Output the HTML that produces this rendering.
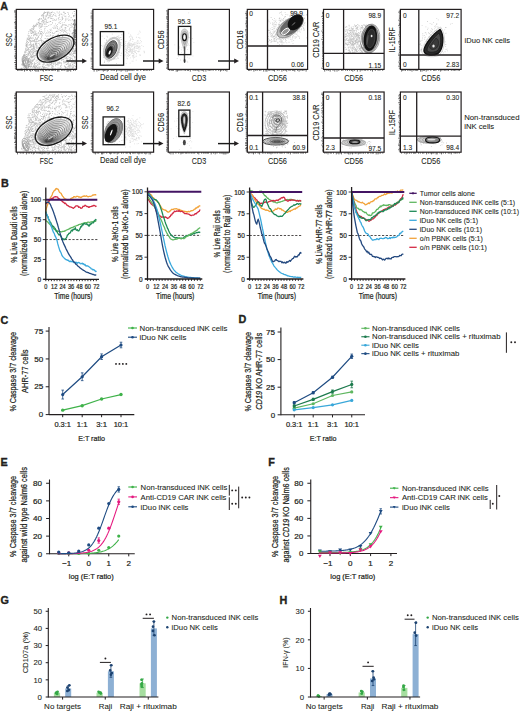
<!DOCTYPE html>
<html><head><meta charset="utf-8"><title>Figure</title>
<style>html,body{margin:0;padding:0;background:#fff;width:520px;height:711px;overflow:hidden}svg{display:block}text{stroke:#231f20;stroke-width:0.08px}text.c{stroke-width:0.22px}text.L{stroke-width:0.35px}</style>
</head><body>
<svg width="520" height="711" viewBox="0 0 520 711" font-family='"Liberation Sans", sans-serif' fill="#231f20"><defs><clipPath id="c00"><rect x="16.8" y="9.9" width="59.2" height="59"/></clipPath><clipPath id="c10"><rect x="16.8" y="92.5" width="59.2" height="59.2"/></clipPath></defs><rect width="520" height="711" fill="#fff"/><text class="L" x="0.3" y="9.8" font-size="10.8" font-weight="bold">A</text>
<path d="M47.33 13.54h0.8v0.8h-0.8zM42.58 58.53h0.8v0.8h-0.8zM30.08 50.18h0.8v0.8h-0.8zM36.27 44.78h0.8v0.8h-0.8zM32.26 44.14h0.8v0.8h-0.8zM68.36 52.98h0.8v0.8h-0.8zM36.25 51.03h0.8v0.8h-0.8zM40.66 61.07h0.8v0.8h-0.8zM65.16 60.65h0.8v0.8h-0.8zM73.08 20h0.8v0.8h-0.8zM46.04 44.98h0.8v0.8h-0.8zM40.74 34.14h0.8v0.8h-0.8zM54.58 14.95h0.8v0.8h-0.8zM53.42 19.87h0.8v0.8h-0.8zM38.17 32.16h0.8v0.8h-0.8zM66.86 68.01h0.8v0.8h-0.8zM45.98 16.3h0.8v0.8h-0.8zM72.7 41.51h0.8v0.8h-0.8zM49.37 12.94h0.8v0.8h-0.8zM33.24 32.3h0.8v0.8h-0.8zM65.11 53.57h0.8v0.8h-0.8zM47.91 31.67h0.8v0.8h-0.8zM72.93 32.18h0.8v0.8h-0.8zM59.76 21.09h0.8v0.8h-0.8zM26.95 62.98h0.8v0.8h-0.8zM35.06 25.11h0.8v0.8h-0.8zM33.14 35.28h0.8v0.8h-0.8zM51.67 62.94h0.8v0.8h-0.8zM48.24 12.47h0.8v0.8h-0.8zM59.78 43.12h0.8v0.8h-0.8zM72.25 59.28h0.8v0.8h-0.8zM63.14 62.53h0.8v0.8h-0.8zM59.26 49.03h0.8v0.8h-0.8zM68.8 66.55h0.8v0.8h-0.8zM74.92 58.85h0.8v0.8h-0.8zM42.98 40.79h0.8v0.8h-0.8zM29.5 29.56h0.8v0.8h-0.8zM43.49 12.43h0.8v0.8h-0.8zM53.99 40.6h0.8v0.8h-0.8zM57.67 35.64h0.8v0.8h-0.8zM23.09 60.21h0.8v0.8h-0.8zM49.94 64.22h0.8v0.8h-0.8zM29.84 29.18h0.8v0.8h-0.8zM28.48 31.18h0.8v0.8h-0.8zM60.23 42.81h0.8v0.8h-0.8zM45.46 64.67h0.8v0.8h-0.8zM57.64 67.4h0.8v0.8h-0.8zM41.45 31.21h0.8v0.8h-0.8zM60.68 25.97h0.8v0.8h-0.8zM23.13 59.35h0.8v0.8h-0.8zM56.66 27.47h0.8v0.8h-0.8zM35.06 37.59h0.8v0.8h-0.8zM73.93 42.58h0.8v0.8h-0.8zM45.45 40.06h0.8v0.8h-0.8zM47.17 11.68h0.8v0.8h-0.8zM35.7 24.67h0.8v0.8h-0.8zM59.25 61.51h0.8v0.8h-0.8zM36.95 67.53h0.8v0.8h-0.8zM59.72 48.06h0.8v0.8h-0.8zM60.28 57.7h0.8v0.8h-0.8zM24.3 59.04h0.8v0.8h-0.8zM33.49 52.97h0.8v0.8h-0.8zM60.62 67.02h0.8v0.8h-0.8zM32.83 53.76h0.8v0.8h-0.8zM50.78 12.11h0.8v0.8h-0.8zM44.88 37.98h0.8v0.8h-0.8zM65.2 66.58h0.8v0.8h-0.8zM25.89 58.15h0.8v0.8h-0.8zM69.03 51.49h0.8v0.8h-0.8zM69.65 39.11h0.8v0.8h-0.8zM44.08 28.61h0.8v0.8h-0.8zM59.08 62.79h0.8v0.8h-0.8zM24.12 58.98h0.8v0.8h-0.8zM47.53 22.22h0.8v0.8h-0.8zM49.72 52.42h0.8v0.8h-0.8zM55.16 27.71h0.8v0.8h-0.8zM35.51 43.17h0.8v0.8h-0.8zM30.19 63.04h0.8v0.8h-0.8zM44.04 19.36h0.8v0.8h-0.8zM54.31 60.58h0.8v0.8h-0.8zM33.8 25.56h0.8v0.8h-0.8zM68.23 12.64h0.8v0.8h-0.8zM58.88 62.45h0.8v0.8h-0.8zM51.89 11.41h0.8v0.8h-0.8zM73.91 25.56h0.8v0.8h-0.8zM27.13 41.17h0.8v0.8h-0.8zM31.6 63.84h0.8v0.8h-0.8zM32.7 47.67h0.8v0.8h-0.8zM48.3 44.62h0.8v0.8h-0.8zM31.09 45.66h0.8v0.8h-0.8zM55.17 61.78h0.8v0.8h-0.8zM73.25 51.57h0.8v0.8h-0.8zM56.88 35.34h0.8v0.8h-0.8zM56.47 64.13h0.8v0.8h-0.8zM42.36 50.31h0.8v0.8h-0.8zM30.04 66.68h0.8v0.8h-0.8zM65.2 24.56h0.8v0.8h-0.8zM46.66 22.08h0.8v0.8h-0.8zM30.48 66.92h0.8v0.8h-0.8zM39.96 32.71h0.8v0.8h-0.8zM25.38 66.36h0.8v0.8h-0.8zM43.04 14.21h0.8v0.8h-0.8zM39.62 63.81h0.8v0.8h-0.8zM39.14 62.53h0.8v0.8h-0.8zM21.88 63.84h0.8v0.8h-0.8zM61.04 62.62h0.8v0.8h-0.8zM33.88 65.99h0.8v0.8h-0.8zM33.3 52.25h0.8v0.8h-0.8zM72.25 12.78h0.8v0.8h-0.8zM40.41 25.71h0.8v0.8h-0.8zM46.53 64.3h0.8v0.8h-0.8zM62.5 46.01h0.8v0.8h-0.8zM61.37 25.5h0.8v0.8h-0.8zM74.8 26.5h0.8v0.8h-0.8zM58.9 36.88h0.8v0.8h-0.8zM25.23 59.33h0.8v0.8h-0.8zM68.87 44.36h0.8v0.8h-0.8zM40.96 67.97h0.8v0.8h-0.8zM31.53 57.48h0.8v0.8h-0.8zM39.59 60.77h0.8v0.8h-0.8zM32.88 45.57h0.8v0.8h-0.8zM37.02 50.06h0.8v0.8h-0.8zM49.65 15.01h0.8v0.8h-0.8zM58.08 34.76h0.8v0.8h-0.8zM35.89 65.73h0.8v0.8h-0.8zM67.73 68.21h0.8v0.8h-0.8zM29.58 52.9h0.8v0.8h-0.8zM42.54 58.16h0.8v0.8h-0.8zM68.8 37.67h0.8v0.8h-0.8zM54.95 63.26h0.8v0.8h-0.8zM48.11 64.15h0.8v0.8h-0.8zM72.24 67.01h0.8v0.8h-0.8zM21.35 64.19h0.8v0.8h-0.8zM27.47 56.19h0.8v0.8h-0.8zM41.17 40.92h0.8v0.8h-0.8zM59.76 62.55h0.8v0.8h-0.8zM50.47 54.58h0.8v0.8h-0.8zM49.76 47.14h0.8v0.8h-0.8zM42.33 44.61h0.8v0.8h-0.8zM62.91 37.52h0.8v0.8h-0.8zM45.37 17.5h0.8v0.8h-0.8zM42.93 16.63h0.8v0.8h-0.8zM62.78 40.55h0.8v0.8h-0.8zM60.18 57.85h0.8v0.8h-0.8zM34.03 57.89h0.8v0.8h-0.8zM47.03 63.83h0.8v0.8h-0.8zM33.34 40.24h0.8v0.8h-0.8zM27.52 64.78h0.8v0.8h-0.8zM24.28 68h0.8v0.8h-0.8zM40.85 56.87h0.8v0.8h-0.8zM74.96 44.31h0.8v0.8h-0.8zM62.04 36.61h0.8v0.8h-0.8zM51.81 49.23h0.8v0.8h-0.8zM26.84 46.51h0.8v0.8h-0.8zM47.63 62.45h0.8v0.8h-0.8zM31.3 48.63h0.8v0.8h-0.8zM31.13 44.66h0.8v0.8h-0.8zM29.98 46.96h0.8v0.8h-0.8zM26.01 64.79h0.8v0.8h-0.8zM41.29 26.46h0.8v0.8h-0.8zM55.19 43.45h0.8v0.8h-0.8zM41.52 24.95h0.8v0.8h-0.8zM72.12 19.51h0.8v0.8h-0.8zM44.18 24.28h0.8v0.8h-0.8zM66.65 51.97h0.8v0.8h-0.8zM58.2 60.28h0.8v0.8h-0.8zM59.75 43.91h0.8v0.8h-0.8zM30.42 46.89h0.8v0.8h-0.8zM70.4 19.64h0.8v0.8h-0.8zM24.4 64.35h0.8v0.8h-0.8zM70.6 65.23h0.8v0.8h-0.8zM54.42 27.78h0.8v0.8h-0.8zM23.9 54.57h0.8v0.8h-0.8zM36.55 35.55h0.8v0.8h-0.8zM43.26 55.46h0.8v0.8h-0.8zM58.61 42.06h0.8v0.8h-0.8zM46.41 56.82h0.8v0.8h-0.8zM33.2 65.2h0.8v0.8h-0.8zM30.58 51.27h0.8v0.8h-0.8zM22.93 56.31h0.8v0.8h-0.8zM63.31 47.19h0.8v0.8h-0.8zM23.23 62.04h0.8v0.8h-0.8zM27.18 59.46h0.8v0.8h-0.8zM62.54 44.41h0.8v0.8h-0.8zM44.73 61.85h0.8v0.8h-0.8zM58.52 59.49h0.8v0.8h-0.8zM36.98 41.16h0.8v0.8h-0.8zM26.41 45.81h0.8v0.8h-0.8zM60.68 63.16h0.8v0.8h-0.8zM51.13 54.1h0.8v0.8h-0.8zM36.2 47.21h0.8v0.8h-0.8zM44.34 46.83h0.8v0.8h-0.8zM56.92 64.42h0.8v0.8h-0.8zM55.74 55.76h0.8v0.8h-0.8zM46.32 66.95h0.8v0.8h-0.8zM72.1 41h0.8v0.8h-0.8zM30.32 50.41h0.8v0.8h-0.8zM33.99 34.18h0.8v0.8h-0.8zM38.44 26.51h0.8v0.8h-0.8zM60.71 64.98h0.8v0.8h-0.8zM30.82 57.08h0.8v0.8h-0.8zM45.14 43.44h0.8v0.8h-0.8zM65.13 57.92h0.8v0.8h-0.8zM35.14 42.65h0.8v0.8h-0.8zM33.6 32.84h0.8v0.8h-0.8zM42.67 22h0.8v0.8h-0.8zM59.59 27.43h0.8v0.8h-0.8zM35.56 38.73h0.8v0.8h-0.8zM54.75 48.98h0.8v0.8h-0.8zM71.42 60.1h0.8v0.8h-0.8zM26.33 58.79h0.8v0.8h-0.8zM72.74 48.79h0.8v0.8h-0.8zM31.66 55.65h0.8v0.8h-0.8zM27.03 62.93h0.8v0.8h-0.8zM27.9 62.19h0.8v0.8h-0.8zM63.38 59.21h0.8v0.8h-0.8zM43.39 61.71h0.8v0.8h-0.8zM33.43 24.75h0.8v0.8h-0.8zM46.5 14.73h0.8v0.8h-0.8zM26.56 39.41h0.8v0.8h-0.8zM49.16 60.58h0.8v0.8h-0.8zM56.36 59.31h0.8v0.8h-0.8zM42.26 66.15h0.8v0.8h-0.8zM54.74 47.66h0.8v0.8h-0.8zM37.2 67.36h0.8v0.8h-0.8zM46.02 62.56h0.8v0.8h-0.8zM59.38 47.04h0.8v0.8h-0.8zM48.36 55.32h0.8v0.8h-0.8zM41.39 40.11h0.8v0.8h-0.8zM68.96 42.49h0.8v0.8h-0.8zM29.16 63.92h0.8v0.8h-0.8zM30.46 49.42h0.8v0.8h-0.8zM61.92 17.18h0.8v0.8h-0.8zM70.59 48.78h0.8v0.8h-0.8zM33.06 28.62h0.8v0.8h-0.8zM43.84 12.21h0.8v0.8h-0.8zM45.5 34.91h0.8v0.8h-0.8zM55.17 23.5h0.8v0.8h-0.8zM23.34 60.96h0.8v0.8h-0.8zM32.16 53.21h0.8v0.8h-0.8zM32.83 66.37h0.8v0.8h-0.8zM55.52 57.99h0.8v0.8h-0.8zM36.09 52.98h0.8v0.8h-0.8zM67.55 39.12h0.8v0.8h-0.8zM39.32 44.17h0.8v0.8h-0.8zM65.85 45.66h0.8v0.8h-0.8zM42.81 62.02h0.8v0.8h-0.8zM64.49 27.55h0.8v0.8h-0.8zM33.35 35.48h0.8v0.8h-0.8zM64.97 61.98h0.8v0.8h-0.8zM49.97 56.85h0.8v0.8h-0.8zM61.21 64.51h0.8v0.8h-0.8zM61.26 56.52h0.8v0.8h-0.8zM23.32 57.37h0.8v0.8h-0.8zM52.01 22.18h0.8v0.8h-0.8zM28.64 51.36h0.8v0.8h-0.8zM75.34 32.72h0.8v0.8h-0.8zM54.49 56.28h0.8v0.8h-0.8zM74.95 60.77h0.8v0.8h-0.8zM65.14 66.32h0.8v0.8h-0.8zM33.01 43.58h0.8v0.8h-0.8zM73.01 49.57h0.8v0.8h-0.8zM75.03 24.04h0.8v0.8h-0.8zM70.04 59.12h0.8v0.8h-0.8zM74.67 14.58h0.8v0.8h-0.8zM45.83 21.01h0.8v0.8h-0.8zM26.49 50.03h0.8v0.8h-0.8zM59.33 22.52h0.8v0.8h-0.8zM67.88 62.06h0.8v0.8h-0.8zM37.74 58.31h0.8v0.8h-0.8zM54.23 19.54h0.8v0.8h-0.8zM33.54 34.87h0.8v0.8h-0.8zM33.81 59.26h0.8v0.8h-0.8zM27.9 39.39h0.8v0.8h-0.8zM34.67 26.09h0.8v0.8h-0.8zM35.09 67.18h0.8v0.8h-0.8zM64.46 30.83h0.8v0.8h-0.8zM62.37 51.96h0.8v0.8h-0.8zM53.11 39.64h0.8v0.8h-0.8zM30.09 46.31h0.8v0.8h-0.8zM64.72 44.63h0.8v0.8h-0.8zM41.64 52.53h0.8v0.8h-0.8zM67.75 39.5h0.8v0.8h-0.8zM65.87 32.32h0.8v0.8h-0.8zM39.53 45.31h0.8v0.8h-0.8zM25.21 52.13h0.8v0.8h-0.8zM40.12 54.23h0.8v0.8h-0.8zM68.22 65.78h0.8v0.8h-0.8zM65.04 13.11h0.8v0.8h-0.8zM58.28 22.52h0.8v0.8h-0.8zM59.32 13.97h0.8v0.8h-0.8zM46.53 39.94h0.8v0.8h-0.8zM26.13 45.13h0.8v0.8h-0.8zM26.72 44.05h0.8v0.8h-0.8zM62.74 30.7h0.8v0.8h-0.8zM73.09 64.66h0.8v0.8h-0.8zM42.45 47.46h0.8v0.8h-0.8zM48.66 15.35h0.8v0.8h-0.8zM47.17 12.59h0.8v0.8h-0.8zM33.5 50.07h0.8v0.8h-0.8zM32.63 41.06h0.8v0.8h-0.8zM72.99 40.69h0.8v0.8h-0.8zM44.98 41.83h0.8v0.8h-0.8zM35.09 34.57h0.8v0.8h-0.8zM50.91 48.47h0.8v0.8h-0.8zM53.35 38.13h0.8v0.8h-0.8zM35.2 55.41h0.8v0.8h-0.8zM22.12 61.06h0.8v0.8h-0.8zM43.46 53.32h0.8v0.8h-0.8zM31.18 66.08h0.8v0.8h-0.8zM66.92 58.21h0.8v0.8h-0.8zM68.22 46.02h0.8v0.8h-0.8zM35.05 33.67h0.8v0.8h-0.8zM26.59 44.2h0.8v0.8h-0.8zM23.33 63.85h0.8v0.8h-0.8zM48.34 17.04h0.8v0.8h-0.8zM68.63 66.37h0.8v0.8h-0.8zM74.27 58.48h0.8v0.8h-0.8zM24.62 62.39h0.8v0.8h-0.8zM42.37 20.31h0.8v0.8h-0.8zM47.56 40.18h0.8v0.8h-0.8zM28.73 47.32h0.8v0.8h-0.8zM38.5 68.04h0.8v0.8h-0.8zM29.55 39.78h0.8v0.8h-0.8zM33.52 48.27h0.8v0.8h-0.8zM61.74 17.48h0.8v0.8h-0.8zM53.36 57.38h0.8v0.8h-0.8zM36.77 52.18h0.8v0.8h-0.8zM23.99 62.92h0.8v0.8h-0.8zM38.26 37.04h0.8v0.8h-0.8zM51.63 66.1h0.8v0.8h-0.8zM53.77 25.61h0.8v0.8h-0.8zM71.54 60.12h0.8v0.8h-0.8zM69.72 57.91h0.8v0.8h-0.8zM52.77 66.12h0.8v0.8h-0.8zM34.93 43.41h0.8v0.8h-0.8zM65.54 31.42h0.8v0.8h-0.8zM56.3 30.86h0.8v0.8h-0.8zM66.14 57.28h0.8v0.8h-0.8zM38.49 52.58h0.8v0.8h-0.8zM25.79 51.67h0.8v0.8h-0.8zM69.76 44.89h0.8v0.8h-0.8zM32.39 46.07h0.8v0.8h-0.8zM36.08 33.63h0.8v0.8h-0.8zM28.43 59.91h0.8v0.8h-0.8zM38.98 39.92h0.8v0.8h-0.8zM56 51.26h0.8v0.8h-0.8zM35.64 33.1h0.8v0.8h-0.8zM36.08 47.78h0.8v0.8h-0.8zM66.02 55.66h0.8v0.8h-0.8zM53.04 14.1h0.8v0.8h-0.8zM24.66 56.51h0.8v0.8h-0.8zM70.61 54.12h0.8v0.8h-0.8zM65.7 27.43h0.8v0.8h-0.8zM54.23 37.21h0.8v0.8h-0.8zM38.77 34.86h0.8v0.8h-0.8zM58.74 49.61h0.8v0.8h-0.8zM32.13 40.78h0.8v0.8h-0.8zM37.38 57.88h0.8v0.8h-0.8zM38.92 23.17h0.8v0.8h-0.8zM58.43 36.94h0.8v0.8h-0.8zM36.86 38.11h0.8v0.8h-0.8zM74.37 43.53h0.8v0.8h-0.8zM46.26 36.15h0.8v0.8h-0.8zM55.63 25.73h0.8v0.8h-0.8zM62.6 59.26h0.8v0.8h-0.8zM65.8 53.71h0.8v0.8h-0.8zM28.86 58.44h0.8v0.8h-0.8zM39.38 42.81h0.8v0.8h-0.8zM65.86 25.04h0.8v0.8h-0.8zM46.58 39.87h0.8v0.8h-0.8zM35.44 44.52h0.8v0.8h-0.8zM73.77 16.51h0.8v0.8h-0.8zM67.22 56.25h0.8v0.8h-0.8zM34.5 49.11h0.8v0.8h-0.8zM43.65 43.51h0.8v0.8h-0.8zM57.12 36.9h0.8v0.8h-0.8zM40.97 17.91h0.8v0.8h-0.8zM69.21 42.64h0.8v0.8h-0.8zM67.62 25.85h0.8v0.8h-0.8zM51.96 15.97h0.8v0.8h-0.8zM50.51 55.57h0.8v0.8h-0.8zM62.7 14.68h0.8v0.8h-0.8zM53.83 61.11h0.8v0.8h-0.8zM70.78 61.03h0.8v0.8h-0.8zM57.23 58.46h0.8v0.8h-0.8zM56.92 25.91h0.8v0.8h-0.8zM24.62 57.04h0.8v0.8h-0.8zM64.09 13.42h0.8v0.8h-0.8zM65.11 50.13h0.8v0.8h-0.8zM30.67 62.36h0.8v0.8h-0.8zM40.49 31.56h0.8v0.8h-0.8zM51.43 30.43h0.8v0.8h-0.8zM44.58 67.62h0.8v0.8h-0.8zM26.64 49.65h0.8v0.8h-0.8zM33.93 39.9h0.8v0.8h-0.8zM54.51 47.57h0.8v0.8h-0.8zM71.99 50.24h0.8v0.8h-0.8zM41.52 14.85h0.8v0.8h-0.8zM36.79 67.74h0.8v0.8h-0.8zM39.31 25.28h0.8v0.8h-0.8zM38.28 19.13h0.8v0.8h-0.8zM50.83 28.64h0.8v0.8h-0.8zM35.95 52.82h0.8v0.8h-0.8zM51.67 15.96h0.8v0.8h-0.8zM51.5 67.69h0.8v0.8h-0.8zM33.63 51.55h0.8v0.8h-0.8zM67.72 48.34h0.8v0.8h-0.8zM60.28 66.3h0.8v0.8h-0.8zM22.84 57.54h0.8v0.8h-0.8zM37.81 19.19h0.8v0.8h-0.8zM61.16 48.39h0.8v0.8h-0.8zM57.14 30.65h0.8v0.8h-0.8zM42 13.99h0.8v0.8h-0.8zM33 37.81h0.8v0.8h-0.8zM59.72 30.16h0.8v0.8h-0.8zM37.22 53.64h0.8v0.8h-0.8zM72.12 18.92h0.8v0.8h-0.8zM39.03 67.8h0.8v0.8h-0.8zM61.58 16.52h0.8v0.8h-0.8zM47.01 43.05h0.8v0.8h-0.8zM72.05 32.24h0.8v0.8h-0.8zM46.84 47.66h0.8v0.8h-0.8zM64.09 37.63h0.8v0.8h-0.8zM41.29 60.65h0.8v0.8h-0.8zM72.35 47.15h0.8v0.8h-0.8zM32.71 26.35h0.8v0.8h-0.8zM61.72 48.03h0.8v0.8h-0.8zM27.26 60.59h0.8v0.8h-0.8zM34.46 30.3h0.8v0.8h-0.8zM24.68 66.94h0.8v0.8h-0.8zM74.34 13.28h0.8v0.8h-0.8zM63.61 50.7h0.8v0.8h-0.8zM28.54 50.47h0.8v0.8h-0.8zM60.53 39.94h0.8v0.8h-0.8zM68.82 53.09h0.8v0.8h-0.8zM68.3 52.31h0.8v0.8h-0.8zM40.44 33.37h0.8v0.8h-0.8zM26.48 68.31h0.8v0.8h-0.8zM53.07 64.2h0.8v0.8h-0.8zM53.24 32.89h0.8v0.8h-0.8zM36.85 48.23h0.8v0.8h-0.8zM36.35 66.78h0.8v0.8h-0.8zM60.98 60.05h0.8v0.8h-0.8zM52.18 68.1h0.8v0.8h-0.8zM54.31 53.77h0.8v0.8h-0.8zM53.35 50h0.8v0.8h-0.8zM54.27 42.35h0.8v0.8h-0.8zM45.56 24.01h0.8v0.8h-0.8zM48.47 57.76h0.8v0.8h-0.8zM28.16 58.25h0.8v0.8h-0.8zM65.9 58.01h0.8v0.8h-0.8zM75.33 51.02h0.8v0.8h-0.8zM26.87 50.17h0.8v0.8h-0.8zM37.75 33.12h0.8v0.8h-0.8zM29.79 43.92h0.8v0.8h-0.8zM28.51 52.34h0.8v0.8h-0.8zM63.62 46.62h0.8v0.8h-0.8zM39.3 52.01h0.8v0.8h-0.8zM62.34 18.13h0.8v0.8h-0.8zM22.71 58h0.8v0.8h-0.8zM23.35 54.34h0.8v0.8h-0.8zM58.97 38.92h0.8v0.8h-0.8zM34.01 26.35h0.8v0.8h-0.8zM32.89 60.36h0.8v0.8h-0.8zM47.53 35.35h0.8v0.8h-0.8zM67.3 26.05h0.8v0.8h-0.8zM29.76 63.8h0.8v0.8h-0.8zM43.75 61.45h0.8v0.8h-0.8zM43.11 47.84h0.8v0.8h-0.8zM28.61 63.98h0.8v0.8h-0.8zM56.91 28.21h0.8v0.8h-0.8zM23.75 56.1h0.8v0.8h-0.8zM42.02 48.96h0.8v0.8h-0.8zM70.12 50.5h0.8v0.8h-0.8zM35.1 24.66h0.8v0.8h-0.8zM36.53 43.35h0.8v0.8h-0.8zM40.03 47.92h0.8v0.8h-0.8zM49.52 16.73h0.8v0.8h-0.8zM24.84 58.62h0.8v0.8h-0.8zM31.29 64.1h0.8v0.8h-0.8zM52.55 66.54h0.8v0.8h-0.8zM72.32 48.82h0.8v0.8h-0.8zM37.36 37.03h0.8v0.8h-0.8zM25.85 44.35h0.8v0.8h-0.8zM39.73 49.2h0.8v0.8h-0.8zM28.01 65.07h0.8v0.8h-0.8zM66.48 61.19h0.8v0.8h-0.8zM27.68 41.92h0.8v0.8h-0.8zM39.29 22.67h0.8v0.8h-0.8zM32.02 61.08h0.8v0.8h-0.8zM58.96 14.94h0.8v0.8h-0.8zM52.57 67.43h0.8v0.8h-0.8zM37.87 57.6h0.8v0.8h-0.8zM41.86 34.6h0.8v0.8h-0.8zM32.3 53.22h0.8v0.8h-0.8zM75.35 56.52h0.8v0.8h-0.8zM61.28 47.67h0.8v0.8h-0.8zM56.78 53.9h0.8v0.8h-0.8zM63.17 61.04h0.8v0.8h-0.8zM24.93 66.6h0.8v0.8h-0.8zM32.71 59.19h0.8v0.8h-0.8zM29.63 37.5h0.8v0.8h-0.8zM65.53 34.56h0.8v0.8h-0.8zM55.62 59.07h0.8v0.8h-0.8zM44.47 30.52h0.8v0.8h-0.8zM33.8 51.37h0.8v0.8h-0.8zM56.11 57.41h0.8v0.8h-0.8zM73.08 32.06h0.8v0.8h-0.8zM47.29 67.75h0.8v0.8h-0.8zM32.65 31.48h0.8v0.8h-0.8zM49.91 60.55h0.8v0.8h-0.8zM43.7 66h0.8v0.8h-0.8zM56.12 47.42h0.8v0.8h-0.8zM26.14 65.72h0.8v0.8h-0.8zM26.57 44.89h0.8v0.8h-0.8zM61.05 47.97h0.8v0.8h-0.8zM64.34 49.96h0.8v0.8h-0.8zM38.16 19.37h0.8v0.8h-0.8zM43.37 17.58h0.8v0.8h-0.8zM54.74 55.78h0.8v0.8h-0.8zM27 54.55h0.8v0.8h-0.8zM33.16 55.37h0.8v0.8h-0.8zM65.58 43.69h0.8v0.8h-0.8zM72.06 26.53h0.8v0.8h-0.8zM61.41 50.05h0.8v0.8h-0.8zM57.88 55.55h0.8v0.8h-0.8zM72.09 53.72h0.8v0.8h-0.8zM40.76 57.33h0.8v0.8h-0.8zM28.92 61.08h0.8v0.8h-0.8zM55.41 61.48h0.8v0.8h-0.8zM52.81 58.38h0.8v0.8h-0.8zM74.06 57.12h0.8v0.8h-0.8zM54.29 19.31h0.8v0.8h-0.8zM50.04 57.42h0.8v0.8h-0.8zM65.63 17.7h0.8v0.8h-0.8zM30.25 59.25h0.8v0.8h-0.8zM42.55 14.99h0.8v0.8h-0.8zM59.74 44.74h0.8v0.8h-0.8zM47.59 44.96h0.8v0.8h-0.8zM57.35 51.78h0.8v0.8h-0.8zM37.84 22.23h0.8v0.8h-0.8zM29.61 51.51h0.8v0.8h-0.8zM59.6 47.32h0.8v0.8h-0.8zM38.63 20.73h0.8v0.8h-0.8zM75.01 28.83h0.8v0.8h-0.8zM64.32 37.34h0.8v0.8h-0.8zM70.45 56.7h0.8v0.8h-0.8zM65.31 18.71h0.8v0.8h-0.8zM50.53 40.35h0.8v0.8h-0.8zM30.54 44.76h0.8v0.8h-0.8zM63.26 37.83h0.8v0.8h-0.8zM69.15 41.85h0.8v0.8h-0.8zM46.02 47.85h0.8v0.8h-0.8zM32.22 63.03h0.8v0.8h-0.8zM58.74 36.46h0.8v0.8h-0.8zM32.02 48.42h0.8v0.8h-0.8zM52.57 14.98h0.8v0.8h-0.8zM60.72 13.58h0.8v0.8h-0.8zM74.14 57.16h0.8v0.8h-0.8zM24.24 66.87h0.8v0.8h-0.8zM28.99 57.4h0.8v0.8h-0.8zM69.19 63.63h0.8v0.8h-0.8zM64.03 15.82h0.8v0.8h-0.8zM64.72 37.51h0.8v0.8h-0.8zM24.61 67.06h0.8v0.8h-0.8zM35.62 54.86h0.8v0.8h-0.8zM24.8 50.87h0.8v0.8h-0.8zM66.19 52.25h0.8v0.8h-0.8zM57.25 59.85h0.8v0.8h-0.8zM43.57 51.67h0.8v0.8h-0.8zM35.49 31.26h0.8v0.8h-0.8zM61.35 27.03h0.8v0.8h-0.8zM24.3 58.45h0.8v0.8h-0.8zM73.64 16.51h0.8v0.8h-0.8zM34.74 63.07h0.8v0.8h-0.8zM28.38 36.37h0.8v0.8h-0.8zM32.51 26.06h0.8v0.8h-0.8zM38.98 19.51h0.8v0.8h-0.8zM33.94 55.26h0.8v0.8h-0.8zM41.69 50.7h0.8v0.8h-0.8zM37.88 58.84h0.8v0.8h-0.8zM64.22 49.63h0.8v0.8h-0.8zM51.88 49.09h0.8v0.8h-0.8zM50.88 24.13h0.8v0.8h-0.8zM25.74 66.3h0.8v0.8h-0.8zM32.69 32.28h0.8v0.8h-0.8zM62.05 24.17h0.8v0.8h-0.8zM30.83 33.3h0.8v0.8h-0.8zM66.14 24.78h0.8v0.8h-0.8zM43.37 18h0.8v0.8h-0.8zM59 16.74h0.8v0.8h-0.8zM45.73 21.31h0.8v0.8h-0.8zM43.48 18.14h0.8v0.8h-0.8zM50.03 15.48h0.8v0.8h-0.8zM73.35 60.3h0.8v0.8h-0.8zM72.28 41.32h0.8v0.8h-0.8zM28.06 60.69h0.8v0.8h-0.8zM36.48 23.1h0.8v0.8h-0.8zM45.85 21.66h0.8v0.8h-0.8zM55.65 40.74h0.8v0.8h-0.8zM31.69 39.84h0.8v0.8h-0.8zM39.33 62.86h0.8v0.8h-0.8zM41.29 50.11h0.8v0.8h-0.8zM47.57 65.45h0.8v0.8h-0.8zM75.03 46.81h0.8v0.8h-0.8zM36.71 34.6h0.8v0.8h-0.8zM27.57 58.6h0.8v0.8h-0.8zM50.44 51.97h0.8v0.8h-0.8zM73.23 19.9h0.8v0.8h-0.8zM27.88 44.78h0.8v0.8h-0.8zM67.5 65.95h0.8v0.8h-0.8zM72.18 34.64h0.8v0.8h-0.8zM70.63 17.33h0.8v0.8h-0.8zM47.63 18.05h0.8v0.8h-0.8zM69.71 66.26h0.8v0.8h-0.8zM22.65 62.56h0.8v0.8h-0.8zM28.68 50.85h0.8v0.8h-0.8zM31.83 32.28h0.8v0.8h-0.8zM28.61 66.03h0.8v0.8h-0.8zM41.53 35.38h0.8v0.8h-0.8zM51.61 65.12h0.8v0.8h-0.8zM38.64 51.55h0.8v0.8h-0.8zM28.33 38.86h0.8v0.8h-0.8zM51.98 22.7h0.8v0.8h-0.8zM48.89 52.76h0.8v0.8h-0.8zM28.21 51.07h0.8v0.8h-0.8zM58.97 67.67h0.8v0.8h-0.8zM24.83 64.67h0.8v0.8h-0.8zM45.69 26.14h0.8v0.8h-0.8zM29.08 64.35h0.8v0.8h-0.8zM29.24 51.74h0.8v0.8h-0.8zM63.56 24.58h0.8v0.8h-0.8zM56.25 43.61h0.8v0.8h-0.8zM29.32 44.6h0.8v0.8h-0.8zM30.94 27.98h0.8v0.8h-0.8zM30.01 29.13h0.8v0.8h-0.8zM68.48 37.72h0.8v0.8h-0.8zM48.57 55.6h0.8v0.8h-0.8zM30.99 29.54h0.8v0.8h-0.8zM59.05 55.31h0.8v0.8h-0.8zM54.73 27.28h0.8v0.8h-0.8zM74.42 63.25h0.8v0.8h-0.8zM44.95 46.7h0.8v0.8h-0.8zM62.39 36.33h0.8v0.8h-0.8zM62.23 19.1h0.8v0.8h-0.8zM48.72 58.89h0.8v0.8h-0.8zM28.23 55h0.8v0.8h-0.8zM32.19 66.79h0.8v0.8h-0.8zM59.26 53.24h0.8v0.8h-0.8zM29.38 66.02h0.8v0.8h-0.8zM64.83 30.71h0.8v0.8h-0.8zM26.8 60.11h0.8v0.8h-0.8zM28.18 53.85h0.8v0.8h-0.8zM67.67 44.17h0.8v0.8h-0.8zM39.73 31.51h0.8v0.8h-0.8zM69.05 54.47h0.8v0.8h-0.8zM32.78 48.79h0.8v0.8h-0.8zM37.54 58.17h0.8v0.8h-0.8zM26.26 64.88h0.8v0.8h-0.8zM57.02 48.59h0.8v0.8h-0.8zM63.86 24.34h0.8v0.8h-0.8zM29.65 37.74h0.8v0.8h-0.8zM64.2 65.78h0.8v0.8h-0.8zM54.47 62.4h0.8v0.8h-0.8zM69.76 53.22h0.8v0.8h-0.8zM68.29 44.08h0.8v0.8h-0.8zM51.9 58.67h0.8v0.8h-0.8zM25.44 63.52h0.8v0.8h-0.8zM42.86 16.66h0.8v0.8h-0.8zM65.23 56.37h0.8v0.8h-0.8zM37.12 53.14h0.8v0.8h-0.8zM50.39 56.73h0.8v0.8h-0.8zM33.12 27.13h0.8v0.8h-0.8zM47.66 38.09h0.8v0.8h-0.8zM59.31 54.06h0.8v0.8h-0.8zM32.92 40.85h0.8v0.8h-0.8zM52.79 62.94h0.8v0.8h-0.8zM59.03 51.9h0.8v0.8h-0.8zM66.25 64.13h0.8v0.8h-0.8zM72.3 36.63h0.8v0.8h-0.8zM54.83 68.26h0.8v0.8h-0.8zM62.15 25.37h0.8v0.8h-0.8zM27.52 34.78h0.8v0.8h-0.8zM43.46 66.86h0.8v0.8h-0.8zM72.34 38.27h0.8v0.8h-0.8zM52.16 19.65h0.8v0.8h-0.8zM60.34 65.51h0.8v0.8h-0.8zM52.05 50h0.8v0.8h-0.8zM69.64 57.03h0.8v0.8h-0.8zM36.79 38.74h0.8v0.8h-0.8zM39.09 62.42h0.8v0.8h-0.8zM53.14 56.2h0.8v0.8h-0.8zM39.49 33.5h0.8v0.8h-0.8zM70.52 42.12h0.8v0.8h-0.8zM37.31 58.22h0.8v0.8h-0.8zM57.77 12.64h0.8v0.8h-0.8zM23.42 64.13h0.8v0.8h-0.8zM58.81 47.32h0.8v0.8h-0.8zM38.93 67.2h0.8v0.8h-0.8zM40.66 25.84h0.8v0.8h-0.8zM68.71 45.66h0.8v0.8h-0.8zM70.63 43.37h0.8v0.8h-0.8zM28.31 33.25h0.8v0.8h-0.8zM63.26 40.75h0.8v0.8h-0.8zM50.9 52.92h0.8v0.8h-0.8zM33.3 46.22h0.8v0.8h-0.8zM67.36 39.26h0.8v0.8h-0.8zM51.09 63.11h0.8v0.8h-0.8zM42.74 64.6h0.8v0.8h-0.8zM24.8 61.06h0.8v0.8h-0.8zM72.24 68.28h0.8v0.8h-0.8zM44.4 60.62h0.8v0.8h-0.8zM72.64 38.35h0.8v0.8h-0.8zM21.36 67.73h0.8v0.8h-0.8zM23.27 59.93h0.8v0.8h-0.8zM37.93 64.57h0.8v0.8h-0.8zM26.12 57.84h0.8v0.8h-0.8zM28.94 39.91h0.8v0.8h-0.8zM27.67 64.4h0.8v0.8h-0.8zM30.95 63.07h0.8v0.8h-0.8zM48.79 60.13h0.8v0.8h-0.8zM23.92 63.48h0.8v0.8h-0.8zM57.31 53.85h0.8v0.8h-0.8zM50 34.49h0.8v0.8h-0.8zM27.57 61.91h0.8v0.8h-0.8zM73.2 67.35h0.8v0.8h-0.8zM51.61 66.51h0.8v0.8h-0.8zM49.62 29.29h0.8v0.8h-0.8zM34.56 47.28h0.8v0.8h-0.8zM72.54 50.47h0.8v0.8h-0.8zM67.64 49.58h0.8v0.8h-0.8zM32.27 66.85h0.8v0.8h-0.8zM30.07 40.33h0.8v0.8h-0.8zM59.09 11.5h0.8v0.8h-0.8zM42.7 66.64h0.8v0.8h-0.8zM50.82 11.9h0.8v0.8h-0.8zM28.55 58.84h0.8v0.8h-0.8zM41.47 51.15h0.8v0.8h-0.8zM65.8 67.33h0.8v0.8h-0.8zM60.99 26.81h0.8v0.8h-0.8zM75.15 68.03h0.8v0.8h-0.8zM51.96 57.05h0.8v0.8h-0.8zM41.91 42.38h0.8v0.8h-0.8zM31.84 54.54h0.8v0.8h-0.8zM65.43 25.16h0.8v0.8h-0.8zM71.13 45.83h0.8v0.8h-0.8zM55.41 35.54h0.8v0.8h-0.8zM47.6 64.79h0.8v0.8h-0.8zM42.83 20.86h0.8v0.8h-0.8zM25.3 59.71h0.8v0.8h-0.8zM27.26 47.04h0.8v0.8h-0.8zM47.29 30.51h0.8v0.8h-0.8zM27.91 49.57h0.8v0.8h-0.8zM41.09 22.71h0.8v0.8h-0.8zM57.62 68.05h0.8v0.8h-0.8zM33.53 49.63h0.8v0.8h-0.8zM41.22 50.64h0.8v0.8h-0.8zM46.65 57.5h0.8v0.8h-0.8zM71.72 57.83h0.8v0.8h-0.8zM25.57 50.49h0.8v0.8h-0.8zM51.37 67.05h0.8v0.8h-0.8zM59.21 57.05h0.8v0.8h-0.8zM51.65 52.61h0.8v0.8h-0.8zM34.14 67.16h0.8v0.8h-0.8zM27.19 61.11h0.8v0.8h-0.8zM56.71 11.61h0.8v0.8h-0.8zM55.14 65.43h0.8v0.8h-0.8zM29.54 40.97h0.8v0.8h-0.8zM34.08 55.29h0.8v0.8h-0.8zM62.97 40.89h0.8v0.8h-0.8zM30.48 37.17h0.8v0.8h-0.8zM60.25 23.22h0.8v0.8h-0.8zM54.64 50.93h0.8v0.8h-0.8zM24.51 56.75h0.8v0.8h-0.8zM46.19 32.45h0.8v0.8h-0.8zM66.85 60.86h0.8v0.8h-0.8zM40.61 33.02h0.8v0.8h-0.8zM39.57 54.79h0.8v0.8h-0.8zM57.17 47h0.8v0.8h-0.8zM53.25 28.15h0.8v0.8h-0.8zM67.23 63.23h0.8v0.8h-0.8zM51.82 44.15h0.8v0.8h-0.8zM36.11 35.14h0.8v0.8h-0.8zM32.05 60.23h0.8v0.8h-0.8zM51.89 32.9h0.8v0.8h-0.8zM63.85 57.6h0.8v0.8h-0.8zM34.85 51.41h0.8v0.8h-0.8zM30.28 61.42h0.8v0.8h-0.8zM37.49 46.44h0.8v0.8h-0.8zM72.94 32.45h0.8v0.8h-0.8zM55.85 41.72h0.8v0.8h-0.8zM37.09 59.57h0.8v0.8h-0.8zM42.18 65.94h0.8v0.8h-0.8zM31.61 56.43h0.8v0.8h-0.8zM46.73 38.32h0.8v0.8h-0.8zM28.2 48.18h0.8v0.8h-0.8zM33.1 48.14h0.8v0.8h-0.8zM36.26 42.79h0.8v0.8h-0.8zM45.95 46.55h0.8v0.8h-0.8zM35.96 50.08h0.8v0.8h-0.8zM50.71 54.33h0.8v0.8h-0.8zM73.9 52.9h0.8v0.8h-0.8zM48.77 60.56h0.8v0.8h-0.8zM69.7 30.71h0.8v0.8h-0.8zM43.48 56.76h0.8v0.8h-0.8zM44.84 56.21h0.8v0.8h-0.8zM29.55 65.91h0.8v0.8h-0.8zM60.91 58.78h0.8v0.8h-0.8zM58.06 33.98h0.8v0.8h-0.8zM30.73 65.78h0.8v0.8h-0.8zM47.46 39.97h0.8v0.8h-0.8zM38.72 23.35h0.8v0.8h-0.8zM60.18 48.91h0.8v0.8h-0.8zM29.62 52.58h0.8v0.8h-0.8zM32.82 58.75h0.8v0.8h-0.8zM52.71 47.08h0.8v0.8h-0.8zM41.86 40.44h0.8v0.8h-0.8zM30.95 60.79h0.8v0.8h-0.8zM30.75 55.92h0.8v0.8h-0.8zM68.09 14.28h0.8v0.8h-0.8zM32.62 28.51h0.8v0.8h-0.8zM24.49 51.14h0.8v0.8h-0.8zM75.26 23.31h0.8v0.8h-0.8zM40.75 29.21h0.8v0.8h-0.8zM45.53 21.56h0.8v0.8h-0.8zM68.67 67.16h0.8v0.8h-0.8zM45.18 18.87h0.8v0.8h-0.8zM59.07 52.91h0.8v0.8h-0.8zM36.89 45.44h0.8v0.8h-0.8zM25.63 49.61h0.8v0.8h-0.8zM22.2 64.77h0.8v0.8h-0.8zM59.72 32.42h0.8v0.8h-0.8zM40.89 39.98h0.8v0.8h-0.8zM35.47 66.53h0.8v0.8h-0.8zM40.79 54.45h0.8v0.8h-0.8zM43.98 61.21h0.8v0.8h-0.8zM43.5 54.88h0.8v0.8h-0.8zM27.03 41h0.8v0.8h-0.8zM71.98 62.55h0.8v0.8h-0.8zM50.38 35.13h0.8v0.8h-0.8zM43.72 63.59h0.8v0.8h-0.8zM51.83 51.89h0.8v0.8h-0.8zM42.14 25.76h0.8v0.8h-0.8zM23.88 65.24h0.8v0.8h-0.8zM52.49 60.61h0.8v0.8h-0.8zM51.91 52.5h0.8v0.8h-0.8zM34.41 44.78h0.8v0.8h-0.8zM34.02 48.02h0.8v0.8h-0.8zM64.13 39.66h0.8v0.8h-0.8zM47.12 52.41h0.8v0.8h-0.8zM41.88 62.28h0.8v0.8h-0.8zM22.85 60.61h0.8v0.8h-0.8zM33.12 46.52h0.8v0.8h-0.8zM44.76 52.07h0.8v0.8h-0.8zM55.45 50.58h0.8v0.8h-0.8zM29.23 66.13h0.8v0.8h-0.8zM60.65 48.46h0.8v0.8h-0.8zM50.88 40.78h0.8v0.8h-0.8zM32.07 53.74h0.8v0.8h-0.8zM33.61 56.28h0.8v0.8h-0.8zM37.12 59.78h0.8v0.8h-0.8zM33.6 33.9h0.8v0.8h-0.8zM43.21 33.05h0.8v0.8h-0.8zM67.58 32.78h0.8v0.8h-0.8zM25.43 59.74h0.8v0.8h-0.8zM49.75 57.73h0.8v0.8h-0.8zM29.24 51.77h0.8v0.8h-0.8zM36.95 64.29h0.8v0.8h-0.8zM53.74 57.51h0.8v0.8h-0.8zM57.41 62.28h0.8v0.8h-0.8zM28.22 66.79h0.8v0.8h-0.8zM41.87 65.8h0.8v0.8h-0.8zM31.9 28.78h0.8v0.8h-0.8zM29.89 30.53h0.8v0.8h-0.8zM51.5 12.11h0.8v0.8h-0.8zM33.27 46.78h0.8v0.8h-0.8zM64.08 45.5h0.8v0.8h-0.8zM65.55 62.42h0.8v0.8h-0.8zM61.84 46.54h0.8v0.8h-0.8zM49.36 64.32h0.8v0.8h-0.8zM31.25 51.57h0.8v0.8h-0.8zM32.44 40.81h0.8v0.8h-0.8zM38.1 57.19h0.8v0.8h-0.8zM46.5 64.77h0.8v0.8h-0.8zM35.67 51.34h0.8v0.8h-0.8zM25.27 57.08h0.8v0.8h-0.8zM26.49 58.17h0.8v0.8h-0.8zM30.7 64.96h0.8v0.8h-0.8zM67.91 58.48h0.8v0.8h-0.8zM65.92 67.53h0.8v0.8h-0.8zM66 63.9h0.8v0.8h-0.8zM62.13 28.86h0.8v0.8h-0.8zM34.42 55.38h0.8v0.8h-0.8zM64.94 20.5h0.8v0.8h-0.8zM38.26 61.55h0.8v0.8h-0.8zM56.26 61.19h0.8v0.8h-0.8zM44.02 13.17h0.8v0.8h-0.8zM32.15 56.36h0.8v0.8h-0.8zM30.55 29.94h0.8v0.8h-0.8zM32.97 26.14h0.8v0.8h-0.8zM47.01 55.2h0.8v0.8h-0.8zM43.04 67.87h0.8v0.8h-0.8zM39.81 18.44h0.8v0.8h-0.8zM35.9 40.75h0.8v0.8h-0.8zM70.12 64.2h0.8v0.8h-0.8zM54.92 61.13h0.8v0.8h-0.8zM30.52 54.29h0.8v0.8h-0.8zM30.96 32.79h0.8v0.8h-0.8zM54.52 32.24h0.8v0.8h-0.8zM28.12 64.93h0.8v0.8h-0.8zM49.35 35.67h0.8v0.8h-0.8zM36.34 39.53h0.8v0.8h-0.8zM74.32 43.5h0.8v0.8h-0.8zM31.82 55.88h0.8v0.8h-0.8zM49.05 41.78h0.8v0.8h-0.8zM65.2 28.61h0.8v0.8h-0.8zM49.95 48.7h0.8v0.8h-0.8zM28.68 57.89h0.8v0.8h-0.8zM52.38 48.68h0.8v0.8h-0.8zM31.49 59.46h0.8v0.8h-0.8zM59.42 28.59h0.8v0.8h-0.8zM38.32 54.76h0.8v0.8h-0.8zM64.94 67.58h0.8v0.8h-0.8zM40.51 55.28h0.8v0.8h-0.8zM30.21 56.09h0.8v0.8h-0.8zM61.52 39.29h0.8v0.8h-0.8zM30.08 41.9h0.8v0.8h-0.8zM38.23 52.98h0.8v0.8h-0.8zM28.19 53.1h0.8v0.8h-0.8zM61.27 19.82h0.8v0.8h-0.8zM32.7 40.75h0.8v0.8h-0.8zM68.87 64.89h0.8v0.8h-0.8zM36.66 22.71h0.8v0.8h-0.8zM69.76 26.92h0.8v0.8h-0.8zM32.6 44.36h0.8v0.8h-0.8zM68.95 46.07h0.8v0.8h-0.8zM71.24 61.96h0.8v0.8h-0.8zM42.62 67.4h0.8v0.8h-0.8zM58.97 13.75h0.8v0.8h-0.8zM67.55 18.61h0.8v0.8h-0.8zM25.01 59.78h0.8v0.8h-0.8zM61.16 45.64h0.8v0.8h-0.8zM41.79 54.19h0.8v0.8h-0.8zM45.27 57.7h0.8v0.8h-0.8zM49.48 12.84h0.8v0.8h-0.8zM22.83 60.38h0.8v0.8h-0.8zM59.92 45.94h0.8v0.8h-0.8zM64.9 27.09h0.8v0.8h-0.8zM71.12 26.82h0.8v0.8h-0.8zM26.12 68.1h0.8v0.8h-0.8zM21.56 68.27h0.8v0.8h-0.8zM46.5 39.4h0.8v0.8h-0.8zM47.6 57.12h0.8v0.8h-0.8zM68.41 35.34h0.8v0.8h-0.8zM31.98 37.61h0.8v0.8h-0.8zM50.9 62.13h0.8v0.8h-0.8zM47.62 67.77h0.8v0.8h-0.8zM35.55 52.96h0.8v0.8h-0.8zM24.4 52.65h0.8v0.8h-0.8zM61.59 44.04h0.8v0.8h-0.8zM52.15 32.32h0.8v0.8h-0.8zM69.36 59.08h0.8v0.8h-0.8zM45.16 33.48h0.8v0.8h-0.8zM74.65 52.16h0.8v0.8h-0.8zM71.65 46.55h0.8v0.8h-0.8zM51.97 35.39h0.8v0.8h-0.8zM71.42 53.03h0.8v0.8h-0.8zM31.4 30.93h0.8v0.8h-0.8zM28.7 52.45h0.8v0.8h-0.8zM72.33 65.65h0.8v0.8h-0.8zM53.95 47.78h0.8v0.8h-0.8zM50.36 21.15h0.8v0.8h-0.8zM53.67 62.74h0.8v0.8h-0.8zM32.87 44.8h0.8v0.8h-0.8zM43.39 63.16h0.8v0.8h-0.8zM30.52 30.34h0.8v0.8h-0.8zM42.64 63.91h0.8v0.8h-0.8zM40.11 26.88h0.8v0.8h-0.8zM44.65 41.42h0.8v0.8h-0.8zM57.28 42.37h0.8v0.8h-0.8zM58.96 36.09h0.8v0.8h-0.8zM65.37 42.75h0.8v0.8h-0.8zM32.52 28h0.8v0.8h-0.8zM61.39 30.85h0.8v0.8h-0.8zM25.01 48.62h0.8v0.8h-0.8zM69.15 28.33h0.8v0.8h-0.8zM55.08 50.26h0.8v0.8h-0.8zM38.32 22.04h0.8v0.8h-0.8zM71.54 25.52h0.8v0.8h-0.8zM28.57 61.23h0.8v0.8h-0.8zM59.88 62.36h0.8v0.8h-0.8zM26.48 45.73h0.8v0.8h-0.8zM66.98 50.68h0.8v0.8h-0.8zM57.56 56.66h0.8v0.8h-0.8zM27.18 48.96h0.8v0.8h-0.8zM41.32 18.63h0.8v0.8h-0.8zM51.05 18.1h0.8v0.8h-0.8zM23.87 61.28h0.8v0.8h-0.8zM41.61 42.08h0.8v0.8h-0.8zM68.7 29.49h0.8v0.8h-0.8zM61.86 50.91h0.8v0.8h-0.8zM44.65 57.69h0.8v0.8h-0.8zM50.06 32.06h0.8v0.8h-0.8zM68.92 57.05h0.8v0.8h-0.8zM41.77 43.17h0.8v0.8h-0.8zM70.91 17.27h0.8v0.8h-0.8zM57.92 64.45h0.8v0.8h-0.8zM69.82 54.01h0.8v0.8h-0.8zM63.07 50.18h0.8v0.8h-0.8zM48.57 66.13h0.8v0.8h-0.8zM59.14 58.33h0.8v0.8h-0.8zM75.16 48.37h0.8v0.8h-0.8zM35.94 45.76h0.8v0.8h-0.8zM65.55 15.69h0.8v0.8h-0.8zM73.14 24.03h0.8v0.8h-0.8zM35.49 49.8h0.8v0.8h-0.8zM57.72 52.11h0.8v0.8h-0.8zM44.83 27.7h0.8v0.8h-0.8zM44.96 46.52h0.8v0.8h-0.8zM64.98 39.24h0.8v0.8h-0.8zM24.72 59.5h0.8v0.8h-0.8zM28.36 66.44h0.8v0.8h-0.8zM72.46 61.39h0.8v0.8h-0.8zM38.23 19.58h0.8v0.8h-0.8zM75.37 56.98h0.8v0.8h-0.8zM43.43 21.95h0.8v0.8h-0.8zM52.13 35.85h0.8v0.8h-0.8zM61.44 45.54h0.8v0.8h-0.8zM58.03 17.54h0.8v0.8h-0.8zM43.42 67.61h0.8v0.8h-0.8zM36.37 38.48h0.8v0.8h-0.8zM41.31 51.32h0.8v0.8h-0.8zM63.85 21.91h0.8v0.8h-0.8zM24.31 53.94h0.8v0.8h-0.8zM39.48 18.71h0.8v0.8h-0.8zM28.94 37.83h0.8v0.8h-0.8zM69.58 68.1h0.8v0.8h-0.8zM37.09 24.1h0.8v0.8h-0.8zM71.49 49.57h0.8v0.8h-0.8zM42.99 12.94h0.8v0.8h-0.8zM41.96 66.12h0.8v0.8h-0.8zM53.76 42.29h0.8v0.8h-0.8zM62.91 11.63h0.8v0.8h-0.8zM36.65 61.68h0.8v0.8h-0.8zM53.17 57.5h0.8v0.8h-0.8zM58.35 19.47h0.8v0.8h-0.8zM48.73 12.53h0.8v0.8h-0.8zM24.68 52.77h0.8v0.8h-0.8zM63.45 56.53h0.8v0.8h-0.8zM66.48 58.67h0.8v0.8h-0.8zM31.72 60.25h0.8v0.8h-0.8zM31.24 29.9h0.8v0.8h-0.8zM25.63 68.25h0.8v0.8h-0.8zM58.49 62h0.8v0.8h-0.8zM41.64 43.72h0.8v0.8h-0.8zM40.88 26.73h0.8v0.8h-0.8zM47.43 14.77h0.8v0.8h-0.8zM63.22 32.28h0.8v0.8h-0.8zM74.38 56.57h0.8v0.8h-0.8zM55.94 18.87h0.8v0.8h-0.8zM46.57 11.75h0.8v0.8h-0.8zM40.16 23.1h0.8v0.8h-0.8zM33.17 25.29h0.8v0.8h-0.8zM42.01 31.91h0.8v0.8h-0.8zM60.53 39.5h0.8v0.8h-0.8zM31.64 62.73h0.8v0.8h-0.8zM50.4 18.09h0.8v0.8h-0.8zM53.78 32.94h0.8v0.8h-0.8zM67.77 62.99h0.8v0.8h-0.8zM29.76 60.42h0.8v0.8h-0.8zM33.18 44.13h0.8v0.8h-0.8zM31.67 33.16h0.8v0.8h-0.8zM63.87 21.91h0.8v0.8h-0.8zM34.2 47.89h0.8v0.8h-0.8zM30.3 41.88h0.8v0.8h-0.8zM69.01 48.8h0.8v0.8h-0.8zM30.83 45.12h0.8v0.8h-0.8zM50.67 45.67h0.8v0.8h-0.8zM30.68 43.8h0.8v0.8h-0.8zM31.53 55.94h0.8v0.8h-0.8zM75.44 57h0.8v0.8h-0.8zM43.87 31.77h0.8v0.8h-0.8zM45.19 41.75h0.8v0.8h-0.8zM48.62 33.54h0.8v0.8h-0.8zM36.57 53.72h0.8v0.8h-0.8zM63.83 11.7h0.8v0.8h-0.8zM30.09 32.43h0.8v0.8h-0.8zM40.34 66.44h0.8v0.8h-0.8zM52.32 58.61h0.8v0.8h-0.8zM48.87 44.58h0.8v0.8h-0.8zM34.52 63.74h0.8v0.8h-0.8zM34.06 62.35h0.8v0.8h-0.8zM25.01 62.12h0.8v0.8h-0.8zM45.64 26.1h0.8v0.8h-0.8zM46.7 14.24h0.8v0.8h-0.8zM26.93 38.78h0.8v0.8h-0.8zM26.14 40.59h0.8v0.8h-0.8zM44.62 38.19h0.8v0.8h-0.8zM59.37 42.04h0.8v0.8h-0.8zM73.64 62.06h0.8v0.8h-0.8zM47.91 56.18h0.8v0.8h-0.8zM34.29 67.53h0.8v0.8h-0.8zM42.53 64.15h0.8v0.8h-0.8zM68.49 24.37h0.8v0.8h-0.8zM40.53 66.8h0.8v0.8h-0.8zM57.85 18.26h0.8v0.8h-0.8zM52.56 18.15h0.8v0.8h-0.8zM25.72 46.2h0.8v0.8h-0.8zM67.37 11.98h0.8v0.8h-0.8zM55.66 15.93h0.8v0.8h-0.8zM32.65 56.79h0.8v0.8h-0.8zM38.71 66.34h0.8v0.8h-0.8zM74.77 47.8h0.8v0.8h-0.8zM45.03 47.3h0.8v0.8h-0.8zM32.94 40.47h0.8v0.8h-0.8zM31.07 55.01h0.8v0.8h-0.8zM69.9 64.88h0.8v0.8h-0.8zM50.01 63.75h0.8v0.8h-0.8zM71.89 39.2h0.8v0.8h-0.8zM38.53 22.67h0.8v0.8h-0.8zM61.91 16.38h0.8v0.8h-0.8zM46.92 13.44h0.8v0.8h-0.8zM66.09 45.71h0.8v0.8h-0.8zM25.42 62.97h0.8v0.8h-0.8zM64.65 30.86h0.8v0.8h-0.8zM67.82 51.56h0.8v0.8h-0.8zM26.84 37.84h0.8v0.8h-0.8zM49.36 64.76h0.8v0.8h-0.8zM28.21 67.49h0.8v0.8h-0.8zM69.91 39.48h0.8v0.8h-0.8zM56.18 51.86h0.8v0.8h-0.8zM45.98 48.91h0.8v0.8h-0.8zM33.83 66.78h0.8v0.8h-0.8zM62.45 28.82h0.8v0.8h-0.8zM49.89 12.67h0.8v0.8h-0.8zM20.56 68.16h0.8v0.8h-0.8zM34.49 57.27h0.8v0.8h-0.8zM52.9 53.66h0.8v0.8h-0.8zM49.49 61.55h0.8v0.8h-0.8zM38.77 50.52h0.8v0.8h-0.8zM46.75 26.15h0.8v0.8h-0.8zM69.89 66.7h0.8v0.8h-0.8zM47.73 17.35h0.8v0.8h-0.8zM73.04 54.86h0.8v0.8h-0.8zM34.1 64.49h0.8v0.8h-0.8zM66.63 60.19h0.8v0.8h-0.8zM72.7 48.23h0.8v0.8h-0.8zM67.94 62.43h0.8v0.8h-0.8zM55.35 48.74h0.8v0.8h-0.8zM22.64 62.62h0.8v0.8h-0.8zM45.34 66.88h0.8v0.8h-0.8zM34.93 68.05h0.8v0.8h-0.8zM22.72 65.55h0.8v0.8h-0.8zM40.51 60.13h0.8v0.8h-0.8zM45.67 19.44h0.8v0.8h-0.8zM47.28 56.93h0.8v0.8h-0.8zM21.68 64.7h0.8v0.8h-0.8zM42.41 54.46h0.8v0.8h-0.8zM34.36 65.73h0.8v0.8h-0.8zM25.88 42.67h0.8v0.8h-0.8zM39.14 64.25h0.8v0.8h-0.8zM34.37 49.57h0.8v0.8h-0.8zM42.84 16.3h0.8v0.8h-0.8zM28.79 49.13h0.8v0.8h-0.8zM70.24 24.74h0.8v0.8h-0.8zM57.32 44.37h0.8v0.8h-0.8zM64.65 49.91h0.8v0.8h-0.8zM53.07 48.83h0.8v0.8h-0.8zM23.35 55.52h0.8v0.8h-0.8zM25.65 50.56h0.8v0.8h-0.8zM72.33 59.18h0.8v0.8h-0.8zM25.71 67.03h0.8v0.8h-0.8zM42.6 19.71h0.8v0.8h-0.8zM35.11 44.28h0.8v0.8h-0.8zM50.04 29.96h0.8v0.8h-0.8zM35.77 57.14h0.8v0.8h-0.8zM54.56 13.23h0.8v0.8h-0.8zM58.81 39.72h0.8v0.8h-0.8zM45.35 65.01h0.8v0.8h-0.8zM29 64.62h0.8v0.8h-0.8zM27.69 48.65h0.8v0.8h-0.8zM46.26 60.3h0.8v0.8h-0.8zM66.07 38.53h0.8v0.8h-0.8zM41.53 15.68h0.8v0.8h-0.8zM30.83 51.39h0.8v0.8h-0.8zM61.98 45.6h0.8v0.8h-0.8zM66.33 57.12h0.8v0.8h-0.8zM49.16 61.2h0.8v0.8h-0.8zM23.87 59.41h0.8v0.8h-0.8zM68.76 24.23h0.8v0.8h-0.8zM61.41 50.02h0.8v0.8h-0.8zM41.86 50.73h0.8v0.8h-0.8zM49.36 31.55h0.8v0.8h-0.8zM68.64 60.77h0.8v0.8h-0.8zM61.15 57.41h0.8v0.8h-0.8zM47.71 52.82h0.8v0.8h-0.8zM35.58 60.82h0.8v0.8h-0.8zM42.3 24.15h0.8v0.8h-0.8zM66.99 40.88h0.8v0.8h-0.8zM33.84 40.53h0.8v0.8h-0.8zM35.82 62.96h0.8v0.8h-0.8zM31.64 45.46h0.8v0.8h-0.8zM48.04 48.33h0.8v0.8h-0.8zM58.55 57.59h0.8v0.8h-0.8zM66.88 67.56h0.8v0.8h-0.8zM28.09 63.69h0.8v0.8h-0.8zM50.62 41.43h0.8v0.8h-0.8zM36.66 23.95h0.8v0.8h-0.8zM51.09 58.55h0.8v0.8h-0.8zM31.94 51.07h0.8v0.8h-0.8zM59.57 44.7h0.8v0.8h-0.8zM35.5 54.26h0.8v0.8h-0.8zM37.12 38.59h0.8v0.8h-0.8zM33.15 44.99h0.8v0.8h-0.8zM46.62 49.63h0.8v0.8h-0.8zM70.34 46.89h0.8v0.8h-0.8zM65.13 61.82h0.8v0.8h-0.8zM32.5 57.11h0.8v0.8h-0.8zM75.18 66.05h0.8v0.8h-0.8zM60.34 49.62h0.8v0.8h-0.8zM46.83 40.35h0.8v0.8h-0.8zM51.08 49.39h0.8v0.8h-0.8zM43.68 66.67h0.8v0.8h-0.8zM45.04 15.82h0.8v0.8h-0.8zM63.94 60.88h0.8v0.8h-0.8zM36.49 41.44h0.8v0.8h-0.8zM57.8 30.77h0.8v0.8h-0.8zM36.9 53.57h0.8v0.8h-0.8zM45.47 12.22h0.8v0.8h-0.8zM25.66 54.11h0.8v0.8h-0.8zM33.15 65.85h0.8v0.8h-0.8zM68.77 50.68h0.8v0.8h-0.8zM33.67 46.05h0.8v0.8h-0.8zM66.88 63.81h0.8v0.8h-0.8zM74.26 67.97h0.8v0.8h-0.8zM47.04 12.27h0.8v0.8h-0.8zM45.35 50.26h0.8v0.8h-0.8zM24.2 56.98h0.8v0.8h-0.8zM66.55 48.5h0.8v0.8h-0.8zM65.21 16.04h0.8v0.8h-0.8zM61.44 14.07h0.8v0.8h-0.8zM30.42 61.06h0.8v0.8h-0.8zM57.83 46.83h0.8v0.8h-0.8zM30.26 40.37h0.8v0.8h-0.8zM57.67 61.63h0.8v0.8h-0.8zM63.15 50.16h0.8v0.8h-0.8zM33.12 29.27h0.8v0.8h-0.8zM64.27 29.64h0.8v0.8h-0.8zM70.73 55.08h0.8v0.8h-0.8zM29.78 30.79h0.8v0.8h-0.8zM26.67 66.5h0.8v0.8h-0.8zM49.67 14.34h0.8v0.8h-0.8zM42.52 67.3h0.8v0.8h-0.8zM28.26 63.85h0.8v0.8h-0.8zM34.64 66.74h0.8v0.8h-0.8zM49.42 56.91h0.8v0.8h-0.8zM30.4 59.89h0.8v0.8h-0.8zM27.16 52.76h0.8v0.8h-0.8zM59.41 50.38h0.8v0.8h-0.8zM47.8 55.22h0.8v0.8h-0.8zM60.88 55.92h0.8v0.8h-0.8zM27.91 66.16h0.8v0.8h-0.8zM55.66 31.12h0.8v0.8h-0.8zM51.52 45.45h0.8v0.8h-0.8zM59.84 49.4h0.8v0.8h-0.8zM48.85 15.62h0.8v0.8h-0.8zM56.51 60.84h0.8v0.8h-0.8zM47.45 56.73h0.8v0.8h-0.8zM69.36 64.91h0.8v0.8h-0.8zM42.72 48.88h0.8v0.8h-0.8zM25.86 57.5h0.8v0.8h-0.8zM35.44 41.38h0.8v0.8h-0.8zM57 34.47h0.8v0.8h-0.8zM73.24 55.73h0.8v0.8h-0.8zM58.74 45.84h0.8v0.8h-0.8zM43.28 41.42h0.8v0.8h-0.8zM50.57 16.53h0.8v0.8h-0.8zM40.11 51.97h0.8v0.8h-0.8zM53.6 12.31h0.8v0.8h-0.8zM28.31 31.47h0.8v0.8h-0.8zM23.55 65.57h0.8v0.8h-0.8zM43.92 60.18h0.8v0.8h-0.8zM45.04 18.51h0.8v0.8h-0.8zM58.98 36.96h0.8v0.8h-0.8zM74.49 68.03h0.8v0.8h-0.8zM73.06 65.88h0.8v0.8h-0.8zM74.39 33.07h0.8v0.8h-0.8zM43.19 14.82h0.8v0.8h-0.8zM54.73 64.15h0.8v0.8h-0.8zM38.42 41.23h0.8v0.8h-0.8zM64.67 56.69h0.8v0.8h-0.8zM46.87 59.48h0.8v0.8h-0.8zM24.31 54.33h0.8v0.8h-0.8zM27.9 61.38h0.8v0.8h-0.8zM36.02 59.74h0.8v0.8h-0.8zM32.2 53.3h0.8v0.8h-0.8zM22.08 64.19h0.8v0.8h-0.8zM29.24 47.21h0.8v0.8h-0.8zM26.28 53.99h0.8v0.8h-0.8zM64.24 30.66h0.8v0.8h-0.8zM60.8 37.13h0.8v0.8h-0.8zM57.49 55.65h0.8v0.8h-0.8zM75.21 52.39h0.8v0.8h-0.8zM61.78 59.49h0.8v0.8h-0.8zM70.46 36.16h0.8v0.8h-0.8zM40.98 60.29h0.8v0.8h-0.8zM50.02 41.22h0.8v0.8h-0.8zM48.36 11.6h0.8v0.8h-0.8zM73.35 61.88h0.8v0.8h-0.8zM57.29 63.57h0.8v0.8h-0.8zM50.8 52.32h0.8v0.8h-0.8zM52.97 53.35h0.8v0.8h-0.8zM57.29 62.9h0.8v0.8h-0.8zM33.74 27.71h0.8v0.8h-0.8zM47.07 53.04h0.8v0.8h-0.8zM51.88 37.57h0.8v0.8h-0.8zM32.4 30.62h0.8v0.8h-0.8zM28.26 39.05h0.8v0.8h-0.8zM61.21 46.9h0.8v0.8h-0.8zM31.45 48.46h0.8v0.8h-0.8zM46.77 32.63h0.8v0.8h-0.8zM57.89 47.14h0.8v0.8h-0.8zM33.77 64.5h0.8v0.8h-0.8zM35.09 44.35h0.8v0.8h-0.8zM72.5 67.41h0.8v0.8h-0.8zM68.95 15.47h0.8v0.8h-0.8zM25.86 46.2h0.8v0.8h-0.8zM68.93 19.39h0.8v0.8h-0.8zM63.75 29.75h0.8v0.8h-0.8zM60.22 68.31h0.8v0.8h-0.8zM73.71 32.21h0.8v0.8h-0.8zM45.14 60.14h0.8v0.8h-0.8zM70.88 65.74h0.8v0.8h-0.8zM48.44 31.65h0.8v0.8h-0.8zM37.45 55.65h0.8v0.8h-0.8zM72.08 55.73h0.8v0.8h-0.8zM59.42 54.32h0.8v0.8h-0.8zM25.05 60.12h0.8v0.8h-0.8zM44.47 67.29h0.8v0.8h-0.8zM74.15 63.18h0.8v0.8h-0.8zM50.51 53.57h0.8v0.8h-0.8zM65.8 62.15h0.8v0.8h-0.8zM39.26 30.9h0.8v0.8h-0.8zM40.15 39.86h0.8v0.8h-0.8zM32.64 59.97h0.8v0.8h-0.8zM43.88 47.89h0.8v0.8h-0.8zM69.52 45.39h0.8v0.8h-0.8zM36.07 25.72h0.8v0.8h-0.8zM48.56 64.97h0.8v0.8h-0.8zM38.54 49.58h0.8v0.8h-0.8zM59.7 19.03h0.8v0.8h-0.8zM41.05 59.1h0.8v0.8h-0.8zM38.01 36.09h0.8v0.8h-0.8zM29.04 38.62h0.8v0.8h-0.8zM51.37 55.48h0.8v0.8h-0.8zM57.07 24.01h0.8v0.8h-0.8zM68.29 56.51h0.8v0.8h-0.8zM44.45 22.87h0.8v0.8h-0.8zM29.48 59.56h0.8v0.8h-0.8zM62.52 18.1h0.8v0.8h-0.8zM49.39 44.66h0.8v0.8h-0.8zM64.76 36.94h0.8v0.8h-0.8zM27.67 47.66h0.8v0.8h-0.8zM28.28 42.19h0.8v0.8h-0.8zM44.87 12.1h0.8v0.8h-0.8zM41.23 20.9h0.8v0.8h-0.8zM69.61 59.8h0.8v0.8h-0.8zM47.57 59.78h0.8v0.8h-0.8zM74.04 50.79h0.8v0.8h-0.8zM34.94 65.47h0.8v0.8h-0.8zM73.95 26.8h0.8v0.8h-0.8zM42.85 67.46h0.8v0.8h-0.8zM72.28 64.44h0.8v0.8h-0.8zM61.87 22.44h0.8v0.8h-0.8zM24.37 59.73h0.8v0.8h-0.8zM75.24 53.24h0.8v0.8h-0.8zM28.74 35.71h0.8v0.8h-0.8zM67.57 62.24h0.8v0.8h-0.8zM25.46 65.32h0.8v0.8h-0.8zM34.26 39.1h0.8v0.8h-0.8zM66.39 54.01h0.8v0.8h-0.8zM71.97 51.08h0.8v0.8h-0.8zM39.61 51.52h0.8v0.8h-0.8zM27.83 37.41h0.8v0.8h-0.8zM30.49 64.74h0.8v0.8h-0.8zM54.41 48.08h0.8v0.8h-0.8zM47.66 35.92h0.8v0.8h-0.8zM24.38 59.4h0.8v0.8h-0.8zM34.99 37.14h0.8v0.8h-0.8zM22.95 58.64h0.8v0.8h-0.8zM29.57 29.5h0.8v0.8h-0.8zM50.75 13.87h0.8v0.8h-0.8zM52.4 18.15h0.8v0.8h-0.8zM53.52 68.13h0.8v0.8h-0.8zM36.24 65.89h0.8v0.8h-0.8zM30.7 41.09h0.8v0.8h-0.8zM49.52 50.35h0.8v0.8h-0.8zM27.45 59.84h0.8v0.8h-0.8zM48.25 59.59h0.8v0.8h-0.8zM68.42 16.36h0.8v0.8h-0.8zM41.46 24.21h0.8v0.8h-0.8zM42.82 45.59h0.8v0.8h-0.8zM68.69 54.15h0.8v0.8h-0.8zM34.6 31.64h0.8v0.8h-0.8zM47.16 14.59h0.8v0.8h-0.8zM50.31 32.17h0.8v0.8h-0.8zM68.83 29.59h0.8v0.8h-0.8zM29.73 61.47h0.8v0.8h-0.8zM57.84 63.09h0.8v0.8h-0.8zM37.13 50.92h0.8v0.8h-0.8zM32.97 52.32h0.8v0.8h-0.8zM43.71 13.15h0.8v0.8h-0.8zM26.87 44.48h0.8v0.8h-0.8zM40.14 37.93h0.8v0.8h-0.8zM28.1 49.43h0.8v0.8h-0.8zM22.92 66.86h0.8v0.8h-0.8zM45.74 15.33h0.8v0.8h-0.8zM38.08 42.9h0.8v0.8h-0.8zM39.21 60.81h0.8v0.8h-0.8zM33.73 63.48h0.8v0.8h-0.8zM72.8 43.7h0.8v0.8h-0.8zM26.3 58.81h0.8v0.8h-0.8zM70.11 49.67h0.8v0.8h-0.8zM32.64 46.05h0.8v0.8h-0.8zM53.03 62.55h0.8v0.8h-0.8zM45.37 44.08h0.8v0.8h-0.8zM64.85 56.79h0.8v0.8h-0.8zM66.02 48.66h0.8v0.8h-0.8zM41.47 55.08h0.8v0.8h-0.8zM48.3 52.61h0.8v0.8h-0.8zM28.86 52.45h0.8v0.8h-0.8zM58.35 51.2h0.8v0.8h-0.8zM37.3 61.99h0.8v0.8h-0.8zM25.38 45.06h0.8v0.8h-0.8zM60.48 50.51h0.8v0.8h-0.8zM55.78 58.56h0.8v0.8h-0.8zM43.27 20.26h0.8v0.8h-0.8zM32.6 66.71h0.8v0.8h-0.8zM34.54 58.7h0.8v0.8h-0.8zM72.12 64.12h0.8v0.8h-0.8zM74.79 50.32h0.8v0.8h-0.8zM41.27 15.12h0.8v0.8h-0.8zM61.27 29.43h0.8v0.8h-0.8zM31.4 57.68h0.8v0.8h-0.8zM43.67 61.42h0.8v0.8h-0.8zM43.96 67.28h0.8v0.8h-0.8zM49.17 48.36h0.8v0.8h-0.8zM58.18 33.63h0.8v0.8h-0.8zM39.1 29.95h0.8v0.8h-0.8zM58.6 15.19h0.8v0.8h-0.8zM50.79 43.24h0.8v0.8h-0.8zM50.65 64.37h0.8v0.8h-0.8zM48.25 25.32h0.8v0.8h-0.8zM50.02 53.64h0.8v0.8h-0.8zM26.64 46.13h0.8v0.8h-0.8zM31.83 49.39h0.8v0.8h-0.8zM61.78 50.15h0.8v0.8h-0.8zM73.53 63.25h0.8v0.8h-0.8zM71.31 68.03h0.8v0.8h-0.8zM46.31 19.63h0.8v0.8h-0.8zM41.63 51.87h0.8v0.8h-0.8zM45.67 23.54h0.8v0.8h-0.8zM70.62 24.56h0.8v0.8h-0.8zM25.74 48.48h0.8v0.8h-0.8zM39.42 51.99h0.8v0.8h-0.8zM53.08 35.19h0.8v0.8h-0.8zM39.35 26.57h0.8v0.8h-0.8zM61.91 36.08h0.8v0.8h-0.8zM68.25 20.18h0.8v0.8h-0.8zM27.29 43.3h0.8v0.8h-0.8zM58.48 58.77h0.8v0.8h-0.8zM43.29 16.75h0.8v0.8h-0.8zM65.98 63.88h0.8v0.8h-0.8zM42.49 58.92h0.8v0.8h-0.8zM48.81 42.76h0.8v0.8h-0.8zM33.12 47.48h0.8v0.8h-0.8zM63.26 61.12h0.8v0.8h-0.8zM25.75 43.93h0.8v0.8h-0.8zM24.31 51.83h0.8v0.8h-0.8zM30.92 37.92h0.8v0.8h-0.8zM35.76 45.88h0.8v0.8h-0.8zM41.99 19.82h0.8v0.8h-0.8zM53.09 55.38h0.8v0.8h-0.8zM68.23 64.39h0.8v0.8h-0.8zM27.47 38.79h0.8v0.8h-0.8zM63.74 62.35h0.8v0.8h-0.8zM72.35 32.6h0.8v0.8h-0.8zM71.12 22.88h0.8v0.8h-0.8zM40.93 61.69h0.8v0.8h-0.8zM57.89 43.75h0.8v0.8h-0.8zM29.32 51.35h0.8v0.8h-0.8zM39.18 18.11h0.8v0.8h-0.8zM65.14 60.87h0.8v0.8h-0.8zM35.97 65.92h0.8v0.8h-0.8zM51.11 63.71h0.8v0.8h-0.8zM43.93 20.94h0.8v0.8h-0.8zM64.23 43.91h0.8v0.8h-0.8zM34.33 64.79h0.8v0.8h-0.8zM57.11 27.71h0.8v0.8h-0.8zM29.28 43.94h0.8v0.8h-0.8zM30.63 61.39h0.8v0.8h-0.8zM53.7 42.18h0.8v0.8h-0.8zM71.61 66.78h0.8v0.8h-0.8zM40.49 61.38h0.8v0.8h-0.8zM73.92 43.6h0.8v0.8h-0.8zM38.41 24.66h0.8v0.8h-0.8zM49.95 21.1h0.8v0.8h-0.8zM35.32 32.6h0.8v0.8h-0.8zM48.2 40.6h0.8v0.8h-0.8zM63.74 50.14h0.8v0.8h-0.8zM39.5 24.17h0.8v0.8h-0.8zM74.04 29.57h0.8v0.8h-0.8zM69.17 44.87h0.8v0.8h-0.8zM30.73 46.53h0.8v0.8h-0.8zM47.05 58.01h0.8v0.8h-0.8zM60.39 50.08h0.8v0.8h-0.8zM37.64 47.1h0.8v0.8h-0.8zM64.89 42.98h0.8v0.8h-0.8zM28.52 35.11h0.8v0.8h-0.8zM58.92 22.53h0.8v0.8h-0.8zM52.91 13.93h0.8v0.8h-0.8zM43.79 26.2h0.8v0.8h-0.8zM55.26 54.98h0.8v0.8h-0.8zM58.75 55.34h0.8v0.8h-0.8zM69.05 33.61h0.8v0.8h-0.8zM30.01 62.14h0.8v0.8h-0.8zM40.88 38.83h0.8v0.8h-0.8zM71.03 41.67h0.8v0.8h-0.8zM68.27 49.31h0.8v0.8h-0.8zM36.09 44.56h0.8v0.8h-0.8zM67.81 49.42h0.8v0.8h-0.8zM45.19 61.13h0.8v0.8h-0.8zM64.08 65.44h0.8v0.8h-0.8zM43.54 41.06h0.8v0.8h-0.8zM32.14 31h0.8v0.8h-0.8zM56.01 25.17h0.8v0.8h-0.8zM66 57.36h0.8v0.8h-0.8zM45.9 44.98h0.8v0.8h-0.8zM32.23 53.67h0.8v0.8h-0.8zM60.74 55.44h0.8v0.8h-0.8zM64.52 66.48h0.8v0.8h-0.8zM37.68 32.86h0.8v0.8h-0.8zM64.61 47.92h0.8v0.8h-0.8zM74.67 51.02h0.8v0.8h-0.8zM52.08 43.71h0.8v0.8h-0.8zM72.25 54.01h0.8v0.8h-0.8zM32.57 49.85h0.8v0.8h-0.8zM73.6 40.77h0.8v0.8h-0.8zM70.13 47h0.8v0.8h-0.8zM55.47 20.09h0.8v0.8h-0.8zM30.58 38.23h0.8v0.8h-0.8zM64.19 45.44h0.8v0.8h-0.8zM40.29 23.44h0.8v0.8h-0.8zM57.79 29.2h0.8v0.8h-0.8zM45.32 47.9h0.8v0.8h-0.8zM41.44 33.21h0.8v0.8h-0.8zM26.23 67.04h0.8v0.8h-0.8zM46.84 49.58h0.8v0.8h-0.8zM74.45 23.6h0.8v0.8h-0.8zM50.82 51.03h0.8v0.8h-0.8zM41.13 30.94h0.8v0.8h-0.8zM63.58 60.61h0.8v0.8h-0.8zM50.59 37.6h0.8v0.8h-0.8zM70.34 62.89h0.8v0.8h-0.8zM24.58 57.57h0.8v0.8h-0.8zM73.9 56.1h0.8v0.8h-0.8zM36.2 24.34h0.8v0.8h-0.8zM64.7 50.06h0.8v0.8h-0.8zM37.92 63.15h0.8v0.8h-0.8zM43.53 15.49h0.8v0.8h-0.8zM63.35 24.14h0.8v0.8h-0.8zM62.39 41.53h0.8v0.8h-0.8zM35.84 65.19h0.8v0.8h-0.8zM39.58 47.54h0.8v0.8h-0.8zM34.65 40.77h0.8v0.8h-0.8zM30.27 43h0.8v0.8h-0.8zM44.34 42.72h0.8v0.8h-0.8zM36.77 45.47h0.8v0.8h-0.8zM59.42 39.68h0.8v0.8h-0.8zM43.92 11.66h0.8v0.8h-0.8zM30.12 66.25h0.8v0.8h-0.8zM51.83 45.82h0.8v0.8h-0.8zM60.32 50.18h0.8v0.8h-0.8zM41.71 40.42h0.8v0.8h-0.8zM30.82 45.4h0.8v0.8h-0.8zM70.77 52.5h0.8v0.8h-0.8zM39.66 53.24h0.8v0.8h-0.8zM22.53 63.51h0.8v0.8h-0.8zM70.61 58.09h0.8v0.8h-0.8zM64.11 44.46h0.8v0.8h-0.8zM57.64 35.04h0.8v0.8h-0.8zM66.99 52.3h0.8v0.8h-0.8zM42.73 50.32h0.8v0.8h-0.8zM75.13 66.45h0.8v0.8h-0.8zM69.68 50.68h0.8v0.8h-0.8zM25.86 62.7h0.8v0.8h-0.8zM48.87 62.94h0.8v0.8h-0.8zM55.39 39.3h0.8v0.8h-0.8zM61.99 35.05h0.8v0.8h-0.8zM34.03 46.68h0.8v0.8h-0.8zM67.9 35.92h0.8v0.8h-0.8zM38.28 39.96h0.8v0.8h-0.8zM38.62 40.21h0.8v0.8h-0.8zM25.69 47.39h0.8v0.8h-0.8zM48.64 21.52h0.8v0.8h-0.8zM25.19 62.42h0.8v0.8h-0.8zM56.88 57.36h0.8v0.8h-0.8zM28.79 39.01h0.8v0.8h-0.8zM60.25 29.95h0.8v0.8h-0.8zM44.06 63.52h0.8v0.8h-0.8zM62.58 30.29h0.8v0.8h-0.8zM54.54 46.6h0.8v0.8h-0.8zM60.98 47.57h0.8v0.8h-0.8zM66.75 33.43h0.8v0.8h-0.8zM30.18 53.89h0.8v0.8h-0.8zM69.13 34.86h0.8v0.8h-0.8zM34.67 33.7h0.8v0.8h-0.8zM55.9 63.84h0.8v0.8h-0.8zM74.18 65.33h0.8v0.8h-0.8zM28.71 55.04h0.8v0.8h-0.8zM37.74 66.83h0.8v0.8h-0.8zM33.03 65.97h0.8v0.8h-0.8zM56.27 31.3h0.8v0.8h-0.8zM55.43 14.8h0.8v0.8h-0.8zM55.11 45.88h0.8v0.8h-0.8zM65.7 63.99h0.8v0.8h-0.8zM32.94 66.8h0.8v0.8h-0.8zM34.34 41.34h0.8v0.8h-0.8zM63.46 55.83h0.8v0.8h-0.8zM64.61 54.94h0.8v0.8h-0.8zM72.88 47.93h0.8v0.8h-0.8zM74.44 51.2h0.8v0.8h-0.8zM63.62 12.18h0.8v0.8h-0.8zM26.18 56.11h0.8v0.8h-0.8zM37.32 64.87h0.8v0.8h-0.8zM65.67 19.39h0.8v0.8h-0.8zM30.43 55.14h0.8v0.8h-0.8zM59.32 57.44h0.8v0.8h-0.8zM46.7 11.68h0.8v0.8h-0.8zM30.45 36.6h0.8v0.8h-0.8zM30.98 49.23h0.8v0.8h-0.8zM58.38 41.65h0.8v0.8h-0.8zM59.03 63.02h0.8v0.8h-0.8zM31.07 41.32h0.8v0.8h-0.8zM46.28 40h0.8v0.8h-0.8zM64.67 43.92h0.8v0.8h-0.8zM35.45 38.98h0.8v0.8h-0.8zM47.74 62.18h0.8v0.8h-0.8zM44.28 41.11h0.8v0.8h-0.8zM42.61 22.94h0.8v0.8h-0.8zM38.27 47.04h0.8v0.8h-0.8zM24.83 55.92h0.8v0.8h-0.8zM58.62 46.16h0.8v0.8h-0.8zM52.1 47.37h0.8v0.8h-0.8zM67.88 64.4h0.8v0.8h-0.8zM21.59 63.39h0.8v0.8h-0.8zM26.14 41.89h0.8v0.8h-0.8zM50.99 52.16h0.8v0.8h-0.8zM41.16 36.87h0.8v0.8h-0.8zM54.83 40.66h0.8v0.8h-0.8zM41.54 57.23h0.8v0.8h-0.8zM52.57 26.89h0.8v0.8h-0.8zM41.6 60.49h0.8v0.8h-0.8zM47.37 14.49h0.8v0.8h-0.8zM67.49 39.55h0.8v0.8h-0.8zM66.5 30.31h0.8v0.8h-0.8zM25.6 42.97h0.8v0.8h-0.8zM58.94 62.82h0.8v0.8h-0.8zM37.97 57.43h0.8v0.8h-0.8zM44.08 11.44h0.8v0.8h-0.8zM26.75 56.56h0.8v0.8h-0.8zM54.91 64.4h0.8v0.8h-0.8zM75.33 41.84h0.8v0.8h-0.8zM31.2 35.2h0.8v0.8h-0.8zM42.25 21.05h0.8v0.8h-0.8zM69.16 46.42h0.8v0.8h-0.8zM41.3 35.76h0.8v0.8h-0.8zM62.92 36.92h0.8v0.8h-0.8zM39.33 27.98h0.8v0.8h-0.8zM28.6 62.22h0.8v0.8h-0.8zM66.76 59.53h0.8v0.8h-0.8zM31.23 61.94h0.8v0.8h-0.8zM52.53 64.78h0.8v0.8h-0.8zM71.32 51.7h0.8v0.8h-0.8zM64.29 62.56h0.8v0.8h-0.8zM53.37 61.1h0.8v0.8h-0.8zM47.32 63.68h0.8v0.8h-0.8zM63.7 57.43h0.8v0.8h-0.8zM57.73 50.84h0.8v0.8h-0.8zM49.81 59.95h0.8v0.8h-0.8zM58.93 11.76h0.8v0.8h-0.8zM26.4 45.1h0.8v0.8h-0.8zM33.79 31.17h0.8v0.8h-0.8zM49.71 24.47h0.8v0.8h-0.8zM51.17 40h0.8v0.8h-0.8zM34.09 62.48h0.8v0.8h-0.8zM73 47.61h0.8v0.8h-0.8zM28.89 35.45h0.8v0.8h-0.8zM32.62 49.76h0.8v0.8h-0.8z" fill="#8c8c8c" opacity="0.6" clip-path="url(#c00)"/>
<ellipse cx="24.8" cy="62.9" rx="1.2" ry="3" transform="rotate(-15 24.8 62.9)" fill="none" stroke="#888" stroke-width="0.55"/>
<ellipse cx="25.2" cy="62.3" rx="2.2" ry="4.8" transform="rotate(-15 25.2 62.3)" fill="none" stroke="#888" stroke-width="0.55"/>
<ellipse cx="25.6" cy="61.7" rx="3.2" ry="6.5" transform="rotate(-15 25.6 61.7)" fill="none" stroke="#888" stroke-width="0.55"/>
<path d="M26.3 56.4 C30.3 52.4 33.3 52.4 37.3 50.4" stroke="#aaa" stroke-width="0.5" fill="none"/>
<path d="M27.3 60.4 C31.3 56.4 34.3 56.4 37.3 54.4" stroke="#aaa" stroke-width="0.5" fill="none"/>
<path d="M75.11 39.32h0.8v0.8h-0.8zM75.21 32.17h0.8v0.8h-0.8zM73.76 51.46h0.8v0.8h-0.8zM73.49 46.31h0.8v0.8h-0.8zM74.62 34.86h0.8v0.8h-0.8zM75.25 37.19h0.8v0.8h-0.8zM74.6 50.22h0.8v0.8h-0.8zM72.84 39.53h0.8v0.8h-0.8zM73.63 34.99h0.8v0.8h-0.8zM74.35 36.51h0.8v0.8h-0.8zM72.38 39.92h0.8v0.8h-0.8zM75.29 39.38h0.8v0.8h-0.8zM74.76 30.4h0.8v0.8h-0.8zM75.06 36.57h0.8v0.8h-0.8zM73.87 11.17h0.8v0.8h-0.8zM74.65 29.57h0.8v0.8h-0.8zM74.59 31.47h0.8v0.8h-0.8zM75.01 45.23h0.8v0.8h-0.8zM74.96 41.93h0.8v0.8h-0.8zM74.73 37.24h0.8v0.8h-0.8zM73.38 35.38h0.8v0.8h-0.8zM74.55 33.82h0.8v0.8h-0.8zM74.29 36.85h0.8v0.8h-0.8zM73.99 32.84h0.8v0.8h-0.8zM73.34 52.83h0.8v0.8h-0.8zM73.71 24.81h0.8v0.8h-0.8zM74.02 31.09h0.8v0.8h-0.8zM73.55 14.95h0.8v0.8h-0.8zM74.16 38.85h0.8v0.8h-0.8zM73.51 21.48h0.8v0.8h-0.8zM74.8 39h0.8v0.8h-0.8zM73.89 34.37h0.8v0.8h-0.8zM71.77 33.36h0.8v0.8h-0.8zM75.44 35.76h0.8v0.8h-0.8zM74.66 39.01h0.8v0.8h-0.8zM72.65 24.13h0.8v0.8h-0.8zM73.37 36.33h0.8v0.8h-0.8zM73.94 19.36h0.8v0.8h-0.8zM75.29 32.91h0.8v0.8h-0.8zM75.38 50.4h0.8v0.8h-0.8zM73.03 24.23h0.8v0.8h-0.8zM75.46 45.65h0.8v0.8h-0.8zM74.85 37.28h0.8v0.8h-0.8zM75.12 39.63h0.8v0.8h-0.8zM73.36 40.34h0.8v0.8h-0.8zM75.38 31.17h0.8v0.8h-0.8zM73.68 30.5h0.8v0.8h-0.8zM73.98 38.62h0.8v0.8h-0.8zM75.19 34.6h0.8v0.8h-0.8zM74.23 20.28h0.8v0.8h-0.8zM74.12 26.46h0.8v0.8h-0.8zM74.01 37.15h0.8v0.8h-0.8zM74.65 62.33h0.8v0.8h-0.8zM73.72 30.14h0.8v0.8h-0.8zM73.48 32.36h0.8v0.8h-0.8zM74.24 42.41h0.8v0.8h-0.8zM72.76 41.65h0.8v0.8h-0.8zM75.07 30.23h0.8v0.8h-0.8zM73.89 35.96h0.8v0.8h-0.8zM74.97 33.13h0.8v0.8h-0.8zM74.36 34.55h0.8v0.8h-0.8zM73.53 36.57h0.8v0.8h-0.8zM75.01 34.81h0.8v0.8h-0.8zM73.48 34.41h0.8v0.8h-0.8zM74.4 36.92h0.8v0.8h-0.8zM74.13 41.01h0.8v0.8h-0.8zM75.47 40.96h0.8v0.8h-0.8zM74.71 44.08h0.8v0.8h-0.8zM74.46 33.09h0.8v0.8h-0.8zM73.22 34.56h0.8v0.8h-0.8zM75.19 24.35h0.8v0.8h-0.8zM74.77 48.87h0.8v0.8h-0.8zM74.54 25.17h0.8v0.8h-0.8zM74.75 33.26h0.8v0.8h-0.8zM75.21 30.28h0.8v0.8h-0.8zM72.95 30.64h0.8v0.8h-0.8zM75.02 42.53h0.8v0.8h-0.8zM74.74 34.61h0.8v0.8h-0.8zM75.11 32.86h0.8v0.8h-0.8zM74.09 36.2h0.8v0.8h-0.8zM75.47 30.46h0.8v0.8h-0.8zM74.94 29.37h0.8v0.8h-0.8zM73.84 35.78h0.8v0.8h-0.8zM73.31 27.7h0.8v0.8h-0.8zM73.43 29.68h0.8v0.8h-0.8zM73.68 52.75h0.8v0.8h-0.8zM75.04 34.99h0.8v0.8h-0.8zM73.3 15.74h0.8v0.8h-0.8zM74.89 29.48h0.8v0.8h-0.8zM75.43 31.32h0.8v0.8h-0.8zM73.33 29.41h0.8v0.8h-0.8zM73.13 23.32h0.8v0.8h-0.8zM75.13 30.26h0.8v0.8h-0.8zM75.11 30.03h0.8v0.8h-0.8zM74.29 30.11h0.8v0.8h-0.8zM74.01 29.25h0.8v0.8h-0.8zM72.75 47.7h0.8v0.8h-0.8zM74.4 33.21h0.8v0.8h-0.8zM74.07 35.39h0.8v0.8h-0.8zM74.91 34.4h0.8v0.8h-0.8zM73.76 26.87h0.8v0.8h-0.8zM73.38 29.43h0.8v0.8h-0.8zM74.46 39.01h0.8v0.8h-0.8zM74.39 36.29h0.8v0.8h-0.8zM74.82 43.33h0.8v0.8h-0.8zM73.32 42.99h0.8v0.8h-0.8zM74.88 38.63h0.8v0.8h-0.8zM73.14 32.63h0.8v0.8h-0.8zM74.26 39.4h0.8v0.8h-0.8zM75.1 39.78h0.8v0.8h-0.8z" fill="#444" opacity="0.75" clip-path="url(#c00)"/>
<path d="M74.9 19.4 C75.1 29.4 74.3 37.4 73 45.4" stroke="#666" stroke-width="1" fill="none"/>
<ellipse cx="55.6" cy="48.9" rx="18.5" ry="9.8" transform="rotate(-27 55.6 48.9)" fill="#e4e4e4"/>
<ellipse cx="51.1" cy="57.1" rx="3.5" ry="1.6" transform="rotate(-27 51.1 57.1)" fill="none" stroke="rgb(30,30,30)" stroke-width="0.6"/>
<ellipse cx="51.55" cy="56.3" rx="4.9" ry="2.39" transform="rotate(-27 51.55 56.3)" fill="none" stroke="rgb(41,41,41)" stroke-width="0.6"/>
<ellipse cx="52" cy="55.5" rx="6.3" ry="3.18" transform="rotate(-27 52 55.5)" fill="none" stroke="rgb(52,52,52)" stroke-width="0.6"/>
<ellipse cx="52.45" cy="54.7" rx="7.7" ry="3.97" transform="rotate(-27 52.45 54.7)" fill="none" stroke="rgb(63,63,63)" stroke-width="0.6"/>
<ellipse cx="52.9" cy="53.9" rx="9.1" ry="4.76" transform="rotate(-27 52.9 53.9)" fill="none" stroke="rgb(74,74,74)" stroke-width="0.6"/>
<ellipse cx="53.35" cy="53.1" rx="10.5" ry="5.55" transform="rotate(-27 53.35 53.1)" fill="none" stroke="rgb(85,85,85)" stroke-width="0.6"/>
<ellipse cx="53.8" cy="52.3" rx="11.9" ry="6.34" transform="rotate(-27 53.8 52.3)" fill="none" stroke="rgb(96,96,96)" stroke-width="0.6"/>
<ellipse cx="54.25" cy="51.5" rx="13.3" ry="7.13" transform="rotate(-27 54.25 51.5)" fill="none" stroke="rgb(107,107,107)" stroke-width="0.6"/>
<ellipse cx="54.7" cy="50.7" rx="14.7" ry="7.92" transform="rotate(-27 54.7 50.7)" fill="none" stroke="rgb(118,118,118)" stroke-width="0.6"/>
<ellipse cx="55.15" cy="49.9" rx="16.1" ry="8.71" transform="rotate(-27 55.15 49.9)" fill="none" stroke="rgb(129,129,129)" stroke-width="0.6"/>
<ellipse cx="55.6" cy="49.1" rx="17.5" ry="9.5" transform="rotate(-27 55.6 49.1)" fill="none" stroke="rgb(140,140,140)" stroke-width="0.6"/>
<ellipse cx="51.1" cy="56.9" rx="4.5" ry="1.8" transform="rotate(-27 51.1 56.9)" fill="#333" opacity="0.8"/>
<ellipse cx="53.1" cy="53.1" rx="9" ry="4.2" transform="rotate(-27 53.1 53.1)" fill="#555" opacity="0.25"/>
<ellipse cx="52.1" cy="55.4" rx="2.8" ry="0.7" transform="rotate(-27 52.1 55.4)" fill="#ddd" opacity="0.9"/>
<ellipse cx="55.6" cy="48.6" rx="20" ry="11" transform="rotate(-28 55.6 48.6)" fill="none" stroke="#1a1a1a" stroke-width="1.35"/>
<path d="M16.3 68.2h-1.5M16.3 66.2h-1.5M16.3 64.5h-1.5M16.3 62.5h-2.2M16.3 60.5h-1.5M16.3 58.5h-1.5M16.3 57.4h-1.5M16.3 56.1h-2.2M16.3 55h-1.5M16.3 53.3h-1.5M16.3 51.3h-1.5M16.3 49.3h-2.2M16.3 47.3h-2.2M16.3 46.2h-2.2M16.3 44.9h-1.5M16.3 43.2h-1.5M16.3 41.2h-1.5M16.3 39.2h-2.2M16.3 37.7h-1.5M16.3 36.6h-1.5M16.3 35.1h-1.5M16.3 33.1h-1.5M16.3 32h-1.5M16.3 30.5h-1.5M16.3 28.5h-1.5M16.3 27.4h-1.5M16.3 26.3h-1.5M16.3 24.8h-1.5M16.3 23.7h-1.5M16.3 22.6h-2.2M16.3 21.5h-1.5M16.3 19.8h-1.5M16.3 17.8h-1.5M16.3 16.3h-1.5M16.3 14.8h-1.5M16.3 13.1h-1.5M16.3 12h-2.2M16.3 10.9h-2.2M17.5 69.4v1.5M18.8 69.4v1.5M20.1 69.4v1.5M21.4 69.4v1.5M22.7 69.4v1.5M24.5 69.4v2.2M26.3 69.4v1.5M27.4 69.4v1.5M29.6 69.4v1.5M30.7 69.4v2.2M32.5 69.4v1.5M34.7 69.4v1.5M35.8 69.4v2.2M37.1 69.4v2.2M38.6 69.4v2.2M40.8 69.4v1.5M42.3 69.4v1.5M43.4 69.4v2.2M45.6 69.4v1.5M46.7 69.4v1.5M48.2 69.4v1.5M49.5 69.4v1.5M51.3 69.4v1.5M52.6 69.4v1.5M53.9 69.4v1.5M55.4 69.4v1.5M57.6 69.4v2.2M58.9 69.4v2.2M61.7 69.4v1.5M63 69.4v1.5M64.8 69.4v1.5M67 69.4v2.2M68.1 69.4v2.2M69.2 69.4v1.5M70.7 69.4v2.2M73.5 69.4v1.5M75.3 69.4v1.5" stroke="#333" stroke-width="0.7" fill="none"/>
<rect x="16.3" y="9.4" width="60.2" height="60" fill="none" stroke="#231f20" stroke-width="1.2"/>
<path d="M124.52 55.38h0.8v0.8h-0.8zM131.28 53.32h0.8v0.8h-0.8zM130.9 42.97h0.8v0.8h-0.8zM144 51.58h0.8v0.8h-0.8zM134.74 44.5h0.8v0.8h-0.8zM129.85 54.46h0.8v0.8h-0.8zM133.17 58.47h0.8v0.8h-0.8zM136.92 40.62h0.8v0.8h-0.8zM133.94 45.79h0.8v0.8h-0.8zM129.49 43.91h0.8v0.8h-0.8zM139.88 46.39h0.8v0.8h-0.8zM130.51 49.67h0.8v0.8h-0.8zM129.03 47.18h0.8v0.8h-0.8zM127.52 45.02h0.8v0.8h-0.8zM132.51 55.47h0.8v0.8h-0.8zM133.65 53.81h0.8v0.8h-0.8zM126.4 49.44h0.8v0.8h-0.8zM132.92 53.29h0.8v0.8h-0.8zM127.83 46.26h0.8v0.8h-0.8zM128.38 54.58h0.8v0.8h-0.8zM136.34 44.65h0.8v0.8h-0.8zM130.25 48.82h0.8v0.8h-0.8zM126.44 46.73h0.8v0.8h-0.8zM135.23 52.3h0.8v0.8h-0.8zM127.53 43.37h0.8v0.8h-0.8zM130.34 38.25h0.8v0.8h-0.8zM132.47 48.19h0.8v0.8h-0.8zM124.27 45.99h0.8v0.8h-0.8zM127.62 45.76h0.8v0.8h-0.8zM126.56 55.97h0.8v0.8h-0.8zM126.11 52.21h0.8v0.8h-0.8zM131.95 56.47h0.8v0.8h-0.8zM130.63 47.46h0.8v0.8h-0.8zM131.25 35.69h0.8v0.8h-0.8zM142.9 46.13h0.8v0.8h-0.8zM129.34 40.44h0.8v0.8h-0.8zM130.23 57.49h0.8v0.8h-0.8zM127.15 50.2h0.8v0.8h-0.8zM136.06 53.34h0.8v0.8h-0.8zM128.9 36.61h0.8v0.8h-0.8zM132.95 51h0.8v0.8h-0.8zM129.29 44.8h0.8v0.8h-0.8zM139.65 37.65h0.8v0.8h-0.8zM128.35 43.69h0.8v0.8h-0.8zM126.93 55.19h0.8v0.8h-0.8zM132.22 37.86h0.8v0.8h-0.8zM124.89 41.43h0.8v0.8h-0.8zM130.11 50.28h0.8v0.8h-0.8zM127.68 45.76h0.8v0.8h-0.8zM134.47 46.53h0.8v0.8h-0.8zM134.57 43.83h0.8v0.8h-0.8zM133.35 55.36h0.8v0.8h-0.8zM129.29 45.38h0.8v0.8h-0.8zM130.1 50.34h0.8v0.8h-0.8zM124.88 47.72h0.8v0.8h-0.8zM127.99 56.3h0.8v0.8h-0.8zM129.33 42.86h0.8v0.8h-0.8zM131.59 46h0.8v0.8h-0.8zM131.11 48.95h0.8v0.8h-0.8zM136.91 44.99h0.8v0.8h-0.8zM139.24 30.82h0.8v0.8h-0.8zM140.01 54.98h0.8v0.8h-0.8zM138.7 48.71h0.8v0.8h-0.8zM132.32 41.23h0.8v0.8h-0.8zM137.58 40.34h0.8v0.8h-0.8zM126.94 47.48h0.8v0.8h-0.8zM132.07 49.58h0.8v0.8h-0.8zM125.11 45.36h0.8v0.8h-0.8zM133.35 54.79h0.8v0.8h-0.8zM134.72 50.04h0.8v0.8h-0.8zM129.61 44.15h0.8v0.8h-0.8zM128.35 46.9h0.8v0.8h-0.8zM133.54 44.38h0.8v0.8h-0.8zM141.17 41.32h0.8v0.8h-0.8zM134.97 46.24h0.8v0.8h-0.8zM130.21 45.15h0.8v0.8h-0.8zM138.56 45.66h0.8v0.8h-0.8zM133.66 48.22h0.8v0.8h-0.8zM134.64 51.1h0.8v0.8h-0.8zM139.14 42.99h0.8v0.8h-0.8zM126.81 57.91h0.8v0.8h-0.8zM137.26 47.94h0.8v0.8h-0.8zM129.48 49.05h0.8v0.8h-0.8zM137.4 42.78h0.8v0.8h-0.8zM138.14 47.15h0.8v0.8h-0.8zM129.11 45.06h0.8v0.8h-0.8zM124.35 44.06h0.8v0.8h-0.8zM126.44 48.93h0.8v0.8h-0.8zM134.5 47.74h0.8v0.8h-0.8zM131.85 50.02h0.8v0.8h-0.8zM138.91 51.04h0.8v0.8h-0.8zM138.73 47.11h0.8v0.8h-0.8zM132.66 43.5h0.8v0.8h-0.8zM133.87 42.24h0.8v0.8h-0.8zM133.25 43.61h0.8v0.8h-0.8zM129.15 54.98h0.8v0.8h-0.8zM131.64 52.36h0.8v0.8h-0.8zM129.71 36.05h0.8v0.8h-0.8zM138.25 46.39h0.8v0.8h-0.8zM127.68 53.3h0.8v0.8h-0.8zM125.25 42.93h0.8v0.8h-0.8zM136.62 43.23h0.8v0.8h-0.8zM136.53 45.62h0.8v0.8h-0.8zM129.86 47.92h0.8v0.8h-0.8zM128.42 54.07h0.8v0.8h-0.8zM136.37 47.91h0.8v0.8h-0.8zM133.94 50.81h0.8v0.8h-0.8zM139.29 37.78h0.8v0.8h-0.8zM136.01 53.1h0.8v0.8h-0.8zM129.35 47.58h0.8v0.8h-0.8zM129.19 55.08h0.8v0.8h-0.8zM125.21 51.22h0.8v0.8h-0.8zM137.31 51.01h0.8v0.8h-0.8zM128.52 44.68h0.8v0.8h-0.8zM136.37 41.71h0.8v0.8h-0.8zM126.56 53.33h0.8v0.8h-0.8zM130.33 38.82h0.8v0.8h-0.8zM127.07 43.54h0.8v0.8h-0.8zM126.71 55.07h0.8v0.8h-0.8zM125.92 49.74h0.8v0.8h-0.8zM128 51.12h0.8v0.8h-0.8zM133.46 56.26h0.8v0.8h-0.8zM128.38 41.78h0.8v0.8h-0.8zM135.74 47.81h0.8v0.8h-0.8zM137.56 43.17h0.8v0.8h-0.8zM128.35 42.44h0.8v0.8h-0.8zM131.72 44.11h0.8v0.8h-0.8zM135.35 42.42h0.8v0.8h-0.8zM132.32 49.02h0.8v0.8h-0.8zM128.04 44.79h0.8v0.8h-0.8zM126.91 46.42h0.8v0.8h-0.8zM128.64 50.89h0.8v0.8h-0.8zM130.96 50.9h0.8v0.8h-0.8zM139.06 45.84h0.8v0.8h-0.8zM129.47 49.81h0.8v0.8h-0.8zM141.38 45.31h0.8v0.8h-0.8zM139.34 54.77h0.8v0.8h-0.8zM126.02 49.94h0.8v0.8h-0.8zM137.54 47.85h0.8v0.8h-0.8zM131.73 60.78h0.8v0.8h-0.8zM132.7 60.68h0.8v0.8h-0.8zM126.46 57.6h0.8v0.8h-0.8zM128.39 32.66h0.8v0.8h-0.8zM126.79 44.61h0.8v0.8h-0.8zM130.7 52.14h0.8v0.8h-0.8zM134.36 50.71h0.8v0.8h-0.8zM127.19 58.44h0.8v0.8h-0.8zM136.9 47.73h0.8v0.8h-0.8zM128.07 47.22h0.8v0.8h-0.8zM129.81 43.25h0.8v0.8h-0.8zM130.87 43.44h0.8v0.8h-0.8zM134.13 43.51h0.8v0.8h-0.8zM133.37 49.47h0.8v0.8h-0.8zM131.76 50.72h0.8v0.8h-0.8zM125.8 63.29h0.8v0.8h-0.8zM127.47 52.01h0.8v0.8h-0.8zM131.04 44.85h0.8v0.8h-0.8zM139.61 54.27h0.8v0.8h-0.8zM129.56 50.96h0.8v0.8h-0.8zM134.34 57.2h0.8v0.8h-0.8zM135.99 46.48h0.8v0.8h-0.8zM129.67 40.37h0.8v0.8h-0.8zM132.24 52.82h0.8v0.8h-0.8zM128.98 51.58h0.8v0.8h-0.8zM131.59 44.67h0.8v0.8h-0.8zM124.84 54.33h0.8v0.8h-0.8zM143.59 50.86h0.8v0.8h-0.8zM125.55 41.16h0.8v0.8h-0.8zM132.2 51.5h0.8v0.8h-0.8zM138.52 32.68h0.8v0.8h-0.8zM140.18 48.52h0.8v0.8h-0.8zM131.62 49.88h0.8v0.8h-0.8zM129.16 45.74h0.8v0.8h-0.8zM136.21 36.85h0.8v0.8h-0.8zM130.37 50.94h0.8v0.8h-0.8zM138.59 49.79h0.8v0.8h-0.8zM134.48 51.84h0.8v0.8h-0.8zM132.05 49.7h0.8v0.8h-0.8zM126.88 46.21h0.8v0.8h-0.8zM140.18 39.94h0.8v0.8h-0.8zM130.11 39.7h0.8v0.8h-0.8zM128.28 42.74h0.8v0.8h-0.8zM124.82 48.99h0.8v0.8h-0.8zM126.23 50.75h0.8v0.8h-0.8zM139.98 31.75h0.8v0.8h-0.8zM130.12 34.6h0.8v0.8h-0.8zM130.33 49.8h0.8v0.8h-0.8zM132.01 54.94h0.8v0.8h-0.8zM131.75 36.87h0.8v0.8h-0.8zM138.48 41.65h0.8v0.8h-0.8zM130.49 49.49h0.8v0.8h-0.8zM126.55 48.05h0.8v0.8h-0.8zM138.43 37.09h0.8v0.8h-0.8zM130.12 39.61h0.8v0.8h-0.8zM132.91 39.32h0.8v0.8h-0.8zM133.83 47.1h0.8v0.8h-0.8zM131.77 39.25h0.8v0.8h-0.8zM129.87 50.45h0.8v0.8h-0.8zM135.81 59.82h0.8v0.8h-0.8zM134.27 47.05h0.8v0.8h-0.8zM125.55 44.98h0.8v0.8h-0.8zM129.71 50.22h0.8v0.8h-0.8zM129.7 62.8h0.8v0.8h-0.8zM137.59 33.91h0.8v0.8h-0.8zM125.12 47.47h0.8v0.8h-0.8zM135.88 49.99h0.8v0.8h-0.8zM137.72 51.14h0.8v0.8h-0.8zM143.79 52.43h0.8v0.8h-0.8zM133.29 56.95h0.8v0.8h-0.8zM128.74 44.11h0.8v0.8h-0.8zM125.91 49.02h0.8v0.8h-0.8zM133.17 53.29h0.8v0.8h-0.8zM138.23 51.35h0.8v0.8h-0.8zM137.14 45.94h0.8v0.8h-0.8zM126.15 52.01h0.8v0.8h-0.8zM136.06 55.78h0.8v0.8h-0.8zM130.15 44.56h0.8v0.8h-0.8zM129.16 49.71h0.8v0.8h-0.8zM130.74 46.33h0.8v0.8h-0.8zM132.26 45.67h0.8v0.8h-0.8zM132.67 43.75h0.8v0.8h-0.8zM140.45 42.43h0.8v0.8h-0.8zM135.57 55.83h0.8v0.8h-0.8zM128.26 49.07h0.8v0.8h-0.8zM138.69 48.62h0.8v0.8h-0.8zM127.26 48.16h0.8v0.8h-0.8zM132.42 44.89h0.8v0.8h-0.8zM129.43 42.38h0.8v0.8h-0.8zM133.86 48.71h0.8v0.8h-0.8zM132.72 44.33h0.8v0.8h-0.8z" fill="#aaa" opacity="0.45"/>
<path d="M114.87 47.56h0.8v0.8h-0.8zM113.58 48.23h0.8v0.8h-0.8zM111.51 39.84h0.8v0.8h-0.8zM106.57 35.84h0.8v0.8h-0.8zM106.17 40.18h0.8v0.8h-0.8zM113.86 40.1h0.8v0.8h-0.8zM101.68 35.63h0.8v0.8h-0.8zM120.65 42.59h0.8v0.8h-0.8zM112.93 44.13h0.8v0.8h-0.8zM119.18 39.67h0.8v0.8h-0.8zM112.66 50.97h0.8v0.8h-0.8zM113.31 52.91h0.8v0.8h-0.8zM117.17 36.27h0.8v0.8h-0.8zM112.74 41.46h0.8v0.8h-0.8zM114.89 48.07h0.8v0.8h-0.8zM109.59 57.09h0.8v0.8h-0.8zM106.83 60.85h0.8v0.8h-0.8zM119.62 39.54h0.8v0.8h-0.8zM105.82 56.66h0.8v0.8h-0.8zM106.28 56.65h0.8v0.8h-0.8zM109.45 47h0.8v0.8h-0.8zM120.78 39.19h0.8v0.8h-0.8zM113.34 45.68h0.8v0.8h-0.8zM108.07 61.53h0.8v0.8h-0.8zM117.65 39.89h0.8v0.8h-0.8zM117.5 47.21h0.8v0.8h-0.8zM109.5 57.52h0.8v0.8h-0.8zM107.8 55.25h0.8v0.8h-0.8zM115.01 42.6h0.8v0.8h-0.8zM113.91 38.46h0.8v0.8h-0.8zM116.92 52.05h0.8v0.8h-0.8zM119.28 42.41h0.8v0.8h-0.8zM118.93 41.62h0.8v0.8h-0.8zM113.15 49.21h0.8v0.8h-0.8zM108.2 50.05h0.8v0.8h-0.8zM114.24 42.59h0.8v0.8h-0.8zM111.74 38.09h0.8v0.8h-0.8zM117.84 52.26h0.8v0.8h-0.8zM108.25 53.22h0.8v0.8h-0.8zM110.81 38.9h0.8v0.8h-0.8zM109.27 60.95h0.8v0.8h-0.8zM112.79 50.46h0.8v0.8h-0.8zM115 38.94h0.8v0.8h-0.8zM106.71 45h0.8v0.8h-0.8zM108.18 49.72h0.8v0.8h-0.8zM107.68 45.2h0.8v0.8h-0.8zM121.41 34.37h0.8v0.8h-0.8zM111.16 46.16h0.8v0.8h-0.8zM109.7 47.08h0.8v0.8h-0.8zM104.51 42.54h0.8v0.8h-0.8zM112.07 40.43h0.8v0.8h-0.8zM117.85 43.88h0.8v0.8h-0.8zM117.16 54.88h0.8v0.8h-0.8zM106.35 51.81h0.8v0.8h-0.8zM107.56 51.98h0.8v0.8h-0.8zM113.06 58.79h0.8v0.8h-0.8zM107.18 46.08h0.8v0.8h-0.8zM115.05 39.92h0.8v0.8h-0.8zM111.91 54.56h0.8v0.8h-0.8zM106.76 42.43h0.8v0.8h-0.8zM109.97 37.65h0.8v0.8h-0.8zM103.14 56.98h0.8v0.8h-0.8zM109.72 44.8h0.8v0.8h-0.8zM113.73 57.96h0.8v0.8h-0.8zM120 37.31h0.8v0.8h-0.8zM109.92 44.7h0.8v0.8h-0.8zM103.9 62.14h0.8v0.8h-0.8zM107.9 57.07h0.8v0.8h-0.8zM111.11 48.06h0.8v0.8h-0.8zM113.03 52.91h0.8v0.8h-0.8zM118.75 37.02h0.8v0.8h-0.8zM113.33 52h0.8v0.8h-0.8zM114.76 49.44h0.8v0.8h-0.8zM117.18 40h0.8v0.8h-0.8zM120.35 41.89h0.8v0.8h-0.8zM115.7 58.59h0.8v0.8h-0.8zM112.28 46.55h0.8v0.8h-0.8zM116.26 47.91h0.8v0.8h-0.8zM105.47 48.8h0.8v0.8h-0.8zM107.27 43.38h0.8v0.8h-0.8zM118.09 57.78h0.8v0.8h-0.8zM109.87 47.53h0.8v0.8h-0.8zM108.79 47.61h0.8v0.8h-0.8zM103.18 51.3h0.8v0.8h-0.8zM113.49 44.36h0.8v0.8h-0.8zM110.98 44.56h0.8v0.8h-0.8zM110.38 44.19h0.8v0.8h-0.8zM116.15 55.99h0.8v0.8h-0.8zM112.8 52.19h0.8v0.8h-0.8zM116.99 56.62h0.8v0.8h-0.8zM112.08 51.21h0.8v0.8h-0.8zM112.69 49.3h0.8v0.8h-0.8zM114.35 50.12h0.8v0.8h-0.8zM115.58 52.72h0.8v0.8h-0.8zM108.85 52.73h0.8v0.8h-0.8zM113.86 45.88h0.8v0.8h-0.8zM111.16 45.07h0.8v0.8h-0.8zM111.58 45.03h0.8v0.8h-0.8zM108.29 56.8h0.8v0.8h-0.8zM109.99 46.85h0.8v0.8h-0.8zM111.94 37.58h0.8v0.8h-0.8zM109.16 43.6h0.8v0.8h-0.8zM113.42 46.6h0.8v0.8h-0.8zM107.15 44.04h0.8v0.8h-0.8zM121.25 44.95h0.8v0.8h-0.8zM109.42 56.28h0.8v0.8h-0.8zM109.53 43.25h0.8v0.8h-0.8zM108.9 49.07h0.8v0.8h-0.8zM111.88 50.05h0.8v0.8h-0.8zM114.78 47.4h0.8v0.8h-0.8zM103.94 37.98h0.8v0.8h-0.8zM116.15 39.07h0.8v0.8h-0.8zM106.28 59.23h0.8v0.8h-0.8zM114.66 44.41h0.8v0.8h-0.8zM109.66 56.71h0.8v0.8h-0.8zM107.08 36.73h0.8v0.8h-0.8zM109.85 44.46h0.8v0.8h-0.8zM112.93 44.41h0.8v0.8h-0.8zM112.07 49.63h0.8v0.8h-0.8zM107.98 42.24h0.8v0.8h-0.8zM105.21 48.79h0.8v0.8h-0.8zM111.29 54.03h0.8v0.8h-0.8zM109.1 43.41h0.8v0.8h-0.8zM101.35 45.09h0.8v0.8h-0.8zM103.29 48.56h0.8v0.8h-0.8zM115.68 53.89h0.8v0.8h-0.8zM114.14 51.53h0.8v0.8h-0.8zM111.05 56.29h0.8v0.8h-0.8zM108.34 54.43h0.8v0.8h-0.8zM114.73 53.4h0.8v0.8h-0.8zM116.42 40.02h0.8v0.8h-0.8zM119.26 44.21h0.8v0.8h-0.8zM111.01 41.45h0.8v0.8h-0.8zM116.99 42.69h0.8v0.8h-0.8zM112.45 53.7h0.8v0.8h-0.8zM113.18 46.49h0.8v0.8h-0.8zM111.11 59.38h0.8v0.8h-0.8zM112.42 40.34h0.8v0.8h-0.8zM111.31 41.36h0.8v0.8h-0.8zM111.09 47.26h0.8v0.8h-0.8zM109.12 44.29h0.8v0.8h-0.8zM106.43 48.74h0.8v0.8h-0.8zM120.59 37.04h0.8v0.8h-0.8zM108.82 60.22h0.8v0.8h-0.8zM108.04 55.01h0.8v0.8h-0.8zM115.71 42.59h0.8v0.8h-0.8zM118.08 46.05h0.8v0.8h-0.8zM114.52 46.48h0.8v0.8h-0.8zM110.38 49.54h0.8v0.8h-0.8zM106.3 47.64h0.8v0.8h-0.8zM116.87 49.09h0.8v0.8h-0.8zM109.52 52.32h0.8v0.8h-0.8zM121.59 44.89h0.8v0.8h-0.8zM105.06 44.02h0.8v0.8h-0.8zM118.88 40.52h0.8v0.8h-0.8zM114.59 57.56h0.8v0.8h-0.8zM117.74 43.98h0.8v0.8h-0.8zM104 51.37h0.8v0.8h-0.8zM111.2 54.25h0.8v0.8h-0.8zM114.4 57.99h0.8v0.8h-0.8zM110.52 48.28h0.8v0.8h-0.8zM111.94 55.02h0.8v0.8h-0.8zM112.28 44.73h0.8v0.8h-0.8zM104.5 54.61h0.8v0.8h-0.8zM114.92 45.21h0.8v0.8h-0.8zM107.18 42.89h0.8v0.8h-0.8zM107 43.34h0.8v0.8h-0.8zM107.88 51.59h0.8v0.8h-0.8zM111.88 33.81h0.8v0.8h-0.8zM112.61 37.74h0.8v0.8h-0.8zM115.82 48.56h0.8v0.8h-0.8zM106.28 39.56h0.8v0.8h-0.8zM111.78 48.45h0.8v0.8h-0.8zM103.51 44.71h0.8v0.8h-0.8zM110.57 56.49h0.8v0.8h-0.8zM117.27 49.76h0.8v0.8h-0.8zM106.69 43.85h0.8v0.8h-0.8zM117.28 43.2h0.8v0.8h-0.8zM120.24 43.95h0.8v0.8h-0.8zM104.32 52.91h0.8v0.8h-0.8zM110.47 50.96h0.8v0.8h-0.8zM110.29 48.49h0.8v0.8h-0.8zM104.04 61.59h0.8v0.8h-0.8zM115.2 49h0.8v0.8h-0.8zM111.81 55.67h0.8v0.8h-0.8zM108.86 49.17h0.8v0.8h-0.8zM114.26 45.03h0.8v0.8h-0.8zM108.7 46.01h0.8v0.8h-0.8zM111.47 45.31h0.8v0.8h-0.8zM102.49 46.03h0.8v0.8h-0.8zM114.67 50.43h0.8v0.8h-0.8zM117.55 57.99h0.8v0.8h-0.8zM111.92 43.27h0.8v0.8h-0.8zM115.13 46.93h0.8v0.8h-0.8zM103.9 46.91h0.8v0.8h-0.8zM111 46.65h0.8v0.8h-0.8zM114.16 51.25h0.8v0.8h-0.8zM110.53 50.87h0.8v0.8h-0.8zM111.09 44.3h0.8v0.8h-0.8zM118.07 36.63h0.8v0.8h-0.8zM118.47 35.41h0.8v0.8h-0.8zM103.33 55.06h0.8v0.8h-0.8zM118.68 52.35h0.8v0.8h-0.8zM115.87 41.16h0.8v0.8h-0.8zM113.63 38.58h0.8v0.8h-0.8zM111.59 48h0.8v0.8h-0.8zM110.29 54.74h0.8v0.8h-0.8zM109.65 37.66h0.8v0.8h-0.8zM111.23 44.98h0.8v0.8h-0.8zM107.98 58.64h0.8v0.8h-0.8zM114.77 41.01h0.8v0.8h-0.8zM112.68 41.9h0.8v0.8h-0.8zM109.14 52.59h0.8v0.8h-0.8zM104.64 51.97h0.8v0.8h-0.8zM116.14 62.88h0.8v0.8h-0.8zM119.17 52.21h0.8v0.8h-0.8zM110.95 50.38h0.8v0.8h-0.8zM112.61 41.37h0.8v0.8h-0.8zM118.38 39.71h0.8v0.8h-0.8zM103.9 50.45h0.8v0.8h-0.8zM112.26 42.07h0.8v0.8h-0.8zM110.38 59.94h0.8v0.8h-0.8zM110.83 47.33h0.8v0.8h-0.8zM111.95 56.54h0.8v0.8h-0.8zM114.85 55.47h0.8v0.8h-0.8zM107.29 51.51h0.8v0.8h-0.8zM116.31 36.51h0.8v0.8h-0.8zM116.07 55.05h0.8v0.8h-0.8zM118.38 50.66h0.8v0.8h-0.8zM115.39 49.52h0.8v0.8h-0.8zM110.16 55.66h0.8v0.8h-0.8zM110.46 53.31h0.8v0.8h-0.8zM108.41 57.6h0.8v0.8h-0.8zM119.21 37.93h0.8v0.8h-0.8zM118.41 54.8h0.8v0.8h-0.8zM111.05 43.42h0.8v0.8h-0.8zM120.87 52.83h0.8v0.8h-0.8zM112.62 53.97h0.8v0.8h-0.8zM104.4 60.43h0.8v0.8h-0.8zM121.4 38.95h0.8v0.8h-0.8zM110.07 48.67h0.8v0.8h-0.8zM110.55 53.01h0.8v0.8h-0.8zM112.71 52.18h0.8v0.8h-0.8zM110.37 50.76h0.8v0.8h-0.8zM104.04 62.05h0.8v0.8h-0.8zM108.83 57.86h0.8v0.8h-0.8zM112.68 47.91h0.8v0.8h-0.8zM114.35 39.18h0.8v0.8h-0.8zM120.42 55.32h0.8v0.8h-0.8zM113.63 45.69h0.8v0.8h-0.8zM118.65 48.6h0.8v0.8h-0.8zM111.07 44.12h0.8v0.8h-0.8zM118.19 53.67h0.8v0.8h-0.8zM112.81 43.92h0.8v0.8h-0.8zM117.04 53.07h0.8v0.8h-0.8zM107.91 54.7h0.8v0.8h-0.8zM118.5 43.13h0.8v0.8h-0.8zM114.31 58.62h0.8v0.8h-0.8zM114.16 38.82h0.8v0.8h-0.8zM117.81 48.2h0.8v0.8h-0.8z" fill="#999" opacity="0.5"/>
<ellipse cx="111.8" cy="48.8" rx="12.5" ry="8.2" transform="rotate(-68 111.8 48.8)" fill="#bdbdbd" opacity="0.8"/>
<ellipse cx="111.5" cy="49.2" rx="10.6" ry="6.3" transform="rotate(-68 111.5 49.2)" fill="#fff" opacity="0.9"/>
<ellipse cx="111.2" cy="49.5" rx="9.2" ry="5.3" transform="rotate(-68 111.2 49.5)" fill="#8a8a8a" stroke="#333" stroke-width="0.8"/>
<ellipse cx="109.2" cy="52" rx="2.5" ry="1" transform="rotate(-68 109.2 52)" fill="none" stroke="rgb(20,20,20)" stroke-width="0.6"/>
<ellipse cx="109.65" cy="51.45" rx="3.88" ry="1.88" transform="rotate(-68 109.65 51.45)" fill="none" stroke="rgb(37,37,37)" stroke-width="0.6"/>
<ellipse cx="110.1" cy="50.9" rx="5.25" ry="2.75" transform="rotate(-68 110.1 50.9)" fill="none" stroke="rgb(55,55,55)" stroke-width="0.6"/>
<ellipse cx="110.55" cy="50.35" rx="6.62" ry="3.62" transform="rotate(-68 110.55 50.35)" fill="none" stroke="rgb(72,72,72)" stroke-width="0.6"/>
<ellipse cx="111" cy="49.8" rx="8" ry="4.5" transform="rotate(-68 111 49.8)" fill="none" stroke="rgb(90,90,90)" stroke-width="0.6"/>
<ellipse cx="109.4" cy="51.6" rx="5.6" ry="2.9" transform="rotate(-68 109.4 51.6)" fill="#1a1a1a"/>
<ellipse cx="109.7" cy="52.4" rx="2.3" ry="0.9" transform="rotate(-68 109.7 52.4)" fill="#fff"/>
<rect x="100.3" y="31.6" width="23.3" height="33.6" fill="none" stroke="#1a1a1a" stroke-width="1.3"/>
<text x="110.95" y="29.2" font-size="6.6" text-anchor="middle">95.1</text>
<path d="M92.9 68.2h-2.2M92.9 66.5h-1.5M92.9 64.8h-1.5M92.9 63.1h-1.5M92.9 61.1h-2.2M92.9 59.1h-2.2M92.9 58h-2.2M92.9 56h-1.5M92.9 54.7h-1.5M92.9 53.4h-1.5M92.9 52.3h-1.5M92.9 50.6h-1.5M92.9 49.5h-1.5M92.9 47.5h-1.5M92.9 46.4h-1.5M92.9 44.9h-2.2M92.9 43.8h-2.2M92.9 42.7h-1.5M92.9 40.7h-1.5M92.9 39h-1.5M92.9 37.7h-1.5M92.9 36h-1.5M92.9 34.7h-2.2M92.9 33.4h-2.2M92.9 31.4h-1.5M92.9 30.3h-2.2M92.9 28.6h-1.5M92.9 26.9h-2.2M92.9 25.6h-1.5M92.9 23.9h-1.5M92.9 22.2h-1.5M92.9 20.7h-1.5M92.9 19h-1.5M92.9 17.9h-2.2M92.9 16.2h-2.2M92.9 15.1h-1.5M92.9 13.1h-2.2M92.9 11.1h-1.5M94.1 69.4v2.2M96.9 69.4v2.2M98.4 69.4v1.5M99.9 69.4v1.5M102.1 69.4v1.5M103.4 69.4v2.2M104.5 69.4v1.5M105.8 69.4v1.5M107.3 69.4v2.2M108.4 69.4v1.5M111.2 69.4v1.5M113 69.4v1.5M114.3 69.4v1.5M116.5 69.4v2.2M118 69.4v1.5M119.8 69.4v1.5M121.1 69.4v2.2M122.2 69.4v1.5M124 69.4v1.5M125.8 69.4v2.2M127.3 69.4v2.2M128.8 69.4v1.5M129.9 69.4v1.5M131.2 69.4v1.5M132.7 69.4v1.5M134 69.4v1.5M136.8 69.4v1.5M137.9 69.4v1.5M140.7 69.4v1.5M143.5 69.4v1.5M144.8 69.4v1.5M146.3 69.4v1.5M147.8 69.4v1.5M149.6 69.4v1.5M151.4 69.4v1.5" stroke="#333" stroke-width="0.7" fill="none"/>
<rect x="92.9" y="9.4" width="60.7" height="60" fill="none" stroke="#231f20" stroke-width="1.2"/>
<path d="M183.6 37.11h0.8v0.8h-0.8zM183.27 50.02h0.8v0.8h-0.8zM179.19 46.54h0.8v0.8h-0.8zM190.36 52.54h0.8v0.8h-0.8zM188.19 43.47h0.8v0.8h-0.8zM183.65 39.05h0.8v0.8h-0.8zM180.28 59.62h0.8v0.8h-0.8zM184.04 28.83h0.8v0.8h-0.8zM188.75 57.73h0.8v0.8h-0.8zM186 36.78h0.8v0.8h-0.8zM179.11 47.82h0.8v0.8h-0.8zM183.42 32.83h0.8v0.8h-0.8zM187.6 25.62h0.8v0.8h-0.8zM188.27 12.57h0.8v0.8h-0.8zM181.57 24.06h0.8v0.8h-0.8zM183.43 49.56h0.8v0.8h-0.8zM178.2 56h0.8v0.8h-0.8zM181.27 34.9h0.8v0.8h-0.8zM189.53 32.08h0.8v0.8h-0.8zM191.81 38.09h0.8v0.8h-0.8zM184.17 29.41h0.8v0.8h-0.8zM190.31 39.68h0.8v0.8h-0.8zM182.25 29.58h0.8v0.8h-0.8zM181.52 39.32h0.8v0.8h-0.8zM181.1 49.52h0.8v0.8h-0.8zM184.47 33.36h0.8v0.8h-0.8zM186.92 56.72h0.8v0.8h-0.8zM174.41 44.52h0.8v0.8h-0.8zM189.97 41.99h0.8v0.8h-0.8zM188.7 22.85h0.8v0.8h-0.8zM180.97 51.94h0.8v0.8h-0.8zM184.2 41.12h0.8v0.8h-0.8zM187.74 44.62h0.8v0.8h-0.8zM186.87 34.76h0.8v0.8h-0.8zM183.19 55.35h0.8v0.8h-0.8zM182.24 24h0.8v0.8h-0.8zM182.94 50.62h0.8v0.8h-0.8zM193.46 42.13h0.8v0.8h-0.8zM181.62 47.35h0.8v0.8h-0.8zM186.15 53.89h0.8v0.8h-0.8zM187.21 49.01h0.8v0.8h-0.8zM187.17 45.19h0.8v0.8h-0.8zM180.21 38.57h0.8v0.8h-0.8zM192.52 55.58h0.8v0.8h-0.8zM189.4 44.92h0.8v0.8h-0.8zM184.14 44.39h0.8v0.8h-0.8zM183.07 52.81h0.8v0.8h-0.8zM183.15 31.78h0.8v0.8h-0.8zM176.8 58.12h0.8v0.8h-0.8zM181 30.64h0.8v0.8h-0.8zM186.67 60.87h0.8v0.8h-0.8zM187.96 36.64h0.8v0.8h-0.8zM187.46 31.04h0.8v0.8h-0.8zM183.47 40.76h0.8v0.8h-0.8zM184.77 49.29h0.8v0.8h-0.8zM187.34 61.86h0.8v0.8h-0.8zM188.77 37.21h0.8v0.8h-0.8zM185.96 30.78h0.8v0.8h-0.8zM181.73 36.55h0.8v0.8h-0.8zM189.67 32.6h0.8v0.8h-0.8z" fill="#aaa" opacity="0.45"/>
<path d="M184.6 50.4 C179.1 38.4 180.1 28.9 184.6 28.9 C189.1 28.9 190.1 38.4 184.6 50.4 Z" stroke="#aaa" stroke-width="0.5" fill="#d4d4d4"/>
<path d="M184.6 45.4 C181.1 38.4 181.4 31.4 184.6 31.4 C187.8 31.4 188.1 38.4 184.6 45.4 Z" stroke="#888" stroke-width="0.5" fill="#bbb"/>
<path d="M184.4 46.4 C185.2 54.6 184 58.6 184.6 62.6" stroke="#555" stroke-width="1.3" fill="none"/>
<ellipse cx="184.6" cy="60.8" rx="0.9" ry="2" fill="#333"/>
<ellipse cx="184.5" cy="37.2" rx="1.9" ry="3.4" fill="#eee" stroke="#111" stroke-width="1.1"/>
<ellipse cx="184.3" cy="37.2" rx="0.5" ry="1.6" fill="#fff"/>
<rect x="178.4" y="26.4" width="12.4" height="28.2" fill="none" stroke="#1a1a1a" stroke-width="1.3"/>
<text x="184.2" y="24.4" font-size="6.6" text-anchor="middle">95.3</text>
<path d="M168.2 68.2h-2.2M168.2 67.1h-1.5M168.2 65.8h-1.5M168.2 64.5h-1.5M168.2 62.5h-2.2M168.2 61.2h-2.2M168.2 60.1h-1.5M168.2 58.8h-2.2M168.2 57.1h-1.5M168.2 55.8h-1.5M168.2 54.7h-2.2M168.2 53h-1.5M168.2 51.7h-1.5M168.2 50.2h-1.5M168.2 48.9h-2.2M168.2 47.6h-1.5M168.2 45.6h-2.2M168.2 44.5h-1.5M168.2 43h-2.2M168.2 41.7h-1.5M168.2 40h-2.2M168.2 38h-1.5M168.2 36.7h-2.2M168.2 35h-1.5M168.2 33.7h-1.5M168.2 32.4h-1.5M168.2 30.9h-1.5M168.2 29.4h-1.5M168.2 27.7h-1.5M168.2 26.2h-1.5M168.2 25.1h-1.5M168.2 23.6h-1.5M168.2 21.6h-1.5M168.2 19.6h-1.5M168.2 18.1h-2.2M168.2 16.8h-2.2M168.2 14.8h-1.5M168.2 13.7h-1.5M168.2 12.2h-1.5M168.2 10.9h-2.2M169.4 69.4v1.5M171.2 69.4v1.5M172.3 69.4v1.5M173.4 69.4v1.5M176.2 69.4v2.2M177.5 69.4v2.2M178.8 69.4v1.5M180.1 69.4v1.5M181.9 69.4v1.5M184.1 69.4v1.5M185.6 69.4v1.5M187.4 69.4v1.5M188.5 69.4v1.5M190.3 69.4v2.2M193.1 69.4v1.5M194.9 69.4v1.5M196 69.4v1.5M197.8 69.4v1.5M198.9 69.4v2.2M201.1 69.4v1.5M202.4 69.4v1.5M203.7 69.4v2.2M205.9 69.4v2.2M208.1 69.4v1.5M209.4 69.4v1.5M210.9 69.4v1.5M213.1 69.4v1.5M215.9 69.4v1.5M218.7 69.4v1.5M220.5 69.4v2.2M221.8 69.4v1.5M223.6 69.4v1.5M225.4 69.4v1.5M226.9 69.4v2.2" stroke="#333" stroke-width="0.7" fill="none"/>
<rect x="168.2" y="9.4" width="61.2" height="60" fill="none" stroke="#231f20" stroke-width="1.2"/>
<path d="M269.16 32.51h0.8v0.8h-0.8zM274.96 34.67h0.8v0.8h-0.8zM278.68 24.69h0.8v0.8h-0.8zM277.42 31.21h0.8v0.8h-0.8zM290.52 29.75h0.8v0.8h-0.8zM294.87 20.18h0.8v0.8h-0.8zM290.52 25.72h0.8v0.8h-0.8zM274.28 31.76h0.8v0.8h-0.8zM302.11 15.84h0.8v0.8h-0.8zM301.3 23.81h0.8v0.8h-0.8zM297.83 18.62h0.8v0.8h-0.8zM291.62 22.11h0.8v0.8h-0.8zM272.32 29.13h0.8v0.8h-0.8zM283.09 18.28h0.8v0.8h-0.8zM285.12 22.41h0.8v0.8h-0.8zM283.27 19.94h0.8v0.8h-0.8zM291.24 22.94h0.8v0.8h-0.8zM268.06 30.1h0.8v0.8h-0.8zM280.04 20.23h0.8v0.8h-0.8zM289.62 29.42h0.8v0.8h-0.8zM285 39.49h0.8v0.8h-0.8zM297.89 22.35h0.8v0.8h-0.8zM290.59 28.65h0.8v0.8h-0.8zM287.85 36.86h0.8v0.8h-0.8zM272.2 19.13h0.8v0.8h-0.8zM287.03 30.91h0.8v0.8h-0.8zM287.96 18.66h0.8v0.8h-0.8zM293.46 16.95h0.8v0.8h-0.8zM292.89 28.96h0.8v0.8h-0.8zM290.72 33.51h0.8v0.8h-0.8zM288.62 41.85h0.8v0.8h-0.8zM287.74 23.95h0.8v0.8h-0.8zM305.96 14.29h0.8v0.8h-0.8zM277.47 44.93h0.8v0.8h-0.8zM295.56 17.3h0.8v0.8h-0.8zM281.46 39.96h0.8v0.8h-0.8zM282.41 23.63h0.8v0.8h-0.8zM281.75 31.8h0.8v0.8h-0.8zM298.63 31.21h0.8v0.8h-0.8zM285.82 39.95h0.8v0.8h-0.8zM275.87 40.76h0.8v0.8h-0.8zM285.78 31.75h0.8v0.8h-0.8zM279.38 27.63h0.8v0.8h-0.8zM291.57 32.9h0.8v0.8h-0.8zM267.96 41.33h0.8v0.8h-0.8zM278.37 25.63h0.8v0.8h-0.8zM276.5 38.85h0.8v0.8h-0.8zM292.01 28.95h0.8v0.8h-0.8zM278.96 30h0.8v0.8h-0.8zM297.96 17.06h0.8v0.8h-0.8zM289.86 33.09h0.8v0.8h-0.8zM299.89 21.38h0.8v0.8h-0.8zM294.89 36.63h0.8v0.8h-0.8zM275.83 21.97h0.8v0.8h-0.8zM278.29 31.36h0.8v0.8h-0.8zM296.85 23.1h0.8v0.8h-0.8zM295.25 22.61h0.8v0.8h-0.8zM283.65 25.63h0.8v0.8h-0.8zM277.37 38.17h0.8v0.8h-0.8zM290.24 29.65h0.8v0.8h-0.8zM279.64 29.62h0.8v0.8h-0.8zM290.49 29.74h0.8v0.8h-0.8zM298.05 13.32h0.8v0.8h-0.8zM296.31 27.75h0.8v0.8h-0.8zM283.76 30.92h0.8v0.8h-0.8zM290.31 36.79h0.8v0.8h-0.8zM286.68 34.98h0.8v0.8h-0.8zM288.62 25.1h0.8v0.8h-0.8zM294.4 28.98h0.8v0.8h-0.8zM285.23 35.25h0.8v0.8h-0.8zM283.46 31.29h0.8v0.8h-0.8zM279.03 44.3h0.8v0.8h-0.8zM282.9 31.63h0.8v0.8h-0.8zM287.69 32.81h0.8v0.8h-0.8zM283.39 35.73h0.8v0.8h-0.8zM273.55 25.9h0.8v0.8h-0.8zM289.99 26.74h0.8v0.8h-0.8zM285.48 14.1h0.8v0.8h-0.8zM283.96 24.91h0.8v0.8h-0.8zM282.48 27.82h0.8v0.8h-0.8zM280.03 27.48h0.8v0.8h-0.8zM287.37 14.43h0.8v0.8h-0.8zM273.33 39.78h0.8v0.8h-0.8zM298.6 13.76h0.8v0.8h-0.8zM274.07 27.88h0.8v0.8h-0.8zM281.7 40.74h0.8v0.8h-0.8zM293.94 29.53h0.8v0.8h-0.8zM288.93 28.02h0.8v0.8h-0.8zM277.32 27.11h0.8v0.8h-0.8zM299.04 37.84h0.8v0.8h-0.8zM286.92 37.22h0.8v0.8h-0.8zM279.92 32.87h0.8v0.8h-0.8zM298.54 18.98h0.8v0.8h-0.8zM288.4 22.41h0.8v0.8h-0.8zM295.89 12.13h0.8v0.8h-0.8zM288.95 24.45h0.8v0.8h-0.8zM288.2 29.51h0.8v0.8h-0.8zM298.86 25.9h0.8v0.8h-0.8zM295 24.77h0.8v0.8h-0.8zM281.64 41.47h0.8v0.8h-0.8zM299.24 22.68h0.8v0.8h-0.8zM290.82 23.19h0.8v0.8h-0.8zM277.42 41.73h0.8v0.8h-0.8zM286.38 42.47h0.8v0.8h-0.8zM290.75 24.84h0.8v0.8h-0.8zM280.86 32.72h0.8v0.8h-0.8zM276.02 32.48h0.8v0.8h-0.8zM296.96 18.41h0.8v0.8h-0.8zM299.59 18.08h0.8v0.8h-0.8zM285.38 21.79h0.8v0.8h-0.8zM281.38 28.19h0.8v0.8h-0.8zM289.72 25.08h0.8v0.8h-0.8zM276.78 35.02h0.8v0.8h-0.8zM273.56 29.72h0.8v0.8h-0.8zM291.5 40.75h0.8v0.8h-0.8zM273.52 41.27h0.8v0.8h-0.8zM270.71 17.12h0.8v0.8h-0.8zM273.66 35.94h0.8v0.8h-0.8zM283.15 24.62h0.8v0.8h-0.8zM301.31 21.64h0.8v0.8h-0.8zM274.49 23.96h0.8v0.8h-0.8zM284.33 24.42h0.8v0.8h-0.8zM289.73 17.81h0.8v0.8h-0.8zM293.18 19.81h0.8v0.8h-0.8zM285.91 26.33h0.8v0.8h-0.8zM294.34 31.14h0.8v0.8h-0.8zM277.8 27.23h0.8v0.8h-0.8zM303.75 23.1h0.8v0.8h-0.8zM303.86 23.03h0.8v0.8h-0.8zM292.17 36.33h0.8v0.8h-0.8zM278.47 30.35h0.8v0.8h-0.8zM284.56 34.5h0.8v0.8h-0.8zM277.91 32.64h0.8v0.8h-0.8zM277.76 32.31h0.8v0.8h-0.8zM298.16 28.2h0.8v0.8h-0.8zM292.6 42.96h0.8v0.8h-0.8zM281.34 35.03h0.8v0.8h-0.8zM273.63 20.23h0.8v0.8h-0.8zM280.28 41.7h0.8v0.8h-0.8zM285.27 30.87h0.8v0.8h-0.8zM295.36 21.99h0.8v0.8h-0.8zM278.07 29.25h0.8v0.8h-0.8zM279.76 36.85h0.8v0.8h-0.8zM283.36 34.04h0.8v0.8h-0.8zM271.81 34.99h0.8v0.8h-0.8zM302.97 19.2h0.8v0.8h-0.8zM288.68 35.42h0.8v0.8h-0.8zM292.93 35.07h0.8v0.8h-0.8zM278.76 39.2h0.8v0.8h-0.8zM279.26 38.19h0.8v0.8h-0.8zM279.95 35.74h0.8v0.8h-0.8zM286.35 22.61h0.8v0.8h-0.8zM283.41 22.05h0.8v0.8h-0.8zM296.22 28.08h0.8v0.8h-0.8zM286.42 33.23h0.8v0.8h-0.8zM303.66 14.74h0.8v0.8h-0.8zM271.57 40.96h0.8v0.8h-0.8zM278.87 27.39h0.8v0.8h-0.8zM296 28.91h0.8v0.8h-0.8zM295.82 33.82h0.8v0.8h-0.8zM278.75 30.24h0.8v0.8h-0.8zM278.96 12.73h0.8v0.8h-0.8zM283.75 30.33h0.8v0.8h-0.8zM278.39 35.36h0.8v0.8h-0.8zM291.41 19.73h0.8v0.8h-0.8zM289.19 24.91h0.8v0.8h-0.8zM284.39 30.33h0.8v0.8h-0.8zM299.11 23.09h0.8v0.8h-0.8zM291.23 25.8h0.8v0.8h-0.8zM285.42 29.45h0.8v0.8h-0.8zM275.7 23.83h0.8v0.8h-0.8zM303.64 29.87h0.8v0.8h-0.8zM291.19 10.72h0.8v0.8h-0.8zM285.41 19.78h0.8v0.8h-0.8zM281.9 27.28h0.8v0.8h-0.8zM277.52 28.41h0.8v0.8h-0.8zM284.13 35.51h0.8v0.8h-0.8zM301.36 24.6h0.8v0.8h-0.8zM284.59 28.2h0.8v0.8h-0.8zM283.17 30.14h0.8v0.8h-0.8zM279.61 31.43h0.8v0.8h-0.8zM291.17 22.99h0.8v0.8h-0.8zM278.25 32.81h0.8v0.8h-0.8zM285.6 28h0.8v0.8h-0.8zM285.61 33.94h0.8v0.8h-0.8zM281.22 23.99h0.8v0.8h-0.8zM287.17 22.08h0.8v0.8h-0.8zM294.27 28.73h0.8v0.8h-0.8zM290.14 27.75h0.8v0.8h-0.8zM273.71 35.42h0.8v0.8h-0.8zM288.45 31.45h0.8v0.8h-0.8zM275.64 34.39h0.8v0.8h-0.8zM273.51 38.41h0.8v0.8h-0.8zM286.24 29.08h0.8v0.8h-0.8zM301.02 23.37h0.8v0.8h-0.8zM281.56 27.03h0.8v0.8h-0.8zM284.4 35.38h0.8v0.8h-0.8zM290.69 21.21h0.8v0.8h-0.8zM282.69 27.34h0.8v0.8h-0.8zM291.34 26.02h0.8v0.8h-0.8zM276.24 28.43h0.8v0.8h-0.8zM290.59 14.47h0.8v0.8h-0.8zM299.53 14.76h0.8v0.8h-0.8zM294.01 26.96h0.8v0.8h-0.8zM295.95 29.98h0.8v0.8h-0.8zM281.34 31.45h0.8v0.8h-0.8zM295.04 26.22h0.8v0.8h-0.8zM276.39 29.31h0.8v0.8h-0.8zM274.5 38.34h0.8v0.8h-0.8zM275.34 23.98h0.8v0.8h-0.8zM281.83 33.7h0.8v0.8h-0.8zM285.83 26.75h0.8v0.8h-0.8zM288.79 31.31h0.8v0.8h-0.8zM272.62 31.49h0.8v0.8h-0.8zM295.6 27.17h0.8v0.8h-0.8zM271.3 33.12h0.8v0.8h-0.8zM299.49 24.58h0.8v0.8h-0.8zM287.62 34.92h0.8v0.8h-0.8zM301.22 28.39h0.8v0.8h-0.8zM269.34 30.15h0.8v0.8h-0.8zM280.89 31.52h0.8v0.8h-0.8zM283.18 32.14h0.8v0.8h-0.8zM301 26.15h0.8v0.8h-0.8zM293.13 23.31h0.8v0.8h-0.8zM300.09 21.93h0.8v0.8h-0.8zM287.05 27.44h0.8v0.8h-0.8zM288.17 33.61h0.8v0.8h-0.8zM302.74 15.14h0.8v0.8h-0.8zM279.42 40.65h0.8v0.8h-0.8zM283.74 22.74h0.8v0.8h-0.8zM292.98 23.52h0.8v0.8h-0.8zM268.52 21.37h0.8v0.8h-0.8zM278.51 36.47h0.8v0.8h-0.8zM280.27 39.7h0.8v0.8h-0.8zM304.07 18.09h0.8v0.8h-0.8zM286.71 27.23h0.8v0.8h-0.8zM292.23 24.2h0.8v0.8h-0.8zM298.61 30.27h0.8v0.8h-0.8zM288.62 19.19h0.8v0.8h-0.8zM289.61 23.8h0.8v0.8h-0.8zM291.14 32.06h0.8v0.8h-0.8zM280.56 33.7h0.8v0.8h-0.8zM294.05 16.37h0.8v0.8h-0.8zM286.2 33.68h0.8v0.8h-0.8zM286.94 35.43h0.8v0.8h-0.8zM271.67 27.01h0.8v0.8h-0.8zM287.73 26.08h0.8v0.8h-0.8zM291.12 32.02h0.8v0.8h-0.8zM292.42 21.2h0.8v0.8h-0.8zM275.15 21.26h0.8v0.8h-0.8zM278.15 35.67h0.8v0.8h-0.8zM281.65 20.15h0.8v0.8h-0.8zM291.37 24.26h0.8v0.8h-0.8zM292.81 20.88h0.8v0.8h-0.8zM289.05 17.83h0.8v0.8h-0.8zM292.28 27.02h0.8v0.8h-0.8zM270.42 40.35h0.8v0.8h-0.8zM296.54 33.63h0.8v0.8h-0.8zM293.29 27.07h0.8v0.8h-0.8zM273.69 39.76h0.8v0.8h-0.8zM268.19 38.57h0.8v0.8h-0.8zM278.72 26.09h0.8v0.8h-0.8zM276.45 33.95h0.8v0.8h-0.8zM287.58 22.35h0.8v0.8h-0.8zM290.12 30.8h0.8v0.8h-0.8zM291.75 38.73h0.8v0.8h-0.8zM280.04 26.98h0.8v0.8h-0.8zM290 24.13h0.8v0.8h-0.8zM287.22 26.5h0.8v0.8h-0.8zM292.18 23.92h0.8v0.8h-0.8zM286.72 27.23h0.8v0.8h-0.8zM270.12 22.72h0.8v0.8h-0.8zM285.16 19.54h0.8v0.8h-0.8zM290.64 29.89h0.8v0.8h-0.8zM297.78 14.47h0.8v0.8h-0.8zM289.72 32.86h0.8v0.8h-0.8zM277.66 29.74h0.8v0.8h-0.8zM296.09 36.81h0.8v0.8h-0.8zM297.27 27.63h0.8v0.8h-0.8zM279.69 37.72h0.8v0.8h-0.8zM289.92 16.07h0.8v0.8h-0.8zM284.56 27.88h0.8v0.8h-0.8zM284.22 16.46h0.8v0.8h-0.8zM290.87 24.91h0.8v0.8h-0.8zM275.51 19.75h0.8v0.8h-0.8zM291.93 27.37h0.8v0.8h-0.8zM285.23 16.09h0.8v0.8h-0.8zM291.55 34.57h0.8v0.8h-0.8zM274.89 41h0.8v0.8h-0.8zM281.18 35.82h0.8v0.8h-0.8zM280.21 20.15h0.8v0.8h-0.8zM281.13 41.3h0.8v0.8h-0.8zM288.63 35.78h0.8v0.8h-0.8zM291.03 31.51h0.8v0.8h-0.8zM282.71 32.27h0.8v0.8h-0.8zM285.33 35.61h0.8v0.8h-0.8zM284.39 37.78h0.8v0.8h-0.8zM293.59 13.87h0.8v0.8h-0.8zM285.68 32.62h0.8v0.8h-0.8zM303.59 24.65h0.8v0.8h-0.8zM279.73 19.71h0.8v0.8h-0.8zM289.88 21.19h0.8v0.8h-0.8zM288.13 29.86h0.8v0.8h-0.8zM277.47 42.29h0.8v0.8h-0.8zM294.6 26.62h0.8v0.8h-0.8zM291.23 27.33h0.8v0.8h-0.8zM272.01 34.3h0.8v0.8h-0.8zM290.58 22.63h0.8v0.8h-0.8zM286.64 30.66h0.8v0.8h-0.8zM286.75 29.73h0.8v0.8h-0.8zM289.07 26.18h0.8v0.8h-0.8zM275.25 33.83h0.8v0.8h-0.8zM290.49 20.09h0.8v0.8h-0.8zM290.02 27.8h0.8v0.8h-0.8zM268.04 19.73h0.8v0.8h-0.8zM282.25 25.12h0.8v0.8h-0.8zM283.34 37.19h0.8v0.8h-0.8zM280.14 35.03h0.8v0.8h-0.8zM286.78 29.27h0.8v0.8h-0.8zM292.43 22.73h0.8v0.8h-0.8zM280.52 27.15h0.8v0.8h-0.8zM285.61 28.94h0.8v0.8h-0.8zM283.47 42.37h0.8v0.8h-0.8zM278.64 32.45h0.8v0.8h-0.8zM275.39 36.88h0.8v0.8h-0.8zM291.83 32.36h0.8v0.8h-0.8zM291.31 20.86h0.8v0.8h-0.8zM297.74 19.3h0.8v0.8h-0.8zM303.72 28.74h0.8v0.8h-0.8zM278.09 25.81h0.8v0.8h-0.8zM294.57 33.08h0.8v0.8h-0.8zM292.2 32.17h0.8v0.8h-0.8zM293.06 30.03h0.8v0.8h-0.8zM294.8 19.95h0.8v0.8h-0.8zM273.25 36.35h0.8v0.8h-0.8zM274.54 27.42h0.8v0.8h-0.8zM286.27 33.46h0.8v0.8h-0.8zM288.46 19.96h0.8v0.8h-0.8zM286.72 37.94h0.8v0.8h-0.8zM295.45 24.37h0.8v0.8h-0.8zM279.92 12.24h0.8v0.8h-0.8zM290.95 27.7h0.8v0.8h-0.8zM274.51 37.72h0.8v0.8h-0.8zM288.4 25.77h0.8v0.8h-0.8zM294.62 28.88h0.8v0.8h-0.8zM284.67 27.39h0.8v0.8h-0.8zM279.58 41.33h0.8v0.8h-0.8zM281.6 33.77h0.8v0.8h-0.8zM300.22 24.14h0.8v0.8h-0.8zM274.54 35.69h0.8v0.8h-0.8zM273.57 24.71h0.8v0.8h-0.8zM280.69 36.4h0.8v0.8h-0.8zM287.12 25.98h0.8v0.8h-0.8zM282.43 22.1h0.8v0.8h-0.8zM278.33 32.44h0.8v0.8h-0.8zM290.41 22.84h0.8v0.8h-0.8zM284.95 31.55h0.8v0.8h-0.8zM292.55 14.3h0.8v0.8h-0.8zM290.06 26.85h0.8v0.8h-0.8zM285.4 30.57h0.8v0.8h-0.8zM269.2 40.29h0.8v0.8h-0.8zM278.86 24.09h0.8v0.8h-0.8zM291.5 23.56h0.8v0.8h-0.8zM285.01 34.68h0.8v0.8h-0.8zM275.15 30.54h0.8v0.8h-0.8zM294.82 28.64h0.8v0.8h-0.8zM299.8 15.23h0.8v0.8h-0.8zM268.16 29.71h0.8v0.8h-0.8zM275.81 36.23h0.8v0.8h-0.8zM280.81 26.91h0.8v0.8h-0.8zM274.51 31.16h0.8v0.8h-0.8zM286.33 36.96h0.8v0.8h-0.8zM294.95 32.27h0.8v0.8h-0.8zM294.38 28.12h0.8v0.8h-0.8zM296.18 24.56h0.8v0.8h-0.8zM301.5 25.91h0.8v0.8h-0.8zM300.52 19.76h0.8v0.8h-0.8zM284.66 33.14h0.8v0.8h-0.8zM279.6 27.6h0.8v0.8h-0.8zM284.68 20.88h0.8v0.8h-0.8zM288.76 36.92h0.8v0.8h-0.8zM288.97 32.36h0.8v0.8h-0.8zM291.61 27.26h0.8v0.8h-0.8zM288.09 31.42h0.8v0.8h-0.8zM279.32 37.34h0.8v0.8h-0.8zM273.77 31.24h0.8v0.8h-0.8zM275.65 25.57h0.8v0.8h-0.8zM270.53 41.99h0.8v0.8h-0.8zM291.46 29.41h0.8v0.8h-0.8zM303.54 17.34h0.8v0.8h-0.8zM288.5 20.99h0.8v0.8h-0.8zM286.79 19.23h0.8v0.8h-0.8zM297.62 12.98h0.8v0.8h-0.8zM284.39 35.02h0.8v0.8h-0.8zM278.09 35.33h0.8v0.8h-0.8zM293.53 24.19h0.8v0.8h-0.8zM290.85 21.16h0.8v0.8h-0.8zM282.23 14.7h0.8v0.8h-0.8zM294.96 17.07h0.8v0.8h-0.8zM278.15 33.93h0.8v0.8h-0.8zM296.32 15.82h0.8v0.8h-0.8zM283.62 27.28h0.8v0.8h-0.8zM272.95 27.69h0.8v0.8h-0.8zM292.31 29.17h0.8v0.8h-0.8zM279.79 34.35h0.8v0.8h-0.8zM290.01 28.33h0.8v0.8h-0.8zM283.87 30.13h0.8v0.8h-0.8zM283.55 22.07h0.8v0.8h-0.8zM286.67 33.77h0.8v0.8h-0.8zM285.13 38.72h0.8v0.8h-0.8zM279.25 24.81h0.8v0.8h-0.8zM277.92 23.86h0.8v0.8h-0.8zM284.39 17.55h0.8v0.8h-0.8zM284.35 27.7h0.8v0.8h-0.8zM284.07 32.81h0.8v0.8h-0.8zM285.41 24.55h0.8v0.8h-0.8zM290.09 22.09h0.8v0.8h-0.8zM297.01 30.62h0.8v0.8h-0.8zM291.34 31.49h0.8v0.8h-0.8zM276.22 39.36h0.8v0.8h-0.8zM272.37 36.54h0.8v0.8h-0.8zM281.25 11.6h0.8v0.8h-0.8zM276.03 29.52h0.8v0.8h-0.8zM277.51 34.41h0.8v0.8h-0.8zM286.13 19.59h0.8v0.8h-0.8zM273.5 23.2h0.8v0.8h-0.8zM271.99 22.48h0.8v0.8h-0.8zM274.52 39.84h0.8v0.8h-0.8zM289.26 19.95h0.8v0.8h-0.8zM285.13 23.11h0.8v0.8h-0.8zM299.79 31.71h0.8v0.8h-0.8zM278.18 30.22h0.8v0.8h-0.8zM303.17 28.02h0.8v0.8h-0.8zM287.15 32.26h0.8v0.8h-0.8zM271.13 36.49h0.8v0.8h-0.8zM282.19 29.86h0.8v0.8h-0.8zM281.94 19.48h0.8v0.8h-0.8zM271.22 39.09h0.8v0.8h-0.8zM292.63 27.33h0.8v0.8h-0.8zM279.82 20.59h0.8v0.8h-0.8zM275.77 23.83h0.8v0.8h-0.8zM302.14 19.69h0.8v0.8h-0.8zM291.61 25.9h0.8v0.8h-0.8zM286.02 37.12h0.8v0.8h-0.8zM294.37 27.19h0.8v0.8h-0.8zM292.32 29.4h0.8v0.8h-0.8zM284.27 32.74h0.8v0.8h-0.8zM284.79 27.28h0.8v0.8h-0.8zM297.76 36.05h0.8v0.8h-0.8zM285.72 37.48h0.8v0.8h-0.8zM276.13 33.84h0.8v0.8h-0.8zM293.04 22.84h0.8v0.8h-0.8zM283.59 20.96h0.8v0.8h-0.8zM281.6 43.84h0.8v0.8h-0.8zM285.98 27.67h0.8v0.8h-0.8zM270.21 31.62h0.8v0.8h-0.8zM276.5 34.58h0.8v0.8h-0.8zM281.94 26.59h0.8v0.8h-0.8zM279.98 33.34h0.8v0.8h-0.8zM289.54 15.34h0.8v0.8h-0.8zM277.51 42.68h0.8v0.8h-0.8zM272.05 35.02h0.8v0.8h-0.8zM292.36 37.46h0.8v0.8h-0.8zM288.13 34.84h0.8v0.8h-0.8zM283.32 24.14h0.8v0.8h-0.8zM279.32 17.6h0.8v0.8h-0.8zM296.85 31.77h0.8v0.8h-0.8zM286.24 34.27h0.8v0.8h-0.8zM281.68 42.37h0.8v0.8h-0.8zM276.99 28.65h0.8v0.8h-0.8zM272.64 24.44h0.8v0.8h-0.8zM297.48 35.24h0.8v0.8h-0.8zM272.76 36.09h0.8v0.8h-0.8zM286.65 23.62h0.8v0.8h-0.8zM273.56 39.51h0.8v0.8h-0.8zM293.49 23.84h0.8v0.8h-0.8zM275.31 33.54h0.8v0.8h-0.8zM269.2 39.62h0.8v0.8h-0.8zM298.76 27.68h0.8v0.8h-0.8zM285.84 31.66h0.8v0.8h-0.8zM281.28 32.59h0.8v0.8h-0.8zM280.77 33.2h0.8v0.8h-0.8zM281.52 32.91h0.8v0.8h-0.8zM290.55 24.98h0.8v0.8h-0.8zM276.3 38.84h0.8v0.8h-0.8zM281.27 27.9h0.8v0.8h-0.8zM286.62 21.62h0.8v0.8h-0.8zM294.5 26.53h0.8v0.8h-0.8zM276.97 29.4h0.8v0.8h-0.8zM280.84 25.13h0.8v0.8h-0.8zM284.73 12.31h0.8v0.8h-0.8zM284.98 26.41h0.8v0.8h-0.8zM278.38 38.36h0.8v0.8h-0.8zM282.71 34.02h0.8v0.8h-0.8zM280.5 30.04h0.8v0.8h-0.8zM292.6 30.85h0.8v0.8h-0.8zM292.98 23.26h0.8v0.8h-0.8zM295.78 18.92h0.8v0.8h-0.8zM270.31 32.81h0.8v0.8h-0.8zM271.78 40.72h0.8v0.8h-0.8zM285.15 28.63h0.8v0.8h-0.8zM286.54 27.11h0.8v0.8h-0.8zM281.85 28.82h0.8v0.8h-0.8zM281.37 23.1h0.8v0.8h-0.8zM300.73 29.53h0.8v0.8h-0.8zM293.3 40.25h0.8v0.8h-0.8zM280.37 39.01h0.8v0.8h-0.8zM274.07 41.18h0.8v0.8h-0.8zM282.54 38.26h0.8v0.8h-0.8zM289.28 33.14h0.8v0.8h-0.8zM291.76 28.22h0.8v0.8h-0.8zM288.42 38.56h0.8v0.8h-0.8zM289.6 29.41h0.8v0.8h-0.8zM295.66 19.61h0.8v0.8h-0.8zM302.89 24.62h0.8v0.8h-0.8zM280.54 21.26h0.8v0.8h-0.8zM293.74 20.56h0.8v0.8h-0.8zM286.24 29.06h0.8v0.8h-0.8zM294.95 26.79h0.8v0.8h-0.8zM268.02 35.96h0.8v0.8h-0.8zM288.45 27.89h0.8v0.8h-0.8zM293.43 27.36h0.8v0.8h-0.8zM295.59 16.18h0.8v0.8h-0.8zM296.9 23.55h0.8v0.8h-0.8zM289.87 30.73h0.8v0.8h-0.8zM284.85 34.48h0.8v0.8h-0.8zM285.89 33.79h0.8v0.8h-0.8zM283.05 39.18h0.8v0.8h-0.8zM270.47 34.27h0.8v0.8h-0.8zM285.5 30.48h0.8v0.8h-0.8zM277.21 31.46h0.8v0.8h-0.8zM290.79 32.83h0.8v0.8h-0.8zM293.78 19.3h0.8v0.8h-0.8zM283.4 27.79h0.8v0.8h-0.8zM271.2 35.33h0.8v0.8h-0.8zM289.4 15.84h0.8v0.8h-0.8zM299.63 20.15h0.8v0.8h-0.8zM268.05 44.18h0.8v0.8h-0.8zM295.82 17.12h0.8v0.8h-0.8zM297.93 25.65h0.8v0.8h-0.8zM294 28.33h0.8v0.8h-0.8zM292.06 28.95h0.8v0.8h-0.8zM296.16 24.39h0.8v0.8h-0.8zM291.65 27.58h0.8v0.8h-0.8zM283.11 23.81h0.8v0.8h-0.8zM269.87 28.52h0.8v0.8h-0.8zM289.45 23.43h0.8v0.8h-0.8zM306.3 37.56h0.8v0.8h-0.8zM289.65 22.28h0.8v0.8h-0.8zM287.4 25.81h0.8v0.8h-0.8zM294.71 37.88h0.8v0.8h-0.8zM302.44 26.41h0.8v0.8h-0.8zM293.66 36.34h0.8v0.8h-0.8zM294.88 28.79h0.8v0.8h-0.8zM273.5 32.47h0.8v0.8h-0.8zM285.67 26.92h0.8v0.8h-0.8zM273.82 21.83h0.8v0.8h-0.8zM278.68 32.63h0.8v0.8h-0.8zM283.77 21.82h0.8v0.8h-0.8zM290.4 38.85h0.8v0.8h-0.8zM279.42 18.17h0.8v0.8h-0.8zM283.6 30.03h0.8v0.8h-0.8zM295.97 22.81h0.8v0.8h-0.8zM297.3 22.9h0.8v0.8h-0.8zM299.28 29.2h0.8v0.8h-0.8zM298.15 21.31h0.8v0.8h-0.8zM275.96 36.85h0.8v0.8h-0.8zM286.43 22.74h0.8v0.8h-0.8zM291.18 23.49h0.8v0.8h-0.8zM292.15 25.47h0.8v0.8h-0.8zM281.3 39.51h0.8v0.8h-0.8zM304.52 22.32h0.8v0.8h-0.8zM281.27 18.68h0.8v0.8h-0.8zM287.59 27h0.8v0.8h-0.8zM271.95 23.75h0.8v0.8h-0.8zM292.13 31.37h0.8v0.8h-0.8zM298.89 36.48h0.8v0.8h-0.8zM271.09 41.43h0.8v0.8h-0.8zM289.91 36.33h0.8v0.8h-0.8zM281.41 24.26h0.8v0.8h-0.8zM286.17 31.5h0.8v0.8h-0.8zM276.41 29.13h0.8v0.8h-0.8zM290.34 31.9h0.8v0.8h-0.8zM284.97 32.74h0.8v0.8h-0.8zM279.85 30.07h0.8v0.8h-0.8zM290.08 32.78h0.8v0.8h-0.8zM297.42 19.4h0.8v0.8h-0.8zM295.69 36.4h0.8v0.8h-0.8zM290.54 22.45h0.8v0.8h-0.8zM283.36 19.46h0.8v0.8h-0.8zM274.61 26.2h0.8v0.8h-0.8zM291.75 20.9h0.8v0.8h-0.8zM286.07 28.84h0.8v0.8h-0.8zM279.31 24.17h0.8v0.8h-0.8zM287.32 32.67h0.8v0.8h-0.8zM283.13 29.57h0.8v0.8h-0.8zM288.46 28.42h0.8v0.8h-0.8zM286.25 36.31h0.8v0.8h-0.8zM294.53 33.74h0.8v0.8h-0.8zM278.82 18.35h0.8v0.8h-0.8zM270.06 35.64h0.8v0.8h-0.8zM283 18.12h0.8v0.8h-0.8zM285.04 38.44h0.8v0.8h-0.8zM285.29 23.47h0.8v0.8h-0.8zM284.66 30.14h0.8v0.8h-0.8zM280.66 29.72h0.8v0.8h-0.8zM280.84 33.64h0.8v0.8h-0.8zM302.99 27.44h0.8v0.8h-0.8zM279.23 22.51h0.8v0.8h-0.8zM273.73 38.02h0.8v0.8h-0.8zM284.74 24.4h0.8v0.8h-0.8zM277.97 32.34h0.8v0.8h-0.8zM289.63 30.9h0.8v0.8h-0.8zM281.17 13.76h0.8v0.8h-0.8zM281.32 33.6h0.8v0.8h-0.8zM290.97 30.91h0.8v0.8h-0.8zM274.91 34.59h0.8v0.8h-0.8zM279.76 29.14h0.8v0.8h-0.8zM281.85 37.41h0.8v0.8h-0.8zM292.69 26.33h0.8v0.8h-0.8zM272.77 32.86h0.8v0.8h-0.8zM286.12 31.28h0.8v0.8h-0.8zM279.78 30.67h0.8v0.8h-0.8zM306.31 14.59h0.8v0.8h-0.8zM274.06 18.14h0.8v0.8h-0.8zM284.96 41.4h0.8v0.8h-0.8zM287.68 18.17h0.8v0.8h-0.8zM292.04 25.41h0.8v0.8h-0.8zM281.65 37.4h0.8v0.8h-0.8zM279.23 30.8h0.8v0.8h-0.8zM286.08 29.89h0.8v0.8h-0.8zM282.73 32.88h0.8v0.8h-0.8zM285.88 29.91h0.8v0.8h-0.8zM286 23.54h0.8v0.8h-0.8zM274.01 36.19h0.8v0.8h-0.8zM296.15 23.74h0.8v0.8h-0.8zM284.33 23.92h0.8v0.8h-0.8zM271.66 29h0.8v0.8h-0.8zM276.54 32.15h0.8v0.8h-0.8zM272.47 36.91h0.8v0.8h-0.8zM274.98 40.99h0.8v0.8h-0.8zM278.72 20.16h0.8v0.8h-0.8zM281.63 33.16h0.8v0.8h-0.8zM290.94 30.75h0.8v0.8h-0.8zM281.85 30.15h0.8v0.8h-0.8zM285.24 33h0.8v0.8h-0.8zM279.1 31.96h0.8v0.8h-0.8zM285.1 26.36h0.8v0.8h-0.8zM281.39 41.83h0.8v0.8h-0.8zM285.89 21.54h0.8v0.8h-0.8z" fill="#999" opacity="0.55"/>
<ellipse cx="289" cy="27.5" rx="14.5" ry="8" transform="rotate(-36 289 27.5)" fill="#b5b5b5" opacity="0.8"/>
<ellipse cx="295.5" cy="22" rx="2" ry="1.2" transform="rotate(-38 295.5 22)" fill="none" stroke="rgb(20,20,20)" stroke-width="0.6"/>
<ellipse cx="294.42" cy="22.92" rx="4" ry="2.25" transform="rotate(-38 294.42 22.92)" fill="none" stroke="rgb(36,36,36)" stroke-width="0.6"/>
<ellipse cx="293.33" cy="23.83" rx="6" ry="3.3" transform="rotate(-38 293.33 23.83)" fill="none" stroke="rgb(53,53,53)" stroke-width="0.6"/>
<ellipse cx="292.25" cy="24.75" rx="8" ry="4.35" transform="rotate(-38 292.25 24.75)" fill="none" stroke="rgb(70,70,70)" stroke-width="0.6"/>
<ellipse cx="291.17" cy="25.67" rx="10" ry="5.4" transform="rotate(-38 291.17 25.67)" fill="none" stroke="rgb(86,86,86)" stroke-width="0.6"/>
<ellipse cx="290.08" cy="26.58" rx="12" ry="6.45" transform="rotate(-38 290.08 26.58)" fill="none" stroke="rgb(103,103,103)" stroke-width="0.6"/>
<ellipse cx="289" cy="27.5" rx="14" ry="7.5" transform="rotate(-38 289 27.5)" fill="none" stroke="rgb(120,120,120)" stroke-width="0.6"/>
<ellipse cx="292" cy="25.5" rx="13.5" ry="7.2" transform="rotate(-36 292 25.5)" fill="#666"/>
<ellipse cx="295.3" cy="22.2" rx="9" ry="6.4" transform="rotate(-48 295.3 22.2)" fill="#111"/>
<ellipse cx="293.5" cy="24" rx="2.6" ry="0.5" transform="rotate(-42 293.5 24)" fill="#777"/>
<ellipse cx="285.5" cy="31.5" rx="4.5" ry="2.2" transform="rotate(-35 285.5 31.5)" fill="#999" stroke="#fff" stroke-width="0.9"/>
<line x1="267.5" y1="9.4" x2="267.5" y2="69.4" stroke="#231f20" stroke-width="1.3"/>
<line x1="247.3" y1="46" x2="307.6" y2="46" stroke="#231f20" stroke-width="1.3"/>
<text x="249.3" y="16.3" font-size="6.6">0</text>
<text x="303" y="16.4" font-size="6.6" text-anchor="end">99.9</text>
<text x="249.3" y="67.2" font-size="6.6">0</text>
<text x="304" y="67.2" font-size="6.6" text-anchor="end">0.06</text>
<path d="M247.3 68.2h-1.5M247.3 66.9h-1.5M247.3 65.2h-1.5M247.3 63.7h-1.5M247.3 62h-1.5M247.3 60h-2.2M247.3 58.7h-1.5M247.3 57.6h-1.5M247.3 56.3h-1.5M247.3 54.8h-2.2M247.3 52.8h-1.5M247.3 51.7h-1.5M247.3 50.6h-1.5M247.3 49.1h-1.5M247.3 47.8h-2.2M247.3 46.3h-1.5M247.3 45h-1.5M247.3 43.9h-2.2M247.3 42.6h-1.5M247.3 41.3h-2.2M247.3 39.8h-2.2M247.3 38.7h-1.5M247.3 37.4h-1.5M247.3 36.3h-1.5M247.3 35h-2.2M247.3 33.9h-1.5M247.3 32.2h-1.5M247.3 30.9h-2.2M247.3 29.6h-2.2M247.3 27.9h-1.5M247.3 26.4h-1.5M247.3 25.3h-1.5M247.3 23.8h-2.2M247.3 22.7h-1.5M247.3 21.6h-1.5M247.3 20.3h-1.5M247.3 18.6h-1.5M247.3 17.5h-1.5M247.3 15.8h-1.5M247.3 14.7h-1.5M247.3 13.4h-2.2M247.3 11.9h-1.5M248.5 69.4v1.5M249.6 69.4v1.5M251.1 69.4v1.5M253.9 69.4v2.2M255.7 69.4v1.5M257.2 69.4v1.5M259.4 69.4v1.5M260.9 69.4v1.5M263.7 69.4v2.2M265.9 69.4v2.2M267 69.4v2.2M268.8 69.4v1.5M269.9 69.4v1.5M272.1 69.4v1.5M273.4 69.4v1.5M274.5 69.4v2.2M277.3 69.4v1.5M279.1 69.4v1.5M281.9 69.4v2.2M283.7 69.4v1.5M285.2 69.4v1.5M286.7 69.4v2.2M288.9 69.4v1.5M290.2 69.4v1.5M292.4 69.4v1.5M293.7 69.4v1.5M294.8 69.4v2.2M297.6 69.4v1.5M299.1 69.4v2.2M300.9 69.4v1.5M302.4 69.4v1.5M303.9 69.4v1.5M306.1 69.4v2.2" stroke="#333" stroke-width="0.7" fill="none"/>
<rect x="247.3" y="9.4" width="60.3" height="60" fill="none" stroke="#231f20" stroke-width="1.2"/>
<path d="M345.91 42.83h0.8v0.8h-0.8zM348.9 41.86h0.8v0.8h-0.8zM352.12 43.1h0.8v0.8h-0.8zM367.73 30.58h0.8v0.8h-0.8zM351.04 27.75h0.8v0.8h-0.8zM345.52 36.41h0.8v0.8h-0.8zM363.09 41.01h0.8v0.8h-0.8zM357.58 38.5h0.8v0.8h-0.8zM352.03 47.64h0.8v0.8h-0.8zM356.21 33.41h0.8v0.8h-0.8zM354.12 36.14h0.8v0.8h-0.8zM362.35 28.96h0.8v0.8h-0.8zM347.51 29.77h0.8v0.8h-0.8zM365.55 41.74h0.8v0.8h-0.8zM359.49 38.79h0.8v0.8h-0.8zM354.77 39.75h0.8v0.8h-0.8zM364.92 40.93h0.8v0.8h-0.8zM346.88 34.91h0.8v0.8h-0.8zM362.65 43.47h0.8v0.8h-0.8zM353.34 34.63h0.8v0.8h-0.8zM365.5 53h0.8v0.8h-0.8zM366.74 34.48h0.8v0.8h-0.8zM358.62 35.56h0.8v0.8h-0.8zM367.41 29.31h0.8v0.8h-0.8zM355.17 35.71h0.8v0.8h-0.8zM363.24 45.97h0.8v0.8h-0.8zM360.22 49.89h0.8v0.8h-0.8zM362.6 34.08h0.8v0.8h-0.8zM360.38 43.87h0.8v0.8h-0.8zM365.82 34.77h0.8v0.8h-0.8zM355.13 48.81h0.8v0.8h-0.8zM360.79 41.87h0.8v0.8h-0.8zM352.06 50.7h0.8v0.8h-0.8zM366.92 33.6h0.8v0.8h-0.8zM354.57 42.96h0.8v0.8h-0.8zM366.51 32.21h0.8v0.8h-0.8zM355.93 37.87h0.8v0.8h-0.8zM354.44 34.05h0.8v0.8h-0.8zM366.17 35.99h0.8v0.8h-0.8zM350.36 30.02h0.8v0.8h-0.8zM349.52 42.15h0.8v0.8h-0.8zM356.9 41.86h0.8v0.8h-0.8zM355.72 33.88h0.8v0.8h-0.8zM352.31 38.75h0.8v0.8h-0.8zM358.21 52.74h0.8v0.8h-0.8zM358.8 40.88h0.8v0.8h-0.8zM352.38 40.77h0.8v0.8h-0.8zM360.05 40.17h0.8v0.8h-0.8zM344.55 39.04h0.8v0.8h-0.8zM361.92 33.42h0.8v0.8h-0.8zM352.83 41.58h0.8v0.8h-0.8zM366.76 34.67h0.8v0.8h-0.8zM359.45 46.16h0.8v0.8h-0.8zM350.8 42.98h0.8v0.8h-0.8zM356.18 42.25h0.8v0.8h-0.8zM367.37 34.11h0.8v0.8h-0.8zM345.91 29.03h0.8v0.8h-0.8zM362.82 44.06h0.8v0.8h-0.8zM352.68 47.75h0.8v0.8h-0.8zM356.99 39.59h0.8v0.8h-0.8zM366.95 37.24h0.8v0.8h-0.8zM362.04 32.9h0.8v0.8h-0.8zM360.3 31.52h0.8v0.8h-0.8zM360.99 51.42h0.8v0.8h-0.8zM354.21 47.15h0.8v0.8h-0.8zM354.27 48.94h0.8v0.8h-0.8zM353.28 30.15h0.8v0.8h-0.8zM359.42 39.02h0.8v0.8h-0.8zM354.31 50.41h0.8v0.8h-0.8zM356.32 50.75h0.8v0.8h-0.8zM347.34 31.93h0.8v0.8h-0.8zM365.62 44.92h0.8v0.8h-0.8zM344.59 36.88h0.8v0.8h-0.8zM352.14 28.54h0.8v0.8h-0.8zM349.86 40.14h0.8v0.8h-0.8zM365.94 24.45h0.8v0.8h-0.8zM359.17 36.98h0.8v0.8h-0.8zM350.13 42.55h0.8v0.8h-0.8zM348.62 51.77h0.8v0.8h-0.8zM365.56 31.89h0.8v0.8h-0.8zM352.51 42.37h0.8v0.8h-0.8zM355.5 42.92h0.8v0.8h-0.8zM349.27 35.46h0.8v0.8h-0.8zM350.86 38.62h0.8v0.8h-0.8zM357.27 42.2h0.8v0.8h-0.8zM363.12 35.13h0.8v0.8h-0.8zM364.29 43.88h0.8v0.8h-0.8zM345.8 43.64h0.8v0.8h-0.8zM345.9 37.98h0.8v0.8h-0.8zM355.2 39.95h0.8v0.8h-0.8zM357.57 42.36h0.8v0.8h-0.8zM365.64 36.76h0.8v0.8h-0.8zM359.13 32.86h0.8v0.8h-0.8zM365.97 42.66h0.8v0.8h-0.8zM351.11 33.06h0.8v0.8h-0.8zM345.8 36.16h0.8v0.8h-0.8zM360.15 33.65h0.8v0.8h-0.8zM349.63 31.26h0.8v0.8h-0.8zM365.32 37.19h0.8v0.8h-0.8zM348.5 43.73h0.8v0.8h-0.8zM367.89 45.48h0.8v0.8h-0.8zM362.96 40.82h0.8v0.8h-0.8zM359.81 40.78h0.8v0.8h-0.8zM352.21 42.5h0.8v0.8h-0.8zM365.14 49.74h0.8v0.8h-0.8zM361.39 45.45h0.8v0.8h-0.8zM365.19 25.35h0.8v0.8h-0.8zM349.88 43.13h0.8v0.8h-0.8zM357.84 36.08h0.8v0.8h-0.8zM357.66 33.26h0.8v0.8h-0.8zM349.87 41.07h0.8v0.8h-0.8zM348.76 25.82h0.8v0.8h-0.8zM361.98 27.88h0.8v0.8h-0.8zM359.53 51.58h0.8v0.8h-0.8zM362.74 42.08h0.8v0.8h-0.8zM347.11 40.25h0.8v0.8h-0.8zM356.87 35.36h0.8v0.8h-0.8zM366.19 39.04h0.8v0.8h-0.8zM365.51 45.6h0.8v0.8h-0.8zM360.85 33.82h0.8v0.8h-0.8zM351.31 43.9h0.8v0.8h-0.8zM345.78 35.73h0.8v0.8h-0.8zM364.68 40.07h0.8v0.8h-0.8zM365.75 49.67h0.8v0.8h-0.8zM365.13 31.57h0.8v0.8h-0.8zM361.07 37.33h0.8v0.8h-0.8zM349.48 36.47h0.8v0.8h-0.8zM355.99 40.57h0.8v0.8h-0.8zM358.45 36h0.8v0.8h-0.8zM358.24 45.99h0.8v0.8h-0.8zM348.33 33.12h0.8v0.8h-0.8zM359.49 28.39h0.8v0.8h-0.8zM363.59 48.12h0.8v0.8h-0.8zM345.72 38.82h0.8v0.8h-0.8zM352.11 52.73h0.8v0.8h-0.8zM364.36 24.77h0.8v0.8h-0.8zM360.1 30.87h0.8v0.8h-0.8zM362.53 40.13h0.8v0.8h-0.8zM349.94 32.74h0.8v0.8h-0.8zM364.83 26.41h0.8v0.8h-0.8zM347.59 36.41h0.8v0.8h-0.8zM366.37 45.08h0.8v0.8h-0.8zM349.78 46.19h0.8v0.8h-0.8zM367 51.71h0.8v0.8h-0.8zM363.44 41.13h0.8v0.8h-0.8zM357.76 38.35h0.8v0.8h-0.8zM344.67 40.46h0.8v0.8h-0.8zM360.59 42.14h0.8v0.8h-0.8zM363.76 52.65h0.8v0.8h-0.8zM355.2 48.44h0.8v0.8h-0.8zM355 41.57h0.8v0.8h-0.8zM350.05 52.55h0.8v0.8h-0.8zM356.57 37.65h0.8v0.8h-0.8zM367.52 41.81h0.8v0.8h-0.8zM349.05 33.27h0.8v0.8h-0.8zM352.54 32.18h0.8v0.8h-0.8zM361.61 47.7h0.8v0.8h-0.8zM360.78 40.41h0.8v0.8h-0.8zM355.4 36.46h0.8v0.8h-0.8zM358.78 48.55h0.8v0.8h-0.8zM357.59 35.3h0.8v0.8h-0.8zM354.7 32.68h0.8v0.8h-0.8zM366.38 42.74h0.8v0.8h-0.8zM366.79 31.08h0.8v0.8h-0.8zM353.83 43.77h0.8v0.8h-0.8zM366.71 40.01h0.8v0.8h-0.8zM362.01 51.25h0.8v0.8h-0.8zM363.75 49.69h0.8v0.8h-0.8zM344.78 36.55h0.8v0.8h-0.8zM354.12 43.45h0.8v0.8h-0.8zM365.23 51.08h0.8v0.8h-0.8zM352.34 36.16h0.8v0.8h-0.8zM359.74 32.51h0.8v0.8h-0.8zM349.94 42.78h0.8v0.8h-0.8zM367.09 29.72h0.8v0.8h-0.8zM358.93 39.82h0.8v0.8h-0.8zM356.21 30.03h0.8v0.8h-0.8zM355.63 50.72h0.8v0.8h-0.8zM348.12 52.02h0.8v0.8h-0.8zM363.07 44.99h0.8v0.8h-0.8zM361.82 44.62h0.8v0.8h-0.8zM355.37 32.43h0.8v0.8h-0.8zM360.21 41.4h0.8v0.8h-0.8zM351.72 32.27h0.8v0.8h-0.8zM351.2 29.57h0.8v0.8h-0.8zM356.04 49.59h0.8v0.8h-0.8zM349.05 42.31h0.8v0.8h-0.8zM363.66 24.9h0.8v0.8h-0.8zM348.08 40.74h0.8v0.8h-0.8zM361.62 41.09h0.8v0.8h-0.8zM359.36 38.85h0.8v0.8h-0.8zM355.89 35h0.8v0.8h-0.8zM352.6 48.62h0.8v0.8h-0.8zM367.63 36.09h0.8v0.8h-0.8zM364.41 52.85h0.8v0.8h-0.8zM355.3 42.76h0.8v0.8h-0.8zM356.93 37.25h0.8v0.8h-0.8zM357.97 35.46h0.8v0.8h-0.8zM354.28 46.64h0.8v0.8h-0.8zM356.29 26.72h0.8v0.8h-0.8zM360.18 42h0.8v0.8h-0.8zM353.21 42.82h0.8v0.8h-0.8zM349.84 31.74h0.8v0.8h-0.8zM351.47 41.35h0.8v0.8h-0.8zM351.93 41.54h0.8v0.8h-0.8zM363.01 36.49h0.8v0.8h-0.8zM348.22 52.1h0.8v0.8h-0.8zM347.64 40.26h0.8v0.8h-0.8zM361.27 33.21h0.8v0.8h-0.8zM361.09 24.91h0.8v0.8h-0.8zM364.37 39.97h0.8v0.8h-0.8zM367.15 51.41h0.8v0.8h-0.8zM366.81 31.28h0.8v0.8h-0.8zM367.49 47.26h0.8v0.8h-0.8zM363.84 29.69h0.8v0.8h-0.8zM352.84 34.19h0.8v0.8h-0.8zM356.05 41.74h0.8v0.8h-0.8zM365.73 46.45h0.8v0.8h-0.8zM353.51 48.72h0.8v0.8h-0.8zM354.3 40.46h0.8v0.8h-0.8zM363.09 27.53h0.8v0.8h-0.8zM360.13 39.76h0.8v0.8h-0.8zM354.08 30.54h0.8v0.8h-0.8zM345.7 25.94h0.8v0.8h-0.8zM345.12 30.92h0.8v0.8h-0.8zM361.06 47.79h0.8v0.8h-0.8zM362.4 42.31h0.8v0.8h-0.8zM353.05 36.58h0.8v0.8h-0.8zM367.28 32.05h0.8v0.8h-0.8zM353.23 33.2h0.8v0.8h-0.8zM360.86 36.49h0.8v0.8h-0.8zM367.69 39.85h0.8v0.8h-0.8zM360.83 27.47h0.8v0.8h-0.8zM352.72 40.41h0.8v0.8h-0.8zM350.65 39.54h0.8v0.8h-0.8zM361.38 51.77h0.8v0.8h-0.8zM354.74 41.21h0.8v0.8h-0.8zM352.95 46.58h0.8v0.8h-0.8zM357.98 49.93h0.8v0.8h-0.8zM356.21 34.05h0.8v0.8h-0.8zM362.81 29.7h0.8v0.8h-0.8zM352.21 38.17h0.8v0.8h-0.8zM356.09 25.11h0.8v0.8h-0.8zM359.06 37.49h0.8v0.8h-0.8zM360.85 40.69h0.8v0.8h-0.8zM351.56 30.66h0.8v0.8h-0.8zM363.02 38.43h0.8v0.8h-0.8zM355.4 49.95h0.8v0.8h-0.8zM357.95 32.26h0.8v0.8h-0.8zM362.43 33.54h0.8v0.8h-0.8zM355.03 52.52h0.8v0.8h-0.8zM351.64 30.32h0.8v0.8h-0.8zM362.98 40.28h0.8v0.8h-0.8zM362.42 40.68h0.8v0.8h-0.8zM351.59 36.25h0.8v0.8h-0.8zM355.59 37.63h0.8v0.8h-0.8zM363.81 32.81h0.8v0.8h-0.8zM355.73 51.06h0.8v0.8h-0.8zM346.25 48.67h0.8v0.8h-0.8zM355.8 28.77h0.8v0.8h-0.8zM352.19 49.89h0.8v0.8h-0.8zM355.48 28.36h0.8v0.8h-0.8zM351.33 44.16h0.8v0.8h-0.8zM364.83 44.02h0.8v0.8h-0.8zM364.66 41.82h0.8v0.8h-0.8zM355.83 51.58h0.8v0.8h-0.8zM360.74 52.81h0.8v0.8h-0.8zM350.78 35.14h0.8v0.8h-0.8zM356.39 49h0.8v0.8h-0.8zM365.2 31.69h0.8v0.8h-0.8zM363.21 46.9h0.8v0.8h-0.8zM364.79 46.16h0.8v0.8h-0.8zM352.36 45h0.8v0.8h-0.8zM358.32 34.38h0.8v0.8h-0.8zM356.31 27.93h0.8v0.8h-0.8zM356.91 33.3h0.8v0.8h-0.8zM351 35.5h0.8v0.8h-0.8zM367.19 42.56h0.8v0.8h-0.8zM363.14 42.45h0.8v0.8h-0.8zM360.24 47.81h0.8v0.8h-0.8zM363.18 48.76h0.8v0.8h-0.8zM345.61 49.09h0.8v0.8h-0.8zM357.06 50.97h0.8v0.8h-0.8zM361.65 24.97h0.8v0.8h-0.8zM360.06 48.15h0.8v0.8h-0.8zM360.64 37.22h0.8v0.8h-0.8zM357.51 33.32h0.8v0.8h-0.8zM352.42 39.02h0.8v0.8h-0.8zM355.09 34.16h0.8v0.8h-0.8zM366.66 39.46h0.8v0.8h-0.8zM360.02 47.86h0.8v0.8h-0.8zM365.57 35.32h0.8v0.8h-0.8zM351.03 48.75h0.8v0.8h-0.8zM345.89 34.52h0.8v0.8h-0.8zM358.39 47.26h0.8v0.8h-0.8zM353.83 30.16h0.8v0.8h-0.8zM353.3 38.14h0.8v0.8h-0.8zM363.11 46.98h0.8v0.8h-0.8zM362.57 41.31h0.8v0.8h-0.8zM349.27 37.54h0.8v0.8h-0.8zM360.49 39.21h0.8v0.8h-0.8zM367.96 52.22h0.8v0.8h-0.8zM355.05 40.76h0.8v0.8h-0.8zM353.57 38.56h0.8v0.8h-0.8zM356.48 35.88h0.8v0.8h-0.8zM348.54 33.01h0.8v0.8h-0.8zM359.67 38.39h0.8v0.8h-0.8zM353.04 52.51h0.8v0.8h-0.8zM359.07 45.28h0.8v0.8h-0.8zM361.06 36.44h0.8v0.8h-0.8zM359.5 47.93h0.8v0.8h-0.8zM349.28 50.46h0.8v0.8h-0.8zM351.62 50.25h0.8v0.8h-0.8zM363.43 41.9h0.8v0.8h-0.8zM356.72 27.67h0.8v0.8h-0.8zM356.47 49.09h0.8v0.8h-0.8zM351.73 38.17h0.8v0.8h-0.8zM367.41 25.04h0.8v0.8h-0.8zM349.66 38.74h0.8v0.8h-0.8zM357.33 33.81h0.8v0.8h-0.8zM353.49 46.51h0.8v0.8h-0.8zM365.04 27.43h0.8v0.8h-0.8zM348.65 46.86h0.8v0.8h-0.8zM357.73 38.65h0.8v0.8h-0.8zM356.58 26.77h0.8v0.8h-0.8zM356.17 44.79h0.8v0.8h-0.8zM354.1 34.96h0.8v0.8h-0.8zM354.61 36.89h0.8v0.8h-0.8zM358.85 34.97h0.8v0.8h-0.8zM348.54 33.28h0.8v0.8h-0.8zM365.83 41.88h0.8v0.8h-0.8zM349.88 32.44h0.8v0.8h-0.8zM364.31 30.84h0.8v0.8h-0.8zM364.96 43.57h0.8v0.8h-0.8zM350.2 51.73h0.8v0.8h-0.8zM361.84 42.56h0.8v0.8h-0.8zM367.38 36.06h0.8v0.8h-0.8zM366.37 45.15h0.8v0.8h-0.8zM351.84 31.26h0.8v0.8h-0.8zM363.59 37.85h0.8v0.8h-0.8zM360.41 47.18h0.8v0.8h-0.8zM345.09 43.21h0.8v0.8h-0.8zM364.58 40.94h0.8v0.8h-0.8zM366.07 47.93h0.8v0.8h-0.8zM357.6 40.65h0.8v0.8h-0.8zM348.79 27.71h0.8v0.8h-0.8zM364.89 50.39h0.8v0.8h-0.8zM355.19 40.64h0.8v0.8h-0.8zM346.51 52.2h0.8v0.8h-0.8zM347.18 44.96h0.8v0.8h-0.8zM359.52 40.21h0.8v0.8h-0.8zM356.67 47.62h0.8v0.8h-0.8zM346.99 32.59h0.8v0.8h-0.8zM348.8 28.5h0.8v0.8h-0.8zM365.43 40.27h0.8v0.8h-0.8zM357.86 36.57h0.8v0.8h-0.8zM361.52 50.1h0.8v0.8h-0.8zM345.91 30.49h0.8v0.8h-0.8zM358.42 44.91h0.8v0.8h-0.8zM366.24 49.5h0.8v0.8h-0.8zM357.46 35.5h0.8v0.8h-0.8zM350.89 26.63h0.8v0.8h-0.8zM362.78 38.62h0.8v0.8h-0.8zM349.93 29.75h0.8v0.8h-0.8zM366.91 49.64h0.8v0.8h-0.8zM348.78 30.09h0.8v0.8h-0.8zM352.78 26.17h0.8v0.8h-0.8zM347.35 37.95h0.8v0.8h-0.8zM366.27 47.11h0.8v0.8h-0.8zM357.1 26.46h0.8v0.8h-0.8zM350.07 30.1h0.8v0.8h-0.8zM349.68 51.07h0.8v0.8h-0.8zM362.8 43.39h0.8v0.8h-0.8zM345.72 33.63h0.8v0.8h-0.8zM356.77 34.25h0.8v0.8h-0.8zM351.88 27.99h0.8v0.8h-0.8zM364.98 37.33h0.8v0.8h-0.8zM349.46 30.18h0.8v0.8h-0.8zM366.65 32.1h0.8v0.8h-0.8zM344.89 35.79h0.8v0.8h-0.8zM362.26 27.22h0.8v0.8h-0.8zM363.16 43.84h0.8v0.8h-0.8zM347.61 28.88h0.8v0.8h-0.8zM360.75 40.11h0.8v0.8h-0.8zM358.9 25.5h0.8v0.8h-0.8zM349.96 34.08h0.8v0.8h-0.8zM359.87 47.27h0.8v0.8h-0.8zM353.56 43.73h0.8v0.8h-0.8zM355.1 49.72h0.8v0.8h-0.8zM348.49 34.06h0.8v0.8h-0.8zM365.22 29h0.8v0.8h-0.8zM353.17 39.41h0.8v0.8h-0.8zM345.22 30.76h0.8v0.8h-0.8zM359.66 35.32h0.8v0.8h-0.8zM355.11 33.08h0.8v0.8h-0.8zM363.61 47.71h0.8v0.8h-0.8zM363.42 24.37h0.8v0.8h-0.8zM349.51 38.46h0.8v0.8h-0.8zM355 25.34h0.8v0.8h-0.8zM344.66 44.48h0.8v0.8h-0.8zM348.68 49.1h0.8v0.8h-0.8zM360.63 43.24h0.8v0.8h-0.8zM353.65 32.74h0.8v0.8h-0.8zM366.54 48.94h0.8v0.8h-0.8zM366.95 39.74h0.8v0.8h-0.8zM358.02 29.41h0.8v0.8h-0.8zM356.34 46.82h0.8v0.8h-0.8zM352.63 52.16h0.8v0.8h-0.8zM349.94 47.21h0.8v0.8h-0.8zM356.03 50.53h0.8v0.8h-0.8zM354.63 34.17h0.8v0.8h-0.8zM355.12 33.24h0.8v0.8h-0.8zM350.43 32.04h0.8v0.8h-0.8zM349.99 51.63h0.8v0.8h-0.8zM351.42 45.06h0.8v0.8h-0.8zM348.06 43.54h0.8v0.8h-0.8zM365.09 33.85h0.8v0.8h-0.8zM357.23 34.44h0.8v0.8h-0.8zM347.14 30.67h0.8v0.8h-0.8zM360.71 28.57h0.8v0.8h-0.8zM364.64 39.12h0.8v0.8h-0.8zM352.21 38.98h0.8v0.8h-0.8zM352.97 28h0.8v0.8h-0.8zM349.68 44.7h0.8v0.8h-0.8zM351.13 44.8h0.8v0.8h-0.8zM349.7 37.02h0.8v0.8h-0.8zM353.03 27.69h0.8v0.8h-0.8zM359.69 48.66h0.8v0.8h-0.8zM363.4 45.68h0.8v0.8h-0.8zM362.05 25.83h0.8v0.8h-0.8zM348.31 42.2h0.8v0.8h-0.8zM366.68 48.28h0.8v0.8h-0.8zM350.9 38.55h0.8v0.8h-0.8zM362.7 48.19h0.8v0.8h-0.8zM351.68 46.45h0.8v0.8h-0.8zM353.75 40.63h0.8v0.8h-0.8zM360.06 28.82h0.8v0.8h-0.8zM345.56 39.77h0.8v0.8h-0.8zM349.29 38.47h0.8v0.8h-0.8zM366.41 51.97h0.8v0.8h-0.8zM357.49 41.16h0.8v0.8h-0.8zM356.75 47.77h0.8v0.8h-0.8zM365.75 38.13h0.8v0.8h-0.8zM356.98 51.03h0.8v0.8h-0.8zM367.41 29.55h0.8v0.8h-0.8zM350.29 41.56h0.8v0.8h-0.8zM350.5 47.99h0.8v0.8h-0.8zM356.18 34.59h0.8v0.8h-0.8zM353.89 42.8h0.8v0.8h-0.8zM357.18 43.23h0.8v0.8h-0.8zM357.95 43.72h0.8v0.8h-0.8zM361.78 27.14h0.8v0.8h-0.8zM363.5 30.36h0.8v0.8h-0.8zM361.28 41.31h0.8v0.8h-0.8zM366.28 31.76h0.8v0.8h-0.8zM356.63 34.86h0.8v0.8h-0.8zM358.27 39.9h0.8v0.8h-0.8zM364.32 42.33h0.8v0.8h-0.8zM349.14 51.87h0.8v0.8h-0.8zM352.53 32.92h0.8v0.8h-0.8zM355.78 35.66h0.8v0.8h-0.8zM365.99 42.18h0.8v0.8h-0.8zM348.69 34.85h0.8v0.8h-0.8zM364.15 36.62h0.8v0.8h-0.8zM367.87 31.18h0.8v0.8h-0.8zM356.95 44.15h0.8v0.8h-0.8zM358.01 31.96h0.8v0.8h-0.8zM362.56 33.15h0.8v0.8h-0.8zM351.95 52.4h0.8v0.8h-0.8zM348.61 44.2h0.8v0.8h-0.8zM355.23 48.85h0.8v0.8h-0.8zM349.8 41.88h0.8v0.8h-0.8zM361.1 35.9h0.8v0.8h-0.8zM361.14 50.62h0.8v0.8h-0.8zM354.17 38.14h0.8v0.8h-0.8zM358.9 44.5h0.8v0.8h-0.8zM359.64 50.16h0.8v0.8h-0.8zM367.42 29.01h0.8v0.8h-0.8zM347.77 46.64h0.8v0.8h-0.8zM352.7 43.96h0.8v0.8h-0.8zM356.25 35.21h0.8v0.8h-0.8zM354.43 52.19h0.8v0.8h-0.8zM363.63 40.89h0.8v0.8h-0.8zM348.63 49.77h0.8v0.8h-0.8zM365.81 50.92h0.8v0.8h-0.8zM348.59 35h0.8v0.8h-0.8zM353.2 44.58h0.8v0.8h-0.8zM352.16 46.79h0.8v0.8h-0.8zM358.27 37.37h0.8v0.8h-0.8zM366.41 34.86h0.8v0.8h-0.8zM357.15 27.9h0.8v0.8h-0.8zM359.98 37.05h0.8v0.8h-0.8zM359.44 40.2h0.8v0.8h-0.8zM349.93 38.33h0.8v0.8h-0.8zM352.13 41.11h0.8v0.8h-0.8zM366.21 37.41h0.8v0.8h-0.8zM357.41 24.08h0.8v0.8h-0.8zM348.03 39.62h0.8v0.8h-0.8zM358.34 52.96h0.8v0.8h-0.8zM351.5 47.19h0.8v0.8h-0.8zM361.48 35.62h0.8v0.8h-0.8zM359.24 35.31h0.8v0.8h-0.8zM361.35 39.54h0.8v0.8h-0.8zM365.73 42.58h0.8v0.8h-0.8zM356.12 40.03h0.8v0.8h-0.8zM351.25 30.43h0.8v0.8h-0.8zM350.3 51.91h0.8v0.8h-0.8zM349.35 52.49h0.8v0.8h-0.8zM344.84 47.24h0.8v0.8h-0.8zM358.83 47.9h0.8v0.8h-0.8zM357.24 51h0.8v0.8h-0.8zM359.53 46.23h0.8v0.8h-0.8zM347.04 44.12h0.8v0.8h-0.8zM366.3 37.97h0.8v0.8h-0.8zM347.85 39.55h0.8v0.8h-0.8zM359.84 26.69h0.8v0.8h-0.8zM352.95 31.41h0.8v0.8h-0.8zM347.73 46.63h0.8v0.8h-0.8zM350.87 36.78h0.8v0.8h-0.8zM361.24 35.86h0.8v0.8h-0.8zM353.92 43.83h0.8v0.8h-0.8zM345.82 44.21h0.8v0.8h-0.8zM356.32 28.05h0.8v0.8h-0.8zM357.62 36.59h0.8v0.8h-0.8zM357.25 38.73h0.8v0.8h-0.8zM364.85 39.34h0.8v0.8h-0.8zM347.91 47.79h0.8v0.8h-0.8zM358.49 34.18h0.8v0.8h-0.8zM353.12 41.97h0.8v0.8h-0.8zM353.44 45.13h0.8v0.8h-0.8zM367.71 30.99h0.8v0.8h-0.8zM356.53 44.5h0.8v0.8h-0.8zM354.81 43.71h0.8v0.8h-0.8zM366.04 44.73h0.8v0.8h-0.8zM364.21 33.61h0.8v0.8h-0.8zM356.91 41.83h0.8v0.8h-0.8zM361.69 43.93h0.8v0.8h-0.8zM345 26.98h0.8v0.8h-0.8zM351.61 44.11h0.8v0.8h-0.8zM364.78 39.5h0.8v0.8h-0.8zM366.2 44.56h0.8v0.8h-0.8zM350.65 38.48h0.8v0.8h-0.8zM363.53 35.32h0.8v0.8h-0.8zM351.73 43.61h0.8v0.8h-0.8zM366.6 36.9h0.8v0.8h-0.8zM357.25 47.7h0.8v0.8h-0.8zM355.25 26.28h0.8v0.8h-0.8zM363.47 44.5h0.8v0.8h-0.8zM367.49 26.54h0.8v0.8h-0.8zM347.71 35.86h0.8v0.8h-0.8zM345.04 40.45h0.8v0.8h-0.8zM356.24 46.25h0.8v0.8h-0.8zM366.52 45.68h0.8v0.8h-0.8zM346.72 43.93h0.8v0.8h-0.8zM367.91 37.63h0.8v0.8h-0.8zM349.66 38.67h0.8v0.8h-0.8zM353.9 52.31h0.8v0.8h-0.8zM358.96 48.87h0.8v0.8h-0.8zM353.74 31.53h0.8v0.8h-0.8zM364.03 32.85h0.8v0.8h-0.8zM355.33 35.91h0.8v0.8h-0.8zM348.66 24.84h0.8v0.8h-0.8zM360.12 40.27h0.8v0.8h-0.8zM365.6 34.44h0.8v0.8h-0.8zM350.38 42.63h0.8v0.8h-0.8zM358.3 25.55h0.8v0.8h-0.8zM351.14 39.03h0.8v0.8h-0.8zM353.32 38.4h0.8v0.8h-0.8zM352.92 34.04h0.8v0.8h-0.8zM359.19 45.47h0.8v0.8h-0.8zM358.56 41.71h0.8v0.8h-0.8zM358.01 34.6h0.8v0.8h-0.8zM351.69 38.92h0.8v0.8h-0.8zM350 38.89h0.8v0.8h-0.8zM355.77 35.33h0.8v0.8h-0.8zM355.18 47.96h0.8v0.8h-0.8zM351.64 44.26h0.8v0.8h-0.8zM352.16 40.38h0.8v0.8h-0.8zM365.42 52.15h0.8v0.8h-0.8zM355.22 41.82h0.8v0.8h-0.8zM357.2 29.24h0.8v0.8h-0.8zM365.86 36.17h0.8v0.8h-0.8zM351.2 40.6h0.8v0.8h-0.8zM356.04 38.02h0.8v0.8h-0.8zM348.77 40.24h0.8v0.8h-0.8zM351.04 28h0.8v0.8h-0.8zM357.64 39.06h0.8v0.8h-0.8zM366.53 31.54h0.8v0.8h-0.8zM351.77 51.98h0.8v0.8h-0.8zM356.04 27.66h0.8v0.8h-0.8zM361.34 46.83h0.8v0.8h-0.8zM367.84 28.35h0.8v0.8h-0.8zM366.97 42.8h0.8v0.8h-0.8zM362.14 52.08h0.8v0.8h-0.8zM353.09 37.72h0.8v0.8h-0.8zM356.26 31.26h0.8v0.8h-0.8zM348.85 39.04h0.8v0.8h-0.8zM354.15 50.58h0.8v0.8h-0.8zM360.45 49.19h0.8v0.8h-0.8zM361.66 32.17h0.8v0.8h-0.8zM347.87 50.02h0.8v0.8h-0.8zM353.88 48.53h0.8v0.8h-0.8zM358.06 41.04h0.8v0.8h-0.8zM355.04 49.65h0.8v0.8h-0.8zM356.68 49.41h0.8v0.8h-0.8zM349.41 40.74h0.8v0.8h-0.8zM348.89 50.03h0.8v0.8h-0.8zM357.66 33.18h0.8v0.8h-0.8zM367.52 35.07h0.8v0.8h-0.8zM350.52 35.8h0.8v0.8h-0.8zM367.08 51.13h0.8v0.8h-0.8zM362.88 43.74h0.8v0.8h-0.8zM361.52 51.41h0.8v0.8h-0.8zM345.14 42.47h0.8v0.8h-0.8zM347.61 36.45h0.8v0.8h-0.8zM361.01 27.34h0.8v0.8h-0.8zM366.13 44.32h0.8v0.8h-0.8zM354.66 29.89h0.8v0.8h-0.8zM346.43 26.61h0.8v0.8h-0.8zM356.22 32.84h0.8v0.8h-0.8zM361.19 32.76h0.8v0.8h-0.8zM352.95 29.56h0.8v0.8h-0.8zM351.61 40.6h0.8v0.8h-0.8zM349.8 32.81h0.8v0.8h-0.8zM352.23 48.74h0.8v0.8h-0.8zM362.56 46.74h0.8v0.8h-0.8zM358.45 37.12h0.8v0.8h-0.8zM353.5 51.67h0.8v0.8h-0.8zM347.57 43.92h0.8v0.8h-0.8zM355.04 40.6h0.8v0.8h-0.8zM357.49 52.69h0.8v0.8h-0.8zM345.75 34.15h0.8v0.8h-0.8zM344.64 29.41h0.8v0.8h-0.8zM353.44 52.74h0.8v0.8h-0.8zM353.63 39.3h0.8v0.8h-0.8zM352.43 44.43h0.8v0.8h-0.8zM363.2 44.26h0.8v0.8h-0.8zM363.22 44.37h0.8v0.8h-0.8zM361.46 51.14h0.8v0.8h-0.8zM361.92 42.35h0.8v0.8h-0.8zM361.44 38.21h0.8v0.8h-0.8zM353.73 34.67h0.8v0.8h-0.8zM355.57 41.14h0.8v0.8h-0.8zM348.48 42.3h0.8v0.8h-0.8zM356.01 39.09h0.8v0.8h-0.8zM367.94 32.64h0.8v0.8h-0.8zM351.53 41.45h0.8v0.8h-0.8zM355.16 41.87h0.8v0.8h-0.8zM345.69 33.35h0.8v0.8h-0.8zM350.74 40.07h0.8v0.8h-0.8zM356.79 46.23h0.8v0.8h-0.8zM356.35 39.31h0.8v0.8h-0.8zM354.22 24.6h0.8v0.8h-0.8zM352.28 43.73h0.8v0.8h-0.8zM361.26 26.64h0.8v0.8h-0.8zM366.31 27.96h0.8v0.8h-0.8zM364.63 40.92h0.8v0.8h-0.8zM354.93 52.62h0.8v0.8h-0.8zM360.74 46.63h0.8v0.8h-0.8zM353.4 37.25h0.8v0.8h-0.8zM360.68 42.78h0.8v0.8h-0.8zM359.31 41.2h0.8v0.8h-0.8zM367.9 52.19h0.8v0.8h-0.8zM359.94 45.82h0.8v0.8h-0.8zM351.3 34.22h0.8v0.8h-0.8zM357.42 27.1h0.8v0.8h-0.8zM352.73 48.19h0.8v0.8h-0.8zM357.54 42.05h0.8v0.8h-0.8zM347.48 44.55h0.8v0.8h-0.8zM361.16 39.07h0.8v0.8h-0.8zM346.21 39.5h0.8v0.8h-0.8zM351.7 34.59h0.8v0.8h-0.8zM353.82 52.42h0.8v0.8h-0.8zM364.03 47.04h0.8v0.8h-0.8zM359.86 52.16h0.8v0.8h-0.8zM358.89 45.64h0.8v0.8h-0.8zM367.45 41.25h0.8v0.8h-0.8zM354.66 26.47h0.8v0.8h-0.8zM364.84 45.63h0.8v0.8h-0.8zM362.44 43.81h0.8v0.8h-0.8zM350.85 40.18h0.8v0.8h-0.8zM352.06 29.37h0.8v0.8h-0.8zM361.53 36.83h0.8v0.8h-0.8zM362.87 42.57h0.8v0.8h-0.8zM345.24 33.93h0.8v0.8h-0.8zM363.69 41.57h0.8v0.8h-0.8zM350.7 44.48h0.8v0.8h-0.8zM366.32 39.72h0.8v0.8h-0.8zM363.03 48.83h0.8v0.8h-0.8zM361.61 26.68h0.8v0.8h-0.8zM350.73 27.73h0.8v0.8h-0.8zM363.74 33.46h0.8v0.8h-0.8zM364.97 41.65h0.8v0.8h-0.8zM364.98 28.13h0.8v0.8h-0.8zM359.01 38.3h0.8v0.8h-0.8zM363.63 43.85h0.8v0.8h-0.8zM361.5 30.83h0.8v0.8h-0.8zM351.48 35.15h0.8v0.8h-0.8zM347.25 42.38h0.8v0.8h-0.8zM363.48 41.56h0.8v0.8h-0.8z" fill="#999" opacity="0.6"/>
<ellipse cx="369.5" cy="38.8" rx="9.5" ry="14.6" transform="rotate(8 369.5 38.8)" fill="#a8a8a8"/>
<ellipse cx="371" cy="38" rx="1.5" ry="3" transform="rotate(8 371 38)" fill="none" stroke="rgb(20,20,20)" stroke-width="0.6"/>
<ellipse cx="370.84" cy="38.1" rx="3.1" ry="5.3" transform="rotate(8 370.84 38.1)" fill="none" stroke="rgb(38,38,38)" stroke-width="0.6"/>
<ellipse cx="370.68" cy="38.2" rx="4.7" ry="7.6" transform="rotate(8 370.68 38.2)" fill="none" stroke="rgb(56,56,56)" stroke-width="0.6"/>
<ellipse cx="370.52" cy="38.3" rx="6.3" ry="9.9" transform="rotate(8 370.52 38.3)" fill="none" stroke="rgb(74,74,74)" stroke-width="0.6"/>
<ellipse cx="370.36" cy="38.4" rx="7.9" ry="12.2" transform="rotate(8 370.36 38.4)" fill="none" stroke="rgb(92,92,92)" stroke-width="0.6"/>
<ellipse cx="370.2" cy="38.5" rx="9.5" ry="14.5" transform="rotate(8 370.2 38.5)" fill="none" stroke="rgb(110,110,110)" stroke-width="0.6"/>
<ellipse cx="370.3" cy="38.3" rx="6.6" ry="12.8" transform="rotate(8 370.3 38.3)" fill="#111"/>
<ellipse cx="370.8" cy="38.5" rx="4.2" ry="9.5" transform="rotate(8 370.8 38.5)" fill="#2c2c2c" stroke="#555" stroke-width="0.5"/>
<ellipse cx="371.6" cy="36" rx="0.9" ry="1.3" fill="#eee"/>
<ellipse cx="367.5" cy="40" rx="0.7" ry="5" transform="rotate(8 367.5 40)" fill="#555"/>
<path d="M363 47 C359 40 360 32 365 27" stroke="#fff" stroke-width="0.9" fill="none"/>
<line x1="343.6" y1="9.4" x2="343.6" y2="69.4" stroke="#231f20" stroke-width="1.3"/>
<line x1="323.5" y1="53.3" x2="384.1" y2="53.3" stroke="#231f20" stroke-width="1.3"/>
<text x="325.8" y="17.8" font-size="6.6">0</text>
<text x="381.3" y="17.8" font-size="6.6" text-anchor="end">98.9</text>
<text x="325.8" y="67.2" font-size="6.6">0</text>
<text x="381.3" y="67.8" font-size="6.6" text-anchor="end">1.15</text>
<path d="M323.5 68.2h-2.2M323.5 66.2h-1.5M323.5 64.9h-1.5M323.5 63.6h-1.5M323.5 62.1h-1.5M323.5 60.4h-1.5M323.5 58.7h-1.5M323.5 56.7h-1.5M323.5 55.2h-1.5M323.5 53.7h-1.5M323.5 52.2h-1.5M323.5 51.1h-1.5M323.5 50h-1.5M323.5 48.9h-1.5M323.5 47.6h-1.5M323.5 46.1h-1.5M323.5 44.8h-1.5M323.5 43.7h-1.5M323.5 42.4h-1.5M323.5 41.3h-1.5M323.5 39.3h-2.2M323.5 37.3h-1.5M323.5 35.6h-1.5M323.5 33.9h-1.5M323.5 32.6h-1.5M323.5 31.1h-2.2M323.5 29.1h-1.5M323.5 27.1h-1.5M323.5 25.4h-1.5M323.5 23.4h-1.5M323.5 22.3h-1.5M323.5 20.3h-1.5M323.5 18.6h-1.5M323.5 16.6h-2.2M323.5 15.1h-1.5M323.5 13.4h-1.5M323.5 12.3h-1.5M324.7 69.4v2.2M326.9 69.4v1.5M328.7 69.4v1.5M330.2 69.4v2.2M333 69.4v1.5M334.8 69.4v2.2M337 69.4v2.2M338.8 69.4v1.5M341.6 69.4v1.5M342.9 69.4v1.5M345.7 69.4v1.5M347.5 69.4v1.5M349.7 69.4v1.5M351.5 69.4v1.5M352.8 69.4v2.2M354.6 69.4v1.5M357.4 69.4v2.2M360.2 69.4v2.2M362 69.4v1.5M364.2 69.4v1.5M365.7 69.4v1.5M367.9 69.4v1.5M370.7 69.4v1.5M372.5 69.4v2.2M375.3 69.4v1.5M378.1 69.4v1.5M379.9 69.4v1.5M382.7 69.4v1.5" stroke="#333" stroke-width="0.7" fill="none"/>
<rect x="323.5" y="9.4" width="60.6" height="60" fill="none" stroke="#231f20" stroke-width="1.2"/>
<path d="M445.51 44.03h0.8v0.8h-0.8zM433.62 45.47h0.8v0.8h-0.8zM428.16 44.68h0.8v0.8h-0.8zM429.88 44.48h0.8v0.8h-0.8zM427.67 27.63h0.8v0.8h-0.8zM419.61 50.82h0.8v0.8h-0.8zM440.91 36.07h0.8v0.8h-0.8zM437.2 38h0.8v0.8h-0.8zM430.44 30.49h0.8v0.8h-0.8zM446.98 50.38h0.8v0.8h-0.8zM426.16 50.16h0.8v0.8h-0.8zM438.46 33.25h0.8v0.8h-0.8zM439.97 36.73h0.8v0.8h-0.8zM431.33 41.6h0.8v0.8h-0.8zM434.65 36.67h0.8v0.8h-0.8zM432.23 37.59h0.8v0.8h-0.8zM437.14 46.04h0.8v0.8h-0.8zM434.73 41.62h0.8v0.8h-0.8zM420.6 40.25h0.8v0.8h-0.8zM440.2 35.01h0.8v0.8h-0.8zM428.94 33.1h0.8v0.8h-0.8zM436.36 17.99h0.8v0.8h-0.8zM432.71 35.16h0.8v0.8h-0.8zM427.48 50.38h0.8v0.8h-0.8zM434.37 26.32h0.8v0.8h-0.8zM428.62 45.74h0.8v0.8h-0.8zM435.35 52.34h0.8v0.8h-0.8zM432.62 41.65h0.8v0.8h-0.8zM420.26 41.07h0.8v0.8h-0.8zM436.49 42.61h0.8v0.8h-0.8zM428.78 43.16h0.8v0.8h-0.8zM432.1 46.15h0.8v0.8h-0.8zM441.02 30.46h0.8v0.8h-0.8zM436.58 26.61h0.8v0.8h-0.8zM428.69 37.5h0.8v0.8h-0.8zM436.53 36.23h0.8v0.8h-0.8zM439.9 47.47h0.8v0.8h-0.8zM437.96 36.54h0.8v0.8h-0.8zM440.06 42.74h0.8v0.8h-0.8zM428.92 36.9h0.8v0.8h-0.8zM441.43 38.09h0.8v0.8h-0.8zM427.12 46.89h0.8v0.8h-0.8zM426.77 46.82h0.8v0.8h-0.8zM440.57 40.69h0.8v0.8h-0.8zM431.32 28.34h0.8v0.8h-0.8zM436.18 48.83h0.8v0.8h-0.8zM434.25 38.11h0.8v0.8h-0.8zM439.68 40.36h0.8v0.8h-0.8zM444.63 51.33h0.8v0.8h-0.8zM419.26 44.22h0.8v0.8h-0.8zM433.5 41.51h0.8v0.8h-0.8zM425.93 49.44h0.8v0.8h-0.8zM422.77 51.3h0.8v0.8h-0.8zM424.24 45.52h0.8v0.8h-0.8zM420.22 43.77h0.8v0.8h-0.8zM428.2 36.14h0.8v0.8h-0.8zM439.37 37.17h0.8v0.8h-0.8zM434.86 42.39h0.8v0.8h-0.8zM434.84 51.52h0.8v0.8h-0.8zM434.22 40.12h0.8v0.8h-0.8zM421.33 48.91h0.8v0.8h-0.8zM436.43 30.56h0.8v0.8h-0.8zM436.32 24.09h0.8v0.8h-0.8zM429.63 34.81h0.8v0.8h-0.8zM429.34 48.49h0.8v0.8h-0.8zM444.32 29.4h0.8v0.8h-0.8zM427.03 43.92h0.8v0.8h-0.8zM433.93 41.64h0.8v0.8h-0.8zM424.97 43.8h0.8v0.8h-0.8zM432.74 38.61h0.8v0.8h-0.8zM432.53 38.67h0.8v0.8h-0.8zM428.83 49.98h0.8v0.8h-0.8zM435.26 36.12h0.8v0.8h-0.8zM432.17 39.21h0.8v0.8h-0.8zM431.27 47.97h0.8v0.8h-0.8zM436.58 52.37h0.8v0.8h-0.8zM427.16 29.31h0.8v0.8h-0.8zM424.34 39.27h0.8v0.8h-0.8zM442.06 51.11h0.8v0.8h-0.8zM423.14 49.59h0.8v0.8h-0.8zM438.84 36.35h0.8v0.8h-0.8zM420.72 49.08h0.8v0.8h-0.8zM445.13 27.09h0.8v0.8h-0.8zM425.79 42.76h0.8v0.8h-0.8zM425.19 36.67h0.8v0.8h-0.8zM434.93 25.41h0.8v0.8h-0.8zM431.78 35.11h0.8v0.8h-0.8zM441.03 28.46h0.8v0.8h-0.8zM434.99 38.66h0.8v0.8h-0.8zM427.94 42.53h0.8v0.8h-0.8zM438.24 48.41h0.8v0.8h-0.8zM435.92 45.06h0.8v0.8h-0.8zM428.23 40.44h0.8v0.8h-0.8zM421.87 39.68h0.8v0.8h-0.8zM434.4 46.4h0.8v0.8h-0.8zM433.87 29.52h0.8v0.8h-0.8zM429.49 36.29h0.8v0.8h-0.8zM427.33 39.26h0.8v0.8h-0.8zM429.06 40.24h0.8v0.8h-0.8zM425.5 26.51h0.8v0.8h-0.8zM432.05 40.27h0.8v0.8h-0.8zM436.39 37.79h0.8v0.8h-0.8zM435.28 44.77h0.8v0.8h-0.8zM431.69 40.66h0.8v0.8h-0.8zM437.6 43.55h0.8v0.8h-0.8zM439.46 46.23h0.8v0.8h-0.8zM433.25 41.41h0.8v0.8h-0.8zM431.51 45.07h0.8v0.8h-0.8zM425.33 44.81h0.8v0.8h-0.8zM442.85 52.38h0.8v0.8h-0.8zM436.11 34.94h0.8v0.8h-0.8zM431.67 32.17h0.8v0.8h-0.8zM436.38 36.21h0.8v0.8h-0.8zM442.11 42.19h0.8v0.8h-0.8zM431.4 31.11h0.8v0.8h-0.8zM432.14 39.26h0.8v0.8h-0.8zM439.95 37.94h0.8v0.8h-0.8zM429.55 48.87h0.8v0.8h-0.8zM438.15 26.63h0.8v0.8h-0.8zM428.74 49.13h0.8v0.8h-0.8zM433.99 41.88h0.8v0.8h-0.8zM436.24 31.07h0.8v0.8h-0.8zM429.59 40.84h0.8v0.8h-0.8zM436.17 33.94h0.8v0.8h-0.8zM434.36 48.44h0.8v0.8h-0.8zM435.08 30.56h0.8v0.8h-0.8zM420.74 44.98h0.8v0.8h-0.8zM425.25 53.26h0.8v0.8h-0.8zM436.77 37.88h0.8v0.8h-0.8zM439.45 38.22h0.8v0.8h-0.8zM428.27 43.79h0.8v0.8h-0.8zM431.55 43.27h0.8v0.8h-0.8zM428.57 49.14h0.8v0.8h-0.8zM436.39 22.9h0.8v0.8h-0.8zM437.85 19.54h0.8v0.8h-0.8zM444.9 41.4h0.8v0.8h-0.8zM430.32 43.04h0.8v0.8h-0.8zM430.17 34.53h0.8v0.8h-0.8zM433.28 41.46h0.8v0.8h-0.8zM437.21 41.18h0.8v0.8h-0.8zM434.93 27.56h0.8v0.8h-0.8zM422.14 37.6h0.8v0.8h-0.8zM435.38 38.45h0.8v0.8h-0.8zM450.04 23.79h0.8v0.8h-0.8zM440.51 33.5h0.8v0.8h-0.8zM431.26 37.84h0.8v0.8h-0.8zM429.36 36.23h0.8v0.8h-0.8zM428.84 46.07h0.8v0.8h-0.8zM440.38 35.86h0.8v0.8h-0.8zM436.24 38.96h0.8v0.8h-0.8zM439.12 38.86h0.8v0.8h-0.8zM441.44 37.01h0.8v0.8h-0.8zM425.83 45.66h0.8v0.8h-0.8zM433.42 50.25h0.8v0.8h-0.8zM427.83 47.7h0.8v0.8h-0.8zM424.16 44.28h0.8v0.8h-0.8zM434.68 40.66h0.8v0.8h-0.8zM423.6 46.51h0.8v0.8h-0.8zM422.37 33.36h0.8v0.8h-0.8zM426.22 33.78h0.8v0.8h-0.8zM433.34 33.02h0.8v0.8h-0.8zM427.57 40.96h0.8v0.8h-0.8zM432.83 36.85h0.8v0.8h-0.8zM438.81 36.06h0.8v0.8h-0.8zM420.04 43.58h0.8v0.8h-0.8zM423.18 50.98h0.8v0.8h-0.8zM440.1 30.54h0.8v0.8h-0.8zM431.35 45.19h0.8v0.8h-0.8zM438.29 30.4h0.8v0.8h-0.8zM421.73 24.96h0.8v0.8h-0.8zM435.42 42.35h0.8v0.8h-0.8zM428.93 50.43h0.8v0.8h-0.8zM423.65 48.73h0.8v0.8h-0.8zM432.36 42.94h0.8v0.8h-0.8zM432.86 44.32h0.8v0.8h-0.8zM420.38 49.71h0.8v0.8h-0.8zM430.63 37.13h0.8v0.8h-0.8zM427.05 21.08h0.8v0.8h-0.8zM435.31 41.58h0.8v0.8h-0.8zM433.09 37.48h0.8v0.8h-0.8zM438.03 37.5h0.8v0.8h-0.8zM431.48 23.83h0.8v0.8h-0.8zM426.45 40.64h0.8v0.8h-0.8zM436.91 49.23h0.8v0.8h-0.8zM434.3 28.48h0.8v0.8h-0.8zM434.03 46.91h0.8v0.8h-0.8zM428.94 45.21h0.8v0.8h-0.8zM432.79 46.26h0.8v0.8h-0.8zM445.62 32.82h0.8v0.8h-0.8zM430.97 34.6h0.8v0.8h-0.8zM431.97 44.9h0.8v0.8h-0.8zM437.11 41.19h0.8v0.8h-0.8zM437.22 41.57h0.8v0.8h-0.8zM433.39 47.15h0.8v0.8h-0.8zM445.4 32.92h0.8v0.8h-0.8zM430.58 32.08h0.8v0.8h-0.8zM426.03 41.09h0.8v0.8h-0.8zM438.51 40.84h0.8v0.8h-0.8zM433.6 50.61h0.8v0.8h-0.8zM426.02 43.95h0.8v0.8h-0.8zM441.5 41.25h0.8v0.8h-0.8zM430.72 46.25h0.8v0.8h-0.8zM434.87 41.8h0.8v0.8h-0.8zM435.47 34.48h0.8v0.8h-0.8zM435.03 33.75h0.8v0.8h-0.8zM435.84 34.53h0.8v0.8h-0.8zM435.71 45.44h0.8v0.8h-0.8zM428.85 36.66h0.8v0.8h-0.8zM437.74 32.66h0.8v0.8h-0.8zM427.82 51.32h0.8v0.8h-0.8zM431.92 53.37h0.8v0.8h-0.8zM436.23 42.28h0.8v0.8h-0.8zM429.75 51.94h0.8v0.8h-0.8zM429.91 44.86h0.8v0.8h-0.8zM428.73 38.97h0.8v0.8h-0.8zM434.23 31.12h0.8v0.8h-0.8zM425.4 32.06h0.8v0.8h-0.8zM436.28 35.68h0.8v0.8h-0.8zM429.08 47.77h0.8v0.8h-0.8zM424.07 35.17h0.8v0.8h-0.8zM432.48 46.91h0.8v0.8h-0.8zM440.46 47.78h0.8v0.8h-0.8zM440.87 40.17h0.8v0.8h-0.8zM429.73 34.02h0.8v0.8h-0.8zM425.8 46.35h0.8v0.8h-0.8zM435.77 43.21h0.8v0.8h-0.8zM426.75 39.28h0.8v0.8h-0.8zM431.51 36.74h0.8v0.8h-0.8zM445.54 49.21h0.8v0.8h-0.8zM445.21 44.25h0.8v0.8h-0.8zM446.53 48.75h0.8v0.8h-0.8zM422.57 35.34h0.8v0.8h-0.8zM439.7 29.77h0.8v0.8h-0.8zM436.71 34.6h0.8v0.8h-0.8zM445.73 27.04h0.8v0.8h-0.8zM432.11 29.04h0.8v0.8h-0.8zM427.97 49.15h0.8v0.8h-0.8zM436.23 29.98h0.8v0.8h-0.8zM430.06 38.2h0.8v0.8h-0.8zM437.44 45.26h0.8v0.8h-0.8zM451.75 23.14h0.8v0.8h-0.8zM419.83 43.53h0.8v0.8h-0.8zM428.02 32.33h0.8v0.8h-0.8zM433.57 44.16h0.8v0.8h-0.8zM434.33 40.36h0.8v0.8h-0.8zM429.69 22.89h0.8v0.8h-0.8zM432.05 30.7h0.8v0.8h-0.8zM437.2 26.35h0.8v0.8h-0.8zM429.2 44.33h0.8v0.8h-0.8zM423.47 49.76h0.8v0.8h-0.8zM428.92 48.7h0.8v0.8h-0.8zM426.46 39.87h0.8v0.8h-0.8zM433.11 22.04h0.8v0.8h-0.8zM424.75 32.56h0.8v0.8h-0.8zM435.29 38.97h0.8v0.8h-0.8zM436.91 44.92h0.8v0.8h-0.8zM431.44 41.98h0.8v0.8h-0.8zM424.21 37.44h0.8v0.8h-0.8zM429.48 39.64h0.8v0.8h-0.8zM445.26 46.21h0.8v0.8h-0.8z" fill="#999" opacity="0.5"/>
<path d="M440.5 27 C446 33 446 49 439 55.5 C433 58 421 57 421.5 50 C422 44 433 31 440.5 27 Z" stroke="#bbb" stroke-width="0.6" fill="none"/>
<path d="M440 29.5 C444.5 35 443.5 49 438 53.5 C432.5 56 424 55.5 424 50.5 C424 45 434 33 440 29.5 Z" stroke="#111" stroke-width="1.4" fill="#2a2a2a"/>
<path d="M439 33 C442 38 441 48 437 51 C433 53 427 52.5 427 50 C427 46 434 37 439 33 Z" stroke="#1a1a1a" stroke-width="0.8" fill="#4a4a4a"/>
<path d="M436 38 C440 40 439 47 435 49 C432 50 429 49 430 46 Z" stroke="#222" stroke-width="0.7" fill="#3a3a3a"/>
<ellipse cx="433.5" cy="46" rx="1.2" ry="1.6" fill="#eee"/>
<path d="M438.5 26 C432 31 424 40 422 48" stroke="#fff" stroke-width="0.8" fill="none"/>
<line x1="418.8" y1="9.4" x2="418.8" y2="69.4" stroke="#231f20" stroke-width="1.3"/>
<line x1="400.4" y1="55" x2="461.1" y2="55" stroke="#231f20" stroke-width="1.3"/>
<text x="402.9" y="17.8" font-size="6.6">0</text>
<text x="459.1" y="17.8" font-size="6.6" text-anchor="end">97.2</text>
<text x="402.9" y="67.4" font-size="6.6">0</text>
<text x="459.1" y="67.4" font-size="6.6" text-anchor="end">2.83</text>
<path d="M400.4 68.2h-1.5M400.4 66.2h-2.2M400.4 64.7h-1.5M400.4 63.6h-1.5M400.4 62.1h-2.2M400.4 60.4h-1.5M400.4 59.1h-1.5M400.4 58h-1.5M400.4 56.9h-1.5M400.4 55.4h-2.2M400.4 54.1h-2.2M400.4 52.4h-1.5M400.4 50.9h-1.5M400.4 49.4h-1.5M400.4 47.9h-1.5M400.4 46.6h-1.5M400.4 44.6h-1.5M400.4 42.9h-2.2M400.4 41.6h-2.2M400.4 40.1h-1.5M400.4 38.1h-1.5M400.4 36.6h-1.5M400.4 34.9h-2.2M400.4 33.2h-1.5M400.4 32.1h-1.5M400.4 31h-1.5M400.4 29h-1.5M400.4 27.3h-1.5M400.4 25.6h-2.2M400.4 24.5h-1.5M400.4 23.4h-1.5M400.4 21.9h-1.5M400.4 20.2h-2.2M400.4 18.7h-1.5M400.4 17.2h-1.5M400.4 15.9h-1.5M400.4 13.9h-1.5M400.4 12.2h-2.2M400.4 11.1h-1.5M401.6 69.4v2.2M402.7 69.4v1.5M404 69.4v1.5M405.5 69.4v1.5M407.7 69.4v1.5M409.2 69.4v1.5M410.7 69.4v1.5M412 69.4v2.2M413.8 69.4v1.5M415.3 69.4v1.5M416.6 69.4v1.5M417.7 69.4v1.5M420.5 69.4v2.2M422 69.4v2.2M423.3 69.4v1.5M424.4 69.4v1.5M426.2 69.4v2.2M428 69.4v1.5M430.8 69.4v1.5M433.6 69.4v1.5M434.7 69.4v1.5M436 69.4v1.5M438.8 69.4v1.5M440.6 69.4v2.2M441.9 69.4v1.5M444.1 69.4v1.5M445.2 69.4v1.5M447 69.4v1.5M448.5 69.4v1.5M451.3 69.4v1.5M453.1 69.4v1.5M454.4 69.4v1.5M455.9 69.4v1.5M458.1 69.4v1.5M459.4 69.4v1.5" stroke="#333" stroke-width="0.7" fill="none"/>
<rect x="400.4" y="9.4" width="60.7" height="60" fill="none" stroke="#231f20" stroke-width="1.2"/>
<line x1="66.3" y1="61" x2="83.5" y2="61" stroke="#1a1a1a" stroke-width="1.45"/>
<path d="M82.2 58.5 L87 61 L82.2 63.5 Z" fill="#231f20"/>
<line x1="143" y1="61" x2="160" y2="61" stroke="#1a1a1a" stroke-width="1.45"/>
<path d="M158.7 58.5 L163.5 61 L158.7 63.5 Z" fill="#231f20"/>
<line x1="218" y1="61" x2="235.5" y2="61" stroke="#1a1a1a" stroke-width="1.45"/>
<path d="M234.2 58.5 L239 61 L234.2 63.5 Z" fill="#231f20"/>
<text x="46.5" y="81" font-size="8.8" text-anchor="middle" textLength="13.5" lengthAdjust="spacingAndGlyphs">FSC</text>
<text x="123.1" y="80.4" font-size="8.8" text-anchor="middle" textLength="46" lengthAdjust="spacingAndGlyphs">Dead cell dye</text>
<text x="199" y="81" font-size="8.8" text-anchor="middle" textLength="14.3" lengthAdjust="spacingAndGlyphs">CD3</text>
<text x="277.5" y="81" font-size="8.8" text-anchor="middle" textLength="19" lengthAdjust="spacingAndGlyphs">CD56</text>
<text x="353.7" y="81" font-size="8.8" text-anchor="middle" textLength="19" lengthAdjust="spacingAndGlyphs">CD56</text>
<text x="430.8" y="81" font-size="8.8" text-anchor="middle" textLength="19" lengthAdjust="spacingAndGlyphs">CD56</text>
<text x="12.1" y="39.8" font-size="8.8" text-anchor="middle" textLength="13.5" lengthAdjust="spacingAndGlyphs" transform="rotate(-90 12.1 39.8)">SSC</text>
<text x="88.4" y="39.8" font-size="8.8" text-anchor="middle" textLength="13.5" lengthAdjust="spacingAndGlyphs" transform="rotate(-90 88.4 39.8)">SSC</text>
<text x="164.1" y="39.8" font-size="8.8" text-anchor="middle" textLength="19" lengthAdjust="spacingAndGlyphs" transform="rotate(-90 164.1 39.8)">CD56</text>
<text x="242.8" y="39.8" font-size="8.8" text-anchor="middle" textLength="19" lengthAdjust="spacingAndGlyphs" transform="rotate(-90 242.8 39.8)">CD16</text>
<text x="319.2" y="39.8" font-size="8.8" text-anchor="middle" textLength="36" lengthAdjust="spacingAndGlyphs" transform="rotate(-90 319.2 39.8)">CD19 CAR</text>
<text x="395.3" y="39.8" font-size="8.8" text-anchor="middle" textLength="25" lengthAdjust="spacingAndGlyphs" transform="rotate(-90 395.3 39.8)">IL-15RF</text>
<path d="M36.86 135.77h0.8v0.8h-0.8zM31.2 127.58h0.8v0.8h-0.8zM70.96 123.33h0.8v0.8h-0.8zM66.53 101.01h0.8v0.8h-0.8zM55.01 108.65h0.8v0.8h-0.8zM67.75 101.85h0.8v0.8h-0.8zM74.52 146.79h0.8v0.8h-0.8zM27.37 136.88h0.8v0.8h-0.8zM64.48 150.17h0.8v0.8h-0.8zM37.6 120.34h0.8v0.8h-0.8zM60.71 117.86h0.8v0.8h-0.8zM41.43 100.99h0.8v0.8h-0.8zM70.9 133.09h0.8v0.8h-0.8zM26.14 132.27h0.8v0.8h-0.8zM52.2 96.12h0.8v0.8h-0.8zM50 134.87h0.8v0.8h-0.8zM40.21 112.25h0.8v0.8h-0.8zM28.55 117.17h0.8v0.8h-0.8zM31.29 137.02h0.8v0.8h-0.8zM65.94 144.53h0.8v0.8h-0.8zM28.57 125.95h0.8v0.8h-0.8zM29.08 136.87h0.8v0.8h-0.8zM68.76 146.14h0.8v0.8h-0.8zM32.34 138.54h0.8v0.8h-0.8zM42.16 133.9h0.8v0.8h-0.8zM40.44 99.68h0.8v0.8h-0.8zM41.07 102.51h0.8v0.8h-0.8zM44.29 104.42h0.8v0.8h-0.8zM43.27 98.9h0.8v0.8h-0.8zM74.24 115.21h0.8v0.8h-0.8zM54.39 121.29h0.8v0.8h-0.8zM54.15 125.48h0.8v0.8h-0.8zM72.93 115.68h0.8v0.8h-0.8zM58.38 121.47h0.8v0.8h-0.8zM73.75 132.93h0.8v0.8h-0.8zM69.93 113.06h0.8v0.8h-0.8zM70.22 125.18h0.8v0.8h-0.8zM71.29 148.56h0.8v0.8h-0.8zM41.39 107.22h0.8v0.8h-0.8zM38.01 139.82h0.8v0.8h-0.8zM27.88 128.04h0.8v0.8h-0.8zM42.41 143.42h0.8v0.8h-0.8zM57.46 127.6h0.8v0.8h-0.8zM63.05 129.58h0.8v0.8h-0.8zM47.76 145.29h0.8v0.8h-0.8zM70.29 150.28h0.8v0.8h-0.8zM31.96 120.7h0.8v0.8h-0.8zM28.32 132.56h0.8v0.8h-0.8zM36.91 117.25h0.8v0.8h-0.8zM63.42 124.12h0.8v0.8h-0.8zM45.97 126.68h0.8v0.8h-0.8zM56.8 137.37h0.8v0.8h-0.8zM69.36 149.09h0.8v0.8h-0.8zM75.49 100.67h0.8v0.8h-0.8zM65.48 140.59h0.8v0.8h-0.8zM64.58 133.67h0.8v0.8h-0.8zM57.76 139.05h0.8v0.8h-0.8zM49.11 105.52h0.8v0.8h-0.8zM31.57 147.46h0.8v0.8h-0.8zM72.73 103.65h0.8v0.8h-0.8zM61.41 124.38h0.8v0.8h-0.8zM35.93 111.91h0.8v0.8h-0.8zM27.06 145.74h0.8v0.8h-0.8zM45.54 97.96h0.8v0.8h-0.8zM65.28 137.63h0.8v0.8h-0.8zM70.82 124.82h0.8v0.8h-0.8zM61.26 94.15h0.8v0.8h-0.8zM46.33 106.98h0.8v0.8h-0.8zM75.22 95.9h0.8v0.8h-0.8zM63.06 137.4h0.8v0.8h-0.8zM36.83 125.07h0.8v0.8h-0.8zM26.27 147.12h0.8v0.8h-0.8zM30.26 124.07h0.8v0.8h-0.8zM58.46 98.66h0.8v0.8h-0.8zM47.08 128.76h0.8v0.8h-0.8zM37.72 147.95h0.8v0.8h-0.8zM28.19 129.08h0.8v0.8h-0.8zM64.13 149.09h0.8v0.8h-0.8zM60.14 137.83h0.8v0.8h-0.8zM73.25 144.83h0.8v0.8h-0.8zM32 135.62h0.8v0.8h-0.8zM69.35 147.79h0.8v0.8h-0.8zM60.71 149.21h0.8v0.8h-0.8zM63.94 133.03h0.8v0.8h-0.8zM69.85 146.54h0.8v0.8h-0.8zM51.51 102.75h0.8v0.8h-0.8zM68.54 141.92h0.8v0.8h-0.8zM60.79 123.21h0.8v0.8h-0.8zM47.96 96.04h0.8v0.8h-0.8zM44.04 148.08h0.8v0.8h-0.8zM23.17 146.65h0.8v0.8h-0.8zM73.1 131.86h0.8v0.8h-0.8zM34.1 110.01h0.8v0.8h-0.8zM42.67 126.53h0.8v0.8h-0.8zM45.54 143.85h0.8v0.8h-0.8zM36.81 112.09h0.8v0.8h-0.8zM31.46 142.44h0.8v0.8h-0.8zM34.96 119.01h0.8v0.8h-0.8zM31.53 113.96h0.8v0.8h-0.8zM67.15 122.64h0.8v0.8h-0.8zM54.06 119.95h0.8v0.8h-0.8zM40.29 119.33h0.8v0.8h-0.8zM64.46 143.41h0.8v0.8h-0.8zM37.07 128.76h0.8v0.8h-0.8zM55.39 131.71h0.8v0.8h-0.8zM75.32 140.72h0.8v0.8h-0.8zM41.59 150.9h0.8v0.8h-0.8zM72 131.72h0.8v0.8h-0.8zM48.42 101.02h0.8v0.8h-0.8zM62.12 130h0.8v0.8h-0.8zM30.53 132.88h0.8v0.8h-0.8zM36.52 137.61h0.8v0.8h-0.8zM28.71 136.07h0.8v0.8h-0.8zM43.24 138.9h0.8v0.8h-0.8zM40.96 102.45h0.8v0.8h-0.8zM56.24 106.91h0.8v0.8h-0.8zM44.81 102.88h0.8v0.8h-0.8zM28.14 128.66h0.8v0.8h-0.8zM55.53 128.44h0.8v0.8h-0.8zM69.67 121.76h0.8v0.8h-0.8zM58.99 146.72h0.8v0.8h-0.8zM25.36 149.86h0.8v0.8h-0.8zM34.58 123.22h0.8v0.8h-0.8zM32.9 142.53h0.8v0.8h-0.8zM28.16 148.37h0.8v0.8h-0.8zM26.26 144.26h0.8v0.8h-0.8zM53.57 143.59h0.8v0.8h-0.8zM50.89 130.86h0.8v0.8h-0.8zM39.87 128.04h0.8v0.8h-0.8zM60.53 123.4h0.8v0.8h-0.8zM60.25 117.87h0.8v0.8h-0.8zM29.88 117.58h0.8v0.8h-0.8zM66.36 99.01h0.8v0.8h-0.8zM50.47 108.53h0.8v0.8h-0.8zM36.44 137.85h0.8v0.8h-0.8zM26.62 130.87h0.8v0.8h-0.8zM40.44 121.96h0.8v0.8h-0.8zM26.81 141.1h0.8v0.8h-0.8zM48.3 140.14h0.8v0.8h-0.8zM46.48 113h0.8v0.8h-0.8zM34.99 134.27h0.8v0.8h-0.8zM40.3 150.54h0.8v0.8h-0.8zM54 108.55h0.8v0.8h-0.8zM55.53 125.49h0.8v0.8h-0.8zM42.95 146.66h0.8v0.8h-0.8zM35.22 129.56h0.8v0.8h-0.8zM38.65 146.53h0.8v0.8h-0.8zM47.64 128.9h0.8v0.8h-0.8zM69.53 115.24h0.8v0.8h-0.8zM38.97 137.47h0.8v0.8h-0.8zM53.57 132.98h0.8v0.8h-0.8zM30.76 136.85h0.8v0.8h-0.8zM28.21 129.46h0.8v0.8h-0.8zM48.82 138.64h0.8v0.8h-0.8zM45.45 125.87h0.8v0.8h-0.8zM71.25 147.23h0.8v0.8h-0.8zM58.5 106.52h0.8v0.8h-0.8zM36.19 116.48h0.8v0.8h-0.8zM30.18 122.36h0.8v0.8h-0.8zM46.04 148.06h0.8v0.8h-0.8zM73.72 114.47h0.8v0.8h-0.8zM41.64 140.86h0.8v0.8h-0.8zM42.2 133.25h0.8v0.8h-0.8zM72.43 98.28h0.8v0.8h-0.8zM46.43 129.14h0.8v0.8h-0.8zM52.33 111.02h0.8v0.8h-0.8zM59.85 145.19h0.8v0.8h-0.8zM21.74 145.79h0.8v0.8h-0.8zM35.44 132.79h0.8v0.8h-0.8zM34.92 117.63h0.8v0.8h-0.8zM64.19 137.59h0.8v0.8h-0.8zM73.15 135.38h0.8v0.8h-0.8zM56.38 100.02h0.8v0.8h-0.8zM41.22 133.72h0.8v0.8h-0.8zM33.18 136.49h0.8v0.8h-0.8zM34.17 137.21h0.8v0.8h-0.8zM32.24 121.4h0.8v0.8h-0.8zM53.63 95.22h0.8v0.8h-0.8zM30.78 117.6h0.8v0.8h-0.8zM73.39 145.32h0.8v0.8h-0.8zM49.03 128.71h0.8v0.8h-0.8zM23.78 137.54h0.8v0.8h-0.8zM30.67 134.65h0.8v0.8h-0.8zM65.97 127.63h0.8v0.8h-0.8zM61.42 115.77h0.8v0.8h-0.8zM68.33 102.37h0.8v0.8h-0.8zM35.82 133.9h0.8v0.8h-0.8zM49.34 126.57h0.8v0.8h-0.8zM33.45 124.43h0.8v0.8h-0.8zM40.01 122.17h0.8v0.8h-0.8zM48.91 95.11h0.8v0.8h-0.8zM52.62 124.02h0.8v0.8h-0.8zM48.18 145.77h0.8v0.8h-0.8zM64.23 120.64h0.8v0.8h-0.8zM24.98 130.09h0.8v0.8h-0.8zM55.34 130.96h0.8v0.8h-0.8zM44.08 96.31h0.8v0.8h-0.8zM57 130.06h0.8v0.8h-0.8zM36.71 116.59h0.8v0.8h-0.8zM34.45 144.38h0.8v0.8h-0.8zM61.29 145.53h0.8v0.8h-0.8zM60.79 143.32h0.8v0.8h-0.8zM71.8 134.4h0.8v0.8h-0.8zM67.02 121.97h0.8v0.8h-0.8zM35.61 115.84h0.8v0.8h-0.8zM50.2 113.25h0.8v0.8h-0.8zM47.54 132.25h0.8v0.8h-0.8zM38.99 132.46h0.8v0.8h-0.8zM29.24 141.78h0.8v0.8h-0.8zM24.71 131.53h0.8v0.8h-0.8zM47.51 134.69h0.8v0.8h-0.8zM71.12 142.33h0.8v0.8h-0.8zM28.73 144.33h0.8v0.8h-0.8zM42.14 150.35h0.8v0.8h-0.8zM42.25 125.92h0.8v0.8h-0.8zM72.61 141.89h0.8v0.8h-0.8zM44 135.36h0.8v0.8h-0.8zM63.58 121.48h0.8v0.8h-0.8zM68.59 119.61h0.8v0.8h-0.8zM65.42 107.36h0.8v0.8h-0.8zM56.15 119.53h0.8v0.8h-0.8zM42.36 106.97h0.8v0.8h-0.8zM39.68 140.36h0.8v0.8h-0.8zM63.47 144.35h0.8v0.8h-0.8zM51.62 97.09h0.8v0.8h-0.8zM33.92 139.1h0.8v0.8h-0.8zM46.01 143.21h0.8v0.8h-0.8zM48.16 99.37h0.8v0.8h-0.8zM61.02 146.72h0.8v0.8h-0.8zM69.41 139.47h0.8v0.8h-0.8zM61.5 132.66h0.8v0.8h-0.8zM41.91 123.14h0.8v0.8h-0.8zM27.33 117.36h0.8v0.8h-0.8zM37.46 123.48h0.8v0.8h-0.8zM48.09 145.07h0.8v0.8h-0.8zM37.41 114.08h0.8v0.8h-0.8zM63.51 130.2h0.8v0.8h-0.8zM53.11 132.06h0.8v0.8h-0.8zM34.5 126.67h0.8v0.8h-0.8zM41.09 147.85h0.8v0.8h-0.8zM29.18 117.57h0.8v0.8h-0.8zM74.22 127.95h0.8v0.8h-0.8zM54.56 146.01h0.8v0.8h-0.8zM48.53 141.84h0.8v0.8h-0.8zM44.47 108.48h0.8v0.8h-0.8zM30.9 141.34h0.8v0.8h-0.8zM39.8 125.31h0.8v0.8h-0.8zM36.5 134.86h0.8v0.8h-0.8zM58.62 150.49h0.8v0.8h-0.8zM56.33 142.21h0.8v0.8h-0.8zM29.78 139.97h0.8v0.8h-0.8zM53.03 96.19h0.8v0.8h-0.8zM37.4 135.37h0.8v0.8h-0.8zM38.5 118.28h0.8v0.8h-0.8zM51.77 141.26h0.8v0.8h-0.8zM36.76 103.91h0.8v0.8h-0.8zM57.89 151.14h0.8v0.8h-0.8zM62.97 136.55h0.8v0.8h-0.8zM38.38 145.6h0.8v0.8h-0.8zM51.08 144.02h0.8v0.8h-0.8zM47.83 143.98h0.8v0.8h-0.8zM44.13 142.02h0.8v0.8h-0.8zM30.14 119.1h0.8v0.8h-0.8zM62.19 138.4h0.8v0.8h-0.8zM61.71 95.93h0.8v0.8h-0.8zM32.43 116.51h0.8v0.8h-0.8zM33.86 113.87h0.8v0.8h-0.8zM53.73 127.07h0.8v0.8h-0.8zM44.23 146.78h0.8v0.8h-0.8zM53.29 149.93h0.8v0.8h-0.8zM35.94 110.53h0.8v0.8h-0.8zM55.78 126.46h0.8v0.8h-0.8zM59.65 120.15h0.8v0.8h-0.8zM70.65 111.11h0.8v0.8h-0.8zM65.04 137.68h0.8v0.8h-0.8zM58.45 129.52h0.8v0.8h-0.8zM48.97 131.88h0.8v0.8h-0.8zM62.11 136.38h0.8v0.8h-0.8zM41.78 144.26h0.8v0.8h-0.8zM34.24 111.21h0.8v0.8h-0.8zM63.71 134.68h0.8v0.8h-0.8zM21.82 144.42h0.8v0.8h-0.8zM69.07 123.57h0.8v0.8h-0.8zM62.33 135.15h0.8v0.8h-0.8zM48.72 115.87h0.8v0.8h-0.8zM44.87 128.5h0.8v0.8h-0.8zM67.54 141.52h0.8v0.8h-0.8zM68.47 150.26h0.8v0.8h-0.8zM45.89 136.66h0.8v0.8h-0.8zM75.39 116.16h0.8v0.8h-0.8zM43.91 99.46h0.8v0.8h-0.8zM59.81 98.78h0.8v0.8h-0.8zM30.68 137.64h0.8v0.8h-0.8zM26.92 134.98h0.8v0.8h-0.8zM48.83 100.07h0.8v0.8h-0.8zM40.42 123.59h0.8v0.8h-0.8zM31.04 145.92h0.8v0.8h-0.8zM34.62 124.26h0.8v0.8h-0.8zM33.75 136.96h0.8v0.8h-0.8zM29.36 120.73h0.8v0.8h-0.8zM34.58 123.58h0.8v0.8h-0.8zM73.17 119.33h0.8v0.8h-0.8zM75.15 145.54h0.8v0.8h-0.8zM23.23 147.14h0.8v0.8h-0.8zM34.23 123.36h0.8v0.8h-0.8zM32.33 113.7h0.8v0.8h-0.8zM27.09 143.1h0.8v0.8h-0.8zM59.33 123.22h0.8v0.8h-0.8zM72.09 138.82h0.8v0.8h-0.8zM64.43 104.55h0.8v0.8h-0.8zM41.63 143.65h0.8v0.8h-0.8zM50.39 95.14h0.8v0.8h-0.8zM75.08 135.48h0.8v0.8h-0.8zM33.2 147.02h0.8v0.8h-0.8zM64.18 136.99h0.8v0.8h-0.8zM30.32 125.21h0.8v0.8h-0.8zM60.24 109.04h0.8v0.8h-0.8zM73.15 121.88h0.8v0.8h-0.8zM46.49 129.24h0.8v0.8h-0.8zM64.55 131.14h0.8v0.8h-0.8zM62.95 99.35h0.8v0.8h-0.8zM30.61 150.63h0.8v0.8h-0.8zM75.18 118.73h0.8v0.8h-0.8zM58.5 105.59h0.8v0.8h-0.8zM47.22 145.82h0.8v0.8h-0.8zM49 142.27h0.8v0.8h-0.8zM71.57 146.2h0.8v0.8h-0.8zM31.98 135.49h0.8v0.8h-0.8zM46.9 129.83h0.8v0.8h-0.8zM46.54 98.61h0.8v0.8h-0.8zM49.68 107.27h0.8v0.8h-0.8zM46.78 143.9h0.8v0.8h-0.8zM58.12 122.32h0.8v0.8h-0.8zM30.55 127.65h0.8v0.8h-0.8zM54.56 140.74h0.8v0.8h-0.8zM57.2 147.56h0.8v0.8h-0.8zM52.19 148.93h0.8v0.8h-0.8zM27.93 133.64h0.8v0.8h-0.8zM71.76 133.88h0.8v0.8h-0.8zM45.86 98.66h0.8v0.8h-0.8zM52.26 107.84h0.8v0.8h-0.8zM54.3 130.48h0.8v0.8h-0.8zM75.42 127.07h0.8v0.8h-0.8zM33.84 130.51h0.8v0.8h-0.8zM34.37 140.97h0.8v0.8h-0.8zM65.04 144.05h0.8v0.8h-0.8zM43.23 116.57h0.8v0.8h-0.8zM45.35 117.33h0.8v0.8h-0.8zM68.62 145.7h0.8v0.8h-0.8zM33.89 109.63h0.8v0.8h-0.8zM73.18 123.86h0.8v0.8h-0.8zM68.02 144.6h0.8v0.8h-0.8zM72.08 145.88h0.8v0.8h-0.8zM74.66 135.93h0.8v0.8h-0.8zM55.81 100.81h0.8v0.8h-0.8zM37.66 107.78h0.8v0.8h-0.8zM66.64 114.16h0.8v0.8h-0.8zM67.34 122.26h0.8v0.8h-0.8zM55.39 148.66h0.8v0.8h-0.8zM32 149.68h0.8v0.8h-0.8zM62.6 146.36h0.8v0.8h-0.8zM25.44 134.18h0.8v0.8h-0.8zM33.16 115.74h0.8v0.8h-0.8zM26.7 125.07h0.8v0.8h-0.8zM49.85 102.46h0.8v0.8h-0.8zM27.06 143.1h0.8v0.8h-0.8zM27.83 148.39h0.8v0.8h-0.8zM49.09 112.98h0.8v0.8h-0.8zM58.15 148.22h0.8v0.8h-0.8zM75.12 127.48h0.8v0.8h-0.8zM66.11 137.52h0.8v0.8h-0.8zM60.41 133.46h0.8v0.8h-0.8zM25.89 125.25h0.8v0.8h-0.8zM32.7 146.23h0.8v0.8h-0.8zM42.09 134.23h0.8v0.8h-0.8zM74.75 130.14h0.8v0.8h-0.8zM31.59 140.15h0.8v0.8h-0.8zM40.14 123.58h0.8v0.8h-0.8zM39.94 113.16h0.8v0.8h-0.8zM63.78 145.08h0.8v0.8h-0.8zM65.49 135.99h0.8v0.8h-0.8zM44.25 128.74h0.8v0.8h-0.8zM68.14 145.06h0.8v0.8h-0.8zM62.97 147.46h0.8v0.8h-0.8zM58.64 125.94h0.8v0.8h-0.8zM69.94 130.38h0.8v0.8h-0.8zM75.25 143.21h0.8v0.8h-0.8zM66.26 129.9h0.8v0.8h-0.8zM58.81 138.53h0.8v0.8h-0.8zM63.94 144.47h0.8v0.8h-0.8zM62.84 134.28h0.8v0.8h-0.8zM74.73 149.15h0.8v0.8h-0.8zM27.51 129.94h0.8v0.8h-0.8zM66.45 124.46h0.8v0.8h-0.8zM33.99 125.32h0.8v0.8h-0.8zM36.25 119.04h0.8v0.8h-0.8zM34.21 109.68h0.8v0.8h-0.8zM71.19 136.7h0.8v0.8h-0.8zM25.6 132.53h0.8v0.8h-0.8zM34.15 147.16h0.8v0.8h-0.8zM33.49 130.81h0.8v0.8h-0.8zM63.22 129.92h0.8v0.8h-0.8zM27.05 135.02h0.8v0.8h-0.8zM33.14 142.46h0.8v0.8h-0.8zM41.24 120.89h0.8v0.8h-0.8zM35.31 151.1h0.8v0.8h-0.8zM49.66 127.54h0.8v0.8h-0.8zM49.14 110.93h0.8v0.8h-0.8zM55.28 135.38h0.8v0.8h-0.8zM32.77 144.82h0.8v0.8h-0.8zM35.13 111.93h0.8v0.8h-0.8zM45.33 142.4h0.8v0.8h-0.8zM46.66 100.73h0.8v0.8h-0.8zM44.32 116.56h0.8v0.8h-0.8zM66.19 94.96h0.8v0.8h-0.8zM46.85 148.01h0.8v0.8h-0.8zM27.61 140.06h0.8v0.8h-0.8zM33.13 136.64h0.8v0.8h-0.8zM47.44 117.4h0.8v0.8h-0.8zM47.17 118.99h0.8v0.8h-0.8zM36.4 125.77h0.8v0.8h-0.8zM42.43 127.58h0.8v0.8h-0.8zM53.4 130.45h0.8v0.8h-0.8zM22.41 145.33h0.8v0.8h-0.8zM43.49 135.05h0.8v0.8h-0.8zM35.24 138.38h0.8v0.8h-0.8zM29.22 139.65h0.8v0.8h-0.8zM72.67 130.41h0.8v0.8h-0.8zM68.94 107.41h0.8v0.8h-0.8zM67.26 147.95h0.8v0.8h-0.8zM24.4 139.33h0.8v0.8h-0.8zM51.52 142.6h0.8v0.8h-0.8zM58.61 145.64h0.8v0.8h-0.8zM56.84 106.06h0.8v0.8h-0.8zM75.23 149.21h0.8v0.8h-0.8zM53.59 117.13h0.8v0.8h-0.8zM30.76 122.28h0.8v0.8h-0.8zM55.97 126.16h0.8v0.8h-0.8zM29.05 126.8h0.8v0.8h-0.8zM27.03 149.49h0.8v0.8h-0.8zM39.77 140.76h0.8v0.8h-0.8zM55 97.08h0.8v0.8h-0.8zM39.26 130.92h0.8v0.8h-0.8zM74.05 127.64h0.8v0.8h-0.8zM45.47 127.67h0.8v0.8h-0.8zM70.02 134.1h0.8v0.8h-0.8zM31.94 131.08h0.8v0.8h-0.8zM54.36 121.25h0.8v0.8h-0.8zM41.86 109.98h0.8v0.8h-0.8zM56.05 150.64h0.8v0.8h-0.8zM56.43 98.09h0.8v0.8h-0.8zM65.36 139.48h0.8v0.8h-0.8zM49.5 117.58h0.8v0.8h-0.8zM57.72 151.02h0.8v0.8h-0.8zM31.78 111.61h0.8v0.8h-0.8zM50.46 138.44h0.8v0.8h-0.8zM57.91 146.4h0.8v0.8h-0.8zM28.97 130.17h0.8v0.8h-0.8zM27.75 151.01h0.8v0.8h-0.8zM65.23 124.14h0.8v0.8h-0.8zM49.6 111.69h0.8v0.8h-0.8zM25.94 129.38h0.8v0.8h-0.8zM28.97 136.9h0.8v0.8h-0.8zM34.93 122.2h0.8v0.8h-0.8zM61.89 120.57h0.8v0.8h-0.8zM64.59 140.07h0.8v0.8h-0.8zM42.3 108.23h0.8v0.8h-0.8zM32.06 128.14h0.8v0.8h-0.8zM33.08 141.83h0.8v0.8h-0.8zM40.26 146.42h0.8v0.8h-0.8zM55.48 124.81h0.8v0.8h-0.8zM30.63 148.94h0.8v0.8h-0.8zM32.7 125.25h0.8v0.8h-0.8zM29.2 126.66h0.8v0.8h-0.8zM61.15 144.24h0.8v0.8h-0.8zM57.87 148.57h0.8v0.8h-0.8zM26 145.35h0.8v0.8h-0.8zM70.98 117.49h0.8v0.8h-0.8zM44.48 113.7h0.8v0.8h-0.8zM52.14 94.65h0.8v0.8h-0.8zM51.58 150.15h0.8v0.8h-0.8zM53.92 140.98h0.8v0.8h-0.8zM49 117.77h0.8v0.8h-0.8zM52.23 101.94h0.8v0.8h-0.8zM27.32 126.66h0.8v0.8h-0.8zM34.14 133.67h0.8v0.8h-0.8zM43.31 105.35h0.8v0.8h-0.8zM75.42 123.52h0.8v0.8h-0.8zM64.39 140.13h0.8v0.8h-0.8zM47.66 106.56h0.8v0.8h-0.8zM46.49 137.1h0.8v0.8h-0.8zM72.79 115.87h0.8v0.8h-0.8zM70.38 131.53h0.8v0.8h-0.8zM36.41 111.02h0.8v0.8h-0.8zM39.57 128.68h0.8v0.8h-0.8zM31.07 144.5h0.8v0.8h-0.8zM56.94 140.98h0.8v0.8h-0.8zM22.23 149.48h0.8v0.8h-0.8zM50.44 140.75h0.8v0.8h-0.8zM28 141.21h0.8v0.8h-0.8zM43.34 138.12h0.8v0.8h-0.8zM30.95 119.89h0.8v0.8h-0.8zM73.05 120.2h0.8v0.8h-0.8zM43.38 126.23h0.8v0.8h-0.8zM34.3 116.54h0.8v0.8h-0.8zM45.42 101.77h0.8v0.8h-0.8zM38.43 148.01h0.8v0.8h-0.8zM67.09 98.44h0.8v0.8h-0.8zM38.27 110.67h0.8v0.8h-0.8zM66.65 139.61h0.8v0.8h-0.8zM43.81 150.64h0.8v0.8h-0.8zM33.92 135.57h0.8v0.8h-0.8zM33.52 133.72h0.8v0.8h-0.8zM39.94 139.62h0.8v0.8h-0.8zM50.32 96.38h0.8v0.8h-0.8zM64.79 122.99h0.8v0.8h-0.8zM34.2 116.38h0.8v0.8h-0.8zM54.06 143.84h0.8v0.8h-0.8zM29.97 129.41h0.8v0.8h-0.8zM33.55 122.66h0.8v0.8h-0.8zM51.36 132.14h0.8v0.8h-0.8zM75.09 127.41h0.8v0.8h-0.8zM56.45 95.87h0.8v0.8h-0.8zM36.62 105.58h0.8v0.8h-0.8zM69.68 136.33h0.8v0.8h-0.8zM35.9 139.8h0.8v0.8h-0.8zM27.66 138.83h0.8v0.8h-0.8zM34.16 142.69h0.8v0.8h-0.8zM29.77 127.3h0.8v0.8h-0.8zM39.84 99.9h0.8v0.8h-0.8zM23.17 148.35h0.8v0.8h-0.8zM68.32 96.17h0.8v0.8h-0.8zM27.69 128.66h0.8v0.8h-0.8zM42.8 130.43h0.8v0.8h-0.8zM43.43 101.68h0.8v0.8h-0.8zM63.69 95.4h0.8v0.8h-0.8zM42.81 144.56h0.8v0.8h-0.8zM40.43 150.92h0.8v0.8h-0.8zM71.94 114.96h0.8v0.8h-0.8zM32.44 142.2h0.8v0.8h-0.8zM40.22 104.85h0.8v0.8h-0.8zM32.56 122.15h0.8v0.8h-0.8zM49.53 137.53h0.8v0.8h-0.8zM64.72 135.01h0.8v0.8h-0.8zM31.22 130.07h0.8v0.8h-0.8zM72.63 131.36h0.8v0.8h-0.8zM48.77 121.09h0.8v0.8h-0.8zM34.92 142.87h0.8v0.8h-0.8zM71.03 142.81h0.8v0.8h-0.8zM26.65 124.7h0.8v0.8h-0.8zM69.38 142.07h0.8v0.8h-0.8zM43.71 134.24h0.8v0.8h-0.8zM45.42 131.92h0.8v0.8h-0.8zM35.45 126.8h0.8v0.8h-0.8zM30.8 130.78h0.8v0.8h-0.8zM68.53 131.46h0.8v0.8h-0.8zM60.59 147.3h0.8v0.8h-0.8zM39.98 115.56h0.8v0.8h-0.8zM29.87 140.32h0.8v0.8h-0.8zM54.27 146.23h0.8v0.8h-0.8zM41.45 128.17h0.8v0.8h-0.8zM27.92 143.75h0.8v0.8h-0.8zM35.93 119.93h0.8v0.8h-0.8zM50.44 107.67h0.8v0.8h-0.8zM46.57 150.47h0.8v0.8h-0.8zM53.46 141.15h0.8v0.8h-0.8zM44.52 107.47h0.8v0.8h-0.8zM39.4 148.77h0.8v0.8h-0.8zM53.94 104.31h0.8v0.8h-0.8zM33.33 133.33h0.8v0.8h-0.8zM38.19 112.21h0.8v0.8h-0.8zM34.19 138.36h0.8v0.8h-0.8zM37.54 148.38h0.8v0.8h-0.8zM57.41 147.41h0.8v0.8h-0.8zM38.1 122.8h0.8v0.8h-0.8zM27.16 136.59h0.8v0.8h-0.8zM30.24 139.64h0.8v0.8h-0.8zM42.02 147.38h0.8v0.8h-0.8zM30.07 113.16h0.8v0.8h-0.8zM38.68 127.56h0.8v0.8h-0.8zM38.75 133.33h0.8v0.8h-0.8zM60.03 142.26h0.8v0.8h-0.8zM37.16 126.28h0.8v0.8h-0.8zM50.28 127.36h0.8v0.8h-0.8zM45.4 146.33h0.8v0.8h-0.8zM47.06 99.11h0.8v0.8h-0.8zM69.34 136.16h0.8v0.8h-0.8zM21.16 147.86h0.8v0.8h-0.8zM25.57 127.2h0.8v0.8h-0.8zM57.08 131.16h0.8v0.8h-0.8zM42.92 117.58h0.8v0.8h-0.8zM57.86 124.87h0.8v0.8h-0.8zM68.37 136.31h0.8v0.8h-0.8zM67.98 118.2h0.8v0.8h-0.8zM28.32 113.82h0.8v0.8h-0.8zM71.66 150.06h0.8v0.8h-0.8zM59.5 130.15h0.8v0.8h-0.8zM56.96 137.33h0.8v0.8h-0.8zM34.87 147.12h0.8v0.8h-0.8zM57.02 130.72h0.8v0.8h-0.8zM29.75 135.45h0.8v0.8h-0.8zM24.79 145.36h0.8v0.8h-0.8zM30.95 146.08h0.8v0.8h-0.8zM36.26 134.92h0.8v0.8h-0.8zM45.43 100.29h0.8v0.8h-0.8zM49.74 119.82h0.8v0.8h-0.8zM45.71 120.31h0.8v0.8h-0.8zM68.78 106.28h0.8v0.8h-0.8zM45.09 99.67h0.8v0.8h-0.8zM71.74 144.54h0.8v0.8h-0.8zM53.19 121.1h0.8v0.8h-0.8zM29.36 143.32h0.8v0.8h-0.8zM51.21 94.63h0.8v0.8h-0.8zM25.54 137.05h0.8v0.8h-0.8zM34.52 139.76h0.8v0.8h-0.8zM55.33 102.29h0.8v0.8h-0.8zM67.81 117.46h0.8v0.8h-0.8zM53.7 140.44h0.8v0.8h-0.8zM43.08 151.19h0.8v0.8h-0.8zM48.51 137.51h0.8v0.8h-0.8zM55.98 126.95h0.8v0.8h-0.8zM29.97 117.65h0.8v0.8h-0.8zM59.81 105.22h0.8v0.8h-0.8zM32.65 128.09h0.8v0.8h-0.8zM33.36 141.89h0.8v0.8h-0.8zM51.84 119.64h0.8v0.8h-0.8zM52.06 102.34h0.8v0.8h-0.8zM41.01 127.47h0.8v0.8h-0.8zM33.45 143.88h0.8v0.8h-0.8zM39.42 123.71h0.8v0.8h-0.8zM57.51 146.11h0.8v0.8h-0.8zM32.4 126h0.8v0.8h-0.8zM53.82 139.25h0.8v0.8h-0.8zM58.91 149.23h0.8v0.8h-0.8zM40.95 116.05h0.8v0.8h-0.8zM65.61 105.37h0.8v0.8h-0.8zM32.79 125.42h0.8v0.8h-0.8zM46.43 98.43h0.8v0.8h-0.8zM65.92 142.2h0.8v0.8h-0.8zM44.83 97.92h0.8v0.8h-0.8zM32.79 136.3h0.8v0.8h-0.8zM42.66 119.28h0.8v0.8h-0.8zM60.98 121.17h0.8v0.8h-0.8zM74.1 95.76h0.8v0.8h-0.8zM69.13 96.55h0.8v0.8h-0.8zM39.71 137.7h0.8v0.8h-0.8zM25.5 127.37h0.8v0.8h-0.8zM43.44 130.21h0.8v0.8h-0.8zM34.92 126.56h0.8v0.8h-0.8zM57.96 95.78h0.8v0.8h-0.8zM47.56 117.61h0.8v0.8h-0.8zM51.52 135.09h0.8v0.8h-0.8zM37.34 104.27h0.8v0.8h-0.8zM50.59 100.13h0.8v0.8h-0.8zM33.45 108.41h0.8v0.8h-0.8zM58.21 136.55h0.8v0.8h-0.8zM66.05 139h0.8v0.8h-0.8zM49.45 119.78h0.8v0.8h-0.8zM57.14 95.96h0.8v0.8h-0.8zM70.81 146.39h0.8v0.8h-0.8zM50.24 121.69h0.8v0.8h-0.8zM28.77 139.44h0.8v0.8h-0.8zM65.96 106.85h0.8v0.8h-0.8zM58 120.13h0.8v0.8h-0.8zM59.05 145.14h0.8v0.8h-0.8zM75.03 96.38h0.8v0.8h-0.8zM61.39 113.86h0.8v0.8h-0.8zM67.39 130.33h0.8v0.8h-0.8zM57.59 143.97h0.8v0.8h-0.8zM32.52 147.29h0.8v0.8h-0.8zM47.09 111.25h0.8v0.8h-0.8zM30.11 150.91h0.8v0.8h-0.8zM53.81 100.38h0.8v0.8h-0.8zM26.87 145.74h0.8v0.8h-0.8zM66.37 123.25h0.8v0.8h-0.8zM61.22 140.4h0.8v0.8h-0.8zM29.41 130.98h0.8v0.8h-0.8zM27.4 139.03h0.8v0.8h-0.8zM73.56 136.34h0.8v0.8h-0.8zM47.78 131.27h0.8v0.8h-0.8zM47.11 123.01h0.8v0.8h-0.8zM51.85 110.91h0.8v0.8h-0.8zM48.98 101.78h0.8v0.8h-0.8zM66.93 130.41h0.8v0.8h-0.8zM34.89 148.11h0.8v0.8h-0.8zM28.55 126.81h0.8v0.8h-0.8zM34.16 107.48h0.8v0.8h-0.8zM33.85 112.53h0.8v0.8h-0.8zM28.32 131.98h0.8v0.8h-0.8zM49.42 118.69h0.8v0.8h-0.8zM63.73 102.99h0.8v0.8h-0.8zM37.1 139.78h0.8v0.8h-0.8zM57.15 111.72h0.8v0.8h-0.8zM27.21 140.49h0.8v0.8h-0.8zM69.41 117.4h0.8v0.8h-0.8zM60.67 138.54h0.8v0.8h-0.8zM36.24 129.78h0.8v0.8h-0.8zM46.05 133.89h0.8v0.8h-0.8zM39.2 122.2h0.8v0.8h-0.8zM24.73 143.02h0.8v0.8h-0.8zM34.38 142.83h0.8v0.8h-0.8zM74.55 137.41h0.8v0.8h-0.8zM39.39 119.6h0.8v0.8h-0.8zM46.59 144.45h0.8v0.8h-0.8zM55.33 145.12h0.8v0.8h-0.8zM63.28 103.74h0.8v0.8h-0.8zM48.53 133.11h0.8v0.8h-0.8zM28.21 137.71h0.8v0.8h-0.8zM38.02 104.65h0.8v0.8h-0.8zM64.17 118.94h0.8v0.8h-0.8zM60.43 120.8h0.8v0.8h-0.8zM73.46 137.82h0.8v0.8h-0.8zM25.9 144.81h0.8v0.8h-0.8zM39.82 99.58h0.8v0.8h-0.8zM51.81 134.55h0.8v0.8h-0.8zM32.94 139.26h0.8v0.8h-0.8zM49.51 113.32h0.8v0.8h-0.8zM44.79 112.66h0.8v0.8h-0.8zM27.98 139.51h0.8v0.8h-0.8zM31.22 130.73h0.8v0.8h-0.8zM57.02 98.74h0.8v0.8h-0.8zM48.78 125.21h0.8v0.8h-0.8zM38.31 108.11h0.8v0.8h-0.8zM54.5 94.03h0.8v0.8h-0.8zM26.38 131.51h0.8v0.8h-0.8zM45.38 102.04h0.8v0.8h-0.8zM47.5 142.83h0.8v0.8h-0.8zM26.19 126.71h0.8v0.8h-0.8zM31.59 147.68h0.8v0.8h-0.8zM74.92 133.07h0.8v0.8h-0.8zM49.76 134.27h0.8v0.8h-0.8zM27.2 145.19h0.8v0.8h-0.8zM28.79 113.41h0.8v0.8h-0.8zM69.5 116.22h0.8v0.8h-0.8zM46.31 94.78h0.8v0.8h-0.8zM29.96 140.51h0.8v0.8h-0.8zM32.51 138.94h0.8v0.8h-0.8zM60.3 120.33h0.8v0.8h-0.8zM55.4 149.19h0.8v0.8h-0.8zM32.04 116.81h0.8v0.8h-0.8zM48.5 117.34h0.8v0.8h-0.8zM25.74 136.83h0.8v0.8h-0.8zM31.4 122.18h0.8v0.8h-0.8zM49.63 100.4h0.8v0.8h-0.8zM38.8 110.65h0.8v0.8h-0.8zM53.94 94.75h0.8v0.8h-0.8zM53.15 131.61h0.8v0.8h-0.8zM69.58 127.04h0.8v0.8h-0.8zM46.63 101.52h0.8v0.8h-0.8zM25.8 142.31h0.8v0.8h-0.8zM59.97 121.9h0.8v0.8h-0.8zM28.66 119.64h0.8v0.8h-0.8zM71.49 149.53h0.8v0.8h-0.8zM30.98 129.33h0.8v0.8h-0.8zM30.36 141.73h0.8v0.8h-0.8zM72.13 135.79h0.8v0.8h-0.8zM43.66 105.9h0.8v0.8h-0.8zM49.2 114.07h0.8v0.8h-0.8zM58.96 103.22h0.8v0.8h-0.8zM68.05 98.11h0.8v0.8h-0.8zM34.31 139.12h0.8v0.8h-0.8zM33.51 146.66h0.8v0.8h-0.8zM53.78 127.37h0.8v0.8h-0.8zM39.77 138.37h0.8v0.8h-0.8zM38.88 133.25h0.8v0.8h-0.8zM70.62 124.15h0.8v0.8h-0.8zM70.2 149.32h0.8v0.8h-0.8zM42.21 99.39h0.8v0.8h-0.8zM22.8 140.48h0.8v0.8h-0.8zM32.05 135.3h0.8v0.8h-0.8zM55.74 101.66h0.8v0.8h-0.8zM47.54 142.48h0.8v0.8h-0.8zM56.26 146.13h0.8v0.8h-0.8zM67.08 112.63h0.8v0.8h-0.8zM74.34 149.15h0.8v0.8h-0.8zM51.7 146.53h0.8v0.8h-0.8zM48.46 116.45h0.8v0.8h-0.8zM43.84 127.62h0.8v0.8h-0.8zM37.11 130.89h0.8v0.8h-0.8zM54.64 119.82h0.8v0.8h-0.8zM28.24 126.95h0.8v0.8h-0.8zM39.45 136.1h0.8v0.8h-0.8zM38.17 138.25h0.8v0.8h-0.8zM29.42 121.87h0.8v0.8h-0.8zM49.93 99.33h0.8v0.8h-0.8zM24.51 131.16h0.8v0.8h-0.8zM72.36 142.59h0.8v0.8h-0.8zM63.21 112.76h0.8v0.8h-0.8zM53.6 149.62h0.8v0.8h-0.8zM64.47 149.77h0.8v0.8h-0.8zM41.65 131.52h0.8v0.8h-0.8zM61.91 129.2h0.8v0.8h-0.8zM36.54 146.42h0.8v0.8h-0.8zM64.95 142.69h0.8v0.8h-0.8zM49.53 104.33h0.8v0.8h-0.8zM47.48 124.53h0.8v0.8h-0.8zM25.2 143.46h0.8v0.8h-0.8zM37.9 130.64h0.8v0.8h-0.8zM40.62 132.53h0.8v0.8h-0.8zM35.09 149.72h0.8v0.8h-0.8zM28.29 137.61h0.8v0.8h-0.8zM65.87 130.33h0.8v0.8h-0.8zM37.05 114.8h0.8v0.8h-0.8zM60.96 134.93h0.8v0.8h-0.8zM41.88 121.81h0.8v0.8h-0.8zM28.45 129.13h0.8v0.8h-0.8zM45.9 130.62h0.8v0.8h-0.8zM52.6 101.39h0.8v0.8h-0.8zM70.92 150.34h0.8v0.8h-0.8zM71.41 121.83h0.8v0.8h-0.8zM67.45 110.59h0.8v0.8h-0.8zM75.36 124.89h0.8v0.8h-0.8zM61.06 107.79h0.8v0.8h-0.8zM56.43 150.41h0.8v0.8h-0.8zM55.89 134.86h0.8v0.8h-0.8zM54.84 134.48h0.8v0.8h-0.8zM36.56 136.97h0.8v0.8h-0.8zM32.39 126.52h0.8v0.8h-0.8zM39.87 138.38h0.8v0.8h-0.8zM32.61 124.48h0.8v0.8h-0.8zM55.49 110.48h0.8v0.8h-0.8zM47.71 121.98h0.8v0.8h-0.8zM48.46 105.52h0.8v0.8h-0.8zM52.59 137.17h0.8v0.8h-0.8zM40.92 147.54h0.8v0.8h-0.8zM52.51 138.52h0.8v0.8h-0.8zM43.04 116.73h0.8v0.8h-0.8zM52.08 122.49h0.8v0.8h-0.8zM26.83 136.79h0.8v0.8h-0.8zM37.06 117.54h0.8v0.8h-0.8zM27.49 147.95h0.8v0.8h-0.8zM73.24 148.05h0.8v0.8h-0.8zM64.91 146.1h0.8v0.8h-0.8zM47.93 110.78h0.8v0.8h-0.8zM44.32 143.39h0.8v0.8h-0.8zM27.67 149.96h0.8v0.8h-0.8zM62.32 102.38h0.8v0.8h-0.8zM66.01 105.78h0.8v0.8h-0.8zM30.64 144.57h0.8v0.8h-0.8zM54.38 147.09h0.8v0.8h-0.8zM48.56 138.76h0.8v0.8h-0.8zM38.41 119.52h0.8v0.8h-0.8zM29.08 147.48h0.8v0.8h-0.8zM58.97 135.99h0.8v0.8h-0.8zM47.11 134.62h0.8v0.8h-0.8zM44.09 138.15h0.8v0.8h-0.8zM31.1 126.35h0.8v0.8h-0.8zM32.6 144.72h0.8v0.8h-0.8zM52.19 129.19h0.8v0.8h-0.8zM58.08 97.25h0.8v0.8h-0.8zM71.79 123.91h0.8v0.8h-0.8zM32.99 118.81h0.8v0.8h-0.8zM38.38 120.41h0.8v0.8h-0.8zM60.14 151.03h0.8v0.8h-0.8zM66.35 119.76h0.8v0.8h-0.8zM42.41 102.22h0.8v0.8h-0.8zM44.11 131.36h0.8v0.8h-0.8zM28.29 143.49h0.8v0.8h-0.8zM44.71 110.37h0.8v0.8h-0.8zM61.48 137.21h0.8v0.8h-0.8zM28.42 147.2h0.8v0.8h-0.8zM26.27 150.87h0.8v0.8h-0.8zM60.93 133.79h0.8v0.8h-0.8zM61.9 104.14h0.8v0.8h-0.8zM71.71 94.72h0.8v0.8h-0.8zM37.72 138.12h0.8v0.8h-0.8zM71.6 143.93h0.8v0.8h-0.8zM72.04 137.45h0.8v0.8h-0.8zM42.52 122.82h0.8v0.8h-0.8zM53.59 135.82h0.8v0.8h-0.8zM65.27 134.55h0.8v0.8h-0.8zM56.48 130.61h0.8v0.8h-0.8zM28.95 115.01h0.8v0.8h-0.8zM33.73 112.66h0.8v0.8h-0.8zM65.33 123.31h0.8v0.8h-0.8zM51.83 150.26h0.8v0.8h-0.8zM44.18 110.55h0.8v0.8h-0.8zM64.71 104.1h0.8v0.8h-0.8zM31.69 134.87h0.8v0.8h-0.8zM41.6 126.08h0.8v0.8h-0.8zM48.41 126.42h0.8v0.8h-0.8zM41.78 142.35h0.8v0.8h-0.8zM72.18 120.98h0.8v0.8h-0.8zM31.8 109.33h0.8v0.8h-0.8zM40 128.33h0.8v0.8h-0.8zM28.26 124.06h0.8v0.8h-0.8zM43.87 116.11h0.8v0.8h-0.8zM68.05 148.54h0.8v0.8h-0.8zM63.47 146.49h0.8v0.8h-0.8zM56.9 143.66h0.8v0.8h-0.8zM56.59 128.96h0.8v0.8h-0.8zM48.23 121.66h0.8v0.8h-0.8zM73.94 97.68h0.8v0.8h-0.8zM70.77 149.56h0.8v0.8h-0.8zM45.4 100.28h0.8v0.8h-0.8zM54.25 130.03h0.8v0.8h-0.8zM26.41 139.46h0.8v0.8h-0.8zM57.98 133.51h0.8v0.8h-0.8zM22.45 145.76h0.8v0.8h-0.8zM54.44 96.22h0.8v0.8h-0.8zM46.88 148.56h0.8v0.8h-0.8zM27.74 140.21h0.8v0.8h-0.8zM58.35 116.47h0.8v0.8h-0.8zM36.79 122.82h0.8v0.8h-0.8zM62.88 148.38h0.8v0.8h-0.8zM72.64 137.34h0.8v0.8h-0.8zM26.48 144.1h0.8v0.8h-0.8zM49.98 124.42h0.8v0.8h-0.8zM46.04 124.52h0.8v0.8h-0.8zM31.4 125.93h0.8v0.8h-0.8zM43.35 101.91h0.8v0.8h-0.8zM63.75 118.53h0.8v0.8h-0.8zM73.17 141.97h0.8v0.8h-0.8zM60.61 130.56h0.8v0.8h-0.8zM65.16 121.88h0.8v0.8h-0.8zM48.6 144.49h0.8v0.8h-0.8zM58.23 117.39h0.8v0.8h-0.8zM66.78 125.16h0.8v0.8h-0.8zM42.59 116.35h0.8v0.8h-0.8zM36.88 117.77h0.8v0.8h-0.8zM26.34 145.61h0.8v0.8h-0.8zM58.88 129.85h0.8v0.8h-0.8zM74.67 116.42h0.8v0.8h-0.8zM38.93 100.78h0.8v0.8h-0.8zM33.54 107.82h0.8v0.8h-0.8zM26.6 150.52h0.8v0.8h-0.8zM61.96 123.59h0.8v0.8h-0.8zM69.32 126.14h0.8v0.8h-0.8zM51.01 139.07h0.8v0.8h-0.8zM38.82 124.58h0.8v0.8h-0.8zM34.61 136.41h0.8v0.8h-0.8zM52.77 150.42h0.8v0.8h-0.8zM44.2 114.82h0.8v0.8h-0.8zM47.43 135.96h0.8v0.8h-0.8zM42.23 133.74h0.8v0.8h-0.8zM68.62 134.53h0.8v0.8h-0.8zM47.62 96.92h0.8v0.8h-0.8zM61.81 147.02h0.8v0.8h-0.8zM58.17 138.58h0.8v0.8h-0.8zM47.42 117.47h0.8v0.8h-0.8zM31.53 137.23h0.8v0.8h-0.8zM53.94 144.52h0.8v0.8h-0.8zM73.51 114.39h0.8v0.8h-0.8zM72.9 136.03h0.8v0.8h-0.8zM55.31 99.99h0.8v0.8h-0.8zM56.87 129.54h0.8v0.8h-0.8zM55.97 142.16h0.8v0.8h-0.8zM69.41 143.68h0.8v0.8h-0.8zM28.23 135.39h0.8v0.8h-0.8zM34.29 145.52h0.8v0.8h-0.8zM54.14 149.02h0.8v0.8h-0.8zM51.71 137.82h0.8v0.8h-0.8zM25.86 145.29h0.8v0.8h-0.8zM36.35 109.88h0.8v0.8h-0.8zM33.38 142.62h0.8v0.8h-0.8zM60.47 138.72h0.8v0.8h-0.8zM57.16 142.25h0.8v0.8h-0.8zM31.86 122.47h0.8v0.8h-0.8zM45.36 151.13h0.8v0.8h-0.8zM28.07 147.78h0.8v0.8h-0.8zM34.74 144.25h0.8v0.8h-0.8zM34.53 128.78h0.8v0.8h-0.8zM71.14 135.68h0.8v0.8h-0.8zM24.49 137.91h0.8v0.8h-0.8zM28.56 133.79h0.8v0.8h-0.8zM74.62 133.92h0.8v0.8h-0.8zM32.03 129.27h0.8v0.8h-0.8zM58.53 112.81h0.8v0.8h-0.8zM62.56 125.68h0.8v0.8h-0.8zM31.56 115.18h0.8v0.8h-0.8zM65.25 141.78h0.8v0.8h-0.8zM60.68 141.85h0.8v0.8h-0.8zM39.41 123.84h0.8v0.8h-0.8zM28.36 117.34h0.8v0.8h-0.8zM26.4 141.74h0.8v0.8h-0.8zM43.56 143.03h0.8v0.8h-0.8zM24.49 146.71h0.8v0.8h-0.8zM47.62 111.2h0.8v0.8h-0.8zM52.23 128.23h0.8v0.8h-0.8zM32.45 147.91h0.8v0.8h-0.8zM39.62 118.9h0.8v0.8h-0.8zM69.49 134.19h0.8v0.8h-0.8zM40.65 103.71h0.8v0.8h-0.8zM32.51 144.59h0.8v0.8h-0.8zM22.45 145.28h0.8v0.8h-0.8zM61.06 139.55h0.8v0.8h-0.8zM74.84 134.42h0.8v0.8h-0.8zM32.93 133.38h0.8v0.8h-0.8zM34.04 136.78h0.8v0.8h-0.8zM32.92 120.93h0.8v0.8h-0.8zM27.65 139.71h0.8v0.8h-0.8zM27.26 138.34h0.8v0.8h-0.8zM32.38 140.72h0.8v0.8h-0.8zM26.36 144.14h0.8v0.8h-0.8zM44.47 139.53h0.8v0.8h-0.8zM69.69 96.28h0.8v0.8h-0.8zM44.8 138.52h0.8v0.8h-0.8zM38.72 103.97h0.8v0.8h-0.8zM32.62 125.74h0.8v0.8h-0.8zM47.47 146.34h0.8v0.8h-0.8zM48.21 148.26h0.8v0.8h-0.8zM25.3 147.63h0.8v0.8h-0.8zM55.75 129.57h0.8v0.8h-0.8zM52.07 113.24h0.8v0.8h-0.8zM56.84 114.06h0.8v0.8h-0.8zM51.91 141.28h0.8v0.8h-0.8zM27.29 146.31h0.8v0.8h-0.8zM68.07 98.37h0.8v0.8h-0.8zM57.04 125.27h0.8v0.8h-0.8zM60.9 148.03h0.8v0.8h-0.8zM31.89 117.13h0.8v0.8h-0.8zM56.41 135.61h0.8v0.8h-0.8zM55.5 130.85h0.8v0.8h-0.8zM44.01 120.06h0.8v0.8h-0.8zM24.53 132.9h0.8v0.8h-0.8zM58.67 107.39h0.8v0.8h-0.8zM32.11 132.89h0.8v0.8h-0.8zM23.29 150.42h0.8v0.8h-0.8zM65.58 110.52h0.8v0.8h-0.8zM59.89 140.56h0.8v0.8h-0.8zM62.02 116.51h0.8v0.8h-0.8zM52.92 96.91h0.8v0.8h-0.8zM71.3 140.3h0.8v0.8h-0.8zM35.56 135.11h0.8v0.8h-0.8zM30.02 140.58h0.8v0.8h-0.8zM48.63 136.28h0.8v0.8h-0.8zM45.55 120.69h0.8v0.8h-0.8zM59.01 112.93h0.8v0.8h-0.8zM50.64 132.99h0.8v0.8h-0.8zM51.24 120.87h0.8v0.8h-0.8zM35.09 127.8h0.8v0.8h-0.8zM42.95 147.17h0.8v0.8h-0.8zM55.48 98.96h0.8v0.8h-0.8zM69.56 147.91h0.8v0.8h-0.8zM58.52 110.54h0.8v0.8h-0.8zM42.6 137.26h0.8v0.8h-0.8zM45.55 122.39h0.8v0.8h-0.8zM28.59 122.76h0.8v0.8h-0.8zM54.46 144.1h0.8v0.8h-0.8zM35.65 133.07h0.8v0.8h-0.8zM41.35 137.87h0.8v0.8h-0.8zM31.68 144.29h0.8v0.8h-0.8zM64.73 129.06h0.8v0.8h-0.8zM59.76 126.17h0.8v0.8h-0.8zM42.17 130.96h0.8v0.8h-0.8zM73.54 127.52h0.8v0.8h-0.8zM32.59 130.72h0.8v0.8h-0.8zM71.44 138.12h0.8v0.8h-0.8zM70.65 99.07h0.8v0.8h-0.8zM58.85 126.94h0.8v0.8h-0.8zM72.13 138.07h0.8v0.8h-0.8zM45.2 118.72h0.8v0.8h-0.8zM67.09 123.2h0.8v0.8h-0.8zM47.99 124.17h0.8v0.8h-0.8zM31.71 121.69h0.8v0.8h-0.8zM69.76 132.75h0.8v0.8h-0.8zM62.67 131.98h0.8v0.8h-0.8zM44.4 96.97h0.8v0.8h-0.8zM52.06 136.42h0.8v0.8h-0.8zM68.06 119.84h0.8v0.8h-0.8zM32.37 129.32h0.8v0.8h-0.8zM44.68 115.47h0.8v0.8h-0.8zM66.22 129.19h0.8v0.8h-0.8zM54.29 148.23h0.8v0.8h-0.8zM46.11 115.1h0.8v0.8h-0.8zM58.39 144.24h0.8v0.8h-0.8zM64.25 147.91h0.8v0.8h-0.8zM44.52 100.67h0.8v0.8h-0.8zM35.28 150.81h0.8v0.8h-0.8zM62.32 128.7h0.8v0.8h-0.8zM27.66 141.76h0.8v0.8h-0.8zM34.89 123.95h0.8v0.8h-0.8zM43.95 137.94h0.8v0.8h-0.8zM39.5 104.11h0.8v0.8h-0.8zM40.14 108.8h0.8v0.8h-0.8zM38.21 147.63h0.8v0.8h-0.8zM28.57 116.47h0.8v0.8h-0.8zM27.37 134.32h0.8v0.8h-0.8zM67.03 119.35h0.8v0.8h-0.8zM27.33 134.96h0.8v0.8h-0.8zM65.85 129.35h0.8v0.8h-0.8zM61.99 123.69h0.8v0.8h-0.8zM72.8 98.65h0.8v0.8h-0.8zM26.04 144.72h0.8v0.8h-0.8zM29.81 140.66h0.8v0.8h-0.8zM62.09 96.46h0.8v0.8h-0.8zM28.18 150.32h0.8v0.8h-0.8zM58.03 116.46h0.8v0.8h-0.8zM52.52 121.56h0.8v0.8h-0.8zM26.39 145.18h0.8v0.8h-0.8zM49.38 132.32h0.8v0.8h-0.8zM31.87 109.98h0.8v0.8h-0.8zM73.52 138.65h0.8v0.8h-0.8zM65.39 149.83h0.8v0.8h-0.8zM59.35 139.43h0.8v0.8h-0.8zM44.28 120.93h0.8v0.8h-0.8zM49.52 143.36h0.8v0.8h-0.8zM55.73 119.47h0.8v0.8h-0.8zM41.33 109.82h0.8v0.8h-0.8zM32.17 141.19h0.8v0.8h-0.8zM64.59 145.99h0.8v0.8h-0.8zM41.22 118.09h0.8v0.8h-0.8zM63.35 145.21h0.8v0.8h-0.8zM34.75 115.3h0.8v0.8h-0.8zM31.33 124.21h0.8v0.8h-0.8zM36.29 111.39h0.8v0.8h-0.8zM40.17 128.01h0.8v0.8h-0.8zM35.83 122.79h0.8v0.8h-0.8zM30.12 128.35h0.8v0.8h-0.8zM52.62 139.03h0.8v0.8h-0.8zM65.14 134.15h0.8v0.8h-0.8zM44.8 141.4h0.8v0.8h-0.8zM53.87 129.56h0.8v0.8h-0.8zM51.32 129.4h0.8v0.8h-0.8zM66.66 135.29h0.8v0.8h-0.8zM39.88 120.12h0.8v0.8h-0.8zM36.21 124.97h0.8v0.8h-0.8zM33.08 138.77h0.8v0.8h-0.8zM52.5 142.33h0.8v0.8h-0.8zM46.59 97.49h0.8v0.8h-0.8zM36.84 124.18h0.8v0.8h-0.8zM62.79 119.27h0.8v0.8h-0.8zM40.18 129.84h0.8v0.8h-0.8zM46.41 148.43h0.8v0.8h-0.8zM35.77 119.72h0.8v0.8h-0.8zM37.7 106.59h0.8v0.8h-0.8zM47.1 119.89h0.8v0.8h-0.8zM74.59 106.81h0.8v0.8h-0.8zM46.45 106h0.8v0.8h-0.8zM26.83 149.81h0.8v0.8h-0.8zM29.55 129.56h0.8v0.8h-0.8zM50.07 138.74h0.8v0.8h-0.8zM39.16 111.31h0.8v0.8h-0.8zM66.99 124.6h0.8v0.8h-0.8zM28.53 131.46h0.8v0.8h-0.8zM37.01 103.52h0.8v0.8h-0.8zM41.35 129.92h0.8v0.8h-0.8zM43.4 118.25h0.8v0.8h-0.8zM45.23 135.98h0.8v0.8h-0.8zM61.96 100.69h0.8v0.8h-0.8zM47.62 107.01h0.8v0.8h-0.8zM49.62 139.11h0.8v0.8h-0.8zM58.99 137.8h0.8v0.8h-0.8zM53.55 121.57h0.8v0.8h-0.8zM29.23 140.48h0.8v0.8h-0.8zM44.91 132.27h0.8v0.8h-0.8zM27.98 120.7h0.8v0.8h-0.8zM29.38 139.9h0.8v0.8h-0.8zM57.57 126.74h0.8v0.8h-0.8zM26.67 142.98h0.8v0.8h-0.8zM30.16 149.08h0.8v0.8h-0.8zM63.14 137.7h0.8v0.8h-0.8zM41.18 109.14h0.8v0.8h-0.8zM52.28 106.57h0.8v0.8h-0.8zM62.17 97.01h0.8v0.8h-0.8zM65.44 110.03h0.8v0.8h-0.8zM48.98 106.74h0.8v0.8h-0.8zM28.14 148.16h0.8v0.8h-0.8zM55.59 147.47h0.8v0.8h-0.8zM67.87 129.4h0.8v0.8h-0.8zM57.64 130.95h0.8v0.8h-0.8zM36.51 128.23h0.8v0.8h-0.8zM66.1 118.92h0.8v0.8h-0.8zM50.36 124.04h0.8v0.8h-0.8zM38.04 135.8h0.8v0.8h-0.8zM43.66 128.41h0.8v0.8h-0.8zM24.44 150.31h0.8v0.8h-0.8zM25.99 150.32h0.8v0.8h-0.8zM29.75 144.02h0.8v0.8h-0.8zM32.46 128.23h0.8v0.8h-0.8zM50.97 128.05h0.8v0.8h-0.8zM25.94 132.06h0.8v0.8h-0.8zM49.31 132.99h0.8v0.8h-0.8zM26.25 135.46h0.8v0.8h-0.8zM40.56 138.27h0.8v0.8h-0.8zM59.35 133.15h0.8v0.8h-0.8zM54.3 142.57h0.8v0.8h-0.8zM41.93 102.8h0.8v0.8h-0.8zM70.87 111.26h0.8v0.8h-0.8zM51.07 139.67h0.8v0.8h-0.8zM37.45 144.65h0.8v0.8h-0.8zM56.35 125.51h0.8v0.8h-0.8zM66.55 147.59h0.8v0.8h-0.8zM41.81 106.43h0.8v0.8h-0.8zM44.77 142.28h0.8v0.8h-0.8zM41.28 107.93h0.8v0.8h-0.8zM34.6 114.57h0.8v0.8h-0.8zM54.53 146.25h0.8v0.8h-0.8zM24.61 136.23h0.8v0.8h-0.8zM61.97 139.89h0.8v0.8h-0.8zM33.11 143.01h0.8v0.8h-0.8zM49.93 123.05h0.8v0.8h-0.8zM47.72 106.92h0.8v0.8h-0.8zM36.16 122.43h0.8v0.8h-0.8zM46.02 135.32h0.8v0.8h-0.8zM32.16 111.86h0.8v0.8h-0.8zM37.86 112.86h0.8v0.8h-0.8zM28.53 119.09h0.8v0.8h-0.8zM36.77 124.5h0.8v0.8h-0.8zM26.41 151.02h0.8v0.8h-0.8zM60.5 142.61h0.8v0.8h-0.8zM70.04 111.52h0.8v0.8h-0.8zM35.38 128.92h0.8v0.8h-0.8zM31.41 120.64h0.8v0.8h-0.8zM42.92 129.68h0.8v0.8h-0.8zM48.55 150.05h0.8v0.8h-0.8zM36.52 138.21h0.8v0.8h-0.8zM30.28 128.7h0.8v0.8h-0.8zM42.36 103.5h0.8v0.8h-0.8zM33.09 146.97h0.8v0.8h-0.8zM40.16 146.65h0.8v0.8h-0.8zM53.6 126.59h0.8v0.8h-0.8zM51.09 114.99h0.8v0.8h-0.8zM71.35 135.8h0.8v0.8h-0.8zM58.12 94.34h0.8v0.8h-0.8zM53.07 149.99h0.8v0.8h-0.8zM44.47 133.94h0.8v0.8h-0.8zM59.18 144.16h0.8v0.8h-0.8zM26.13 145.67h0.8v0.8h-0.8zM49.53 126.05h0.8v0.8h-0.8zM59.77 117.67h0.8v0.8h-0.8zM44.36 148.22h0.8v0.8h-0.8zM34.85 124.14h0.8v0.8h-0.8zM59.28 127.17h0.8v0.8h-0.8zM45.44 106.75h0.8v0.8h-0.8zM41.52 128.97h0.8v0.8h-0.8zM37.29 138.7h0.8v0.8h-0.8zM59.01 140.42h0.8v0.8h-0.8zM53.62 94.97h0.8v0.8h-0.8zM22.39 147.66h0.8v0.8h-0.8zM59.02 113.49h0.8v0.8h-0.8zM54.11 122.44h0.8v0.8h-0.8zM38.73 137.64h0.8v0.8h-0.8zM32.54 139.12h0.8v0.8h-0.8zM43.12 109.68h0.8v0.8h-0.8zM51.19 98.74h0.8v0.8h-0.8zM69.13 135.56h0.8v0.8h-0.8zM55.56 137.35h0.8v0.8h-0.8zM74.68 150.39h0.8v0.8h-0.8zM32.74 131.12h0.8v0.8h-0.8zM55.94 143.03h0.8v0.8h-0.8zM48.5 143h0.8v0.8h-0.8zM32.95 140.69h0.8v0.8h-0.8zM33.55 130.61h0.8v0.8h-0.8zM46.31 114.25h0.8v0.8h-0.8zM51.52 146.72h0.8v0.8h-0.8zM26.55 137.51h0.8v0.8h-0.8zM72.36 135.14h0.8v0.8h-0.8zM55.39 107.44h0.8v0.8h-0.8zM70.54 150.02h0.8v0.8h-0.8zM32.53 140.07h0.8v0.8h-0.8zM27.36 129.06h0.8v0.8h-0.8zM74.36 128.51h0.8v0.8h-0.8zM38.87 128.6h0.8v0.8h-0.8zM35.92 106.48h0.8v0.8h-0.8zM43.22 149.48h0.8v0.8h-0.8zM27.01 131.05h0.8v0.8h-0.8zM63.1 149.43h0.8v0.8h-0.8zM34.44 120.52h0.8v0.8h-0.8zM34.88 138.3h0.8v0.8h-0.8zM73.84 128.38h0.8v0.8h-0.8zM52.79 146.95h0.8v0.8h-0.8zM53.56 128.49h0.8v0.8h-0.8zM32.35 110.91h0.8v0.8h-0.8zM58.1 146.91h0.8v0.8h-0.8zM57.39 131.31h0.8v0.8h-0.8zM40.6 124.7h0.8v0.8h-0.8zM75.01 145.31h0.8v0.8h-0.8zM51.11 146.76h0.8v0.8h-0.8zM36.18 113.25h0.8v0.8h-0.8zM33.07 112.26h0.8v0.8h-0.8zM42.65 99.27h0.8v0.8h-0.8zM55.84 125.52h0.8v0.8h-0.8zM25.97 147.31h0.8v0.8h-0.8zM34.91 130.53h0.8v0.8h-0.8zM41.85 145.18h0.8v0.8h-0.8zM40.41 99.87h0.8v0.8h-0.8zM41.56 139.56h0.8v0.8h-0.8zM25.77 146.44h0.8v0.8h-0.8zM53.07 141.87h0.8v0.8h-0.8zM69.73 138.53h0.8v0.8h-0.8zM30.85 119.69h0.8v0.8h-0.8zM49.8 104.75h0.8v0.8h-0.8zM29.11 143.52h0.8v0.8h-0.8zM72.37 106.61h0.8v0.8h-0.8zM37.7 111.28h0.8v0.8h-0.8zM24.55 141.6h0.8v0.8h-0.8zM25.32 135.18h0.8v0.8h-0.8zM34.35 115.6h0.8v0.8h-0.8zM45.74 102.41h0.8v0.8h-0.8zM52.13 119.39h0.8v0.8h-0.8zM42.42 124.48h0.8v0.8h-0.8zM57.73 119.08h0.8v0.8h-0.8zM40.64 135.1h0.8v0.8h-0.8zM61.85 124.8h0.8v0.8h-0.8zM29.84 145.03h0.8v0.8h-0.8zM44.72 95.5h0.8v0.8h-0.8zM48.09 107.06h0.8v0.8h-0.8zM34.24 146.06h0.8v0.8h-0.8zM63.48 140.4h0.8v0.8h-0.8zM23.64 146.51h0.8v0.8h-0.8zM34.58 106.14h0.8v0.8h-0.8zM56.15 95.39h0.8v0.8h-0.8zM72.02 130.87h0.8v0.8h-0.8zM59.96 145.18h0.8v0.8h-0.8zM39.78 99.92h0.8v0.8h-0.8zM29.25 121.98h0.8v0.8h-0.8zM50.43 138.19h0.8v0.8h-0.8zM29.93 120.48h0.8v0.8h-0.8zM39.49 145.71h0.8v0.8h-0.8zM70.98 94.64h0.8v0.8h-0.8zM60.05 137.47h0.8v0.8h-0.8zM52.66 96.53h0.8v0.8h-0.8zM38.44 101.66h0.8v0.8h-0.8zM49.42 144.96h0.8v0.8h-0.8zM66.92 133.83h0.8v0.8h-0.8zM28.56 148.99h0.8v0.8h-0.8zM53.38 142.27h0.8v0.8h-0.8zM69.17 147.09h0.8v0.8h-0.8zM36.6 111.44h0.8v0.8h-0.8zM67.68 128.55h0.8v0.8h-0.8zM33.59 135.31h0.8v0.8h-0.8zM44.13 124.85h0.8v0.8h-0.8zM38.52 139.85h0.8v0.8h-0.8zM43.08 149.26h0.8v0.8h-0.8zM62.38 122.83h0.8v0.8h-0.8zM21.04 148.7h0.8v0.8h-0.8zM31.3 130.62h0.8v0.8h-0.8zM54.02 107.65h0.8v0.8h-0.8zM40.7 133.98h0.8v0.8h-0.8zM58.31 139.97h0.8v0.8h-0.8zM38.91 121.83h0.8v0.8h-0.8zM24.27 150.41h0.8v0.8h-0.8zM53.41 116.4h0.8v0.8h-0.8zM66.83 126.79h0.8v0.8h-0.8zM70.78 141.28h0.8v0.8h-0.8zM49.09 113.7h0.8v0.8h-0.8zM34.83 142.93h0.8v0.8h-0.8zM23.37 147.46h0.8v0.8h-0.8zM49.24 124.1h0.8v0.8h-0.8zM74.55 102.5h0.8v0.8h-0.8zM34.64 105.91h0.8v0.8h-0.8zM32.46 108.51h0.8v0.8h-0.8zM34.78 141.78h0.8v0.8h-0.8zM48.37 114.56h0.8v0.8h-0.8zM27.71 114.98h0.8v0.8h-0.8zM69.77 134.9h0.8v0.8h-0.8zM34.14 139.05h0.8v0.8h-0.8zM71.42 108.17h0.8v0.8h-0.8zM54.59 126.82h0.8v0.8h-0.8zM51.44 122.98h0.8v0.8h-0.8zM39.16 107.1h0.8v0.8h-0.8zM35.18 118.49h0.8v0.8h-0.8zM58.21 150.04h0.8v0.8h-0.8zM32.55 122.23h0.8v0.8h-0.8zM35.72 132.46h0.8v0.8h-0.8zM68.44 143.61h0.8v0.8h-0.8zM55.76 96.33h0.8v0.8h-0.8zM68.3 131.11h0.8v0.8h-0.8zM61.05 141.41h0.8v0.8h-0.8zM27.25 148.45h0.8v0.8h-0.8zM30.3 148.61h0.8v0.8h-0.8zM31.64 139.66h0.8v0.8h-0.8zM30.46 146.35h0.8v0.8h-0.8zM29.21 120.89h0.8v0.8h-0.8zM42.93 123.21h0.8v0.8h-0.8zM62.59 100.59h0.8v0.8h-0.8zM52.56 148.07h0.8v0.8h-0.8zM23.1 146.63h0.8v0.8h-0.8zM27.44 133.15h0.8v0.8h-0.8zM40.87 123.66h0.8v0.8h-0.8zM59.13 112.94h0.8v0.8h-0.8zM35.32 117.62h0.8v0.8h-0.8zM41.98 148.74h0.8v0.8h-0.8zM42.95 95.97h0.8v0.8h-0.8zM64.19 117.29h0.8v0.8h-0.8zM55.73 105.67h0.8v0.8h-0.8zM24.02 143.11h0.8v0.8h-0.8zM45.04 136.16h0.8v0.8h-0.8zM24.73 149.4h0.8v0.8h-0.8zM61.8 136.46h0.8v0.8h-0.8zM59.5 106.37h0.8v0.8h-0.8zM51.16 103.2h0.8v0.8h-0.8zM38.89 148.82h0.8v0.8h-0.8zM53.78 127.2h0.8v0.8h-0.8zM65.47 104.95h0.8v0.8h-0.8zM61.78 96.32h0.8v0.8h-0.8zM50.61 119.96h0.8v0.8h-0.8zM28.4 133.7h0.8v0.8h-0.8zM41.37 115.89h0.8v0.8h-0.8zM65.21 115.73h0.8v0.8h-0.8zM25.58 141h0.8v0.8h-0.8zM27.89 138.65h0.8v0.8h-0.8zM62.27 129.48h0.8v0.8h-0.8zM65.85 141.45h0.8v0.8h-0.8zM37.61 141.27h0.8v0.8h-0.8zM44.98 134.77h0.8v0.8h-0.8zM37.58 109.09h0.8v0.8h-0.8zM73.5 110.88h0.8v0.8h-0.8zM55.3 113.67h0.8v0.8h-0.8zM25.53 133.67h0.8v0.8h-0.8zM40.5 145.18h0.8v0.8h-0.8zM68.07 150.89h0.8v0.8h-0.8zM68.71 139.64h0.8v0.8h-0.8zM32.92 142.87h0.8v0.8h-0.8zM25.27 138.85h0.8v0.8h-0.8zM70.44 129.5h0.8v0.8h-0.8zM35.33 106.91h0.8v0.8h-0.8zM65.11 122.14h0.8v0.8h-0.8zM75.07 137.17h0.8v0.8h-0.8zM69.59 136.38h0.8v0.8h-0.8zM48.07 107.66h0.8v0.8h-0.8zM60.98 136.97h0.8v0.8h-0.8zM28.42 146.62h0.8v0.8h-0.8zM60.83 142.44h0.8v0.8h-0.8zM69.93 114.25h0.8v0.8h-0.8zM52.95 100.48h0.8v0.8h-0.8zM53.31 141.21h0.8v0.8h-0.8zM58.36 124.92h0.8v0.8h-0.8zM64.13 136.68h0.8v0.8h-0.8zM28.14 142.77h0.8v0.8h-0.8zM28.96 133.19h0.8v0.8h-0.8zM35.21 105.33h0.8v0.8h-0.8zM39.82 106.61h0.8v0.8h-0.8zM39.71 151.17h0.8v0.8h-0.8zM64.94 146.1h0.8v0.8h-0.8zM60.89 129.63h0.8v0.8h-0.8zM22.97 140.71h0.8v0.8h-0.8zM60.57 140.46h0.8v0.8h-0.8zM35.34 120.27h0.8v0.8h-0.8zM38.58 148.8h0.8v0.8h-0.8zM60.67 142.09h0.8v0.8h-0.8zM43.06 144.4h0.8v0.8h-0.8zM24.93 133.62h0.8v0.8h-0.8zM72.41 135.42h0.8v0.8h-0.8zM67.41 106.73h0.8v0.8h-0.8zM64.73 143.14h0.8v0.8h-0.8zM33.75 133.61h0.8v0.8h-0.8zM73.66 150.2h0.8v0.8h-0.8zM44.48 110h0.8v0.8h-0.8zM62.17 111.94h0.8v0.8h-0.8zM34.5 122.4h0.8v0.8h-0.8zM52.35 147.65h0.8v0.8h-0.8zM55.9 138.09h0.8v0.8h-0.8zM32.9 117.02h0.8v0.8h-0.8zM36.63 106.84h0.8v0.8h-0.8zM47.63 147.14h0.8v0.8h-0.8zM72.97 143.68h0.8v0.8h-0.8zM22.71 143.67h0.8v0.8h-0.8zM67.56 142.86h0.8v0.8h-0.8zM64.86 100.67h0.8v0.8h-0.8zM29.82 144.58h0.8v0.8h-0.8zM33.83 149.21h0.8v0.8h-0.8zM70.41 108.93h0.8v0.8h-0.8zM51.15 145.03h0.8v0.8h-0.8zM28.43 128.74h0.8v0.8h-0.8zM67.41 130.67h0.8v0.8h-0.8zM29.27 130.64h0.8v0.8h-0.8zM39.17 136.73h0.8v0.8h-0.8zM72.02 96.04h0.8v0.8h-0.8zM55.9 121.02h0.8v0.8h-0.8zM66.72 115.27h0.8v0.8h-0.8zM68.04 149.35h0.8v0.8h-0.8zM28.89 137.75h0.8v0.8h-0.8zM54.25 113.47h0.8v0.8h-0.8zM40.3 101.75h0.8v0.8h-0.8zM58.4 139.5h0.8v0.8h-0.8zM35.27 150.02h0.8v0.8h-0.8zM57.15 126.92h0.8v0.8h-0.8zM46.69 141.33h0.8v0.8h-0.8zM46.9 135.6h0.8v0.8h-0.8zM51.98 137.66h0.8v0.8h-0.8zM63.71 145.64h0.8v0.8h-0.8zM60.87 121.02h0.8v0.8h-0.8zM63.35 123.33h0.8v0.8h-0.8zM55.76 138.59h0.8v0.8h-0.8zM43.43 109.41h0.8v0.8h-0.8zM28.99 147.31h0.8v0.8h-0.8zM36.98 139.04h0.8v0.8h-0.8zM70.06 125.27h0.8v0.8h-0.8zM35.89 144.82h0.8v0.8h-0.8zM74.26 115.03h0.8v0.8h-0.8zM34.2 145.98h0.8v0.8h-0.8zM42.85 112.78h0.8v0.8h-0.8zM28.92 120.47h0.8v0.8h-0.8zM45.59 132.63h0.8v0.8h-0.8zM49.44 142.22h0.8v0.8h-0.8zM64.25 134.83h0.8v0.8h-0.8zM35.79 143.05h0.8v0.8h-0.8zM61.99 136.37h0.8v0.8h-0.8zM58.88 98.93h0.8v0.8h-0.8zM61.9 146.01h0.8v0.8h-0.8zM51.33 137.28h0.8v0.8h-0.8zM36.3 118.65h0.8v0.8h-0.8zM36.24 104.09h0.8v0.8h-0.8zM33.9 134.54h0.8v0.8h-0.8zM59.36 136.45h0.8v0.8h-0.8zM24.92 144.87h0.8v0.8h-0.8zM56.02 132h0.8v0.8h-0.8zM28.79 147.07h0.8v0.8h-0.8zM37.98 124.53h0.8v0.8h-0.8zM35.6 110.21h0.8v0.8h-0.8zM52.69 94.19h0.8v0.8h-0.8zM38.34 132.92h0.8v0.8h-0.8zM46.4 94.57h0.8v0.8h-0.8zM69.2 101.69h0.8v0.8h-0.8zM70.18 100.93h0.8v0.8h-0.8zM31.2 119.31h0.8v0.8h-0.8zM45.23 141.44h0.8v0.8h-0.8zM65.88 143.04h0.8v0.8h-0.8zM59.59 132.02h0.8v0.8h-0.8zM36.49 148.17h0.8v0.8h-0.8zM35.45 118.45h0.8v0.8h-0.8zM51.4 131.99h0.8v0.8h-0.8zM45.93 130.01h0.8v0.8h-0.8zM32.03 139.07h0.8v0.8h-0.8zM41.57 136.76h0.8v0.8h-0.8zM39.46 126.68h0.8v0.8h-0.8zM58.68 150.99h0.8v0.8h-0.8zM61.38 111.11h0.8v0.8h-0.8zM63.49 129.11h0.8v0.8h-0.8zM56.21 138.89h0.8v0.8h-0.8zM60.07 147.36h0.8v0.8h-0.8zM42.11 113.93h0.8v0.8h-0.8zM73.63 120.29h0.8v0.8h-0.8zM50.49 129.33h0.8v0.8h-0.8zM33.06 146.64h0.8v0.8h-0.8zM47.99 130.71h0.8v0.8h-0.8zM34.36 106.48h0.8v0.8h-0.8zM31.59 134.28h0.8v0.8h-0.8zM73.89 134.84h0.8v0.8h-0.8zM40.93 143.78h0.8v0.8h-0.8zM28.59 145.99h0.8v0.8h-0.8zM46.86 131.98h0.8v0.8h-0.8zM41.79 104h0.8v0.8h-0.8zM29.81 125.53h0.8v0.8h-0.8zM55.02 125.78h0.8v0.8h-0.8zM49.73 127.93h0.8v0.8h-0.8zM52.4 149.26h0.8v0.8h-0.8zM53.3 118.17h0.8v0.8h-0.8zM75.13 126.24h0.8v0.8h-0.8zM65.35 135.74h0.8v0.8h-0.8zM48.53 97.35h0.8v0.8h-0.8zM60.6 149.91h0.8v0.8h-0.8zM36.91 126.44h0.8v0.8h-0.8zM58.43 150.86h0.8v0.8h-0.8zM42.91 115.8h0.8v0.8h-0.8zM55.93 97.88h0.8v0.8h-0.8zM32.1 150.34h0.8v0.8h-0.8zM75.37 136.42h0.8v0.8h-0.8zM60.54 128.78h0.8v0.8h-0.8zM55.8 141.52h0.8v0.8h-0.8zM38.12 149.47h0.8v0.8h-0.8zM35.12 132.38h0.8v0.8h-0.8zM58.94 137.75h0.8v0.8h-0.8zM55.01 151.18h0.8v0.8h-0.8zM32.53 136.7h0.8v0.8h-0.8zM70.64 129.44h0.8v0.8h-0.8zM26.58 141.52h0.8v0.8h-0.8zM42.02 134.54h0.8v0.8h-0.8zM46.75 146.31h0.8v0.8h-0.8zM58.31 127.28h0.8v0.8h-0.8zM67.14 122.24h0.8v0.8h-0.8zM30.55 135.66h0.8v0.8h-0.8zM44.47 101.06h0.8v0.8h-0.8zM28.37 123.62h0.8v0.8h-0.8zM65.16 123.55h0.8v0.8h-0.8zM60.93 130.76h0.8v0.8h-0.8zM29.53 141.09h0.8v0.8h-0.8zM61.3 150.23h0.8v0.8h-0.8zM39.73 138.99h0.8v0.8h-0.8zM64.19 100.66h0.8v0.8h-0.8zM40.33 150.47h0.8v0.8h-0.8zM55.65 139.49h0.8v0.8h-0.8zM45.95 110.28h0.8v0.8h-0.8zM47.33 149.93h0.8v0.8h-0.8zM57.54 96.66h0.8v0.8h-0.8zM45.28 130.23h0.8v0.8h-0.8zM30.22 134.59h0.8v0.8h-0.8zM39.31 122.6h0.8v0.8h-0.8zM39.57 143.09h0.8v0.8h-0.8zM44.44 150.26h0.8v0.8h-0.8zM49.48 150.88h0.8v0.8h-0.8zM53.26 119.17h0.8v0.8h-0.8zM43.14 129.9h0.8v0.8h-0.8zM54.96 99.8h0.8v0.8h-0.8zM70.96 141.24h0.8v0.8h-0.8zM24.25 141.22h0.8v0.8h-0.8zM49.59 94.16h0.8v0.8h-0.8zM54 98.25h0.8v0.8h-0.8zM74.03 137.68h0.8v0.8h-0.8zM47.33 113.65h0.8v0.8h-0.8zM54.44 103.16h0.8v0.8h-0.8zM39.27 111.15h0.8v0.8h-0.8zM33.93 124.73h0.8v0.8h-0.8zM46.73 146.15h0.8v0.8h-0.8zM73.76 104.23h0.8v0.8h-0.8zM75.15 142.24h0.8v0.8h-0.8zM46.97 142.8h0.8v0.8h-0.8zM48.11 143.02h0.8v0.8h-0.8zM29.85 127.25h0.8v0.8h-0.8zM33.07 110.43h0.8v0.8h-0.8zM34.65 140.85h0.8v0.8h-0.8zM59.37 102.19h0.8v0.8h-0.8zM48.71 137.99h0.8v0.8h-0.8zM70.78 149.28h0.8v0.8h-0.8zM29.55 131.95h0.8v0.8h-0.8zM52.7 150.09h0.8v0.8h-0.8zM69.4 116.82h0.8v0.8h-0.8zM68.74 103.98h0.8v0.8h-0.8zM50.41 99.6h0.8v0.8h-0.8zM43.09 142.46h0.8v0.8h-0.8zM73.33 126.85h0.8v0.8h-0.8zM28.24 142.8h0.8v0.8h-0.8zM41.5 105.61h0.8v0.8h-0.8zM30.45 145.75h0.8v0.8h-0.8zM35.1 123.23h0.8v0.8h-0.8zM39.58 134.63h0.8v0.8h-0.8zM28.1 150.15h0.8v0.8h-0.8zM64.03 147.85h0.8v0.8h-0.8zM42.06 118.79h0.8v0.8h-0.8zM25.52 143.69h0.8v0.8h-0.8zM70.76 122.36h0.8v0.8h-0.8zM62.96 112.8h0.8v0.8h-0.8zM38.06 147.19h0.8v0.8h-0.8zM59.96 140.51h0.8v0.8h-0.8zM38.81 142.59h0.8v0.8h-0.8zM45.64 137.31h0.8v0.8h-0.8zM60.94 142.97h0.8v0.8h-0.8zM70.49 145.26h0.8v0.8h-0.8zM43.61 122.35h0.8v0.8h-0.8zM62.68 129.45h0.8v0.8h-0.8zM65.78 148.94h0.8v0.8h-0.8zM54.41 96.27h0.8v0.8h-0.8zM74.35 95.56h0.8v0.8h-0.8zM70.85 99.24h0.8v0.8h-0.8zM48.55 110.61h0.8v0.8h-0.8zM43.44 130.15h0.8v0.8h-0.8zM68.02 141.7h0.8v0.8h-0.8zM36.19 123.52h0.8v0.8h-0.8zM54.42 108.56h0.8v0.8h-0.8zM55.4 108.46h0.8v0.8h-0.8zM33.41 121.87h0.8v0.8h-0.8zM47.88 126.03h0.8v0.8h-0.8zM27.72 129.24h0.8v0.8h-0.8zM28.88 132.06h0.8v0.8h-0.8zM30.96 123.19h0.8v0.8h-0.8zM24.61 145.64h0.8v0.8h-0.8zM24.44 135.72h0.8v0.8h-0.8zM39.94 104.43h0.8v0.8h-0.8zM48.5 101.07h0.8v0.8h-0.8zM42.49 96.3h0.8v0.8h-0.8zM51.1 142.05h0.8v0.8h-0.8zM35.19 123.62h0.8v0.8h-0.8zM52.63 95.97h0.8v0.8h-0.8zM46.98 128.15h0.8v0.8h-0.8zM42.42 143.88h0.8v0.8h-0.8zM44.19 106.64h0.8v0.8h-0.8zM28.82 129.93h0.8v0.8h-0.8zM64.5 112.17h0.8v0.8h-0.8zM35.33 150.41h0.8v0.8h-0.8zM67.7 118.07h0.8v0.8h-0.8zM26.27 137.35h0.8v0.8h-0.8zM43.43 133.4h0.8v0.8h-0.8zM64.37 134.56h0.8v0.8h-0.8zM73.5 143.35h0.8v0.8h-0.8zM35.3 128.73h0.8v0.8h-0.8zM29.83 131.54h0.8v0.8h-0.8zM70.93 105.4h0.8v0.8h-0.8zM45.25 127.73h0.8v0.8h-0.8zM47.9 104.9h0.8v0.8h-0.8zM72.98 128.72h0.8v0.8h-0.8zM75.42 133.54h0.8v0.8h-0.8zM39.32 150.21h0.8v0.8h-0.8zM49.17 143.51h0.8v0.8h-0.8zM45.42 120.5h0.8v0.8h-0.8zM28.73 139.03h0.8v0.8h-0.8zM65 96.08h0.8v0.8h-0.8zM38.87 139.63h0.8v0.8h-0.8zM64.26 146.9h0.8v0.8h-0.8zM43.48 150.77h0.8v0.8h-0.8zM56.89 95.34h0.8v0.8h-0.8zM49.83 143.56h0.8v0.8h-0.8zM50.23 130.27h0.8v0.8h-0.8zM63.2 123.22h0.8v0.8h-0.8zM71.8 124.3h0.8v0.8h-0.8zM34.95 151.08h0.8v0.8h-0.8zM70.1 113.04h0.8v0.8h-0.8zM50.11 145.02h0.8v0.8h-0.8zM41.33 104.42h0.8v0.8h-0.8zM72.68 120.86h0.8v0.8h-0.8zM70.72 113.26h0.8v0.8h-0.8zM50.63 97.92h0.8v0.8h-0.8zM28.26 135.86h0.8v0.8h-0.8zM42.11 114.15h0.8v0.8h-0.8zM46.3 130.07h0.8v0.8h-0.8zM65.15 140.27h0.8v0.8h-0.8zM24.8 142.15h0.8v0.8h-0.8zM71.03 123.08h0.8v0.8h-0.8zM43.15 96.06h0.8v0.8h-0.8z" fill="#8c8c8c" opacity="0.6" clip-path="url(#c10)"/>
<ellipse cx="24.8" cy="145.7" rx="1.2" ry="3" transform="rotate(-15 24.8 145.7)" fill="none" stroke="#888" stroke-width="0.55"/>
<ellipse cx="25.2" cy="145.1" rx="2.2" ry="4.8" transform="rotate(-15 25.2 145.1)" fill="none" stroke="#888" stroke-width="0.55"/>
<ellipse cx="25.6" cy="144.5" rx="3.2" ry="6.5" transform="rotate(-15 25.6 144.5)" fill="none" stroke="#888" stroke-width="0.55"/>
<path d="M26.3 139.2 C30.3 135.2 33.3 135.2 37.3 133.2" stroke="#aaa" stroke-width="0.5" fill="none"/>
<path d="M27.3 143.2 C31.3 139.2 34.3 139.2 37.3 137.2" stroke="#aaa" stroke-width="0.5" fill="none"/>
<ellipse cx="53.8" cy="131.5" rx="18.5" ry="10.6" transform="rotate(-27 53.8 131.5)" fill="#e4e4e4"/>
<ellipse cx="49.3" cy="139.7" rx="3.5" ry="1.6" transform="rotate(-27 49.3 139.7)" fill="none" stroke="rgb(30,30,30)" stroke-width="0.6"/>
<ellipse cx="49.75" cy="138.9" rx="4.9" ry="2.47" transform="rotate(-27 49.75 138.9)" fill="none" stroke="rgb(41,41,41)" stroke-width="0.6"/>
<ellipse cx="50.2" cy="138.1" rx="6.3" ry="3.34" transform="rotate(-27 50.2 138.1)" fill="none" stroke="rgb(52,52,52)" stroke-width="0.6"/>
<ellipse cx="50.65" cy="137.3" rx="7.7" ry="4.21" transform="rotate(-27 50.65 137.3)" fill="none" stroke="rgb(63,63,63)" stroke-width="0.6"/>
<ellipse cx="51.1" cy="136.5" rx="9.1" ry="5.08" transform="rotate(-27 51.1 136.5)" fill="none" stroke="rgb(74,74,74)" stroke-width="0.6"/>
<ellipse cx="51.55" cy="135.7" rx="10.5" ry="5.95" transform="rotate(-27 51.55 135.7)" fill="none" stroke="rgb(85,85,85)" stroke-width="0.6"/>
<ellipse cx="52" cy="134.9" rx="11.9" ry="6.82" transform="rotate(-27 52 134.9)" fill="none" stroke="rgb(96,96,96)" stroke-width="0.6"/>
<ellipse cx="52.45" cy="134.1" rx="13.3" ry="7.69" transform="rotate(-27 52.45 134.1)" fill="none" stroke="rgb(107,107,107)" stroke-width="0.6"/>
<ellipse cx="52.9" cy="133.3" rx="14.7" ry="8.56" transform="rotate(-27 52.9 133.3)" fill="none" stroke="rgb(118,118,118)" stroke-width="0.6"/>
<ellipse cx="53.35" cy="132.5" rx="16.1" ry="9.43" transform="rotate(-27 53.35 132.5)" fill="none" stroke="rgb(129,129,129)" stroke-width="0.6"/>
<ellipse cx="53.8" cy="131.7" rx="17.5" ry="10.3" transform="rotate(-27 53.8 131.7)" fill="none" stroke="rgb(140,140,140)" stroke-width="0.6"/>
<ellipse cx="49.3" cy="139.5" rx="4.5" ry="1.8" transform="rotate(-27 49.3 139.5)" fill="#333" opacity="0.8"/>
<ellipse cx="51.3" cy="135.7" rx="9" ry="4.2" transform="rotate(-27 51.3 135.7)" fill="#555" opacity="0.25"/>
<ellipse cx="50.3" cy="138" rx="2.8" ry="0.7" transform="rotate(-27 50.3 138)" fill="#ddd" opacity="0.9"/>
<ellipse cx="53.8" cy="131.2" rx="20" ry="12" transform="rotate(-28 53.8 131.2)" fill="none" stroke="#1a1a1a" stroke-width="1.35"/>
<path d="M16.3 151h-1.5M16.3 149h-1.5M16.3 147.7h-1.5M16.3 146.2h-1.5M16.3 144.5h-1.5M16.3 142.5h-2.2M16.3 141.4h-1.5M16.3 140.1h-1.5M16.3 138.6h-2.2M16.3 137.3h-2.2M16.3 136h-2.2M16.3 134.5h-1.5M16.3 133.4h-2.2M16.3 132.3h-1.5M16.3 130.3h-2.2M16.3 128.6h-1.5M16.3 127.5h-1.5M16.3 126.2h-1.5M16.3 124.2h-1.5M16.3 123.1h-1.5M16.3 121.1h-1.5M16.3 119.4h-1.5M16.3 117.4h-1.5M16.3 115.4h-1.5M16.3 114.3h-1.5M16.3 113.2h-1.5M16.3 111.7h-1.5M16.3 110.2h-1.5M16.3 108.5h-1.5M16.3 107.4h-1.5M16.3 105.9h-1.5M16.3 103.9h-1.5M16.3 101.9h-2.2M16.3 100.2h-1.5M16.3 98.5h-2.2M16.3 97.4h-2.2M16.3 95.7h-2.2M16.3 94.4h-1.5M16.3 93.3h-1.5M17.5 152.2v2.2M20.3 152.2v1.5M22.1 152.2v1.5M23.6 152.2v1.5M26.4 152.2v2.2M28.2 152.2v1.5M29.7 152.2v1.5M31.5 152.2v1.5M33.3 152.2v2.2M34.6 152.2v1.5M36.8 152.2v1.5M38.1 152.2v1.5M39.4 152.2v1.5M40.5 152.2v1.5M42 152.2v2.2M43.1 152.2v1.5M44.4 152.2v1.5M45.9 152.2v1.5M48.1 152.2v2.2M49.6 152.2v1.5M52.4 152.2v1.5M55.2 152.2v2.2M57.4 152.2v1.5M59.2 152.2v1.5M60.7 152.2v1.5M62.5 152.2v1.5M63.8 152.2v1.5M66 152.2v1.5M67.5 152.2v1.5M69.7 152.2v1.5M71.5 152.2v1.5M72.8 152.2v1.5M75 152.2v1.5" stroke="#333" stroke-width="0.7" fill="none"/>
<rect x="16.3" y="92" width="60.2" height="60.2" fill="none" stroke="#231f20" stroke-width="1.2"/>
<path d="M127.5 124.15h0.8v0.8h-0.8zM136.67 143.45h0.8v0.8h-0.8zM132.46 136.26h0.8v0.8h-0.8zM132.65 124.15h0.8v0.8h-0.8zM126.35 131.29h0.8v0.8h-0.8zM136.41 124.72h0.8v0.8h-0.8zM133.53 134.25h0.8v0.8h-0.8zM128.33 130.27h0.8v0.8h-0.8zM139.83 124.72h0.8v0.8h-0.8zM138.74 138.78h0.8v0.8h-0.8zM135.02 131.76h0.8v0.8h-0.8zM127.79 123.87h0.8v0.8h-0.8zM134.19 128.55h0.8v0.8h-0.8zM133.54 131.29h0.8v0.8h-0.8zM129.92 125.09h0.8v0.8h-0.8zM130.58 132.46h0.8v0.8h-0.8zM130.46 141.03h0.8v0.8h-0.8zM133.46 122.7h0.8v0.8h-0.8zM129.43 130.81h0.8v0.8h-0.8zM139.1 130.53h0.8v0.8h-0.8zM128.51 127.18h0.8v0.8h-0.8zM130.04 122.16h0.8v0.8h-0.8zM130.15 142.12h0.8v0.8h-0.8zM136.57 140.21h0.8v0.8h-0.8zM130.85 127.96h0.8v0.8h-0.8zM129.19 136.2h0.8v0.8h-0.8zM128.23 120.52h0.8v0.8h-0.8zM136.16 133.87h0.8v0.8h-0.8zM138.28 121.44h0.8v0.8h-0.8zM135.17 131.02h0.8v0.8h-0.8zM129.79 128.48h0.8v0.8h-0.8zM137.06 134.98h0.8v0.8h-0.8zM127.55 127.76h0.8v0.8h-0.8zM130.09 131.04h0.8v0.8h-0.8zM131.4 136.08h0.8v0.8h-0.8zM137.28 127.8h0.8v0.8h-0.8zM128.07 126.91h0.8v0.8h-0.8zM125.36 125.84h0.8v0.8h-0.8zM135.28 128.58h0.8v0.8h-0.8zM129.18 127.63h0.8v0.8h-0.8zM130.44 129.71h0.8v0.8h-0.8zM136.32 129.99h0.8v0.8h-0.8zM130.91 131.52h0.8v0.8h-0.8zM125.58 131.36h0.8v0.8h-0.8zM128.52 118.37h0.8v0.8h-0.8zM135.56 125.91h0.8v0.8h-0.8zM131.39 127.61h0.8v0.8h-0.8zM128.08 130.76h0.8v0.8h-0.8zM131.41 126.94h0.8v0.8h-0.8zM126.27 130.18h0.8v0.8h-0.8zM129.83 131.96h0.8v0.8h-0.8zM131.87 130.83h0.8v0.8h-0.8zM135.55 139.11h0.8v0.8h-0.8zM126.98 121.1h0.8v0.8h-0.8zM125.15 137.54h0.8v0.8h-0.8zM128.62 136.04h0.8v0.8h-0.8zM131.07 123.39h0.8v0.8h-0.8zM128.75 129.91h0.8v0.8h-0.8zM131.51 130.71h0.8v0.8h-0.8zM130.48 131.91h0.8v0.8h-0.8zM127.09 127.47h0.8v0.8h-0.8zM133.32 131.56h0.8v0.8h-0.8zM133.09 125.74h0.8v0.8h-0.8zM138.28 125.34h0.8v0.8h-0.8zM128.44 121.01h0.8v0.8h-0.8zM136.31 119.34h0.8v0.8h-0.8zM136.24 138.13h0.8v0.8h-0.8zM126.51 139.52h0.8v0.8h-0.8zM130.06 135.02h0.8v0.8h-0.8zM129.05 134.18h0.8v0.8h-0.8zM133.58 138.72h0.8v0.8h-0.8zM143.11 123.55h0.8v0.8h-0.8zM133.98 139.24h0.8v0.8h-0.8zM135.71 124.01h0.8v0.8h-0.8zM138.26 136.71h0.8v0.8h-0.8zM129.85 122.01h0.8v0.8h-0.8zM131.39 124.21h0.8v0.8h-0.8zM132.75 135.86h0.8v0.8h-0.8zM138.64 130.04h0.8v0.8h-0.8zM129.42 124.44h0.8v0.8h-0.8zM139.1 126.72h0.8v0.8h-0.8zM141.31 141.46h0.8v0.8h-0.8zM131.98 134.89h0.8v0.8h-0.8zM131.02 121.49h0.8v0.8h-0.8zM136.25 126.87h0.8v0.8h-0.8zM132.51 119.43h0.8v0.8h-0.8zM133.55 136.36h0.8v0.8h-0.8zM134.57 133.44h0.8v0.8h-0.8zM131.42 131.41h0.8v0.8h-0.8zM133.9 126.2h0.8v0.8h-0.8zM133.54 131.97h0.8v0.8h-0.8zM131.39 133.49h0.8v0.8h-0.8zM125.55 136.19h0.8v0.8h-0.8zM134.12 125.53h0.8v0.8h-0.8zM139.03 122h0.8v0.8h-0.8zM140.38 124.71h0.8v0.8h-0.8zM140.73 135.83h0.8v0.8h-0.8zM131.79 123.94h0.8v0.8h-0.8zM132.71 124.67h0.8v0.8h-0.8zM132.92 122.17h0.8v0.8h-0.8zM136.98 118.67h0.8v0.8h-0.8zM132.08 125.51h0.8v0.8h-0.8zM133.67 121.11h0.8v0.8h-0.8zM125.15 127.65h0.8v0.8h-0.8zM128.72 125.38h0.8v0.8h-0.8zM130.78 127.01h0.8v0.8h-0.8zM131.58 129.04h0.8v0.8h-0.8zM133.81 136.1h0.8v0.8h-0.8zM135.71 124.74h0.8v0.8h-0.8zM141.29 127.38h0.8v0.8h-0.8zM125.17 128.84h0.8v0.8h-0.8zM125.97 126.05h0.8v0.8h-0.8zM130.64 134.57h0.8v0.8h-0.8zM132.13 123.72h0.8v0.8h-0.8zM135.15 120.05h0.8v0.8h-0.8zM127.87 120.26h0.8v0.8h-0.8zM131.22 122.67h0.8v0.8h-0.8zM130.47 127.73h0.8v0.8h-0.8zM138.5 128.49h0.8v0.8h-0.8zM125.55 134.05h0.8v0.8h-0.8zM133.07 139.75h0.8v0.8h-0.8zM139.39 117.39h0.8v0.8h-0.8zM132.71 125.28h0.8v0.8h-0.8zM125.62 137.04h0.8v0.8h-0.8zM126.38 138.57h0.8v0.8h-0.8zM139.96 123.15h0.8v0.8h-0.8zM132.9 120.29h0.8v0.8h-0.8zM136.65 123.2h0.8v0.8h-0.8zM137.71 129.57h0.8v0.8h-0.8zM125.38 130.69h0.8v0.8h-0.8zM130.09 133h0.8v0.8h-0.8zM128.42 134.99h0.8v0.8h-0.8zM135.45 133.15h0.8v0.8h-0.8zM135.04 120.94h0.8v0.8h-0.8zM134.23 128.43h0.8v0.8h-0.8zM133.99 130.8h0.8v0.8h-0.8zM131.01 133.82h0.8v0.8h-0.8zM132.55 134.96h0.8v0.8h-0.8zM128.77 130.27h0.8v0.8h-0.8zM134.68 126.86h0.8v0.8h-0.8zM137.16 132.43h0.8v0.8h-0.8zM130.37 134.7h0.8v0.8h-0.8zM126.92 128.49h0.8v0.8h-0.8zM127.28 133.6h0.8v0.8h-0.8zM137.53 129.16h0.8v0.8h-0.8zM128.3 121.89h0.8v0.8h-0.8zM126.58 120.65h0.8v0.8h-0.8zM137.36 130.35h0.8v0.8h-0.8zM127.09 131.89h0.8v0.8h-0.8zM132.9 134.77h0.8v0.8h-0.8zM127.97 132.33h0.8v0.8h-0.8zM125.93 126.51h0.8v0.8h-0.8zM131.35 131.79h0.8v0.8h-0.8zM131.37 129.49h0.8v0.8h-0.8zM131.56 118.05h0.8v0.8h-0.8zM128.71 133.92h0.8v0.8h-0.8zM127.73 135.16h0.8v0.8h-0.8zM132.35 138.26h0.8v0.8h-0.8zM129.66 124.95h0.8v0.8h-0.8zM129.97 126.33h0.8v0.8h-0.8zM129.75 139.98h0.8v0.8h-0.8zM130.55 123.69h0.8v0.8h-0.8zM129.02 122.74h0.8v0.8h-0.8zM136.19 121.42h0.8v0.8h-0.8zM134.23 135.72h0.8v0.8h-0.8zM132.37 129.61h0.8v0.8h-0.8zM141.55 124.08h0.8v0.8h-0.8zM132.96 133.03h0.8v0.8h-0.8zM129.55 140h0.8v0.8h-0.8zM135.98 137.57h0.8v0.8h-0.8zM132.49 140.94h0.8v0.8h-0.8zM131.91 133.31h0.8v0.8h-0.8zM131.04 129.62h0.8v0.8h-0.8zM125.94 131.43h0.8v0.8h-0.8zM129.48 130.66h0.8v0.8h-0.8zM132 138.4h0.8v0.8h-0.8zM125.12 146.8h0.8v0.8h-0.8zM129.14 128.48h0.8v0.8h-0.8zM126.91 133.34h0.8v0.8h-0.8zM131.57 135.49h0.8v0.8h-0.8zM125.22 136.49h0.8v0.8h-0.8zM138.07 132.26h0.8v0.8h-0.8zM130.68 138.34h0.8v0.8h-0.8zM129.23 124.61h0.8v0.8h-0.8zM133.04 128.67h0.8v0.8h-0.8zM133.94 139.1h0.8v0.8h-0.8zM138.89 136.88h0.8v0.8h-0.8zM129.65 125.38h0.8v0.8h-0.8zM132.62 115.21h0.8v0.8h-0.8zM125.29 136.61h0.8v0.8h-0.8zM136.47 137.62h0.8v0.8h-0.8zM129.36 141.65h0.8v0.8h-0.8zM131.55 135.13h0.8v0.8h-0.8zM135.49 138.74h0.8v0.8h-0.8zM128.55 126.48h0.8v0.8h-0.8zM134.98 133.2h0.8v0.8h-0.8zM138.24 142.93h0.8v0.8h-0.8zM139.55 131.59h0.8v0.8h-0.8zM127.25 127.68h0.8v0.8h-0.8zM132.21 133.12h0.8v0.8h-0.8zM130.01 119.71h0.8v0.8h-0.8zM139.86 125.83h0.8v0.8h-0.8zM138.66 138.11h0.8v0.8h-0.8zM127.53 120.04h0.8v0.8h-0.8zM127.12 129.54h0.8v0.8h-0.8zM129.73 128.11h0.8v0.8h-0.8zM129.29 130.08h0.8v0.8h-0.8zM129.95 134.81h0.8v0.8h-0.8zM130.08 128.83h0.8v0.8h-0.8zM129.69 131.09h0.8v0.8h-0.8zM134.72 122.78h0.8v0.8h-0.8zM138.1 137.35h0.8v0.8h-0.8zM132.28 134h0.8v0.8h-0.8zM136.61 125.24h0.8v0.8h-0.8zM131.49 136.39h0.8v0.8h-0.8zM125.97 128.77h0.8v0.8h-0.8zM130.12 119.84h0.8v0.8h-0.8zM129.64 146.57h0.8v0.8h-0.8zM131.59 125.74h0.8v0.8h-0.8zM134.46 122.83h0.8v0.8h-0.8zM129.59 128.43h0.8v0.8h-0.8zM128.33 130.66h0.8v0.8h-0.8zM134.94 139.58h0.8v0.8h-0.8zM135.02 122.81h0.8v0.8h-0.8zM132.95 129.72h0.8v0.8h-0.8zM129.59 127.06h0.8v0.8h-0.8zM134.06 143.42h0.8v0.8h-0.8zM139.47 135.05h0.8v0.8h-0.8zM129.63 126.95h0.8v0.8h-0.8zM130.43 120.19h0.8v0.8h-0.8z" fill="#aaa" opacity="0.45"/>
<path d="M122.35 123.01h0.8v0.8h-0.8zM115.22 141.07h0.8v0.8h-0.8zM110.68 138.8h0.8v0.8h-0.8zM115.68 121.92h0.8v0.8h-0.8zM115.32 117.7h0.8v0.8h-0.8zM108.86 135.06h0.8v0.8h-0.8zM115.11 131.82h0.8v0.8h-0.8zM114.44 138.19h0.8v0.8h-0.8zM122.27 133.75h0.8v0.8h-0.8zM121.23 123.38h0.8v0.8h-0.8zM119.88 126.59h0.8v0.8h-0.8zM113.73 138.3h0.8v0.8h-0.8zM114.57 124.47h0.8v0.8h-0.8zM105.67 135.22h0.8v0.8h-0.8zM115.25 130.79h0.8v0.8h-0.8zM111.63 126.95h0.8v0.8h-0.8zM114.9 123.61h0.8v0.8h-0.8zM108.01 121.12h0.8v0.8h-0.8zM112.89 130.4h0.8v0.8h-0.8zM107.16 134.74h0.8v0.8h-0.8zM106.85 133.22h0.8v0.8h-0.8zM120.72 128.97h0.8v0.8h-0.8zM116.14 132.66h0.8v0.8h-0.8zM114.81 132.94h0.8v0.8h-0.8zM111.84 137.26h0.8v0.8h-0.8zM112.5 128.59h0.8v0.8h-0.8zM112.68 132.35h0.8v0.8h-0.8zM118.44 134.63h0.8v0.8h-0.8zM120.97 131.83h0.8v0.8h-0.8zM112.05 126.99h0.8v0.8h-0.8zM106.16 123.61h0.8v0.8h-0.8zM111.84 135.07h0.8v0.8h-0.8zM117.65 134.72h0.8v0.8h-0.8zM119.35 123.05h0.8v0.8h-0.8zM106.54 133.5h0.8v0.8h-0.8zM121.9 131.84h0.8v0.8h-0.8zM118.95 141.03h0.8v0.8h-0.8zM113.38 134.58h0.8v0.8h-0.8zM118.49 135.98h0.8v0.8h-0.8zM119.06 121.06h0.8v0.8h-0.8zM110.83 132.18h0.8v0.8h-0.8zM117.64 119.15h0.8v0.8h-0.8zM109.01 130.12h0.8v0.8h-0.8zM107.97 127.58h0.8v0.8h-0.8zM114.91 126.24h0.8v0.8h-0.8zM110.85 128.79h0.8v0.8h-0.8zM113.4 134.22h0.8v0.8h-0.8zM112.81 138.22h0.8v0.8h-0.8zM110.99 123.94h0.8v0.8h-0.8zM109.46 131.28h0.8v0.8h-0.8zM114.45 134.62h0.8v0.8h-0.8zM117.97 132.33h0.8v0.8h-0.8zM112.66 125.09h0.8v0.8h-0.8zM104.11 136.23h0.8v0.8h-0.8zM112.32 127.54h0.8v0.8h-0.8zM110.81 139.09h0.8v0.8h-0.8zM118.76 133.66h0.8v0.8h-0.8zM116.71 143.16h0.8v0.8h-0.8zM113.67 137.06h0.8v0.8h-0.8zM106.86 135.9h0.8v0.8h-0.8zM111.38 131.35h0.8v0.8h-0.8zM120.77 123.65h0.8v0.8h-0.8zM110.62 138.43h0.8v0.8h-0.8zM114.45 125.31h0.8v0.8h-0.8zM117.52 127.46h0.8v0.8h-0.8zM111.53 133.2h0.8v0.8h-0.8zM110.24 121.45h0.8v0.8h-0.8zM115.44 133.95h0.8v0.8h-0.8zM114.03 142.67h0.8v0.8h-0.8zM112.74 128.37h0.8v0.8h-0.8zM109.28 134.65h0.8v0.8h-0.8zM110.29 139.92h0.8v0.8h-0.8zM112.4 134.82h0.8v0.8h-0.8zM107.05 121.72h0.8v0.8h-0.8zM113.6 132.1h0.8v0.8h-0.8zM115.74 135.07h0.8v0.8h-0.8zM109.24 125.91h0.8v0.8h-0.8zM115.58 131.04h0.8v0.8h-0.8zM116.14 117.67h0.8v0.8h-0.8zM113.38 136.42h0.8v0.8h-0.8zM113.37 133.99h0.8v0.8h-0.8zM117.72 131.33h0.8v0.8h-0.8zM111.94 131.13h0.8v0.8h-0.8zM111.91 127.83h0.8v0.8h-0.8zM110.7 128.28h0.8v0.8h-0.8zM108.97 133.07h0.8v0.8h-0.8zM110.82 125.16h0.8v0.8h-0.8zM120.17 126.44h0.8v0.8h-0.8zM111.04 128.88h0.8v0.8h-0.8zM117.21 127.07h0.8v0.8h-0.8zM115.17 131.11h0.8v0.8h-0.8zM111.21 131.04h0.8v0.8h-0.8zM110.3 137.7h0.8v0.8h-0.8zM114.02 131.07h0.8v0.8h-0.8zM111.51 130.14h0.8v0.8h-0.8zM109.6 130.82h0.8v0.8h-0.8zM115.07 131.78h0.8v0.8h-0.8zM113.48 118.89h0.8v0.8h-0.8zM113.62 131.04h0.8v0.8h-0.8zM121.13 124.1h0.8v0.8h-0.8zM121.02 123.67h0.8v0.8h-0.8zM109.63 128.25h0.8v0.8h-0.8zM116.53 129.03h0.8v0.8h-0.8zM114.65 124.89h0.8v0.8h-0.8zM112.45 142.55h0.8v0.8h-0.8zM112.34 141.6h0.8v0.8h-0.8zM115.15 134.02h0.8v0.8h-0.8zM115.32 121.64h0.8v0.8h-0.8zM110.15 131.33h0.8v0.8h-0.8zM121.78 119.27h0.8v0.8h-0.8zM114.83 140.98h0.8v0.8h-0.8zM115.38 133.03h0.8v0.8h-0.8zM114.28 138.09h0.8v0.8h-0.8zM120.29 130.09h0.8v0.8h-0.8zM109.35 130.03h0.8v0.8h-0.8zM113.53 130.21h0.8v0.8h-0.8zM113.43 137.73h0.8v0.8h-0.8zM107.46 129.33h0.8v0.8h-0.8zM115.91 134.9h0.8v0.8h-0.8zM105.87 130.09h0.8v0.8h-0.8zM117.16 132.16h0.8v0.8h-0.8zM110.94 135.6h0.8v0.8h-0.8zM108.1 128.84h0.8v0.8h-0.8zM114.13 138.84h0.8v0.8h-0.8zM104.56 133.89h0.8v0.8h-0.8zM115.24 125h0.8v0.8h-0.8zM117.05 117.78h0.8v0.8h-0.8zM110.73 137.79h0.8v0.8h-0.8zM113.03 135h0.8v0.8h-0.8zM113.02 128.04h0.8v0.8h-0.8zM116.72 124.19h0.8v0.8h-0.8zM104.57 125.95h0.8v0.8h-0.8zM107.94 127.83h0.8v0.8h-0.8zM116.91 120.55h0.8v0.8h-0.8zM109.51 122.73h0.8v0.8h-0.8zM112.16 119.66h0.8v0.8h-0.8zM109.28 129.63h0.8v0.8h-0.8zM115.22 136.57h0.8v0.8h-0.8zM117.45 132.4h0.8v0.8h-0.8zM121.81 129.85h0.8v0.8h-0.8zM116.84 128.38h0.8v0.8h-0.8zM107.36 134.75h0.8v0.8h-0.8zM120.72 125.5h0.8v0.8h-0.8zM111.55 122.94h0.8v0.8h-0.8zM115.97 120.8h0.8v0.8h-0.8zM107.3 139.54h0.8v0.8h-0.8zM111.63 124.82h0.8v0.8h-0.8zM111.25 136.82h0.8v0.8h-0.8zM108.23 138.87h0.8v0.8h-0.8zM107.39 129.04h0.8v0.8h-0.8zM113.55 129.78h0.8v0.8h-0.8zM120.27 117.62h0.8v0.8h-0.8zM107.8 143.1h0.8v0.8h-0.8zM105.27 141.57h0.8v0.8h-0.8zM122.68 139.72h0.8v0.8h-0.8zM115.99 125.82h0.8v0.8h-0.8zM113.47 119.23h0.8v0.8h-0.8zM112.82 124.6h0.8v0.8h-0.8zM121.39 139.88h0.8v0.8h-0.8zM122.39 129.54h0.8v0.8h-0.8zM104.2 135.81h0.8v0.8h-0.8zM113.73 130.77h0.8v0.8h-0.8zM111.38 138.7h0.8v0.8h-0.8zM118.26 128.99h0.8v0.8h-0.8zM107.5 126.96h0.8v0.8h-0.8zM110.22 126.08h0.8v0.8h-0.8zM110.42 132.71h0.8v0.8h-0.8zM109.49 137.7h0.8v0.8h-0.8zM113.72 124.14h0.8v0.8h-0.8zM107.34 128.62h0.8v0.8h-0.8zM121.28 136.45h0.8v0.8h-0.8zM121.52 124.26h0.8v0.8h-0.8zM107.73 137.68h0.8v0.8h-0.8zM115.39 125.37h0.8v0.8h-0.8zM110.16 125.4h0.8v0.8h-0.8zM115.77 135.19h0.8v0.8h-0.8zM120.44 129.14h0.8v0.8h-0.8zM116.38 138.57h0.8v0.8h-0.8zM110.1 123.87h0.8v0.8h-0.8zM111.95 132.28h0.8v0.8h-0.8zM112.7 129.81h0.8v0.8h-0.8zM116.33 127.34h0.8v0.8h-0.8zM112.22 141.2h0.8v0.8h-0.8zM114.3 130.05h0.8v0.8h-0.8zM110.2 135.48h0.8v0.8h-0.8zM110.35 129.1h0.8v0.8h-0.8zM112.65 121.2h0.8v0.8h-0.8zM119.11 117.52h0.8v0.8h-0.8zM110.22 133.07h0.8v0.8h-0.8zM111.99 126.92h0.8v0.8h-0.8zM115.93 138.85h0.8v0.8h-0.8zM122.58 133.45h0.8v0.8h-0.8zM114.05 136.33h0.8v0.8h-0.8zM110.43 135.53h0.8v0.8h-0.8zM111.27 123.94h0.8v0.8h-0.8zM117.94 120.7h0.8v0.8h-0.8zM109.75 130.04h0.8v0.8h-0.8zM110.77 126.72h0.8v0.8h-0.8zM109.15 138.52h0.8v0.8h-0.8zM116.28 139.19h0.8v0.8h-0.8z" fill="#999" opacity="0.5"/>
<ellipse cx="113.5" cy="130.6" rx="12.8" ry="8.2" transform="rotate(-65 113.5 130.6)" fill="#9a9a9a" stroke="#555" stroke-width="0.6"/>
<ellipse cx="111" cy="133.6" rx="3" ry="1.2" transform="rotate(-65 111 133.6)" fill="none" stroke="rgb(30,30,30)" stroke-width="0.6"/>
<ellipse cx="111.5" cy="133" rx="4.7" ry="2.36" transform="rotate(-65 111.5 133)" fill="none" stroke="rgb(48,48,48)" stroke-width="0.6"/>
<ellipse cx="112" cy="132.4" rx="6.4" ry="3.52" transform="rotate(-65 112 132.4)" fill="none" stroke="rgb(66,66,66)" stroke-width="0.6"/>
<ellipse cx="112.5" cy="131.8" rx="8.1" ry="4.68" transform="rotate(-65 112.5 131.8)" fill="none" stroke="rgb(84,84,84)" stroke-width="0.6"/>
<ellipse cx="113" cy="131.2" rx="9.8" ry="5.84" transform="rotate(-65 113 131.2)" fill="none" stroke="rgb(102,102,102)" stroke-width="0.6"/>
<ellipse cx="113.5" cy="130.6" rx="11.5" ry="7" transform="rotate(-65 113.5 130.6)" fill="none" stroke="rgb(120,120,120)" stroke-width="0.6"/>
<ellipse cx="110.9" cy="133.2" rx="9.8" ry="5.2" transform="rotate(-65 110.9 133.2)" fill="#141414"/>
<ellipse cx="111.3" cy="132.6" rx="3.2" ry="0.7" transform="rotate(-70 111.3 132.6)" fill="#fff"/>
<rect x="103.1" y="116.9" width="21.4" height="27.8" fill="none" stroke="#1a1a1a" stroke-width="1.3"/>
<text x="112.8" y="111" font-size="6.6" text-anchor="middle">96.2</text>
<path d="M92.9 151h-1.5M92.9 149.7h-2.2M92.9 147.7h-1.5M92.9 146.4h-1.5M92.9 144.9h-1.5M92.9 143.8h-2.2M92.9 142.7h-1.5M92.9 140.7h-2.2M92.9 138.7h-1.5M92.9 137h-1.5M92.9 135.9h-1.5M92.9 134.8h-1.5M92.9 133.3h-1.5M92.9 132h-1.5M92.9 130h-1.5M92.9 128h-2.2M92.9 126.5h-1.5M92.9 125h-2.2M92.9 123.3h-1.5M92.9 121.3h-2.2M92.9 119.8h-1.5M92.9 118.5h-1.5M92.9 117h-1.5M92.9 115.9h-1.5M92.9 114.4h-1.5M92.9 112.4h-1.5M92.9 110.7h-1.5M92.9 109.4h-1.5M92.9 107.9h-1.5M92.9 106.8h-1.5M92.9 104.8h-1.5M92.9 102.8h-1.5M92.9 100.8h-1.5M92.9 99.7h-1.5M92.9 98.2h-2.2M92.9 96.5h-2.2M92.9 95.2h-1.5M92.9 93.5h-2.2M94.1 152.2v1.5M95.4 152.2v2.2M97.2 152.2v1.5M98.7 152.2v1.5M101.5 152.2v2.2M102.6 152.2v2.2M103.9 152.2v1.5M106.7 152.2v1.5M109.5 152.2v1.5M110.6 152.2v2.2M111.7 152.2v1.5M113.9 152.2v1.5M115 152.2v1.5M117.2 152.2v2.2M118.7 152.2v1.5M121.5 152.2v1.5M123.3 152.2v1.5M126.1 152.2v1.5M127.2 152.2v1.5M129.4 152.2v1.5M130.5 152.2v2.2M132.7 152.2v1.5M133.8 152.2v1.5M135.1 152.2v1.5M137.3 152.2v1.5M138.8 152.2v2.2M139.9 152.2v1.5M141.4 152.2v1.5M142.7 152.2v1.5M144.5 152.2v1.5M145.8 152.2v2.2M146.9 152.2v1.5M149.1 152.2v2.2M150.6 152.2v2.2" stroke="#333" stroke-width="0.7" fill="none"/>
<rect x="92.9" y="92" width="60.7" height="60.2" fill="none" stroke="#231f20" stroke-width="1.2"/>
<path d="M192.52 110.89h0.8v0.8h-0.8zM178.9 148.91h0.8v0.8h-0.8zM183.64 135.72h0.8v0.8h-0.8zM190.08 140.32h0.8v0.8h-0.8zM177.79 128.28h0.8v0.8h-0.8zM184.61 114.82h0.8v0.8h-0.8zM190.59 147.6h0.8v0.8h-0.8zM190.19 137.83h0.8v0.8h-0.8zM189.16 123.8h0.8v0.8h-0.8zM188.85 117.5h0.8v0.8h-0.8zM174.3 120.78h0.8v0.8h-0.8zM179.85 129.33h0.8v0.8h-0.8zM185.39 101.05h0.8v0.8h-0.8zM185.96 134.92h0.8v0.8h-0.8zM189.89 117.13h0.8v0.8h-0.8zM181.19 110.94h0.8v0.8h-0.8zM178.96 136.62h0.8v0.8h-0.8zM170.66 128.44h0.8v0.8h-0.8zM178.4 131.92h0.8v0.8h-0.8zM183.47 121.6h0.8v0.8h-0.8zM187.44 150.78h0.8v0.8h-0.8zM175.9 126.14h0.8v0.8h-0.8zM182.48 136.19h0.8v0.8h-0.8zM185.93 120.27h0.8v0.8h-0.8zM191.36 141.5h0.8v0.8h-0.8zM185.16 141.76h0.8v0.8h-0.8zM175.93 136.33h0.8v0.8h-0.8zM181.93 112.32h0.8v0.8h-0.8zM183.77 117.65h0.8v0.8h-0.8zM178.69 128.31h0.8v0.8h-0.8zM188.95 145.25h0.8v0.8h-0.8zM185.91 122.79h0.8v0.8h-0.8zM187.23 143.3h0.8v0.8h-0.8zM183.93 116.51h0.8v0.8h-0.8zM185.08 127.92h0.8v0.8h-0.8zM188.59 113.1h0.8v0.8h-0.8zM186.64 137.62h0.8v0.8h-0.8zM185.59 113.5h0.8v0.8h-0.8zM187.58 125.21h0.8v0.8h-0.8zM182.4 117.36h0.8v0.8h-0.8zM189.64 127.08h0.8v0.8h-0.8zM176.84 118.31h0.8v0.8h-0.8zM180.38 138.38h0.8v0.8h-0.8zM192.26 122.27h0.8v0.8h-0.8zM182.32 122.95h0.8v0.8h-0.8zM188.09 128.59h0.8v0.8h-0.8zM181.46 111.48h0.8v0.8h-0.8zM178.9 124.23h0.8v0.8h-0.8zM182.63 111.35h0.8v0.8h-0.8zM186.65 113.24h0.8v0.8h-0.8zM184.3 114.71h0.8v0.8h-0.8zM180.13 117.86h0.8v0.8h-0.8zM176.59 100.72h0.8v0.8h-0.8zM177.32 128.21h0.8v0.8h-0.8zM173.12 138.28h0.8v0.8h-0.8zM188.82 141.13h0.8v0.8h-0.8zM181.43 103.46h0.8v0.8h-0.8zM176.48 120.49h0.8v0.8h-0.8zM189.26 137.92h0.8v0.8h-0.8zM182.67 139.03h0.8v0.8h-0.8z" fill="#aaa" opacity="0.45"/>
<path d="M184.35 134.1 C178.85 122.1 179.85 111.6 184.35 111.6 C188.85 111.6 189.85 122.1 184.35 134.1 Z" stroke="#aaa" stroke-width="0.5" fill="#c8c8c8"/>
<path d="M184.35 131.6 C180.35 122.1 180.95 113.7 184.35 113.7 C187.75 113.7 188.35 122.1 184.35 131.6 Z" stroke="#111" stroke-width="1" fill="#2a2a2a"/>
<path d="M184.35 127.1 C182.75 121.1 183.05 116.1 184.35 116.1 C185.65 116.1 185.95 121.1 184.35 127.1 Z" stroke="#777" stroke-width="0.4" fill="#999"/>
<ellipse cx="184.15" cy="120.1" rx="0.6" ry="3.6" fill="#eee"/>
<ellipse cx="184.35" cy="142.5" rx="1.5" ry="2.8" fill="#444"/>
<rect x="178.8" y="110.1" width="11.1" height="26.4" fill="none" stroke="#1a1a1a" stroke-width="1.3"/>
<text x="183.95" y="105.5" font-size="6.6" text-anchor="middle">82.6</text>
<path d="M168.2 151h-2.2M168.2 149.7h-2.2M168.2 148.4h-1.5M168.2 147.3h-2.2M168.2 145.3h-1.5M168.2 144.2h-1.5M168.2 142.5h-1.5M168.2 141.4h-1.5M168.2 140.1h-1.5M168.2 138.4h-1.5M168.2 137.1h-1.5M168.2 135.8h-1.5M168.2 134.3h-2.2M168.2 132.3h-2.2M168.2 131h-1.5M168.2 129.3h-2.2M168.2 128.2h-1.5M168.2 126.9h-2.2M168.2 125.4h-1.5M168.2 123.7h-2.2M168.2 122.2h-1.5M168.2 120.2h-2.2M168.2 119.1h-1.5M168.2 117.8h-1.5M168.2 116.7h-2.2M168.2 115h-1.5M168.2 113.5h-1.5M168.2 112.4h-1.5M168.2 111.3h-1.5M168.2 109.6h-2.2M168.2 108.5h-1.5M168.2 107.2h-1.5M168.2 106.1h-1.5M168.2 104.8h-1.5M168.2 103.5h-1.5M168.2 101.8h-2.2M168.2 99.8h-1.5M168.2 98.3h-1.5M168.2 97h-1.5M168.2 95h-1.5M168.2 93.7h-2.2M169.4 152.2v1.5M170.9 152.2v2.2M173.1 152.2v2.2M175.9 152.2v1.5M178.7 152.2v1.5M180.9 152.2v2.2M182 152.2v1.5M183.1 152.2v1.5M185.3 152.2v1.5M186.6 152.2v1.5M188.1 152.2v1.5M189.9 152.2v1.5M191.7 152.2v1.5M193.2 152.2v1.5M194.7 152.2v1.5M197.5 152.2v1.5M198.8 152.2v2.2M201.6 152.2v1.5M203.4 152.2v1.5M204.9 152.2v1.5M206 152.2v1.5M207.3 152.2v1.5M208.4 152.2v1.5M211.2 152.2v2.2M213.4 152.2v1.5M215.2 152.2v2.2M217 152.2v1.5M219.8 152.2v1.5M221.1 152.2v1.5M222.2 152.2v1.5M223.3 152.2v2.2M224.8 152.2v2.2M225.9 152.2v2.2M227 152.2v1.5M228.1 152.2v1.5" stroke="#333" stroke-width="0.7" fill="none"/>
<rect x="168.2" y="92" width="61.2" height="60.2" fill="none" stroke="#231f20" stroke-width="1.2"/>
<path d="M275.79 124.39h0.8v0.8h-0.8zM272.29 129.51h0.8v0.8h-0.8zM285.3 125.05h0.8v0.8h-0.8zM283.16 118.61h0.8v0.8h-0.8zM272.17 124.37h0.8v0.8h-0.8zM268.79 129.89h0.8v0.8h-0.8zM278.66 114.75h0.8v0.8h-0.8zM278.96 122.18h0.8v0.8h-0.8zM283.6 115.36h0.8v0.8h-0.8zM267.7 132.84h0.8v0.8h-0.8zM283.25 133.34h0.8v0.8h-0.8zM286.37 126.32h0.8v0.8h-0.8zM275.56 112.73h0.8v0.8h-0.8zM276.22 133.85h0.8v0.8h-0.8zM268.18 129.12h0.8v0.8h-0.8zM279.44 112.26h0.8v0.8h-0.8zM280.99 134.77h0.8v0.8h-0.8zM277.42 114.91h0.8v0.8h-0.8zM269.71 114.18h0.8v0.8h-0.8zM270.79 122.96h0.8v0.8h-0.8zM271.74 132.36h0.8v0.8h-0.8zM283.62 134.14h0.8v0.8h-0.8zM276.39 110.83h0.8v0.8h-0.8zM277.52 113.16h0.8v0.8h-0.8zM265.62 127.99h0.8v0.8h-0.8zM276.87 121.42h0.8v0.8h-0.8zM272.76 117.92h0.8v0.8h-0.8zM285.74 110.78h0.8v0.8h-0.8zM284.43 129.13h0.8v0.8h-0.8zM280.54 134.98h0.8v0.8h-0.8zM281.98 131.59h0.8v0.8h-0.8zM274.14 115.13h0.8v0.8h-0.8zM286.39 122.95h0.8v0.8h-0.8zM270.01 119.82h0.8v0.8h-0.8zM272.37 119.54h0.8v0.8h-0.8zM275.71 126.13h0.8v0.8h-0.8zM281.72 120.07h0.8v0.8h-0.8zM273.34 120.46h0.8v0.8h-0.8zM285.99 134.36h0.8v0.8h-0.8zM266.8 131.67h0.8v0.8h-0.8zM283.35 124.16h0.8v0.8h-0.8zM278.18 118.68h0.8v0.8h-0.8zM276.72 112.09h0.8v0.8h-0.8zM265.09 133.26h0.8v0.8h-0.8zM266.37 134.52h0.8v0.8h-0.8zM271.98 132.37h0.8v0.8h-0.8zM270.21 116.37h0.8v0.8h-0.8zM281.06 118.35h0.8v0.8h-0.8zM274.81 117.89h0.8v0.8h-0.8zM279.63 111.24h0.8v0.8h-0.8zM283.03 112.1h0.8v0.8h-0.8zM271.47 119.11h0.8v0.8h-0.8zM274.23 115.28h0.8v0.8h-0.8zM279.56 121.69h0.8v0.8h-0.8zM275.07 131.91h0.8v0.8h-0.8zM268.8 129.86h0.8v0.8h-0.8zM274.02 118.2h0.8v0.8h-0.8zM266.48 133.47h0.8v0.8h-0.8zM284.95 111.2h0.8v0.8h-0.8zM272.62 122.94h0.8v0.8h-0.8zM274.97 123.39h0.8v0.8h-0.8zM270.12 111.36h0.8v0.8h-0.8zM274.62 126.83h0.8v0.8h-0.8zM273.97 126.35h0.8v0.8h-0.8zM266.62 131.23h0.8v0.8h-0.8zM284.01 112.03h0.8v0.8h-0.8zM284.75 127.25h0.8v0.8h-0.8zM272.64 133.02h0.8v0.8h-0.8zM282.35 124.51h0.8v0.8h-0.8zM269.65 131.2h0.8v0.8h-0.8zM266.43 127.63h0.8v0.8h-0.8zM270.77 119.78h0.8v0.8h-0.8zM282.89 123.26h0.8v0.8h-0.8zM283.61 126.77h0.8v0.8h-0.8zM269.89 123.21h0.8v0.8h-0.8zM276.23 113.63h0.8v0.8h-0.8zM274.82 127.1h0.8v0.8h-0.8zM267.08 122.87h0.8v0.8h-0.8zM275.36 118.69h0.8v0.8h-0.8zM277.06 129.93h0.8v0.8h-0.8zM276.05 126.77h0.8v0.8h-0.8zM268.88 115.85h0.8v0.8h-0.8zM271.5 127.16h0.8v0.8h-0.8zM275.74 117.21h0.8v0.8h-0.8zM284.31 113.01h0.8v0.8h-0.8zM273.03 113.96h0.8v0.8h-0.8zM274.43 125.34h0.8v0.8h-0.8zM274.34 131.49h0.8v0.8h-0.8zM272.43 126.94h0.8v0.8h-0.8zM269.85 113.67h0.8v0.8h-0.8zM276.6 120.31h0.8v0.8h-0.8zM278.71 115.24h0.8v0.8h-0.8zM276.86 124.76h0.8v0.8h-0.8zM286.37 112.75h0.8v0.8h-0.8zM273.2 115.48h0.8v0.8h-0.8zM272.89 113.76h0.8v0.8h-0.8zM272.15 120.19h0.8v0.8h-0.8zM275.64 134.45h0.8v0.8h-0.8zM277.47 124.52h0.8v0.8h-0.8zM274.62 131.36h0.8v0.8h-0.8zM286.55 131.17h0.8v0.8h-0.8zM286.59 120.37h0.8v0.8h-0.8zM280.67 126.61h0.8v0.8h-0.8zM282.44 133.88h0.8v0.8h-0.8zM280.08 120.6h0.8v0.8h-0.8zM276.46 116.26h0.8v0.8h-0.8zM276.07 134.15h0.8v0.8h-0.8zM271.84 134.11h0.8v0.8h-0.8zM270.73 120.45h0.8v0.8h-0.8zM284.78 110.51h0.8v0.8h-0.8zM266.06 117.75h0.8v0.8h-0.8zM285.48 120.43h0.8v0.8h-0.8zM268.04 124.84h0.8v0.8h-0.8zM278.72 128.95h0.8v0.8h-0.8zM280.18 129.18h0.8v0.8h-0.8zM282.77 113.94h0.8v0.8h-0.8zM265.12 119.6h0.8v0.8h-0.8zM281.18 117.99h0.8v0.8h-0.8zM280.5 113.08h0.8v0.8h-0.8zM282.2 123.83h0.8v0.8h-0.8zM279.65 110.83h0.8v0.8h-0.8zM279.3 123.45h0.8v0.8h-0.8zM268.42 122.32h0.8v0.8h-0.8zM272.72 117.84h0.8v0.8h-0.8zM272.21 121.42h0.8v0.8h-0.8zM275.78 128.46h0.8v0.8h-0.8zM267.81 133.63h0.8v0.8h-0.8zM276.97 116.38h0.8v0.8h-0.8zM275.94 115.87h0.8v0.8h-0.8zM279.16 111.25h0.8v0.8h-0.8zM268.11 131.25h0.8v0.8h-0.8zM272.79 120.5h0.8v0.8h-0.8zM278.6 112.98h0.8v0.8h-0.8zM282.73 121.03h0.8v0.8h-0.8zM265.03 111.48h0.8v0.8h-0.8zM265.65 118.01h0.8v0.8h-0.8zM284.64 129.53h0.8v0.8h-0.8zM280.84 130.13h0.8v0.8h-0.8zM266.64 130.58h0.8v0.8h-0.8zM270.45 122.71h0.8v0.8h-0.8zM271.39 115.79h0.8v0.8h-0.8zM267.22 133.29h0.8v0.8h-0.8zM281.16 128.33h0.8v0.8h-0.8zM275.65 123h0.8v0.8h-0.8zM285.1 127.89h0.8v0.8h-0.8zM264.8 111.3h0.8v0.8h-0.8zM269.62 129.59h0.8v0.8h-0.8zM286.05 113.17h0.8v0.8h-0.8zM275.06 130.9h0.8v0.8h-0.8zM273.39 124.95h0.8v0.8h-0.8zM284.76 117.81h0.8v0.8h-0.8zM272.31 120.27h0.8v0.8h-0.8zM277.59 121.68h0.8v0.8h-0.8zM276.43 133.77h0.8v0.8h-0.8zM267.3 114.54h0.8v0.8h-0.8zM269.71 126.04h0.8v0.8h-0.8zM272.03 111.54h0.8v0.8h-0.8zM273.9 121.72h0.8v0.8h-0.8zM271.28 122.73h0.8v0.8h-0.8zM285.33 116h0.8v0.8h-0.8zM283.29 126.79h0.8v0.8h-0.8zM281.94 134.79h0.8v0.8h-0.8zM274.47 128.11h0.8v0.8h-0.8zM282.84 116.31h0.8v0.8h-0.8zM268.07 113.84h0.8v0.8h-0.8zM269.9 113.07h0.8v0.8h-0.8zM271.66 127.05h0.8v0.8h-0.8zM273.22 130.36h0.8v0.8h-0.8zM276.89 110.51h0.8v0.8h-0.8zM278.19 115.86h0.8v0.8h-0.8zM277.63 116.3h0.8v0.8h-0.8zM271.04 114.58h0.8v0.8h-0.8zM281.34 112.7h0.8v0.8h-0.8zM283.25 123.53h0.8v0.8h-0.8zM277.31 124.75h0.8v0.8h-0.8zM284.84 132.27h0.8v0.8h-0.8zM276.1 119.82h0.8v0.8h-0.8zM274.66 116.04h0.8v0.8h-0.8zM277.08 129.55h0.8v0.8h-0.8zM282.17 131.53h0.8v0.8h-0.8zM273.99 120.24h0.8v0.8h-0.8zM274.61 116.09h0.8v0.8h-0.8zM270.83 121.34h0.8v0.8h-0.8zM277.87 113.21h0.8v0.8h-0.8zM274.08 127.44h0.8v0.8h-0.8zM282.64 129.05h0.8v0.8h-0.8zM274.01 130.21h0.8v0.8h-0.8zM270.53 127.73h0.8v0.8h-0.8zM273.85 132.31h0.8v0.8h-0.8zM284.69 124.3h0.8v0.8h-0.8zM272.54 122.76h0.8v0.8h-0.8zM275.52 116.38h0.8v0.8h-0.8zM275.8 120.63h0.8v0.8h-0.8zM278.43 125.84h0.8v0.8h-0.8zM277.48 113.21h0.8v0.8h-0.8zM284.74 130.86h0.8v0.8h-0.8zM287.14 123.09h0.8v0.8h-0.8zM281.28 125.67h0.8v0.8h-0.8zM273.5 114.15h0.8v0.8h-0.8zM275.69 112.36h0.8v0.8h-0.8zM272.93 117.8h0.8v0.8h-0.8zM275.76 132.25h0.8v0.8h-0.8zM273.98 128.15h0.8v0.8h-0.8zM272.67 123.23h0.8v0.8h-0.8zM273.16 128.89h0.8v0.8h-0.8zM268.49 125.45h0.8v0.8h-0.8zM272.43 133h0.8v0.8h-0.8zM266.38 132.94h0.8v0.8h-0.8zM284.68 134.88h0.8v0.8h-0.8zM278.21 111.73h0.8v0.8h-0.8zM274.83 131.08h0.8v0.8h-0.8zM276.99 120.59h0.8v0.8h-0.8zM283.11 114.4h0.8v0.8h-0.8zM276.68 125.25h0.8v0.8h-0.8zM285.57 122.59h0.8v0.8h-0.8zM269.38 122.54h0.8v0.8h-0.8zM285.7 113.82h0.8v0.8h-0.8zM266.54 132.83h0.8v0.8h-0.8zM281.65 113.57h0.8v0.8h-0.8zM273.11 113.69h0.8v0.8h-0.8zM287.33 134.55h0.8v0.8h-0.8zM273.08 118.75h0.8v0.8h-0.8zM278.53 119.31h0.8v0.8h-0.8zM268 112.62h0.8v0.8h-0.8zM279.9 111.9h0.8v0.8h-0.8zM280.16 126.53h0.8v0.8h-0.8zM276.43 118.58h0.8v0.8h-0.8zM273.99 130.25h0.8v0.8h-0.8zM273.19 122.36h0.8v0.8h-0.8zM283.54 118.75h0.8v0.8h-0.8zM284.24 116.02h0.8v0.8h-0.8zM277.49 126.83h0.8v0.8h-0.8zM281.54 117.63h0.8v0.8h-0.8zM284.2 128.7h0.8v0.8h-0.8zM275.73 116h0.8v0.8h-0.8zM267.8 125h0.8v0.8h-0.8zM279.31 118.03h0.8v0.8h-0.8zM284.5 126.22h0.8v0.8h-0.8zM277.6 129.27h0.8v0.8h-0.8zM273.74 124.43h0.8v0.8h-0.8zM275.58 117.18h0.8v0.8h-0.8zM280.05 114.39h0.8v0.8h-0.8zM276.44 110.61h0.8v0.8h-0.8zM275.28 115.15h0.8v0.8h-0.8zM286.69 125.13h0.8v0.8h-0.8zM281.23 133.23h0.8v0.8h-0.8zM277.65 117.1h0.8v0.8h-0.8zM282.2 134.22h0.8v0.8h-0.8zM271.53 134.59h0.8v0.8h-0.8zM276.84 133.37h0.8v0.8h-0.8zM268.76 126.1h0.8v0.8h-0.8zM286.61 134.85h0.8v0.8h-0.8zM268.99 114.53h0.8v0.8h-0.8zM277.11 127.48h0.8v0.8h-0.8zM276.03 132.37h0.8v0.8h-0.8zM273.33 126.42h0.8v0.8h-0.8zM282.37 119.42h0.8v0.8h-0.8zM275.49 130.42h0.8v0.8h-0.8zM272.51 123.75h0.8v0.8h-0.8zM282.9 123.99h0.8v0.8h-0.8zM274.81 133.86h0.8v0.8h-0.8zM285.69 116.73h0.8v0.8h-0.8zM286.9 118.31h0.8v0.8h-0.8zM273.72 131.38h0.8v0.8h-0.8zM277.92 113.18h0.8v0.8h-0.8zM282.89 121.18h0.8v0.8h-0.8zM280.72 133.63h0.8v0.8h-0.8zM275.24 126.86h0.8v0.8h-0.8zM268.35 111.33h0.8v0.8h-0.8zM269.92 111.33h0.8v0.8h-0.8zM274.74 122.98h0.8v0.8h-0.8zM281.54 117.36h0.8v0.8h-0.8zM285.99 110.56h0.8v0.8h-0.8zM274.5 120.29h0.8v0.8h-0.8zM267.22 114.34h0.8v0.8h-0.8zM275.57 114.26h0.8v0.8h-0.8zM270.72 125.83h0.8v0.8h-0.8zM269.02 122.69h0.8v0.8h-0.8zM283.1 119.8h0.8v0.8h-0.8zM284.34 132.13h0.8v0.8h-0.8zM271.82 131.96h0.8v0.8h-0.8zM280.96 124.79h0.8v0.8h-0.8zM285.76 111.71h0.8v0.8h-0.8zM279.63 129.53h0.8v0.8h-0.8zM272.44 125.98h0.8v0.8h-0.8zM281.55 117.65h0.8v0.8h-0.8zM270.21 120.26h0.8v0.8h-0.8zM274.65 130.71h0.8v0.8h-0.8zM268.39 122.77h0.8v0.8h-0.8zM276.54 121.16h0.8v0.8h-0.8zM285.31 120.9h0.8v0.8h-0.8zM284.07 110.66h0.8v0.8h-0.8zM284.21 116.4h0.8v0.8h-0.8zM282 123.19h0.8v0.8h-0.8zM277.14 127.14h0.8v0.8h-0.8zM287.05 115.69h0.8v0.8h-0.8zM276.38 115.15h0.8v0.8h-0.8zM275.58 113.63h0.8v0.8h-0.8zM271.46 111.36h0.8v0.8h-0.8zM270.88 113.56h0.8v0.8h-0.8zM282.03 117.35h0.8v0.8h-0.8zM270.34 120.81h0.8v0.8h-0.8zM274.49 120.6h0.8v0.8h-0.8zM275.78 121.08h0.8v0.8h-0.8zM271.61 119.31h0.8v0.8h-0.8zM281.66 113.04h0.8v0.8h-0.8zM274.66 111.87h0.8v0.8h-0.8zM274.7 134.41h0.8v0.8h-0.8zM275.64 132.06h0.8v0.8h-0.8zM274.71 118.97h0.8v0.8h-0.8zM273.85 118.74h0.8v0.8h-0.8zM273.58 134.41h0.8v0.8h-0.8zM278.96 131.61h0.8v0.8h-0.8zM274.13 129.34h0.8v0.8h-0.8zM278.86 115.44h0.8v0.8h-0.8zM276.05 111.86h0.8v0.8h-0.8zM273.37 114.68h0.8v0.8h-0.8zM272.58 113.9h0.8v0.8h-0.8zM277.51 116.2h0.8v0.8h-0.8zM277.52 117.06h0.8v0.8h-0.8zM265.59 115.44h0.8v0.8h-0.8zM278.12 132.67h0.8v0.8h-0.8zM276.88 132.9h0.8v0.8h-0.8zM273.82 128.06h0.8v0.8h-0.8zM275.95 113.9h0.8v0.8h-0.8zM273.11 123.84h0.8v0.8h-0.8zM266.24 120.7h0.8v0.8h-0.8zM279.5 122.7h0.8v0.8h-0.8zM269 111.5h0.8v0.8h-0.8zM285.94 129.75h0.8v0.8h-0.8zM271.92 132.44h0.8v0.8h-0.8zM284.63 120.69h0.8v0.8h-0.8zM273.76 125.04h0.8v0.8h-0.8zM275.17 120.14h0.8v0.8h-0.8zM276.22 125.41h0.8v0.8h-0.8zM280.51 132.9h0.8v0.8h-0.8zM277.03 124.68h0.8v0.8h-0.8zM286.5 116.3h0.8v0.8h-0.8zM265.37 127.86h0.8v0.8h-0.8zM271.08 112.79h0.8v0.8h-0.8zM274.9 118.22h0.8v0.8h-0.8zM273.92 131.92h0.8v0.8h-0.8zM276.44 123.81h0.8v0.8h-0.8zM278.93 133.69h0.8v0.8h-0.8zM279.2 119h0.8v0.8h-0.8zM272.17 124.95h0.8v0.8h-0.8zM273.64 130.72h0.8v0.8h-0.8zM276.26 113.16h0.8v0.8h-0.8zM275.69 119.63h0.8v0.8h-0.8zM278.18 114.86h0.8v0.8h-0.8zM277.75 129.17h0.8v0.8h-0.8zM267.8 124.66h0.8v0.8h-0.8zM275.01 114.56h0.8v0.8h-0.8zM285 129.43h0.8v0.8h-0.8zM278.82 131.54h0.8v0.8h-0.8zM281.18 130.79h0.8v0.8h-0.8zM270.59 116.69h0.8v0.8h-0.8zM281.43 134.64h0.8v0.8h-0.8zM275.53 118.33h0.8v0.8h-0.8zM276.69 115.04h0.8v0.8h-0.8zM287.11 115.23h0.8v0.8h-0.8zM273.24 119.59h0.8v0.8h-0.8zM274.74 115.93h0.8v0.8h-0.8zM273.74 118.01h0.8v0.8h-0.8zM274.25 121.51h0.8v0.8h-0.8zM275.86 129.62h0.8v0.8h-0.8zM276.29 115.92h0.8v0.8h-0.8zM271.74 133.14h0.8v0.8h-0.8zM276.04 122.9h0.8v0.8h-0.8zM280.01 125.56h0.8v0.8h-0.8zM267.7 123.89h0.8v0.8h-0.8zM285.95 111.12h0.8v0.8h-0.8zM281.63 131.79h0.8v0.8h-0.8zM272.13 134.03h0.8v0.8h-0.8zM273.16 130.02h0.8v0.8h-0.8zM281.83 113.28h0.8v0.8h-0.8zM272.2 130.11h0.8v0.8h-0.8zM276.73 132.42h0.8v0.8h-0.8zM275.8 129.2h0.8v0.8h-0.8zM276.48 123.36h0.8v0.8h-0.8zM265.51 110.75h0.8v0.8h-0.8zM275.82 127.42h0.8v0.8h-0.8zM272.61 125.7h0.8v0.8h-0.8zM274.66 122.4h0.8v0.8h-0.8zM267.32 122.73h0.8v0.8h-0.8zM278.72 130.9h0.8v0.8h-0.8zM279.48 112.9h0.8v0.8h-0.8zM275.2 120.63h0.8v0.8h-0.8zM279.91 111.64h0.8v0.8h-0.8zM270.21 129.37h0.8v0.8h-0.8zM276.72 134.1h0.8v0.8h-0.8zM274.04 124.9h0.8v0.8h-0.8zM282.19 125.02h0.8v0.8h-0.8zM271.38 131.26h0.8v0.8h-0.8zM285.16 129.63h0.8v0.8h-0.8zM278.68 129.03h0.8v0.8h-0.8zM285.99 116.45h0.8v0.8h-0.8zM274.65 128.61h0.8v0.8h-0.8zM270.01 111.88h0.8v0.8h-0.8zM265.88 130.67h0.8v0.8h-0.8zM284.69 133.4h0.8v0.8h-0.8zM268.52 114.05h0.8v0.8h-0.8zM277.92 117.01h0.8v0.8h-0.8zM277.06 129.87h0.8v0.8h-0.8zM268.64 112.73h0.8v0.8h-0.8zM272.67 126.18h0.8v0.8h-0.8zM270.64 126h0.8v0.8h-0.8zM278.71 119.72h0.8v0.8h-0.8zM272.65 114.06h0.8v0.8h-0.8zM282.3 121.05h0.8v0.8h-0.8zM285.96 122.52h0.8v0.8h-0.8zM281.12 126.32h0.8v0.8h-0.8zM281.42 120.12h0.8v0.8h-0.8zM273.49 119.05h0.8v0.8h-0.8zM275.49 113.2h0.8v0.8h-0.8zM267.28 116.24h0.8v0.8h-0.8zM276.75 122.71h0.8v0.8h-0.8zM276.52 115.72h0.8v0.8h-0.8zM273.07 117.94h0.8v0.8h-0.8zM272.68 134.54h0.8v0.8h-0.8zM277.87 112.36h0.8v0.8h-0.8zM279.62 133.03h0.8v0.8h-0.8zM273 128.68h0.8v0.8h-0.8zM287 117.08h0.8v0.8h-0.8zM275.08 122.98h0.8v0.8h-0.8zM275.72 121.06h0.8v0.8h-0.8zM277.66 111.96h0.8v0.8h-0.8zM280.16 115.44h0.8v0.8h-0.8zM286.25 127.11h0.8v0.8h-0.8zM272.98 121.84h0.8v0.8h-0.8zM280.44 134.02h0.8v0.8h-0.8zM271.19 111.86h0.8v0.8h-0.8zM274.06 122.73h0.8v0.8h-0.8zM281.18 110.77h0.8v0.8h-0.8zM277.35 131.19h0.8v0.8h-0.8zM286.28 126.22h0.8v0.8h-0.8zM276.37 126.26h0.8v0.8h-0.8zM277.73 112.79h0.8v0.8h-0.8zM281.91 122.44h0.8v0.8h-0.8zM272.03 115.32h0.8v0.8h-0.8zM278.01 130.47h0.8v0.8h-0.8zM273.2 134.52h0.8v0.8h-0.8zM282.51 127.35h0.8v0.8h-0.8zM278 127.65h0.8v0.8h-0.8zM272.67 113.5h0.8v0.8h-0.8zM278.32 132.53h0.8v0.8h-0.8zM281.37 133.29h0.8v0.8h-0.8zM277.96 118h0.8v0.8h-0.8zM265.4 130.9h0.8v0.8h-0.8zM273.03 134.23h0.8v0.8h-0.8zM284.22 124.59h0.8v0.8h-0.8zM285.58 131.12h0.8v0.8h-0.8zM277.49 133.86h0.8v0.8h-0.8zM285.71 125.89h0.8v0.8h-0.8zM284.33 132.93h0.8v0.8h-0.8zM277.46 121.7h0.8v0.8h-0.8zM264.65 114.03h0.8v0.8h-0.8zM273.59 113.8h0.8v0.8h-0.8zM274.64 123.69h0.8v0.8h-0.8zM285.26 130.57h0.8v0.8h-0.8zM283.39 119.9h0.8v0.8h-0.8zM274.5 129.35h0.8v0.8h-0.8zM274.97 126.55h0.8v0.8h-0.8zM282.53 119.46h0.8v0.8h-0.8zM287.46 122.43h0.8v0.8h-0.8zM274.23 113.71h0.8v0.8h-0.8zM279.02 119.3h0.8v0.8h-0.8zM282.44 120.68h0.8v0.8h-0.8zM283.04 112.35h0.8v0.8h-0.8zM272.29 126.12h0.8v0.8h-0.8zM280.94 133.9h0.8v0.8h-0.8zM267.37 113.46h0.8v0.8h-0.8zM274.45 124.78h0.8v0.8h-0.8zM274.92 124.31h0.8v0.8h-0.8zM281.89 123.41h0.8v0.8h-0.8zM270.26 132.14h0.8v0.8h-0.8zM284.51 125.61h0.8v0.8h-0.8zM273.37 132.71h0.8v0.8h-0.8zM267.5 112.24h0.8v0.8h-0.8zM268.43 121.67h0.8v0.8h-0.8zM273.65 134.11h0.8v0.8h-0.8zM265.43 127.82h0.8v0.8h-0.8zM264.61 125.26h0.8v0.8h-0.8zM266.17 132.98h0.8v0.8h-0.8zM285.62 111.03h0.8v0.8h-0.8zM269.61 120.03h0.8v0.8h-0.8zM272.17 116.13h0.8v0.8h-0.8zM279.04 125.28h0.8v0.8h-0.8zM279.21 129.58h0.8v0.8h-0.8zM276.14 125.28h0.8v0.8h-0.8zM269.21 122.27h0.8v0.8h-0.8zM264.65 115.16h0.8v0.8h-0.8zM281.84 121.25h0.8v0.8h-0.8zM277.16 127.8h0.8v0.8h-0.8zM278.68 114.03h0.8v0.8h-0.8zM281.77 113.98h0.8v0.8h-0.8zM278.7 115.86h0.8v0.8h-0.8zM272.42 130.9h0.8v0.8h-0.8zM280.31 117.57h0.8v0.8h-0.8zM276.12 117.94h0.8v0.8h-0.8zM286.2 121.21h0.8v0.8h-0.8zM280.19 130.84h0.8v0.8h-0.8zM275.38 116.68h0.8v0.8h-0.8zM269.1 115.26h0.8v0.8h-0.8zM268.74 119.53h0.8v0.8h-0.8zM281.82 127.92h0.8v0.8h-0.8zM266.34 129.41h0.8v0.8h-0.8zM281.31 127.15h0.8v0.8h-0.8zM282.22 122.35h0.8v0.8h-0.8zM273.33 119.38h0.8v0.8h-0.8zM281.16 115.16h0.8v0.8h-0.8zM287.05 115.73h0.8v0.8h-0.8zM280.92 119.6h0.8v0.8h-0.8zM276.28 133.39h0.8v0.8h-0.8zM278.97 124.06h0.8v0.8h-0.8zM276.5 116.67h0.8v0.8h-0.8zM281.02 112.61h0.8v0.8h-0.8zM280.99 126.19h0.8v0.8h-0.8zM279.85 134.07h0.8v0.8h-0.8zM278.19 123.78h0.8v0.8h-0.8z" fill="#999" opacity="0.6"/>
<ellipse cx="277.5" cy="121" rx="1.6" ry="1.2" fill="none" stroke="rgb(80,80,80)" stroke-width="0.55"/>
<ellipse cx="277.1" cy="121.4" rx="3.38" ry="3.36" fill="none" stroke="rgb(98,98,98)" stroke-width="0.55"/>
<ellipse cx="276.7" cy="121.8" rx="5.16" ry="5.52" fill="none" stroke="rgb(116,116,116)" stroke-width="0.55"/>
<ellipse cx="276.3" cy="122.2" rx="6.94" ry="7.68" fill="none" stroke="rgb(134,134,134)" stroke-width="0.55"/>
<ellipse cx="275.9" cy="122.6" rx="8.72" ry="9.84" fill="none" stroke="rgb(152,152,152)" stroke-width="0.55"/>
<ellipse cx="275.5" cy="123" rx="10.5" ry="12" fill="none" stroke="rgb(170,170,170)" stroke-width="0.55"/>
<path d="M272 118 C274 114 281 114 281.5 119 C282 124 278 126 276.5 127.5 L275.8 132" stroke="#555" stroke-width="0.7" fill="none"/>
<ellipse cx="277.8" cy="120.5" rx="2" ry="1.5" transform="rotate(-20 277.8 120.5)" fill="none" stroke="#333" stroke-width="0.8"/>
<path d="M267.17 140.41h0.8v0.8h-0.8zM283.41 143.94h0.8v0.8h-0.8zM279.01 142.49h0.8v0.8h-0.8zM271.59 139.23h0.8v0.8h-0.8zM280.59 141.81h0.8v0.8h-0.8zM269.07 143.98h0.8v0.8h-0.8zM281.79 139.52h0.8v0.8h-0.8zM279.76 142.25h0.8v0.8h-0.8zM272.73 140.19h0.8v0.8h-0.8zM282.84 139.1h0.8v0.8h-0.8zM282.42 139.98h0.8v0.8h-0.8zM286.6 142.67h0.8v0.8h-0.8zM271.45 139.93h0.8v0.8h-0.8zM271.43 140.53h0.8v0.8h-0.8zM277.34 136.99h0.8v0.8h-0.8zM274.25 138h0.8v0.8h-0.8zM278.82 138.97h0.8v0.8h-0.8zM267.07 142.82h0.8v0.8h-0.8zM283.94 142.65h0.8v0.8h-0.8zM272.19 140.95h0.8v0.8h-0.8zM269.64 143.69h0.8v0.8h-0.8zM263.34 139.96h0.8v0.8h-0.8zM283.05 144.88h0.8v0.8h-0.8zM275.72 140.17h0.8v0.8h-0.8zM287.62 142.66h0.8v0.8h-0.8zM287.29 144.05h0.8v0.8h-0.8zM265.22 143.89h0.8v0.8h-0.8zM276.24 147.37h0.8v0.8h-0.8zM275.84 139.96h0.8v0.8h-0.8zM270.16 144.09h0.8v0.8h-0.8zM267.19 139.3h0.8v0.8h-0.8zM269.04 141.35h0.8v0.8h-0.8zM280.99 136.3h0.8v0.8h-0.8zM276.63 143.33h0.8v0.8h-0.8zM266.69 139.21h0.8v0.8h-0.8zM274.16 138.59h0.8v0.8h-0.8zM280.15 143.14h0.8v0.8h-0.8zM269.98 141.63h0.8v0.8h-0.8zM269.61 137.76h0.8v0.8h-0.8zM273.73 143.79h0.8v0.8h-0.8zM270.85 141.9h0.8v0.8h-0.8zM278.27 143.68h0.8v0.8h-0.8zM274.44 144.29h0.8v0.8h-0.8zM277.05 141.98h0.8v0.8h-0.8zM284.92 140.24h0.8v0.8h-0.8zM271.15 142.85h0.8v0.8h-0.8zM270.09 141.96h0.8v0.8h-0.8zM278.06 141.23h0.8v0.8h-0.8zM275.73 140.3h0.8v0.8h-0.8zM272.07 138.08h0.8v0.8h-0.8zM282.2 146.5h0.8v0.8h-0.8zM284.85 146.88h0.8v0.8h-0.8zM277.97 143.42h0.8v0.8h-0.8zM281.33 142.52h0.8v0.8h-0.8zM285.36 141.21h0.8v0.8h-0.8zM276.97 139.85h0.8v0.8h-0.8zM283.76 141.12h0.8v0.8h-0.8zM275.09 142.59h0.8v0.8h-0.8zM282.02 140.9h0.8v0.8h-0.8zM286.61 135.53h0.8v0.8h-0.8zM271.14 142.83h0.8v0.8h-0.8zM274.07 141.62h0.8v0.8h-0.8zM284.57 145.38h0.8v0.8h-0.8zM280.51 141.58h0.8v0.8h-0.8zM284.6 140.55h0.8v0.8h-0.8zM273.2 141.18h0.8v0.8h-0.8zM273.01 146.01h0.8v0.8h-0.8zM267.54 142.14h0.8v0.8h-0.8zM272.48 143.3h0.8v0.8h-0.8zM275.32 136.85h0.8v0.8h-0.8zM273.5 138.83h0.8v0.8h-0.8zM266 139.31h0.8v0.8h-0.8zM271.22 143.4h0.8v0.8h-0.8zM264.95 140.83h0.8v0.8h-0.8zM279.33 143.5h0.8v0.8h-0.8zM280.02 138.57h0.8v0.8h-0.8zM280.54 141.2h0.8v0.8h-0.8zM264.92 141.57h0.8v0.8h-0.8zM280.39 143.88h0.8v0.8h-0.8zM266.52 140.32h0.8v0.8h-0.8zM286.41 140.32h0.8v0.8h-0.8zM281.58 140.82h0.8v0.8h-0.8zM273.9 141.15h0.8v0.8h-0.8zM278.21 141.49h0.8v0.8h-0.8zM286.85 138.74h0.8v0.8h-0.8zM279.34 144.86h0.8v0.8h-0.8zM272.44 140.28h0.8v0.8h-0.8zM264.62 143.54h0.8v0.8h-0.8zM281.02 141.82h0.8v0.8h-0.8zM280.62 138.2h0.8v0.8h-0.8zM275.26 143.22h0.8v0.8h-0.8zM263.24 141.11h0.8v0.8h-0.8zM269.29 141.3h0.8v0.8h-0.8zM284.25 141.72h0.8v0.8h-0.8zM284.38 144.31h0.8v0.8h-0.8zM284.56 139.85h0.8v0.8h-0.8zM274.48 140.47h0.8v0.8h-0.8zM275.39 144.65h0.8v0.8h-0.8zM277.01 140.17h0.8v0.8h-0.8zM270.05 143.71h0.8v0.8h-0.8zM274.17 138.55h0.8v0.8h-0.8zM269.99 143.2h0.8v0.8h-0.8zM278.82 138.91h0.8v0.8h-0.8zM283.95 142.43h0.8v0.8h-0.8zM288.65 140.13h0.8v0.8h-0.8zM277.81 144.55h0.8v0.8h-0.8zM269.5 138.95h0.8v0.8h-0.8zM281.85 142.21h0.8v0.8h-0.8zM274.45 139.18h0.8v0.8h-0.8zM282.29 145.08h0.8v0.8h-0.8zM285.69 139.41h0.8v0.8h-0.8zM270.28 139.43h0.8v0.8h-0.8zM273.9 141.34h0.8v0.8h-0.8zM270.77 138.43h0.8v0.8h-0.8zM273.83 141.79h0.8v0.8h-0.8zM283.08 139.31h0.8v0.8h-0.8zM280.43 140.19h0.8v0.8h-0.8zM273.97 142.1h0.8v0.8h-0.8zM268.15 140.34h0.8v0.8h-0.8zM273.48 143.07h0.8v0.8h-0.8zM281.17 145.46h0.8v0.8h-0.8zM278.89 137.88h0.8v0.8h-0.8zM270.43 140.46h0.8v0.8h-0.8zM264.79 141.53h0.8v0.8h-0.8zM276.79 140.98h0.8v0.8h-0.8zM294.22 142.03h0.8v0.8h-0.8zM274.49 143.54h0.8v0.8h-0.8zM283.26 137.88h0.8v0.8h-0.8zM278.45 143.92h0.8v0.8h-0.8zM282.07 142.25h0.8v0.8h-0.8zM271.32 144.46h0.8v0.8h-0.8zM285.05 142.77h0.8v0.8h-0.8zM268.45 142.56h0.8v0.8h-0.8zM279.45 143.85h0.8v0.8h-0.8zM283.79 140.37h0.8v0.8h-0.8zM277.4 143.59h0.8v0.8h-0.8zM278.97 144.15h0.8v0.8h-0.8zM285.46 141.44h0.8v0.8h-0.8zM272.28 142.05h0.8v0.8h-0.8zM276.75 146.74h0.8v0.8h-0.8zM266.14 143.64h0.8v0.8h-0.8zM267.59 142.24h0.8v0.8h-0.8zM279.4 141.09h0.8v0.8h-0.8zM274.75 138.92h0.8v0.8h-0.8zM274.39 140.68h0.8v0.8h-0.8zM275.71 140.02h0.8v0.8h-0.8zM273.96 139.91h0.8v0.8h-0.8zM266.38 141.04h0.8v0.8h-0.8zM287.19 141.94h0.8v0.8h-0.8zM278.15 140.61h0.8v0.8h-0.8z" fill="#888" opacity="0.6"/>
<ellipse cx="275.6" cy="141.3" rx="12.9" ry="3.7" fill="#d8d8d8" stroke="#3a3a3a" stroke-width="0.9"/>
<ellipse cx="277" cy="141.5" rx="3" ry="0.6" fill="none" stroke="rgb(40,40,40)" stroke-width="0.6"/>
<ellipse cx="276.75" cy="141.47" rx="5.12" ry="1.2" fill="none" stroke="rgb(65,65,65)" stroke-width="0.6"/>
<ellipse cx="276.5" cy="141.45" rx="7.25" ry="1.8" fill="none" stroke="rgb(90,90,90)" stroke-width="0.6"/>
<ellipse cx="276.25" cy="141.43" rx="9.38" ry="2.4" fill="none" stroke="rgb(115,115,115)" stroke-width="0.6"/>
<ellipse cx="276" cy="141.4" rx="11.5" ry="3" fill="none" stroke="rgb(140,140,140)" stroke-width="0.6"/>
<ellipse cx="277.5" cy="141.6" rx="8" ry="0.9" fill="#444" opacity="0.7"/>
<line x1="262.6" y1="92" x2="262.6" y2="152.2" stroke="#231f20" stroke-width="1.3"/>
<line x1="247.3" y1="135.5" x2="307.6" y2="135.5" stroke="#231f20" stroke-width="1.3"/>
<text x="249.3" y="100" font-size="6.6">0.1</text>
<text x="305.4" y="100" font-size="6.6" text-anchor="end">38.8</text>
<text x="249.3" y="150" font-size="6.6">0.1</text>
<text x="305.4" y="150" font-size="6.6" text-anchor="end">60.9</text>
<path d="M247.3 151h-1.5M247.3 149.9h-1.5M247.3 148.6h-2.2M247.3 147.5h-1.5M247.3 145.5h-2.2M247.3 143.8h-2.2M247.3 142.7h-2.2M247.3 140.7h-1.5M247.3 138.7h-2.2M247.3 136.7h-1.5M247.3 135h-1.5M247.3 133.9h-1.5M247.3 132.6h-1.5M247.3 131.1h-1.5M247.3 129.8h-1.5M247.3 128.3h-2.2M247.3 126.6h-2.2M247.3 125.1h-1.5M247.3 124h-1.5M247.3 122h-2.2M247.3 120.3h-2.2M247.3 118.8h-1.5M247.3 116.8h-1.5M247.3 115.3h-1.5M247.3 114.2h-2.2M247.3 112.9h-1.5M247.3 111.8h-1.5M247.3 110.7h-1.5M247.3 109h-1.5M247.3 107.5h-2.2M247.3 106h-2.2M247.3 104.5h-1.5M247.3 103.4h-1.5M247.3 102.1h-1.5M247.3 100.8h-2.2M247.3 99.1h-1.5M247.3 97.1h-2.2M247.3 95.6h-1.5M247.3 94.5h-2.2M247.3 93.4h-1.5M248.5 152.2v1.5M249.8 152.2v1.5M252 152.2v1.5M253.5 152.2v2.2M255.3 152.2v1.5M258.1 152.2v1.5M259.6 152.2v2.2M262.4 152.2v1.5M263.9 152.2v1.5M265.7 152.2v1.5M267.5 152.2v1.5M268.8 152.2v1.5M269.9 152.2v1.5M271 152.2v2.2M272.3 152.2v1.5M274.1 152.2v1.5M275.9 152.2v1.5M277.7 152.2v1.5M279.9 152.2v1.5M281 152.2v1.5M282.1 152.2v1.5M284.3 152.2v1.5M287.1 152.2v1.5M288.6 152.2v1.5M290.4 152.2v2.2M293.2 152.2v1.5M294.7 152.2v1.5M296 152.2v1.5M297.1 152.2v1.5M298.6 152.2v1.5M300.8 152.2v1.5M302.1 152.2v1.5M303.4 152.2v1.5M305.6 152.2v1.5" stroke="#333" stroke-width="0.7" fill="none"/>
<rect x="247.3" y="92" width="60.3" height="60.2" fill="none" stroke="#231f20" stroke-width="1.2"/>
<path d="M349.87 141.72h0.8v0.8h-0.8zM361.84 141.53h0.8v0.8h-0.8zM349.98 140.13h0.8v0.8h-0.8zM342.87 143.53h0.8v0.8h-0.8zM360.9 142.79h0.8v0.8h-0.8zM358.98 142.37h0.8v0.8h-0.8zM340.84 142.36h0.8v0.8h-0.8zM352.58 140.69h0.8v0.8h-0.8zM360.87 142.42h0.8v0.8h-0.8zM349.42 145.14h0.8v0.8h-0.8zM349.25 139.97h0.8v0.8h-0.8zM351.51 142.84h0.8v0.8h-0.8zM348.25 141.21h0.8v0.8h-0.8zM362.38 144.18h0.8v0.8h-0.8zM353.13 141.96h0.8v0.8h-0.8zM356.94 139.86h0.8v0.8h-0.8zM356.79 141.84h0.8v0.8h-0.8zM351.24 145.18h0.8v0.8h-0.8zM342.25 143.32h0.8v0.8h-0.8zM352.95 139.39h0.8v0.8h-0.8zM359.35 144.1h0.8v0.8h-0.8zM364.8 141.35h0.8v0.8h-0.8zM355.51 142.66h0.8v0.8h-0.8zM357.14 144.19h0.8v0.8h-0.8zM360.37 140.56h0.8v0.8h-0.8zM360.14 141.31h0.8v0.8h-0.8zM363.29 144.33h0.8v0.8h-0.8zM355.11 145.24h0.8v0.8h-0.8zM354.23 142.87h0.8v0.8h-0.8zM347.49 143.65h0.8v0.8h-0.8zM357.88 140.67h0.8v0.8h-0.8zM352.69 139.58h0.8v0.8h-0.8zM352 141.36h0.8v0.8h-0.8zM350.86 147.44h0.8v0.8h-0.8zM362.9 141.82h0.8v0.8h-0.8zM352.14 141.44h0.8v0.8h-0.8zM368.34 141.28h0.8v0.8h-0.8zM351.65 142.24h0.8v0.8h-0.8zM356.29 141.25h0.8v0.8h-0.8zM353.31 141.03h0.8v0.8h-0.8zM350.49 141.2h0.8v0.8h-0.8zM348.26 142.84h0.8v0.8h-0.8zM354.29 140.81h0.8v0.8h-0.8zM361.58 138.34h0.8v0.8h-0.8zM361.74 138.68h0.8v0.8h-0.8zM346.33 145.15h0.8v0.8h-0.8zM360.36 142.15h0.8v0.8h-0.8zM345.65 140.42h0.8v0.8h-0.8zM353.36 144.46h0.8v0.8h-0.8zM359.55 140.74h0.8v0.8h-0.8zM367.17 142.48h0.8v0.8h-0.8zM353.86 141.57h0.8v0.8h-0.8zM357.01 141.17h0.8v0.8h-0.8zM370 144.66h0.8v0.8h-0.8zM351.96 141.62h0.8v0.8h-0.8zM355.79 144.17h0.8v0.8h-0.8zM360.87 140.19h0.8v0.8h-0.8zM351.09 143.28h0.8v0.8h-0.8zM341.76 144.28h0.8v0.8h-0.8zM344.68 141.93h0.8v0.8h-0.8zM370.36 141.79h0.8v0.8h-0.8zM355.07 140.45h0.8v0.8h-0.8zM355.34 144.34h0.8v0.8h-0.8zM361.88 141.44h0.8v0.8h-0.8zM352.79 144.26h0.8v0.8h-0.8zM352.08 143.72h0.8v0.8h-0.8zM355.48 139.24h0.8v0.8h-0.8zM354.82 142.71h0.8v0.8h-0.8zM348.96 142.08h0.8v0.8h-0.8zM366.19 145.58h0.8v0.8h-0.8zM363.72 144.56h0.8v0.8h-0.8zM349.49 141.36h0.8v0.8h-0.8zM347.92 141.94h0.8v0.8h-0.8zM350.77 143.57h0.8v0.8h-0.8zM366.21 143.95h0.8v0.8h-0.8zM347.17 142.73h0.8v0.8h-0.8zM363.71 140.85h0.8v0.8h-0.8zM353.5 143.4h0.8v0.8h-0.8zM349.26 141.96h0.8v0.8h-0.8zM343.94 140.89h0.8v0.8h-0.8zM357.72 138.84h0.8v0.8h-0.8zM355.61 143.27h0.8v0.8h-0.8zM348.44 143.57h0.8v0.8h-0.8zM349.97 143.42h0.8v0.8h-0.8zM349.55 144.83h0.8v0.8h-0.8zM350.25 145.1h0.8v0.8h-0.8zM348.29 143.42h0.8v0.8h-0.8zM346.27 143.15h0.8v0.8h-0.8zM349.83 143.5h0.8v0.8h-0.8zM359.65 143.38h0.8v0.8h-0.8zM360.54 143.18h0.8v0.8h-0.8zM345.9 140.11h0.8v0.8h-0.8zM350.52 143.86h0.8v0.8h-0.8zM355.46 142.87h0.8v0.8h-0.8zM358.14 145.2h0.8v0.8h-0.8zM341.79 143.62h0.8v0.8h-0.8zM369.16 143.45h0.8v0.8h-0.8zM352.41 143.12h0.8v0.8h-0.8zM347.49 141.84h0.8v0.8h-0.8zM353.39 145.56h0.8v0.8h-0.8zM362.6 142.71h0.8v0.8h-0.8zM343.24 140.24h0.8v0.8h-0.8zM358.71 142.97h0.8v0.8h-0.8zM356.7 142.93h0.8v0.8h-0.8zM348.56 144.42h0.8v0.8h-0.8zM353.1 141.66h0.8v0.8h-0.8zM353.58 141.4h0.8v0.8h-0.8zM346.41 139.9h0.8v0.8h-0.8zM341.83 146.48h0.8v0.8h-0.8zM343.03 143.46h0.8v0.8h-0.8zM351.61 144.3h0.8v0.8h-0.8zM359.34 140.32h0.8v0.8h-0.8zM357.48 142.33h0.8v0.8h-0.8zM352.72 145.35h0.8v0.8h-0.8zM342.46 144.13h0.8v0.8h-0.8zM340.9 143.14h0.8v0.8h-0.8zM352.49 141.78h0.8v0.8h-0.8zM352.89 142.57h0.8v0.8h-0.8zM360.84 139.16h0.8v0.8h-0.8zM347.39 143.26h0.8v0.8h-0.8zM359.69 141.17h0.8v0.8h-0.8zM357.02 141.31h0.8v0.8h-0.8zM341.77 140.4h0.8v0.8h-0.8zM364.68 144.36h0.8v0.8h-0.8zM352.11 143.47h0.8v0.8h-0.8zM349.36 147.7h0.8v0.8h-0.8zM344.21 141.9h0.8v0.8h-0.8zM357.04 140.58h0.8v0.8h-0.8zM346.16 142.58h0.8v0.8h-0.8zM369.12 140.93h0.8v0.8h-0.8zM342.74 140.36h0.8v0.8h-0.8zM351.28 140.83h0.8v0.8h-0.8zM357.42 142.46h0.8v0.8h-0.8zM344.41 140.34h0.8v0.8h-0.8zM362.85 140.6h0.8v0.8h-0.8zM360.22 139.61h0.8v0.8h-0.8zM361.42 140.58h0.8v0.8h-0.8zM353.63 145.42h0.8v0.8h-0.8zM344.76 143.66h0.8v0.8h-0.8zM343.31 139.62h0.8v0.8h-0.8zM356.07 139.56h0.8v0.8h-0.8zM350.68 139.63h0.8v0.8h-0.8zM353.1 138.47h0.8v0.8h-0.8zM348.33 140.8h0.8v0.8h-0.8zM353.21 141.37h0.8v0.8h-0.8zM347.34 144.37h0.8v0.8h-0.8zM345.63 141.64h0.8v0.8h-0.8zM358.88 140.66h0.8v0.8h-0.8zM357.74 140.63h0.8v0.8h-0.8zM353.09 143.68h0.8v0.8h-0.8zM349.11 140.71h0.8v0.8h-0.8zM359.9 142.44h0.8v0.8h-0.8zM355.97 141.31h0.8v0.8h-0.8zM357.22 140.75h0.8v0.8h-0.8zM359.77 144.81h0.8v0.8h-0.8zM357.92 139.5h0.8v0.8h-0.8zM353.99 142.21h0.8v0.8h-0.8zM356.27 145.01h0.8v0.8h-0.8zM352.11 142.64h0.8v0.8h-0.8zM359.04 141.75h0.8v0.8h-0.8z" fill="#999" opacity="0.6"/>
<ellipse cx="353.7" cy="142.7" rx="12" ry="3.5" fill="#cfcfcf" stroke="#888" stroke-width="0.6"/>
<ellipse cx="354.7" cy="141.9" rx="2" ry="0.5" fill="none" stroke="rgb(60,60,60)" stroke-width="0.5"/>
<ellipse cx="354.47" cy="142.03" rx="4.5" ry="1.33" fill="none" stroke="rgb(90,90,90)" stroke-width="0.5"/>
<ellipse cx="354.23" cy="142.17" rx="7" ry="2.17" fill="none" stroke="rgb(120,120,120)" stroke-width="0.5"/>
<ellipse cx="354" cy="142.3" rx="9.5" ry="3" fill="none" stroke="rgb(150,150,150)" stroke-width="0.5"/>
<ellipse cx="354.7" cy="141.9" rx="5.2" ry="1.9" fill="#444" stroke="#111" stroke-width="1.1"/>
<ellipse cx="355" cy="141.9" rx="3" ry="0.5" fill="#eee"/>
<line x1="340.4" y1="92" x2="340.4" y2="152.2" stroke="#231f20" stroke-width="1.3"/>
<line x1="323.5" y1="138" x2="384.1" y2="138" stroke="#231f20" stroke-width="1.3"/>
<text x="325.8" y="100" font-size="6.6">0</text>
<text x="381.3" y="100" font-size="6.6" text-anchor="end">0.18</text>
<text x="325.8" y="150" font-size="6.6">2.3</text>
<text x="381.3" y="150.6" font-size="6.6" text-anchor="end">97.5</text>
<path d="M323.5 151h-1.5M323.5 149.9h-1.5M323.5 147.9h-1.5M323.5 146.4h-1.5M323.5 145.1h-2.2M323.5 143.4h-1.5M323.5 141.9h-1.5M323.5 140.8h-2.2M323.5 139.1h-1.5M323.5 137.8h-2.2M323.5 136.5h-1.5M323.5 135h-1.5M323.5 133.3h-1.5M323.5 132.2h-1.5M323.5 130.5h-1.5M323.5 128.5h-1.5M323.5 127h-1.5M323.5 125.7h-1.5M323.5 123.7h-1.5M323.5 122.2h-2.2M323.5 120.9h-1.5M323.5 119.2h-1.5M323.5 117.5h-1.5M323.5 116.2h-2.2M323.5 114.2h-1.5M323.5 112.9h-2.2M323.5 111.8h-1.5M323.5 110.7h-2.2M323.5 108.7h-2.2M323.5 107.4h-1.5M323.5 105.7h-2.2M323.5 104.4h-1.5M323.5 103.1h-2.2M323.5 101.8h-1.5M323.5 100.1h-1.5M323.5 98.8h-1.5M323.5 97.5h-1.5M323.5 95.8h-1.5M323.5 94.5h-2.2M323.5 93.2h-2.2M324.7 152.2v1.5M326.2 152.2v1.5M328 152.2v2.2M330.2 152.2v1.5M331.3 152.2v1.5M333.5 152.2v1.5M336.3 152.2v2.2M337.8 152.2v1.5M338.9 152.2v2.2M340.2 152.2v1.5M341.5 152.2v2.2M344.3 152.2v1.5M345.8 152.2v1.5M347.3 152.2v1.5M348.6 152.2v2.2M350.1 152.2v2.2M351.2 152.2v1.5M352.5 152.2v2.2M354 152.2v1.5M355.5 152.2v1.5M356.8 152.2v1.5M358.3 152.2v2.2M359.6 152.2v1.5M360.7 152.2v1.5M362 152.2v1.5M363.5 152.2v1.5M365.3 152.2v1.5M367.5 152.2v1.5M368.6 152.2v1.5M370.8 152.2v1.5M372.3 152.2v1.5M373.4 152.2v1.5M376.2 152.2v2.2M378 152.2v2.2M379.1 152.2v1.5M380.6 152.2v1.5M382.8 152.2v1.5" stroke="#333" stroke-width="0.7" fill="none"/>
<rect x="323.5" y="92" width="60.6" height="60.2" fill="none" stroke="#231f20" stroke-width="1.2"/>
<path d="M432.72 140.56h0.8v0.8h-0.8zM438.13 139.39h0.8v0.8h-0.8zM423.94 138.8h0.8v0.8h-0.8zM429.85 137.64h0.8v0.8h-0.8zM426.22 142.33h0.8v0.8h-0.8zM430.62 138.38h0.8v0.8h-0.8zM425.98 139.78h0.8v0.8h-0.8zM433.49 143.33h0.8v0.8h-0.8zM426.59 138.42h0.8v0.8h-0.8zM425.58 139.96h0.8v0.8h-0.8zM429.87 142.36h0.8v0.8h-0.8zM430.85 137.34h0.8v0.8h-0.8zM417.42 138.92h0.8v0.8h-0.8zM430.68 138.56h0.8v0.8h-0.8zM425.46 137.41h0.8v0.8h-0.8zM441.6 144.44h0.8v0.8h-0.8zM418.76 138.26h0.8v0.8h-0.8zM428.76 138.85h0.8v0.8h-0.8zM426.06 136.37h0.8v0.8h-0.8zM420.87 137.29h0.8v0.8h-0.8zM421.43 137.6h0.8v0.8h-0.8zM429.16 138.66h0.8v0.8h-0.8zM420.37 142.66h0.8v0.8h-0.8zM431.91 139.39h0.8v0.8h-0.8zM426.85 138.68h0.8v0.8h-0.8zM432.03 140.22h0.8v0.8h-0.8zM423.98 138.34h0.8v0.8h-0.8zM424.26 137.55h0.8v0.8h-0.8zM434.25 136.6h0.8v0.8h-0.8zM439.95 145.19h0.8v0.8h-0.8zM421.54 138.58h0.8v0.8h-0.8zM423.09 139.05h0.8v0.8h-0.8zM423.3 138.99h0.8v0.8h-0.8zM432.1 138.01h0.8v0.8h-0.8zM425.17 138.54h0.8v0.8h-0.8zM425.23 138.41h0.8v0.8h-0.8zM420.77 144.35h0.8v0.8h-0.8zM424.31 138.73h0.8v0.8h-0.8zM427.87 136.4h0.8v0.8h-0.8zM429.05 139.54h0.8v0.8h-0.8zM424.11 141.66h0.8v0.8h-0.8zM428.61 136.73h0.8v0.8h-0.8zM430.97 146.02h0.8v0.8h-0.8zM423.62 141.24h0.8v0.8h-0.8zM423.12 143.01h0.8v0.8h-0.8zM430.41 141.68h0.8v0.8h-0.8zM433.89 142.28h0.8v0.8h-0.8zM426.85 139.42h0.8v0.8h-0.8zM434.38 139.01h0.8v0.8h-0.8zM430.78 139.04h0.8v0.8h-0.8zM432.62 138.48h0.8v0.8h-0.8zM433.65 139.06h0.8v0.8h-0.8zM425.61 136.64h0.8v0.8h-0.8zM434.77 141.44h0.8v0.8h-0.8zM440.25 136.99h0.8v0.8h-0.8zM429.25 139.73h0.8v0.8h-0.8zM433.26 136.86h0.8v0.8h-0.8zM422.37 139.92h0.8v0.8h-0.8zM437.27 139.91h0.8v0.8h-0.8zM433.4 141.8h0.8v0.8h-0.8zM428.27 140.41h0.8v0.8h-0.8zM431.55 139.01h0.8v0.8h-0.8zM427.13 138.82h0.8v0.8h-0.8zM426.9 141.44h0.8v0.8h-0.8zM438.68 136.99h0.8v0.8h-0.8zM427.66 137.17h0.8v0.8h-0.8zM424.31 139.02h0.8v0.8h-0.8zM438.62 140.54h0.8v0.8h-0.8zM446.09 142.59h0.8v0.8h-0.8zM427.1 136.39h0.8v0.8h-0.8zM421.1 141.29h0.8v0.8h-0.8zM428.92 140.6h0.8v0.8h-0.8zM420.3 136.49h0.8v0.8h-0.8zM431.43 138.51h0.8v0.8h-0.8zM431.73 140.12h0.8v0.8h-0.8zM432.47 141.29h0.8v0.8h-0.8zM421.07 139.21h0.8v0.8h-0.8zM428.9 141.02h0.8v0.8h-0.8zM432.38 138.61h0.8v0.8h-0.8zM423.82 140.14h0.8v0.8h-0.8zM426.28 142.44h0.8v0.8h-0.8zM429.28 140.47h0.8v0.8h-0.8zM432.61 139.69h0.8v0.8h-0.8zM423.89 140.48h0.8v0.8h-0.8zM422.21 138.4h0.8v0.8h-0.8zM429.61 140.61h0.8v0.8h-0.8zM432.31 139.55h0.8v0.8h-0.8zM430.08 137.27h0.8v0.8h-0.8zM428.53 137.04h0.8v0.8h-0.8zM440.1 137.74h0.8v0.8h-0.8zM440 138.16h0.8v0.8h-0.8zM420.01 138.32h0.8v0.8h-0.8zM431.5 137.99h0.8v0.8h-0.8zM430.9 140.1h0.8v0.8h-0.8zM424.51 140.25h0.8v0.8h-0.8zM419.93 137.19h0.8v0.8h-0.8zM437.52 140.35h0.8v0.8h-0.8zM431.48 136.45h0.8v0.8h-0.8zM430.21 141.02h0.8v0.8h-0.8zM436.84 140.39h0.8v0.8h-0.8zM428.19 140.32h0.8v0.8h-0.8zM425.65 141.2h0.8v0.8h-0.8zM436.65 139.42h0.8v0.8h-0.8zM441.81 140.64h0.8v0.8h-0.8zM427.24 138.17h0.8v0.8h-0.8zM435.44 143.42h0.8v0.8h-0.8zM433.27 141.04h0.8v0.8h-0.8zM434.47 138.86h0.8v0.8h-0.8zM436.56 139.34h0.8v0.8h-0.8zM425.96 139.57h0.8v0.8h-0.8zM437.37 140.52h0.8v0.8h-0.8zM433.97 140.01h0.8v0.8h-0.8zM425.99 141.25h0.8v0.8h-0.8zM443.31 142.41h0.8v0.8h-0.8zM418.35 138.23h0.8v0.8h-0.8zM436.94 139.74h0.8v0.8h-0.8zM424.41 140.82h0.8v0.8h-0.8zM428.82 141.81h0.8v0.8h-0.8zM421.65 138.6h0.8v0.8h-0.8zM420.8 139.52h0.8v0.8h-0.8zM425.87 137.36h0.8v0.8h-0.8zM431.58 137.57h0.8v0.8h-0.8zM428.14 139.18h0.8v0.8h-0.8zM419.8 141.94h0.8v0.8h-0.8zM422.52 139.7h0.8v0.8h-0.8zM429.85 140.24h0.8v0.8h-0.8zM430.92 141.37h0.8v0.8h-0.8zM438.57 141.23h0.8v0.8h-0.8zM431.82 141.04h0.8v0.8h-0.8zM426.16 141.68h0.8v0.8h-0.8zM427.81 139.36h0.8v0.8h-0.8zM433.56 140.98h0.8v0.8h-0.8zM436.79 141.08h0.8v0.8h-0.8zM429.05 140.47h0.8v0.8h-0.8zM432.5 138.97h0.8v0.8h-0.8zM425.05 137.97h0.8v0.8h-0.8zM441.53 141.88h0.8v0.8h-0.8zM434.98 139.94h0.8v0.8h-0.8zM427.43 138h0.8v0.8h-0.8zM417.87 137.75h0.8v0.8h-0.8zM419.03 140.14h0.8v0.8h-0.8zM433.72 138.35h0.8v0.8h-0.8zM418.9 140.38h0.8v0.8h-0.8zM426.74 138.54h0.8v0.8h-0.8zM435.33 137.99h0.8v0.8h-0.8zM425.16 140.43h0.8v0.8h-0.8zM423.7 142.07h0.8v0.8h-0.8zM431.16 139.2h0.8v0.8h-0.8zM425.19 141.63h0.8v0.8h-0.8zM424.51 138.67h0.8v0.8h-0.8z" fill="#999" opacity="0.6"/>
<ellipse cx="429.4" cy="139.7" rx="12" ry="3.6" fill="#cfcfcf" stroke="#888" stroke-width="0.6"/>
<ellipse cx="430" cy="139.8" rx="2" ry="0.6" fill="none" stroke="rgb(60,60,60)" stroke-width="0.5"/>
<ellipse cx="429.83" cy="139.8" rx="4.67" ry="1.43" fill="none" stroke="rgb(90,90,90)" stroke-width="0.5"/>
<ellipse cx="429.67" cy="139.8" rx="7.33" ry="2.27" fill="none" stroke="rgb(120,120,120)" stroke-width="0.5"/>
<ellipse cx="429.5" cy="139.8" rx="10" ry="3.1" fill="none" stroke="rgb(150,150,150)" stroke-width="0.5"/>
<ellipse cx="432.6" cy="139.9" rx="7" ry="2.9" fill="#888" stroke="#111" stroke-width="1.2"/>
<ellipse cx="431.5" cy="139.6" rx="4" ry="0.9" fill="#ddd"/>
<line x1="416.7" y1="92" x2="416.7" y2="152.2" stroke="#231f20" stroke-width="1.3"/>
<line x1="400.4" y1="136.2" x2="461.1" y2="136.2" stroke="#231f20" stroke-width="1.3"/>
<text x="402.9" y="100" font-size="6.6">0</text>
<text x="459.1" y="100" font-size="6.6" text-anchor="end">0.30</text>
<text x="402.9" y="150.2" font-size="6.6">1.3</text>
<text x="459.1" y="150.2" font-size="6.6" text-anchor="end">98.4</text>
<path d="M400.4 151h-1.5M400.4 149.7h-2.2M400.4 148.4h-1.5M400.4 146.9h-1.5M400.4 145.4h-2.2M400.4 144.1h-2.2M400.4 142.6h-1.5M400.4 141.3h-1.5M400.4 140.2h-1.5M400.4 138.2h-2.2M400.4 136.7h-1.5M400.4 135.4h-1.5M400.4 134.3h-1.5M400.4 132.6h-1.5M400.4 130.6h-1.5M400.4 129.1h-1.5M400.4 127.6h-1.5M400.4 126.5h-1.5M400.4 125h-1.5M400.4 123.7h-1.5M400.4 122.2h-2.2M400.4 120.2h-1.5M400.4 118.2h-1.5M400.4 116.9h-2.2M400.4 115.6h-2.2M400.4 114.1h-1.5M400.4 112.4h-1.5M400.4 111.1h-1.5M400.4 109.1h-1.5M400.4 107.8h-1.5M400.4 106.1h-1.5M400.4 104.4h-1.5M400.4 102.7h-2.2M400.4 100.7h-1.5M400.4 98.7h-2.2M400.4 97.6h-1.5M400.4 95.9h-2.2M400.4 94.6h-1.5M401.6 152.2v1.5M404.4 152.2v1.5M406.2 152.2v2.2M407.7 152.2v1.5M409.5 152.2v1.5M411.3 152.2v1.5M413.5 152.2v1.5M414.6 152.2v1.5M415.7 152.2v1.5M418.5 152.2v1.5M420.3 152.2v1.5M422.5 152.2v1.5M423.8 152.2v1.5M426.6 152.2v2.2M428.4 152.2v1.5M430.2 152.2v1.5M431.5 152.2v2.2M432.8 152.2v1.5M433.9 152.2v1.5M436.1 152.2v2.2M437.2 152.2v2.2M440 152.2v1.5M441.5 152.2v2.2M443.3 152.2v1.5M445.5 152.2v1.5M448.3 152.2v1.5M449.8 152.2v1.5M451.3 152.2v2.2M454.1 152.2v1.5M455.6 152.2v1.5M457.1 152.2v1.5M459.3 152.2v1.5" stroke="#333" stroke-width="0.7" fill="none"/>
<rect x="400.4" y="92" width="60.7" height="60.2" fill="none" stroke="#231f20" stroke-width="1.2"/>
<line x1="66.3" y1="143.6" x2="83.5" y2="143.6" stroke="#1a1a1a" stroke-width="1.45"/>
<path d="M82.2 141.1 L87 143.6 L82.2 146.1 Z" fill="#231f20"/>
<line x1="143" y1="143.6" x2="160" y2="143.6" stroke="#1a1a1a" stroke-width="1.45"/>
<path d="M158.7 141.1 L163.5 143.6 L158.7 146.1 Z" fill="#231f20"/>
<line x1="218" y1="143.6" x2="235.5" y2="143.6" stroke="#1a1a1a" stroke-width="1.45"/>
<path d="M234.2 141.1 L239 143.6 L234.2 146.1 Z" fill="#231f20"/>
<text x="46.5" y="163.6" font-size="8.8" text-anchor="middle" textLength="13.5" lengthAdjust="spacingAndGlyphs">FSC</text>
<text x="123.1" y="163" font-size="8.8" text-anchor="middle" textLength="46" lengthAdjust="spacingAndGlyphs">Dead cell dye</text>
<text x="199" y="163.6" font-size="8.8" text-anchor="middle" textLength="14.3" lengthAdjust="spacingAndGlyphs">CD3</text>
<text x="277.5" y="163.6" font-size="8.8" text-anchor="middle" textLength="19" lengthAdjust="spacingAndGlyphs">CD56</text>
<text x="353.7" y="163.6" font-size="8.8" text-anchor="middle" textLength="19" lengthAdjust="spacingAndGlyphs">CD56</text>
<text x="430.8" y="163.6" font-size="8.8" text-anchor="middle" textLength="19" lengthAdjust="spacingAndGlyphs">CD56</text>
<text x="12.1" y="122.4" font-size="8.8" text-anchor="middle" textLength="13.5" lengthAdjust="spacingAndGlyphs" transform="rotate(-90 12.1 122.4)">SSC</text>
<text x="88.4" y="122.4" font-size="8.8" text-anchor="middle" textLength="13.5" lengthAdjust="spacingAndGlyphs" transform="rotate(-90 88.4 122.4)">SSC</text>
<text x="164.1" y="122.4" font-size="8.8" text-anchor="middle" textLength="19" lengthAdjust="spacingAndGlyphs" transform="rotate(-90 164.1 122.4)">CD56</text>
<text x="242.8" y="122.4" font-size="8.8" text-anchor="middle" textLength="19" lengthAdjust="spacingAndGlyphs" transform="rotate(-90 242.8 122.4)">CD16</text>
<text x="319.2" y="122.4" font-size="8.8" text-anchor="middle" textLength="36" lengthAdjust="spacingAndGlyphs" transform="rotate(-90 319.2 122.4)">CD19 CAR</text>
<text x="395.3" y="122.4" font-size="8.8" text-anchor="middle" textLength="25" lengthAdjust="spacingAndGlyphs" transform="rotate(-90 395.3 122.4)">IL-15RF</text>
<text x="464.6" y="43" font-size="7.6" textLength="45.5" lengthAdjust="spacingAndGlyphs">iDuo NK cells</text>
<text x="464.2" y="120" font-size="7.6" textLength="55.3" lengthAdjust="spacingAndGlyphs">Non-transduced</text>
<text x="464.2" y="129.2" font-size="7.6" textLength="30" lengthAdjust="spacingAndGlyphs">iNK cells</text>
<text class="L" x="1" y="187.4" font-size="10.8" font-weight="bold">B</text>
<line x1="45.8" y1="239.55" x2="97.5" y2="239.55" stroke="#231f20" stroke-width="0.8" stroke-dasharray="2.2 1.6"/>
<path d="M45.8 211.34 L46.32 208.66 L47.07 206.07 L47.9 204.05 L48.56 202.12 L49.26 200.55 L49.99 198.76 L50.71 197.09 L51.41 196.36 L52.11 194.96 L52.81 192.68 L53.52 191.92 L54.22 190.46 L54.92 190.32 L55.62 189.08 L56.32 188.42 L57.02 189.14 L57.72 188.92 L58.42 189.77 L59.13 191.58 L59.83 192.48 L60.53 192.95 L61.23 193.57 L61.93 195.16 L62.63 196.23 L63.33 196.86 L64.04 198.07 L64.74 198.52 L65.44 198.84 L66.14 199.26 L66.84 199.9 L67.54 200.1 L68.24 200.1 L68.95 199.65 L69.65 199.55 L70.35 199.54 L71.03 198.27 L71.71 198.15 L72.4 197.62 L73.15 197.76 L73.8 196.63 L74.47 196.56 L75.17 197.21 L75.9 196.85 L76.66 196.37 L77.32 196.45 L78.01 196.37 L78.72 197.15 L79.44 196.9 L80.16 197.21 L80.87 197.63 L81.57 197.16 L82.27 196.55 L82.97 196.23 L83.67 196.26 L84.38 195.88 L85.08 196.34 L85.78 196.13 L86.48 195.67 L87.18 196.32 L87.88 196.81 L88.58 196.54 L89.29 196.39 L90 196.29 L90.74 196.38 L91.48 195.99 L92.2 195.58 L92.87 194.97 L93.49 195.01 L94.36 194.88 L95.16 194.54 L95.83 194.88 L96.3 194.74" stroke="#f2a33a" stroke-width="1.3" fill="none" stroke-linejoin="round"/>
<path d="M45.8 204.31 L46.3 203.37 L47.03 203.01 L47.84 202.34 L48.61 201.81 L49.31 200.72 L50.01 199.48 L50.71 199.18 L51.41 198.95 L52.13 198.07 L52.86 198.45 L53.56 197.72 L54.22 196.84 L54.94 196.87 L55.59 196.67 L56.32 196.91 L56.97 196.93 L57.68 197.03 L58.41 198.96 L59.13 198.64 L59.83 199.21 L60.53 199.76 L61.23 200.54 L61.93 201 L62.63 201.8 L63.33 202.11 L64.04 202.64 L64.74 203.54 L65.44 203.07 L66.14 204.08 L66.84 205.19 L67.54 205.36 L68.24 205.86 L68.95 206.44 L69.65 206.83 L70.35 206.91 L71.03 207.11 L71.71 207.41 L72.4 207.79 L73.15 208.35 L73.8 207.88 L74.47 207.54 L75.17 206.57 L75.9 205.85 L76.66 205.78 L77.32 205.91 L78.01 206.2 L78.72 207.32 L79.44 206.96 L80.16 207.46 L80.87 208.28 L81.57 208.15 L82.27 207.72 L82.97 206.23 L83.67 206.33 L84.38 206.08 L85.08 205.21 L85.78 205.63 L86.48 206.27 L87.18 206.54 L87.88 206.48 L88.58 207.25 L89.29 207.24 L90 206.58 L90.74 206.63 L91.48 206.44 L92.2 205.87 L92.87 206.13 L93.49 205.51 L94.36 205.52 L95.16 206.06 L95.83 206.46 L96.3 205.65" stroke="#d42a44" stroke-width="1.3" fill="none" stroke-linejoin="round"/>
<path d="M45.8 220.47 L46.3 221.02 L47.03 221.41 L47.84 222 L48.61 223.08 L49.31 223.82 L50.01 224.56 L50.71 225.12 L51.41 226.2 L52.11 226.77 L52.81 227.64 L53.52 228.51 L54.22 229.35 L54.92 229.52 L55.62 230.02 L56.32 230.49 L57.02 230.94 L57.72 231.01 L58.42 231.35 L59.13 231.44 L59.83 231.69 L60.53 231.61 L61.23 231.91 L61.93 231.77 L62.63 231.38 L63.33 231.3 L64.04 231.39 L64.74 230.91 L65.44 230.9 L66.07 230.27 L66.67 229.99 L67.35 229.73 L68.24 229.33 L68.81 229.19 L69.45 228.49 L70.14 228.6 L70.87 227.92 L71.63 227.54 L72.39 227.41 L73.13 227.29 L73.86 226.65 L74.56 226.3 L75.26 226.12 L75.96 225.9 L76.66 225.65 L77.36 225.35 L78.06 225.13 L78.77 224.62 L79.47 224.48 L80.17 224.35 L80.87 224.16 L81.57 223.68 L82.27 223.65 L82.97 223.36 L83.67 223.26 L84.38 222.83 L85.08 222.66 L85.78 222.95 L86.48 222.74 L87.18 222.58 L87.88 222.18 L88.58 222.19 L89.29 222.32 L89.99 222.29 L90.69 221.98 L91.43 221.79 L92.22 221.64 L93.04 221.8 L93.85 221.43 L94.61 221.42 L95.29 221.42 L95.87 221.09 L96.3 221.39" stroke="#5fb760" stroke-width="1.3" fill="none" stroke-linejoin="round"/>
<path d="M45.8 211.29 L46.35 213.99 L47.12 215.92 L47.9 216.51 L48.58 219.52 L49.25 220.06 L50.01 221.87 L50.66 222.46 L51.37 224.35 L52.1 225.36 L52.81 226.43 L53.52 226.35 L54.22 227.87 L54.92 228.21 L55.62 229.27 L56.32 231.54 L57.02 231.5 L57.72 233.11 L58.42 234.07 L59.13 234.98 L59.83 234.53 L60.53 235.71 L61.23 236.54 L61.93 238.31 L62.63 238.58 L63.33 238.84 L64.04 239.78 L64.74 239.01 L65.44 238.83 L66.14 238.09 L66.84 236.82 L67.54 234.83 L68.24 234.66 L68.95 233.17 L69.65 233.27 L70.35 232.78 L71.05 230.95 L71.75 230.07 L72.45 230.94 L73.15 229.08 L73.86 229.65 L74.56 229.24 L75.26 227.69 L75.96 229.76 L76.66 230.26 L77.36 229.63 L78.06 230.96 L78.77 230.95 L79.47 229.75 L80.17 228.35 L80.87 226.36 L81.57 226.84 L82.27 224.66 L82.97 225.12 L83.67 223.55 L84.38 223.3 L85.08 224.19 L85.78 224.11 L86.48 223.69 L87.18 224.74 L87.88 224.25 L88.58 225.94 L89.29 226.17 L89.99 223.98 L90.69 224.64 L91.39 223.3 L92.09 222.95 L92.83 222.76 L93.58 222.84 L94.29 220.86 L94.9 220.37 L95.77 219.47 L96.3 220.42" stroke="#1d8a57" stroke-width="1.3" fill="none" stroke-linejoin="round"/>
<path d="M45.8 212.88 L46.35 213.58 L47.12 214.85 L47.9 217.24 L48.61 218.85 L49.31 220.76 L50.01 223.16 L50.71 224.66 L51.41 226.81 L52.11 228.74 L52.81 230.84 L53.52 232.47 L54.22 233.37 L54.92 235.61 L55.62 236.82 L56.32 238.57 L57.02 240.43 L57.72 243.63 L58.42 246.16 L59.13 248.4 L59.83 250.59 L60.53 251.83 L61.23 253.33 L61.93 255.38 L62.63 256.46 L63.33 257.16 L64.04 257.91 L64.74 258.51 L65.41 259.31 L66.09 259.77 L66.84 259.75 L67.49 260.33 L68.2 260.15 L68.93 261.2 L69.65 261.56 L70.35 261.1 L71.05 261.73 L71.75 261.26 L72.45 261.82 L73.15 261.56 L73.86 262.67 L74.56 262.43 L75.26 262.23 L75.96 263.27 L76.66 262.26 L77.36 263.33 L78.06 262.65 L78.77 262.48 L79.47 262.77 L80.17 263.5 L80.87 263.9 L81.57 263.53 L82.27 263.19 L82.97 264.19 L83.67 263.69 L84.38 264.99 L85.08 264.42 L85.78 265.96 L86.48 266.02 L87.18 265.67 L87.88 266.19 L88.58 266.46 L89.29 266.94 L89.95 267.44 L90.6 267.88 L91.29 268.92 L92.09 269.05 L92.76 269.78 L93.55 269.52 L94.37 270.04 L95.16 271.02 L95.83 271.64 L96.3 270.76" stroke="#3aa9dd" stroke-width="1.3" fill="none" stroke-linejoin="round"/>
<path d="M45.8 202.83 L46.35 202.66 L47.12 202.28 L47.9 202.02 L48.61 202.44 L49.31 202.97 L50.01 203.85 L50.71 205.22 L51.41 207.01 L52.11 208.48 L52.81 210.35 L53.52 212.13 L54.22 214.32 L54.92 216.21 L55.62 218.43 L56.32 220.65 L57.02 222.91 L57.72 225.05 L58.42 227.67 L59.13 230.09 L59.83 232.4 L60.53 234.91 L61.2 237.19 L61.88 239.04 L62.63 241.14 L63.29 242.68 L63.99 244.4 L64.72 245.88 L65.44 247.39 L66.14 249.09 L66.84 250.38 L67.54 251.76 L68.24 253.2 L68.91 254.34 L69.56 255.42 L70.25 256.41 L71.05 257.64 L71.67 258.84 L72.35 259.62 L73.07 260.88 L73.8 261.84 L74.54 262.55 L75.26 263.22 L75.96 264.33 L76.66 264.75 L77.36 265.35 L78.06 266.26 L78.77 266.69 L79.47 267.21 L80.17 268.03 L80.87 268.44 L81.57 268.98 L82.27 269.57 L82.97 269.93 L83.67 270.37 L84.38 270.74 L85.08 271.29 L85.78 271.8 L86.48 272.07 L87.18 272.38 L87.88 272.51 L88.58 272.71 L89.29 273.33 L89.99 273.3 L90.69 273.54 L91.39 273.97 L92.09 274.13 L92.84 274.53 L93.65 274.49 L94.46 275.05 L95.21 274.8 L95.84 275.05 L96.3 275.26" stroke="#24497f" stroke-width="1.3" fill="none" stroke-linejoin="round"/>
<line x1="45.8" y1="199.8" x2="97.3" y2="199.8" stroke="#431463" stroke-width="2"/>
<line x1="45.8" y1="187.4" x2="45.8" y2="279.9" stroke="#231f20" stroke-width="1.3"/>
<line x1="43.3" y1="279.3" x2="99" y2="279.3" stroke="#231f20" stroke-width="1.3"/>
<path d="M45.8 279.3h-3M45.8 259.43h-3M45.8 239.55h-3M45.8 219.68h-3M45.8 199.8h-3M45.8 279.3v1.9M48.61 279.3v1.9M51.41 279.3v1.9M54.22 279.3v1.9M57.02 279.3v1.9M59.83 279.3v1.9M62.63 279.3v1.9M65.44 279.3v1.9M68.24 279.3v1.9M71.05 279.3v1.9M73.86 279.3v1.9M76.66 279.3v1.9M79.47 279.3v1.9M82.27 279.3v1.9M85.08 279.3v1.9M87.88 279.3v1.9M90.69 279.3v1.9M93.49 279.3v1.9M96.3 279.3v1.9" stroke="#231f20" stroke-width="0.9" fill="none"/>
<text class="c" x="41" y="281.8" font-size="7.2" text-anchor="end" textLength="3.6" lengthAdjust="spacingAndGlyphs">0</text>
<text class="c" x="41" y="261.93" font-size="7.2" text-anchor="end" textLength="7.2" lengthAdjust="spacingAndGlyphs">25</text>
<text class="c" x="41" y="242.05" font-size="7.2" text-anchor="end" textLength="7.2" lengthAdjust="spacingAndGlyphs">50</text>
<text class="c" x="41" y="222.18" font-size="7.2" text-anchor="end" textLength="7.2" lengthAdjust="spacingAndGlyphs">75</text>
<text class="c" x="41" y="202.3" font-size="7.2" text-anchor="end" textLength="10.6" lengthAdjust="spacingAndGlyphs">100</text>
<text class="c" x="45.8" y="289.2" font-size="7" text-anchor="middle" textLength="3.1" lengthAdjust="spacingAndGlyphs">0</text>
<text class="c" x="54.22" y="289.2" font-size="7" text-anchor="middle" textLength="6.3" lengthAdjust="spacingAndGlyphs">12</text>
<text class="c" x="62.63" y="289.2" font-size="7" text-anchor="middle" textLength="6.3" lengthAdjust="spacingAndGlyphs">24</text>
<text class="c" x="71.05" y="289.2" font-size="7" text-anchor="middle" textLength="6.3" lengthAdjust="spacingAndGlyphs">36</text>
<text class="c" x="79.47" y="289.2" font-size="7" text-anchor="middle" textLength="6.3" lengthAdjust="spacingAndGlyphs">48</text>
<text class="c" x="87.88" y="289.2" font-size="7" text-anchor="middle" textLength="6.3" lengthAdjust="spacingAndGlyphs">60</text>
<text class="c" x="96.3" y="289.2" font-size="7" text-anchor="middle" textLength="6.3" lengthAdjust="spacingAndGlyphs">72</text>
<text class="c" x="73.45" y="299.2" font-size="8.4" text-anchor="middle" textLength="38.2" lengthAdjust="spacingAndGlyphs">Time (hours)</text>
<text class="c" x="16.7" y="234.5" font-size="8.6" text-anchor="middle" textLength="56.5" lengthAdjust="spacingAndGlyphs" transform="rotate(-90 16.7 234.5)">% Live Daudi cells</text>
<text class="c" x="27.4" y="233.4" font-size="8.6" text-anchor="middle" textLength="85.2" lengthAdjust="spacingAndGlyphs" transform="rotate(-90 27.4 233.4)">(normalized to Daudi alone)</text>
<line x1="147.5" y1="235.4" x2="200.8" y2="235.4" stroke="#231f20" stroke-width="0.8" stroke-dasharray="2.2 1.6"/>
<path d="M147.5 191.32 L148.03 191.78 L148.78 193.35 L149.63 194.07 L150.43 194.06 L151.17 195 L151.9 195.98 L152.63 197.27 L153.37 197.79 L154.1 198.49 L154.83 199.13 L155.57 200.18 L156.3 200.59 L157.03 201.42 L157.77 201.92 L158.5 202.54 L159.23 203.54 L159.97 205.05 L160.7 206.35 L161.43 207.68 L162.17 208.85 L162.9 209.48 L163.63 209.44 L164.37 209.93 L165.1 210.24 L165.83 210.22 L166.57 211.18 L167.3 211.6 L168.03 212.13 L168.77 212.14 L169.5 211.33 L170.23 210.95 L170.97 210.1 L171.7 209.29 L172.43 209.38 L173.17 209.71 L173.9 208.83 L174.63 208.85 L175.37 208.89 L176.1 208.73 L176.83 208.96 L177.57 209.09 L178.3 209.77 L179.03 209.37 L179.77 209.63 L180.5 210.68 L181.23 210.28 L181.97 210.54 L182.7 211.02 L183.43 211.19 L184.17 211.48 L184.9 211.25 L185.63 211.86 L186.37 211.59 L187.1 212.12 L187.83 211.54 L188.57 211.44 L189.27 211.78 L189.94 211.51 L190.66 210.91 L191.5 210.75 L192.15 210.66 L192.86 210.53 L193.61 209.97 L194.38 209.1 L195.15 209.17 L195.9 207.94 L196.68 208.14 L197.53 206.97 L198.38 207.1 L199.16 205.95 L199.82 205.82 L200.3 205.75" stroke="#f2a33a" stroke-width="1.3" fill="none" stroke-linejoin="round"/>
<path d="M147.5 198.76 L148.07 199.26 L148.89 200.27 L149.7 201.59 L150.43 202.89 L151.17 203.87 L151.9 204.43 L152.63 205.07 L153.37 205.68 L154.1 205.42 L154.81 206.97 L155.51 208.72 L156.3 211.31 L156.98 211.94 L157.72 213.84 L158.48 214.3 L159.23 215.58 L159.97 216.29 L160.7 216.1 L161.43 217.25 L162.17 217.06 L162.9 216.82 L163.63 217.41 L164.37 217.37 L165.1 216.69 L165.83 217.41 L166.57 217.46 L167.3 218.46 L168.03 218.1 L168.77 217.92 L169.5 216.74 L170.23 216.58 L170.97 214.87 L171.7 214.97 L172.43 213.25 L173.17 213.07 L173.9 212.11 L174.63 211.11 L175.37 211.56 L176.1 211.41 L176.83 210.78 L177.57 211.02 L178.3 211.35 L179.03 210.39 L179.77 211.35 L180.5 211.61 L181.23 211.47 L181.97 211.44 L182.7 211.6 L183.43 212.66 L184.17 212.9 L184.9 213.7 L185.63 213.65 L186.37 213.6 L187.1 213.84 L187.83 213.85 L188.57 214.2 L189.27 214.37 L189.94 214.86 L190.66 215.34 L191.5 215.63 L192.15 215.06 L192.86 215.21 L193.61 215.16 L194.38 214.46 L195.15 213.63 L195.9 213.99 L196.68 212.99 L197.53 212.55 L198.38 211.73 L199.16 211.45 L199.82 210.03 L200.3 210.36" stroke="#d42a44" stroke-width="1.3" fill="none" stroke-linejoin="round"/>
<path d="M147.5 191.71 L148.03 192.5 L148.78 193.75 L149.63 194.28 L150.43 195.6 L151.17 196.59 L151.9 197.55 L152.63 198.32 L153.37 199.13 L154.1 199.18 L154.83 199.64 L155.57 199.58 L156.3 200.14 L157.03 200.72 L157.77 202.06 L158.5 202.78 L159.23 204.23 L159.97 205.74 L160.7 207.93 L161.43 210.16 L162.17 212.55 L162.9 215.14 L163.63 217.21 L164.37 219.31 L165.1 221.88 L165.83 223.94 L166.57 225.67 L167.3 227.88 L168.03 229.1 L168.77 231.08 L169.5 232.59 L170.23 233.74 L170.97 234.76 L171.7 235.65 L172.43 236.09 L173.17 236.7 L173.9 237.31 L174.63 237.38 L175.37 237.99 L176.1 237.55 L176.83 237.61 L177.57 237.88 L178.3 238.13 L179.03 238.03 L179.77 237.95 L180.5 238.45 L181.23 238.2 L181.97 238.12 L182.7 238.29 L183.43 238.04 L184.17 236.93 L184.9 236.8 L185.63 236.26 L186.37 235.63 L187.1 235.69 L187.83 235.78 L188.57 234.98 L189.27 235.31 L189.94 235.44 L190.66 234.65 L191.5 234.88 L192.15 234.45 L192.86 233.68 L193.61 233.51 L194.38 233.76 L195.15 233.08 L195.9 232.86 L196.68 232.59 L197.53 232.65 L198.38 232.16 L199.16 232.48 L199.82 232.18 L200.3 232.02" stroke="#1d8a57" stroke-width="1.3" fill="none" stroke-linejoin="round"/>
<path d="M147.5 195.78 L148.03 197.31 L148.78 197.85 L149.63 199.6 L150.43 200.46 L151.17 201.7 L151.9 202.73 L152.63 203.57 L153.37 204.97 L154.1 206.24 L154.83 207.23 L155.57 208.33 L156.3 208.93 L157.03 210.7 L157.77 212.22 L158.5 214.3 L159.23 216.63 L159.97 217.64 L160.7 219.03 L161.43 220.56 L162.17 222.32 L162.9 224.15 L163.63 225.85 L164.37 227.33 L165.1 229.5 L165.83 230.92 L166.57 232.59 L167.3 233.68 L168.03 235.13 L168.77 236.14 L169.5 237.18 L170.23 238.44 L170.97 239.12 L171.7 239.34 L172.43 239.81 L173.17 239.79 L173.9 239.6 L174.63 239.3 L175.37 239.36 L176.1 238.87 L176.83 239.24 L177.57 238.75 L178.3 237.91 L179.03 238.42 L179.77 238.09 L180.5 238.55 L181.23 238.87 L181.97 238.47 L182.7 238.46 L183.43 238.51 L184.17 238.5 L184.9 237.82 L185.63 237.38 L186.37 236.56 L187.1 236.11 L187.83 235.89 L188.57 235.38 L189.27 235.32 L189.94 234.55 L190.66 233.76 L191.5 233.43 L192.15 233.63 L192.86 232.87 L193.61 232.27 L194.38 232.22 L195.15 231.19 L195.9 231.07 L196.68 230.29 L197.53 229.9 L198.38 228.7 L199.16 228.24 L199.82 227.88 L200.3 227.86" stroke="#5fb760" stroke-width="1.3" fill="none" stroke-linejoin="round"/>
<path d="M147.5 193.55 L148.03 194.06 L148.78 194.56 L149.63 195.26 L150.43 196.22 L151.17 197.06 L151.9 198.07 L152.63 199.22 L153.37 200.48 L154.12 201.98 L154.88 203.75 L155.62 205.63 L156.3 207.42 L157.09 210.01 L157.79 212.52 L158.5 215.32 L159.23 218.33 L159.97 221.55 L160.7 224.98 L161.43 228.34 L162.17 231.9 L162.9 235.37 L163.63 238.87 L164.37 242.48 L165.1 245.95 L165.83 248.97 L166.57 251.83 L167.3 254.52 L168.01 257.04 L168.71 259.31 L169.5 261.64 L170.18 263.12 L170.92 264.76 L171.68 266.29 L172.43 267.59 L173.13 268.75 L173.81 269.89 L174.53 270.66 L175.37 271.54 L176.02 272.21 L176.72 272.68 L177.48 273.24 L178.25 273.81 L179.02 274.16 L179.77 274.7 L180.48 274.99 L181.18 275.36 L181.88 275.68 L182.59 275.89 L183.35 276.15 L184.17 276.44 L184.83 276.47 L185.53 276.78 L186.26 276.94 L187.01 276.99 L187.77 277.05 L188.53 277.19 L189.29 277.28 L190.03 277.43 L190.78 277.49 L191.53 277.63 L192.3 277.72 L193.06 277.75 L193.81 277.89 L194.54 277.93 L195.24 277.86 L195.9 278.01 L196.77 277.96 L197.64 277.99 L198.47 278.09 L199.21 278.07 L199.84 278.06 L200.3 278.06" stroke="#3aa9dd" stroke-width="1.3" fill="none" stroke-linejoin="round"/>
<path d="M147.5 194.48 L148.03 194.88 L148.78 195.42 L149.63 196.14 L150.43 197.07 L151.17 198.14 L151.9 199.2 L152.63 200.51 L153.37 202.29 L154.12 204.31 L154.88 206.7 L155.62 209.24 L156.3 211.79 L157.09 215.51 L157.79 219.26 L158.5 223.19 L159.23 227.19 L159.97 231.23 L160.7 235.47 L161.43 239.51 L162.17 243.77 L162.9 247.58 L163.63 251.04 L164.37 254.27 L165.1 257.22 L165.83 259.76 L166.57 262.21 L167.3 264.15 L168.01 265.86 L168.71 267.21 L169.5 268.47 L170.18 269.54 L170.92 270.61 L171.68 271.65 L172.43 272.51 L173.13 273.15 L173.81 273.73 L174.53 274.21 L175.37 274.56 L176.02 275.03 L176.72 275.23 L177.48 275.61 L178.25 275.91 L179.02 276.18 L179.77 276.46 L180.48 276.59 L181.18 276.81 L181.88 276.9 L182.59 277.05 L183.35 277.07 L184.17 277.18 L184.83 277.36 L185.53 277.41 L186.26 277.44 L187.01 277.63 L187.77 277.74 L188.53 277.79 L189.29 277.86 L190.03 277.84 L190.78 277.94 L191.53 277.98 L192.3 277.94 L193.06 278.07 L193.81 278 L194.54 278.05 L195.24 278.12 L195.9 278.07 L196.77 278.19 L197.64 278.13 L198.47 278.16 L199.21 278.26 L199.84 278.25 L200.3 278.22" stroke="#24497f" stroke-width="1.3" fill="none" stroke-linejoin="round"/>
<line x1="147.5" y1="191.8" x2="201.3" y2="191.8" stroke="#431463" stroke-width="2"/>
<line x1="147.5" y1="187.5" x2="147.5" y2="279.6" stroke="#231f20" stroke-width="1.3"/>
<line x1="145" y1="279" x2="202.3" y2="279" stroke="#231f20" stroke-width="1.3"/>
<path d="M147.5 279h-3M147.5 257.2h-3M147.5 235.4h-3M147.5 213.6h-3M147.5 191.8h-3M147.5 279v1.9M150.43 279v1.9M153.37 279v1.9M156.3 279v1.9M159.23 279v1.9M162.17 279v1.9M165.1 279v1.9M168.03 279v1.9M170.97 279v1.9M173.9 279v1.9M176.83 279v1.9M179.77 279v1.9M182.7 279v1.9M185.63 279v1.9M188.57 279v1.9M191.5 279v1.9M194.43 279v1.9M197.37 279v1.9M200.3 279v1.9" stroke="#231f20" stroke-width="0.9" fill="none"/>
<text class="c" x="142.7" y="281.5" font-size="7.2" text-anchor="end" textLength="3.6" lengthAdjust="spacingAndGlyphs">0</text>
<text class="c" x="142.7" y="259.7" font-size="7.2" text-anchor="end" textLength="7.2" lengthAdjust="spacingAndGlyphs">25</text>
<text class="c" x="142.7" y="237.9" font-size="7.2" text-anchor="end" textLength="7.2" lengthAdjust="spacingAndGlyphs">50</text>
<text class="c" x="142.7" y="216.1" font-size="7.2" text-anchor="end" textLength="7.2" lengthAdjust="spacingAndGlyphs">75</text>
<text class="c" x="142.7" y="194.3" font-size="7.2" text-anchor="end" textLength="10.6" lengthAdjust="spacingAndGlyphs">100</text>
<text class="c" x="147.5" y="288.9" font-size="7" text-anchor="middle" textLength="3.1" lengthAdjust="spacingAndGlyphs">0</text>
<text class="c" x="156.3" y="288.9" font-size="7" text-anchor="middle" textLength="6.3" lengthAdjust="spacingAndGlyphs">12</text>
<text class="c" x="165.1" y="288.9" font-size="7" text-anchor="middle" textLength="6.3" lengthAdjust="spacingAndGlyphs">24</text>
<text class="c" x="173.9" y="288.9" font-size="7" text-anchor="middle" textLength="6.3" lengthAdjust="spacingAndGlyphs">36</text>
<text class="c" x="182.7" y="288.9" font-size="7" text-anchor="middle" textLength="6.3" lengthAdjust="spacingAndGlyphs">48</text>
<text class="c" x="191.5" y="288.9" font-size="7" text-anchor="middle" textLength="6.3" lengthAdjust="spacingAndGlyphs">60</text>
<text class="c" x="200.3" y="288.9" font-size="7" text-anchor="middle" textLength="6.3" lengthAdjust="spacingAndGlyphs">72</text>
<text class="c" x="175.2" y="298.9" font-size="8.4" text-anchor="middle" textLength="38.2" lengthAdjust="spacingAndGlyphs">Time (hours)</text>
<text class="c" x="117.7" y="234.2" font-size="8.6" text-anchor="middle" textLength="55.7" lengthAdjust="spacingAndGlyphs" transform="rotate(-90 117.7 234.2)">% Live JeKo-1 cells</text>
<text class="c" x="128" y="234.2" font-size="8.6" text-anchor="middle" textLength="89.7" lengthAdjust="spacingAndGlyphs" transform="rotate(-90 128 234.2)">(normalized to JeKo-1 alone)</text>
<line x1="249.6" y1="235.5" x2="301.9" y2="235.5" stroke="#231f20" stroke-width="0.8" stroke-dasharray="2.2 1.6"/>
<path d="M249.6 190.49 L250.12 190.38 L250.85 190.75 L251.68 190.8 L252.47 191.02 L253.18 191.75 L253.9 192.04 L254.62 191.55 L255.33 192.21 L256.05 192.31 L256.77 191.68 L257.48 192.11 L258.2 191.71 L258.92 191.76 L259.63 191.23 L260.35 191.37 L261.07 191.01 L261.78 191.39 L262.5 192.63 L263.22 193.49 L263.93 194.46 L264.65 195.7 L265.37 195.74 L266.08 196.51 L266.8 197.39 L267.52 198.3 L268.23 198.26 L268.95 199.26 L269.67 199.64 L270.38 200.02 L271.1 200.62 L271.82 200.85 L272.53 201.66 L273.25 201.61 L273.97 202.16 L274.68 201.93 L275.4 202.11 L276.12 202.87 L276.83 202.87 L277.55 202.77 L278.27 202.04 L278.98 202.34 L279.7 201.95 L280.42 201.98 L281.13 201.56 L281.82 201.45 L282.48 201.26 L283.18 200.84 L284 200.63 L284.63 200.19 L285.33 200.22 L286.06 199.84 L286.81 199.75 L287.57 199.5 L288.3 199.68 L289.02 200.06 L289.73 199.42 L290.45 199.32 L291.17 199.38 L291.88 199.71 L292.6 199.64 L293.32 200.19 L294.03 199.8 L294.75 200.2 L295.47 200.63 L296.18 200.98 L296.9 200.39 L297.67 200.32 L298.49 201.12 L299.32 200.49 L300.09 200.81 L300.73 201.01 L301.2 200.88" stroke="#5fb760" stroke-width="1.3" fill="none" stroke-linejoin="round"/>
<path d="M249.6 191.72 L250.12 192.24 L250.85 194 L251.68 194.41 L252.47 195.96 L253.18 196.14 L253.9 197.45 L254.62 197.75 L255.33 198.46 L256.05 199.69 L256.77 199.85 L257.48 201.2 L258.2 202.01 L258.92 202.02 L259.63 203.15 L260.35 203.39 L261.07 203.41 L261.78 203.14 L262.5 203.34 L263.22 203.14 L263.93 202.06 L264.65 202.59 L265.37 201.96 L266.08 202.07 L266.8 202.57 L267.52 202.33 L268.23 202.04 L268.95 201.66 L269.67 201.47 L270.38 201.27 L271.1 200.96 L271.82 200.4 L272.53 200.69 L273.25 200.73 L273.97 200.47 L274.68 201.01 L275.4 200.91 L276.12 200.07 L276.83 200.35 L277.55 200.08 L278.27 200.34 L278.98 199.52 L279.7 198.88 L280.42 198.99 L281.13 197.97 L281.88 197.59 L282.66 197.84 L283.38 197.04 L284 197.26 L284.72 198.23 L285.43 199.98 L286.02 199.99 L286.69 200.23 L287.45 201.14 L288.3 201.16 L288.93 200.45 L289.63 199.99 L290.36 200.52 L291.11 200.1 L291.87 199.8 L292.6 200.02 L293.32 200.03 L294.03 200.22 L294.75 200.35 L295.47 200.31 L296.18 200.79 L296.9 200.83 L297.67 200.47 L298.49 201.26 L299.32 200.68 L300.09 200.49 L300.73 200.91 L301.2 200.99" stroke="#d42a44" stroke-width="1.3" fill="none" stroke-linejoin="round"/>
<path d="M249.6 191.68 L250.12 192.86 L250.85 193.74 L251.68 194.47 L252.47 195.27 L253.18 197.12 L253.9 198.28 L254.62 199.65 L255.33 200.35 L256.05 201.76 L256.77 202.18 L257.48 203.7 L258.2 204.35 L258.92 204.93 L259.63 205.63 L260.35 206.96 L261.07 207.95 L261.78 208.63 L262.5 208.66 L263.22 209.39 L263.93 209.08 L264.65 209.33 L265.37 210.22 L266.08 210.3 L266.8 209.95 L267.52 210.36 L268.23 210.44 L268.95 211.15 L269.67 211.53 L270.38 211.46 L271.1 211 L271.82 211.52 L272.53 211.3 L273.25 210.89 L273.97 210.41 L274.68 209.91 L275.4 208.96 L276.12 209.44 L276.83 209.32 L277.55 208.14 L278.27 208.13 L278.98 208.1 L279.7 208.87 L280.42 208.61 L281.13 208.95 L281.85 210.08 L282.57 210.01 L283.28 210.39 L284 210.97 L284.72 211.44 L285.43 211.96 L286.15 212.1 L286.87 212.29 L287.58 212.37 L288.3 211.59 L289.02 211.62 L289.73 210.82 L290.42 211.44 L291.08 210.39 L291.78 210.41 L292.6 209.83 L293.23 209.52 L293.93 209.11 L294.66 208.99 L295.41 209.1 L296.17 207.86 L296.9 208 L297.67 207.4 L298.49 206.52 L299.32 206.17 L300.09 205.82 L300.73 204.88 L301.2 204.93" stroke="#f2a33a" stroke-width="1.3" fill="none" stroke-linejoin="round"/>
<path d="M249.6 192.19 L250.23 196.33 L251.03 200.26 L251.71 203.83 L252.47 205.58 L253.13 206.87 L253.87 207.35 L254.62 206.75 L255.36 205.47 L256.1 204.84 L256.77 202.95 L257.48 201.98 L258.2 202.07 L258.89 202.72 L259.66 204.78 L260.35 204.89 L261.07 205.53 L261.78 206.47 L262.47 204.78 L263.24 202.69 L263.93 200.67 L264.69 199.43 L265.37 198.99 L266.04 199.49 L266.8 202.18 L267.46 203.72 L268.21 205.54 L268.95 207.25 L269.64 208.6 L270.33 208.6 L271.1 209.84 L271.77 211.68 L272.49 212.12 L273.23 213.23 L273.97 213.98 L274.68 214.51 L275.4 214.6 L276.12 215.05 L276.83 215.66 L277.55 216.19 L278.27 216.3 L278.98 216.74 L279.7 216.29 L280.42 216.04 L281.13 216.29 L281.85 216.38 L282.57 215.88 L283.28 215.13 L284 214.22 L284.72 213.29 L285.43 213.03 L286.15 211.68 L286.87 210.99 L287.58 210.31 L288.3 209.56 L289.02 208.67 L289.73 207.74 L290.45 207.46 L291.17 206.55 L291.88 206.32 L292.6 206.12 L293.32 205.36 L294.03 204.81 L294.75 205.27 L295.47 204.6 L296.18 204.41 L296.9 203.72 L297.65 203.61 L298.42 204.33 L299.15 203.74 L299.77 203.83 L300.66 204.03 L301.2 203.35" stroke="#1d8a57" stroke-width="1.3" fill="none" stroke-linejoin="round"/>
<path d="M249.6 192.13 L250.16 193.28 L250.95 195.29 L251.75 197.09 L252.47 198.66 L253.18 200.16 L253.9 201.49 L254.62 202.74 L255.33 204 L256.05 205.02 L256.77 206.45 L257.48 207.72 L258.2 209.3 L258.92 212.07 L259.63 215.05 L260.35 218.24 L261.07 221.32 L261.78 225.11 L262.5 228.71 L263.22 231.93 L263.93 235.7 L264.65 238.86 L265.34 242.21 L266.03 245.34 L266.8 248.39 L267.47 250.82 L268.19 253.01 L268.93 255.44 L269.67 257.16 L270.38 258.99 L271.1 260.49 L271.82 262.14 L272.53 263.25 L273.22 264.4 L273.88 265.78 L274.58 266.7 L275.4 267.67 L276.03 268.33 L276.73 269.31 L277.46 270.11 L278.21 270.84 L278.97 271.4 L279.7 271.95 L280.42 272.57 L281.13 272.99 L281.85 273.33 L282.57 273.65 L283.28 273.93 L284 274.36 L284.72 274.54 L285.43 274.69 L286.15 275.2 L286.87 275.37 L287.58 275.84 L288.3 275.89 L289.02 276.07 L289.73 276.27 L290.45 276.47 L291.17 276.61 L291.88 276.67 L292.6 276.69 L293.32 277.05 L294.03 277.15 L294.75 277 L295.47 277.01 L296.18 277.2 L296.9 277.28 L297.67 277.23 L298.49 277.45 L299.32 277.46 L300.09 277.5 L300.73 277.39 L301.2 277.5" stroke="#3aa9dd" stroke-width="1.3" fill="none" stroke-linejoin="round"/>
<path d="M249.6 192.47 L250.23 195.47 L251.03 199.91 L251.75 205.57 L252.47 209.04 L253.18 212.81 L253.9 214.87 L254.62 218.17 L255.33 221.12 L256.05 223.1 L256.77 224.15 L257.48 221.02 L258.2 219.17 L258.92 221.44 L259.63 224.43 L260.35 228.03 L261.07 230.67 L261.78 234 L262.5 234.65 L263.22 238.63 L263.93 241.42 L264.61 243.44 L265.37 244.49 L266.03 246.12 L266.77 248.39 L267.52 250.32 L268.23 251.68 L268.95 253.21 L269.67 255.68 L270.38 256.71 L271.1 257.83 L271.82 259.92 L272.51 261.23 L273.2 261.84 L273.97 261.22 L274.63 261.02 L275.36 259.93 L276.1 259.52 L276.83 260.31 L277.55 260.61 L278.27 260.99 L278.98 261.69 L279.7 261.24 L280.42 261.28 L281.13 261.45 L281.85 262.76 L282.57 261.83 L283.28 262.88 L284 262.71 L284.72 262.15 L285.43 263.19 L286.15 263.04 L286.87 261.56 L287.58 262.26 L288.3 261.85 L289.02 261.11 L289.73 260.53 L290.45 261.23 L291.17 260.15 L291.88 259.34 L292.6 258.53 L293.32 258.3 L294.03 257.1 L294.75 256.16 L295.47 257 L296.18 256.6 L296.9 257.04 L297.65 256.2 L298.42 254.79 L299.15 255.02 L299.77 253.1 L300.66 252.46 L301.2 253.6" stroke="#24497f" stroke-width="1.3" fill="none" stroke-linejoin="round"/>
<line x1="249.6" y1="192" x2="302.2" y2="192" stroke="#431463" stroke-width="2"/>
<line x1="249.6" y1="187.5" x2="249.6" y2="279.6" stroke="#231f20" stroke-width="1.3"/>
<line x1="247.1" y1="279" x2="303.4" y2="279" stroke="#231f20" stroke-width="1.3"/>
<path d="M249.6 279h-3M249.6 257.25h-3M249.6 235.5h-3M249.6 213.75h-3M249.6 192h-3M249.6 279v1.9M252.47 279v1.9M255.33 279v1.9M258.2 279v1.9M261.07 279v1.9M263.93 279v1.9M266.8 279v1.9M269.67 279v1.9M272.53 279v1.9M275.4 279v1.9M278.27 279v1.9M281.13 279v1.9M284 279v1.9M286.87 279v1.9M289.73 279v1.9M292.6 279v1.9M295.47 279v1.9M298.33 279v1.9M301.2 279v1.9" stroke="#231f20" stroke-width="0.9" fill="none"/>
<text class="c" x="244.8" y="281.5" font-size="7.2" text-anchor="end" textLength="3.6" lengthAdjust="spacingAndGlyphs">0</text>
<text class="c" x="244.8" y="259.75" font-size="7.2" text-anchor="end" textLength="7.2" lengthAdjust="spacingAndGlyphs">25</text>
<text class="c" x="244.8" y="238" font-size="7.2" text-anchor="end" textLength="7.2" lengthAdjust="spacingAndGlyphs">50</text>
<text class="c" x="244.8" y="216.25" font-size="7.2" text-anchor="end" textLength="7.2" lengthAdjust="spacingAndGlyphs">75</text>
<text class="c" x="244.8" y="194.5" font-size="7.2" text-anchor="end" textLength="10.6" lengthAdjust="spacingAndGlyphs">100</text>
<text class="c" x="249.6" y="288.9" font-size="7" text-anchor="middle" textLength="3.1" lengthAdjust="spacingAndGlyphs">0</text>
<text class="c" x="258.2" y="288.9" font-size="7" text-anchor="middle" textLength="6.3" lengthAdjust="spacingAndGlyphs">12</text>
<text class="c" x="266.8" y="288.9" font-size="7" text-anchor="middle" textLength="6.3" lengthAdjust="spacingAndGlyphs">24</text>
<text class="c" x="275.4" y="288.9" font-size="7" text-anchor="middle" textLength="6.3" lengthAdjust="spacingAndGlyphs">36</text>
<text class="c" x="284" y="288.9" font-size="7" text-anchor="middle" textLength="6.3" lengthAdjust="spacingAndGlyphs">48</text>
<text class="c" x="292.6" y="288.9" font-size="7" text-anchor="middle" textLength="6.3" lengthAdjust="spacingAndGlyphs">60</text>
<text class="c" x="301.2" y="288.9" font-size="7" text-anchor="middle" textLength="6.3" lengthAdjust="spacingAndGlyphs">72</text>
<text class="c" x="276.8" y="298.9" font-size="8.4" text-anchor="middle" textLength="38.2" lengthAdjust="spacingAndGlyphs">Time (hours)</text>
<text class="c" x="219.8" y="233.8" font-size="8.6" text-anchor="middle" textLength="47.2" lengthAdjust="spacingAndGlyphs" transform="rotate(-90 219.8 233.8)">% Live Raji cells</text>
<text class="c" x="230.3" y="233.8" font-size="8.6" text-anchor="middle" textLength="78.2" lengthAdjust="spacingAndGlyphs" transform="rotate(-90 230.3 233.8)">(normalized to Raji alone)</text>
<line x1="351.6" y1="235.5" x2="403.9" y2="235.5" stroke="#231f20" stroke-width="0.8" stroke-dasharray="2.2 1.6"/>
<path d="M351.6 192.37 L352.16 193.97 L352.96 195.56 L353.75 197.7 L354.45 199.21 L355.14 199.93 L355.91 200.12 L356.58 200.68 L357.3 200.93 L358.05 201.8 L358.78 201.52 L359.5 202.08 L360.22 202.41 L360.93 202.71 L361.65 202.84 L362.37 202.26 L363.09 202.91 L363.81 203.42 L364.53 203.76 L365.24 204.77 L365.96 204.66 L366.68 204.17 L367.4 203.86 L368.12 203.37 L368.83 202.89 L369.55 203.49 L370.27 202.29 L370.99 201.77 L371.71 201.56 L372.42 201.58 L373.14 200.74 L373.86 200.84 L374.58 199.23 L375.3 198.89 L376.01 198.89 L376.73 198.8 L377.45 197.52 L378.17 197.55 L378.89 196.69 L379.57 196.3 L380.23 196.34 L380.94 196.03 L381.76 195.34 L382.39 195.28 L383.09 195.34 L383.82 194.83 L384.58 193.82 L385.33 194.62 L386.07 194.37 L386.78 193.37 L387.5 193.69 L388.22 193.2 L388.94 193.17 L389.66 193.22 L390.38 192.18 L391.09 193.15 L391.81 192.7 L392.53 192.85 L393.25 192.11 L393.97 192.46 L394.68 192.2 L395.4 191.52 L396.12 191.99 L396.84 191.54 L397.56 190.92 L398.27 191.88 L398.99 191.74 L399.76 191.25 L400.59 190.18 L401.42 190.04 L402.18 190.24 L402.83 189.82 L403.3 189.84" stroke="#f2a33a" stroke-width="1.3" fill="none" stroke-linejoin="round"/>
<path d="M351.6 192.06 L352.16 195.02 L352.96 197.46 L353.75 200.15 L354.45 202.13 L355.14 204.11 L355.91 205.28 L356.58 207.64 L357.3 208.23 L358.05 208.11 L358.78 209.02 L359.5 209.91 L360.22 209.33 L360.93 209.88 L361.65 209.83 L362.37 210.93 L363.09 211.52 L363.81 211.63 L364.53 212.52 L365.24 212.61 L365.96 212.24 L366.68 213.55 L367.4 214.43 L368.12 214.92 L368.83 215.35 L369.55 214.97 L370.27 215.68 L370.99 215.44 L371.71 215.02 L372.42 212.96 L373.14 212.99 L373.86 212.63 L374.58 212.19 L375.3 211.54 L376.01 210.73 L376.73 209.35 L377.45 209.4 L378.17 208.89 L378.89 207.67 L379.57 207.49 L380.23 205.99 L380.94 206.8 L381.76 205.88 L382.39 205.33 L383.09 205.66 L383.82 204.7 L384.58 205.27 L385.33 205.49 L386.07 205.17 L386.78 205.65 L387.5 205.13 L388.22 205.4 L388.94 204.54 L389.66 204.63 L390.38 205.05 L391.09 205.63 L391.81 205.23 L392.53 205.14 L393.25 205.04 L393.97 204.81 L394.68 203.67 L395.4 204.34 L396.12 204.06 L396.84 202.39 L397.56 202.41 L398.27 201.34 L398.99 201.71 L399.76 200.55 L400.59 200.39 L401.42 199.7 L402.18 199.3 L402.83 199.25 L403.3 199.53" stroke="#5fb760" stroke-width="1.3" fill="none" stroke-linejoin="round"/>
<path d="M351.6 192.3 L352.16 194.45 L352.96 198.41 L353.75 202 L354.47 205.25 L355.19 207.17 L355.91 209.09 L356.63 211.25 L357.34 212.87 L358.06 214.59 L358.75 215.3 L359.45 215.71 L360.22 216.6 L360.88 216.35 L361.61 216.75 L362.35 218.11 L363.09 217.61 L363.81 218.07 L364.53 218.85 L365.24 219.94 L365.96 219.42 L366.68 220.55 L367.4 219.95 L368.12 220.46 L368.83 221.17 L369.55 221 L370.27 220.35 L370.99 220.15 L371.71 219.58 L372.42 218.86 L373.14 218.94 L373.86 218.44 L374.58 216.79 L375.3 217.09 L376.01 215.53 L376.73 215.67 L377.45 214.3 L378.17 213.65 L378.89 212.87 L379.6 212.55 L380.32 211.61 L381.04 211.83 L381.76 210.91 L382.48 210.86 L383.19 209.86 L383.88 209.55 L384.54 209.43 L385.25 208.94 L386.07 209.02 L386.7 208.73 L387.4 207.85 L388.13 207.67 L388.89 206.99 L389.64 206.97 L390.38 207.17 L391.09 206.66 L391.81 206 L392.53 206 L393.25 206.27 L393.97 205.09 L394.68 204.71 L395.4 205.04 L396.12 204.1 L396.84 203.76 L397.56 202.75 L398.27 202.57 L398.99 201.85 L399.76 200.54 L400.59 198.76 L401.42 198.3 L402.18 196.95 L402.83 195.28 L403.3 194.21" stroke="#d42a44" stroke-width="1.3" fill="none" stroke-linejoin="round"/>
<path d="M351.6 191.98 L352.16 195.45 L352.96 199.5 L353.75 203.75 L354.47 207.66 L355.19 208.61 L355.91 211.62 L356.63 213.19 L357.34 213.8 L358.06 215.61 L358.75 215.83 L359.45 217.33 L360.22 216.64 L360.88 218 L361.61 218.21 L362.35 217.85 L363.09 218.35 L363.81 218.45 L364.53 218.39 L365.24 219.18 L365.96 220.61 L366.68 220.3 L367.4 219.99 L368.12 220.02 L368.83 219.5 L369.55 219.55 L370.27 219.74 L370.99 218.97 L371.71 217.56 L372.42 217.91 L373.14 216.87 L373.86 216.1 L374.58 216.16 L375.3 215.47 L376.01 214.88 L376.73 214.65 L377.45 213.1 L378.17 213.29 L378.89 212.13 L379.6 212.67 L380.32 211.43 L381.04 211.3 L381.76 211.4 L382.48 211.49 L383.19 211.7 L383.88 210.34 L384.54 210.54 L385.25 209.6 L386.07 209.97 L386.7 209.78 L387.4 209.44 L388.13 208.15 L388.89 208.87 L389.64 207.42 L390.38 207.86 L391.09 207.05 L391.81 206.83 L392.53 205.79 L393.25 205.98 L393.97 204.88 L394.68 203.5 L395.4 204.21 L396.12 203.04 L396.84 203.15 L397.56 202.78 L398.27 202.79 L398.99 202.32 L399.76 200.3 L400.59 199.83 L401.42 199.2 L402.18 198.54 L402.83 197.77 L403.3 198.62" stroke="#1d8a57" stroke-width="1.3" fill="none" stroke-linejoin="round"/>
<path d="M351.6 191.88 L352.16 195.33 L352.96 199.89 L353.75 203.57 L354.47 206.85 L355.19 209.1 L355.91 212.54 L356.63 213.76 L357.34 215.41 L358.06 216.89 L358.75 218.52 L359.45 219.57 L360.22 221.85 L360.88 222.41 L361.61 224.7 L362.35 226.03 L363.09 227.12 L363.81 228.81 L364.53 230.76 L365.24 232.16 L365.96 233.13 L366.68 233.53 L367.4 233.61 L368.12 234.29 L368.83 235.64 L369.55 236.51 L370.27 236.91 L370.99 238.57 L371.71 239.1 L372.42 240.1 L373.14 240.13 L373.86 239.76 L374.58 239.58 L375.3 239.57 L376.01 239.66 L376.73 238.55 L377.45 238.81 L378.17 239.42 L378.89 239.58 L379.6 238.36 L380.32 238.3 L381.04 238.22 L381.76 238.4 L382.48 238.55 L383.19 238.68 L383.88 238.39 L384.54 238.44 L385.25 237.49 L386.07 237.56 L386.7 237.73 L387.4 238.63 L388.13 238.53 L388.89 238.45 L389.64 237.54 L390.38 238.58 L391.09 237.63 L391.81 237.7 L392.53 237.77 L393.25 237.05 L393.97 237.83 L394.68 237.21 L395.4 237.39 L396.12 237.09 L396.84 236.75 L397.56 235.88 L398.27 235.66 L398.99 235.24 L399.76 233.37 L400.59 233.7 L401.42 232.18 L402.18 231.8 L402.83 231.22 L403.3 230.93" stroke="#3aa9dd" stroke-width="1.3" fill="none" stroke-linejoin="round"/>
<path d="M351.6 191.37 L352.23 198.65 L353.04 207.35 L353.75 213.29 L354.47 217.83 L355.19 221.98 L355.91 225.86 L356.63 229.19 L357.34 232.5 L358.06 233.88 L358.78 236.39 L359.45 238.66 L360.22 240.31 L360.88 241 L361.63 243.73 L362.37 245.22 L363.09 246.14 L363.81 247.02 L364.53 248.79 L365.24 249.67 L365.96 250.49 L366.68 251.82 L367.4 251.28 L368.12 253.02 L368.83 252.26 L369.55 253.96 L370.27 254.54 L370.99 254.15 L371.68 254.8 L372.37 256.24 L373.14 256.31 L373.81 256.69 L374.53 256.57 L375.28 257.49 L376.01 256.8 L376.73 256.78 L377.45 257.4 L378.17 257.32 L378.89 257.51 L379.6 258.51 L380.32 258.07 L381.04 258.31 L381.76 258.87 L382.48 259.82 L383.19 259.42 L383.91 259.25 L384.63 260.13 L385.35 259.34 L386.07 258.44 L386.78 258.29 L387.5 258.76 L388.22 258.03 L388.94 258.9 L389.66 258.4 L390.38 258.76 L391.09 258.97 L391.81 257.62 L392.53 257.45 L393.25 257.47 L393.97 256.68 L394.68 256.65 L395.4 256.72 L396.12 256.72 L396.84 256.89 L397.56 256.65 L398.27 256.53 L398.99 256.34 L399.74 255.31 L400.52 255.71 L401.25 255.62 L401.86 254.34 L402.76 254.1 L403.3 253.71" stroke="#24497f" stroke-width="1.3" fill="none" stroke-linejoin="round"/>
<line x1="351.6" y1="192" x2="404.3" y2="192" stroke="#431463" stroke-width="2"/>
<line x1="351.6" y1="187" x2="351.6" y2="279.6" stroke="#231f20" stroke-width="1.3"/>
<line x1="349.1" y1="279" x2="405.4" y2="279" stroke="#231f20" stroke-width="1.3"/>
<path d="M351.6 279h-3M351.6 257.25h-3M351.6 235.5h-3M351.6 213.75h-3M351.6 192h-3M351.6 279v1.9M354.47 279v1.9M357.34 279v1.9M360.22 279v1.9M363.09 279v1.9M365.96 279v1.9M368.83 279v1.9M371.71 279v1.9M374.58 279v1.9M377.45 279v1.9M380.32 279v1.9M383.19 279v1.9M386.07 279v1.9M388.94 279v1.9M391.81 279v1.9M394.68 279v1.9M397.56 279v1.9M400.43 279v1.9M403.3 279v1.9" stroke="#231f20" stroke-width="0.9" fill="none"/>
<text class="c" x="346.8" y="281.5" font-size="7.2" text-anchor="end" textLength="3.6" lengthAdjust="spacingAndGlyphs">0</text>
<text class="c" x="346.8" y="259.75" font-size="7.2" text-anchor="end" textLength="7.2" lengthAdjust="spacingAndGlyphs">25</text>
<text class="c" x="346.8" y="238" font-size="7.2" text-anchor="end" textLength="7.2" lengthAdjust="spacingAndGlyphs">50</text>
<text class="c" x="346.8" y="216.25" font-size="7.2" text-anchor="end" textLength="7.2" lengthAdjust="spacingAndGlyphs">75</text>
<text class="c" x="346.8" y="194.5" font-size="7.2" text-anchor="end" textLength="10.6" lengthAdjust="spacingAndGlyphs">100</text>
<text class="c" x="351.6" y="288.9" font-size="7" text-anchor="middle" textLength="3.1" lengthAdjust="spacingAndGlyphs">0</text>
<text class="c" x="360.22" y="288.9" font-size="7" text-anchor="middle" textLength="6.3" lengthAdjust="spacingAndGlyphs">12</text>
<text class="c" x="368.83" y="288.9" font-size="7" text-anchor="middle" textLength="6.3" lengthAdjust="spacingAndGlyphs">24</text>
<text class="c" x="377.45" y="288.9" font-size="7" text-anchor="middle" textLength="6.3" lengthAdjust="spacingAndGlyphs">36</text>
<text class="c" x="386.07" y="288.9" font-size="7" text-anchor="middle" textLength="6.3" lengthAdjust="spacingAndGlyphs">48</text>
<text class="c" x="394.68" y="288.9" font-size="7" text-anchor="middle" textLength="6.3" lengthAdjust="spacingAndGlyphs">60</text>
<text class="c" x="403.3" y="288.9" font-size="7" text-anchor="middle" textLength="6.3" lengthAdjust="spacingAndGlyphs">72</text>
<text class="c" x="377.8" y="298.9" font-size="8.4" text-anchor="middle" textLength="38.2" lengthAdjust="spacingAndGlyphs">Time (hours)</text>
<text class="c" x="322.4" y="234.3" font-size="8.6" text-anchor="middle" textLength="59.6" lengthAdjust="spacingAndGlyphs" transform="rotate(-90 322.4 234.3)">% Live AHR-77 cells</text>
<text class="c" x="332.4" y="234.2" font-size="8.6" text-anchor="middle" textLength="89.7" lengthAdjust="spacingAndGlyphs" transform="rotate(-90 332.4 234.2)">(normalized to AHR-77 alone)</text>
<line x1="409.3" y1="193.3" x2="416.7" y2="193.3" stroke="#431463" stroke-width="1.3"/>
<circle cx="413" cy="193.3" r="1.1" fill="#431463"/>
<text x="419.8" y="195.8" font-size="7">Tumor cells alone</text>
<line x1="409.3" y1="202.3" x2="416.7" y2="202.3" stroke="#5fb760" stroke-width="1.3"/>
<text x="419.8" y="204.8" font-size="7">Non-transduced iNK cells (5:1)</text>
<line x1="409.3" y1="211.3" x2="416.7" y2="211.3" stroke="#1d8a57" stroke-width="1.3"/>
<text x="419.8" y="213.8" font-size="7">Non-transduced iNK cells (10:1)</text>
<line x1="409.3" y1="220.3" x2="416.7" y2="220.3" stroke="#3aa9dd" stroke-width="1.3"/>
<text x="419.8" y="222.8" font-size="7">iDuo NK cells (5:1)</text>
<line x1="409.3" y1="229.3" x2="416.7" y2="229.3" stroke="#24497f" stroke-width="1.3"/>
<text x="419.8" y="231.8" font-size="7">iDuo NK cells (10:1)</text>
<line x1="409.3" y1="238.3" x2="416.7" y2="238.3" stroke="#f2a33a" stroke-width="1.3"/>
<text x="419.8" y="240.8" font-size="7">o/n PBNK cells (5:1)</text>
<line x1="409.3" y1="247.3" x2="416.7" y2="247.3" stroke="#d42a44" stroke-width="1.3"/>
<text x="419.8" y="249.8" font-size="7">o/n PBNK cells (10:1)</text>
<text class="L" x="0.6" y="323.6" font-size="10.8" font-weight="bold">C</text>
<line x1="49" y1="327" x2="49" y2="415.1" stroke="#231f20" stroke-width="1.1"/>
<line x1="49" y1="414.6" x2="134.3" y2="414.6" stroke="#231f20" stroke-width="1.1"/>
<path d="M49 414.6h-3.3M49 386.77h-3.3M49 358.93h-3.3M49 331.1h-3.3M62.7 414.6v2.6M82.2 414.6v2.6M101.6 414.6v2.6M121 414.6v2.6" stroke="#231f20" stroke-width="1" fill="none"/>
<text class="c" x="43.2" y="417.3" font-size="7.9" text-anchor="end" textLength="4.4" lengthAdjust="spacingAndGlyphs">0</text>
<text class="c" x="43.2" y="389.47" font-size="7.9" text-anchor="end" textLength="9" lengthAdjust="spacingAndGlyphs">25</text>
<text class="c" x="43.2" y="361.63" font-size="7.9" text-anchor="end" textLength="9" lengthAdjust="spacingAndGlyphs">50</text>
<text class="c" x="43.2" y="333.8" font-size="7.9" text-anchor="end" textLength="9" lengthAdjust="spacingAndGlyphs">75</text>
<text class="c" x="62.7" y="427.2" font-size="8" text-anchor="middle" textLength="16.6" lengthAdjust="spacingAndGlyphs">0.3:1</text>
<text class="c" x="82.2" y="427.2" font-size="8" text-anchor="middle" textLength="10.8" lengthAdjust="spacingAndGlyphs">1:1</text>
<text class="c" x="101.6" y="427.2" font-size="8" text-anchor="middle" textLength="10.8" lengthAdjust="spacingAndGlyphs">3:1</text>
<text class="c" x="121" y="427.2" font-size="8" text-anchor="middle" textLength="14.6" lengthAdjust="spacingAndGlyphs">10:1</text>
<text class="c" x="91.6" y="441.4" font-size="8" text-anchor="middle" textLength="26.9" lengthAdjust="spacingAndGlyphs">E:T ratio</text>
<text class="c" x="16" y="371.8" font-size="8.2" text-anchor="middle" textLength="79.5" lengthAdjust="spacingAndGlyphs" transform="rotate(-90 16 371.8)">% Caspase 3/7 cleavage</text>
<text class="c" x="28" y="371.2" font-size="8.2" text-anchor="middle" textLength="43.4" lengthAdjust="spacingAndGlyphs" transform="rotate(-90 28 371.2)">AHR-77 cells</text>
<path d="M62.7 410.15 L82.2 405.69 L101.6 399.01 L121 394.56" stroke="#3fb24a" stroke-width="1.2" fill="none"/>
<path d="M62.7 394.56 L82.2 376.75 L101.6 356.71 L121 345.02" stroke="#1e4b82" stroke-width="1.2" fill="none"/>
<circle cx="62.7" cy="410.15" r="1.7" fill="#3fb24a"/>
<circle cx="82.2" cy="405.69" r="1.7" fill="#3fb24a"/>
<circle cx="101.6" cy="399.01" r="1.7" fill="#3fb24a"/>
<circle cx="121" cy="394.56" r="1.7" fill="#3fb24a"/>
<path d="M62.7 390.11V399.01M61.4 390.11h2.6M61.4 399.01h2.6" stroke="#1e4b82" stroke-width="0.8" fill="none"/>
<circle cx="62.7" cy="394.56" r="1.6" fill="#1e4b82"/>
<path d="M82.2 372.85V380.64M80.9 372.85h2.6M80.9 380.64h2.6" stroke="#1e4b82" stroke-width="0.8" fill="none"/>
<circle cx="82.2" cy="376.75" r="1.6" fill="#1e4b82"/>
<path d="M101.6 353.92V359.49M100.3 353.92h2.6M100.3 359.49h2.6" stroke="#1e4b82" stroke-width="0.8" fill="none"/>
<circle cx="101.6" cy="356.71" r="1.6" fill="#1e4b82"/>
<path d="M121 342.23V347.8M119.7 342.23h2.6M119.7 347.8h2.6" stroke="#1e4b82" stroke-width="0.8" fill="none"/>
<circle cx="121" cy="345.02" r="1.6" fill="#1e4b82"/>
<circle cx="116.01" cy="363.9" r="0.95" fill="#231f20"/>
<circle cx="119.44" cy="363.9" r="0.95" fill="#231f20"/>
<circle cx="122.87" cy="363.9" r="0.95" fill="#231f20"/>
<circle cx="126.3" cy="363.9" r="0.95" fill="#231f20"/>
<line x1="128" y1="328" x2="137" y2="328" stroke="#3fb24a" stroke-width="1.1"/>
<circle cx="132.5" cy="328" r="1.3" fill="#3fb24a"/>
<text x="139.5" y="330.7" font-size="7.8">Non-transduced iNK cells</text>
<line x1="128" y1="337.2" x2="137" y2="337.2" stroke="#1e4b82" stroke-width="1.1"/>
<circle cx="132.5" cy="337.2" r="1.3" fill="#1e4b82"/>
<text x="139.5" y="339.9" font-size="7.8">iDuo NK cells</text>
<text class="L" x="238.6" y="323.4" font-size="10.8" font-weight="bold">D</text>
<line x1="280.9" y1="327.5" x2="280.9" y2="415.3" stroke="#231f20" stroke-width="1.1"/>
<line x1="280.9" y1="414.8" x2="365" y2="414.8" stroke="#231f20" stroke-width="1.1"/>
<path d="M280.9 414.8h-3.3M280.9 387.2h-3.3M280.9 359.6h-3.3M280.9 332h-3.3M294.2 414.8v2.6M313.2 414.8v2.6M332.5 414.8v2.6M351.75 414.8v2.6" stroke="#231f20" stroke-width="1" fill="none"/>
<text class="c" x="275.1" y="417.5" font-size="7.9" text-anchor="end" textLength="4.4" lengthAdjust="spacingAndGlyphs">0</text>
<text class="c" x="275.1" y="389.9" font-size="7.9" text-anchor="end" textLength="9" lengthAdjust="spacingAndGlyphs">25</text>
<text class="c" x="275.1" y="362.3" font-size="7.9" text-anchor="end" textLength="9" lengthAdjust="spacingAndGlyphs">50</text>
<text class="c" x="275.1" y="334.7" font-size="7.9" text-anchor="end" textLength="9" lengthAdjust="spacingAndGlyphs">75</text>
<text class="c" x="294.2" y="427.4" font-size="8" text-anchor="middle" textLength="16.6" lengthAdjust="spacingAndGlyphs">0.3:1</text>
<text class="c" x="313.2" y="427.4" font-size="8" text-anchor="middle" textLength="10.8" lengthAdjust="spacingAndGlyphs">1:1</text>
<text class="c" x="332.5" y="427.4" font-size="8" text-anchor="middle" textLength="10.8" lengthAdjust="spacingAndGlyphs">3:1</text>
<text class="c" x="351.75" y="427.4" font-size="8" text-anchor="middle" textLength="14.6" lengthAdjust="spacingAndGlyphs">10:1</text>
<text class="c" x="323.1" y="441.4" font-size="8" text-anchor="middle" textLength="26.9" lengthAdjust="spacingAndGlyphs">E:T ratio</text>
<text class="c" x="250.6" y="371.8" font-size="8.2" text-anchor="middle" textLength="79.5" lengthAdjust="spacingAndGlyphs" transform="rotate(-90 250.6 371.8)">% Caspase 3/7 cleavage</text>
<text class="c" x="261.6" y="371.3" font-size="8.2" text-anchor="middle" transform="rotate(-90 261.6 371.3)" textLength="77" lengthAdjust="spacingAndGlyphs"><tspan font-style="italic">CD19</tspan> KO AHR-77 cells</text>
<path d="M294.2 408.18 L313.2 403.76 L332.5 395.48 L351.75 391.95" stroke="#5fb760" stroke-width="1.2" fill="none"/>
<circle cx="294.2" cy="408.18" r="1.6" fill="#5fb760"/>
<circle cx="313.2" cy="403.76" r="1.6" fill="#5fb760"/>
<circle cx="332.5" cy="395.48" r="1.6" fill="#5fb760"/>
<circle cx="351.75" cy="391.95" r="1.6" fill="#5fb760"/>
<path d="M294.2 405.97 L313.2 399.34 L332.5 391.62 L351.75 384.44" stroke="#1c7a4d" stroke-width="1.2" fill="none"/>
<path d="M294.2 404.86V407.07M292.9 404.86h2.6M292.9 407.07h2.6" stroke="#1c7a4d" stroke-width="0.8" fill="none"/>
<circle cx="294.2" cy="405.97" r="1.6" fill="#1c7a4d"/>
<path d="M313.2 398.24V400.45M311.9 398.24h2.6M311.9 400.45h2.6" stroke="#1c7a4d" stroke-width="0.8" fill="none"/>
<circle cx="313.2" cy="399.34" r="1.6" fill="#1c7a4d"/>
<path d="M332.5 389.96V393.27M331.2 389.96h2.6M331.2 393.27h2.6" stroke="#1c7a4d" stroke-width="0.8" fill="none"/>
<circle cx="332.5" cy="391.62" r="1.6" fill="#1c7a4d"/>
<path d="M351.75 381.13V387.75M350.45 381.13h2.6M350.45 387.75h2.6" stroke="#1c7a4d" stroke-width="0.8" fill="none"/>
<circle cx="351.75" cy="384.44" r="1.6" fill="#1c7a4d"/>
<path d="M294.2 409.83 L313.2 407.62 L332.5 404.86 L351.75 400.45" stroke="#39a7d9" stroke-width="1.2" fill="none"/>
<circle cx="294.2" cy="409.83" r="1.6" fill="#39a7d9"/>
<circle cx="313.2" cy="407.62" r="1.6" fill="#39a7d9"/>
<circle cx="332.5" cy="404.86" r="1.6" fill="#39a7d9"/>
<circle cx="351.75" cy="400.45" r="1.6" fill="#39a7d9"/>
<path d="M294.2 402.66 L313.2 392.72 L332.5 377.26 L351.75 356.29" stroke="#1e4b82" stroke-width="1.2" fill="none"/>
<path d="M294.2 401.55V403.76M292.9 401.55h2.6M292.9 403.76h2.6" stroke="#1e4b82" stroke-width="0.8" fill="none"/>
<circle cx="294.2" cy="402.66" r="1.6" fill="#1e4b82"/>
<path d="M313.2 391.62V393.82M311.9 391.62h2.6M311.9 393.82h2.6" stroke="#1e4b82" stroke-width="0.8" fill="none"/>
<circle cx="313.2" cy="392.72" r="1.6" fill="#1e4b82"/>
<path d="M332.5 376.16V378.37M331.2 376.16h2.6M331.2 378.37h2.6" stroke="#1e4b82" stroke-width="0.8" fill="none"/>
<circle cx="332.5" cy="377.26" r="1.6" fill="#1e4b82"/>
<path d="M351.75 354.08V358.5M350.45 354.08h2.6M350.45 358.5h2.6" stroke="#1e4b82" stroke-width="0.8" fill="none"/>
<circle cx="351.75" cy="356.29" r="1.6" fill="#1e4b82"/>
<line x1="361.3" y1="328.3" x2="369.5" y2="328.3" stroke="#5fb760" stroke-width="1.1"/>
<circle cx="365.4" cy="328.3" r="1.3" fill="#5fb760"/>
<text x="372" y="331" font-size="7.8">Non-transduced iNK cells</text>
<line x1="361.3" y1="336.75" x2="369.5" y2="336.75" stroke="#1c7a4d" stroke-width="1.1"/>
<circle cx="365.4" cy="336.75" r="1.3" fill="#1c7a4d"/>
<text x="372" y="339.45" font-size="7.8">Non-transduced iNK cells + rituximab</text>
<line x1="361.3" y1="345.2" x2="369.5" y2="345.2" stroke="#39a7d9" stroke-width="1.1"/>
<circle cx="365.4" cy="345.2" r="1.3" fill="#39a7d9"/>
<text x="372" y="347.9" font-size="7.8">iDuo NK cells</text>
<line x1="361.3" y1="353.65" x2="369.5" y2="353.65" stroke="#1e4b82" stroke-width="1.1"/>
<circle cx="365.4" cy="353.65" r="1.3" fill="#1e4b82"/>
<text x="372" y="356.35" font-size="7.8">iDuo NK cells + rituximab</text>
<line x1="506.4" y1="332.4" x2="506.4" y2="352.8" stroke="#231f20" stroke-width="1"/>
<circle cx="511.3" cy="342.3" r="0.95" fill="#231f20"/>
<circle cx="515" cy="342.3" r="0.95" fill="#231f20"/>
<text class="L" x="0.6" y="466" font-size="10.8" font-weight="bold">E</text>
<line x1="49.5" y1="479.5" x2="49.5" y2="554.25" stroke="#231f20" stroke-width="1.1"/>
<line x1="49.5" y1="553.75" x2="134.75" y2="553.75" stroke="#231f20" stroke-width="1.1"/>
<path d="M49.5 553.75h-3.4M49.5 536.12h-3.4M49.5 518.5h-3.4M49.5 500.88h-3.4M49.5 483.25h-3.4M68.75 553.75v2.6M88.75 553.75v2.6M108.75 553.75v2.6M128.75 553.75v2.6" stroke="#231f20" stroke-width="1" fill="none"/>
<text class="c" x="42.1" y="556.55" font-size="8" text-anchor="end" textLength="4.4" lengthAdjust="spacingAndGlyphs">0</text>
<text class="c" x="42.1" y="538.92" font-size="8" text-anchor="end" textLength="9" lengthAdjust="spacingAndGlyphs">20</text>
<text class="c" x="42.1" y="521.3" font-size="8" text-anchor="end" textLength="9" lengthAdjust="spacingAndGlyphs">40</text>
<text class="c" x="42.1" y="503.68" font-size="8" text-anchor="end" textLength="9" lengthAdjust="spacingAndGlyphs">60</text>
<text class="c" x="42.1" y="486.05" font-size="8" text-anchor="end" textLength="9" lengthAdjust="spacingAndGlyphs">80</text>
<text class="c" x="66.75" y="566.35" font-size="8" text-anchor="middle">−1</text>
<text class="c" x="88.75" y="566.35" font-size="8" text-anchor="middle">0</text>
<text class="c" x="108.75" y="566.35" font-size="8" text-anchor="middle">1</text>
<text class="c" x="128.75" y="566.35" font-size="8" text-anchor="middle">2</text>
<text class="c" x="91.25" y="579.35" font-size="8" text-anchor="middle" textLength="45" lengthAdjust="spacingAndGlyphs">log (E:T ratio)</text>
<text class="c" x="15.9" y="516.4" font-size="8.2" text-anchor="middle" textLength="81" lengthAdjust="spacingAndGlyphs" transform="rotate(-90 15.9 516.4)">% Caspase 3/7 cleavage</text>
<text class="c" x="27" y="514.8" font-size="8.2" text-anchor="middle" textLength="95.5" lengthAdjust="spacingAndGlyphs" transform="rotate(-90 27 514.8)">against wild type Nalm6 cells</text>
<path d="M57.75 553.74 L58.75 553.74 L59.75 553.74 L60.75 553.74 L61.75 553.74 L62.75 553.73 L63.75 553.73 L64.75 553.73 L65.75 553.73 L66.75 553.72 L67.75 553.72 L68.75 553.72 L69.75 553.71 L70.75 553.71 L71.75 553.7 L72.75 553.69 L73.75 553.69 L74.75 553.68 L75.75 553.67 L76.75 553.66 L77.75 553.64 L78.75 553.63 L79.75 553.61 L80.75 553.59 L81.75 553.57 L82.75 553.55 L83.75 553.52 L84.75 553.49 L85.75 553.46 L86.75 553.42 L87.75 553.37 L88.75 553.32 L89.75 553.27 L90.75 553.2 L91.75 553.13 L92.75 553.05 L93.75 552.95 L94.75 552.85 L95.75 552.73 L96.75 552.59 L97.75 552.44 L98.75 552.27 L99.75 552.07 L100.75 551.86 L101.75 551.61 L102.75 551.33 L103.75 551.03 L104.75 550.68 L105.75 550.29 L106.75 549.86 L107.75 549.38 L108.75 548.84 L109.75 548.25 L110.75 547.59 L111.75 546.87 L112.75 546.07 L113.75 545.21 L114.75 544.26 L115.75 543.23 L116.75 542.12 L117.75 540.94 L118.75 539.67" stroke="#3fb24a" stroke-width="1.1" fill="none"/>
<circle cx="58.75" cy="553.31" r="1.6" fill="#3fb24a"/>
<circle cx="68.75" cy="553.49" r="1.6" fill="#3fb24a"/>
<circle cx="78.75" cy="553.31" r="1.6" fill="#3fb24a"/>
<circle cx="88.75" cy="553.31" r="1.6" fill="#3fb24a"/>
<circle cx="98.75" cy="550.23" r="1.6" fill="#3fb24a"/>
<circle cx="108.75" cy="547.58" r="1.6" fill="#3fb24a"/>
<circle cx="118.75" cy="536.12" r="1.6" fill="#3fb24a"/>
<path d="M57.75 553.73 L58.75 553.73 L59.75 553.72 L60.75 553.72 L61.75 553.71 L62.75 553.71 L63.75 553.7 L64.75 553.7 L65.75 553.69 L66.75 553.68 L67.75 553.67 L68.75 553.65 L69.75 553.64 L70.75 553.62 L71.75 553.6 L72.75 553.58 L73.75 553.55 L74.75 553.52 L75.75 553.49 L76.75 553.45 L77.75 553.4 L78.75 553.34 L79.75 553.28 L80.75 553.21 L81.75 553.13 L82.75 553.03 L83.75 552.92 L84.75 552.79 L85.75 552.65 L86.75 552.48 L87.75 552.29 L88.75 552.07 L89.75 551.81 L90.75 551.52 L91.75 551.18 L92.75 550.8 L93.75 550.36 L94.75 549.86 L95.75 549.29 L96.75 548.64 L97.75 547.91 L98.75 547.08 L99.75 546.14 L100.75 545.08 L101.75 543.9 L102.75 542.58 L103.75 541.11 L104.75 539.49 L105.75 537.7 L106.75 535.75 L107.75 533.64 L108.75 531.36 L109.75 528.92 L110.75 526.33 L111.75 523.62 L112.75 520.79 L113.75 517.87 L114.75 514.9 L115.75 511.89 L116.75 508.88 L117.75 505.91 L118.75 502.99" stroke="#e5197f" stroke-width="1.1" fill="none"/>
<circle cx="58.75" cy="552.87" r="1.6" fill="#e5197f"/>
<circle cx="68.75" cy="552.87" r="1.6" fill="#e5197f"/>
<circle cx="78.75" cy="551.99" r="1.6" fill="#e5197f"/>
<circle cx="88.75" cy="550.23" r="1.6" fill="#e5197f"/>
<path d="M98.75 537.89V543.17M97.55 537.89h2.4M97.55 543.17h2.4" stroke="#e5197f" stroke-width="0.8" fill="none"/>
<circle cx="98.75" cy="540.53" r="1.6" fill="#e5197f"/>
<circle cx="108.75" cy="528.19" r="1.6" fill="#e5197f"/>
<path d="M118.75 499.11V504.4M117.55 499.11h2.4M117.55 504.4h2.4" stroke="#e5197f" stroke-width="0.8" fill="none"/>
<circle cx="118.75" cy="501.76" r="1.6" fill="#e5197f"/>
<path d="M57.75 553.71 L58.75 553.7 L59.75 553.69 L60.75 553.68 L61.75 553.67 L62.75 553.66 L63.75 553.64 L64.75 553.62 L65.75 553.6 L66.75 553.57 L67.75 553.54 L68.75 553.5 L69.75 553.46 L70.75 553.41 L71.75 553.35 L72.75 553.28 L73.75 553.19 L74.75 553.1 L75.75 552.99 L76.75 552.85 L77.75 552.7 L78.75 552.52 L79.75 552.31 L80.75 552.06 L81.75 551.77 L82.75 551.44 L83.75 551.05 L84.75 550.6 L85.75 550.08 L86.75 549.47 L87.75 548.78 L88.75 547.98 L89.75 547.07 L90.75 546.03 L91.75 544.85 L92.75 543.52 L93.75 542.02 L94.75 540.36 L95.75 538.53 L96.75 536.51 L97.75 534.33 L98.75 531.98 L99.75 529.49 L100.75 526.86 L101.75 524.13 L102.75 521.33 L103.75 518.5 L104.75 515.67 L105.75 512.87 L106.75 510.14 L107.75 507.51 L108.75 505.02 L109.75 502.67 L110.75 500.49 L111.75 498.47 L112.75 496.64 L113.75 494.98 L114.75 493.48 L115.75 492.15 L116.75 490.97 L117.75 489.93 L118.75 489.02" stroke="#1e4b82" stroke-width="1.1" fill="none"/>
<circle cx="58.75" cy="551.99" r="1.6" fill="#1e4b82"/>
<circle cx="68.75" cy="552.87" r="1.6" fill="#1e4b82"/>
<circle cx="78.75" cy="551.11" r="1.6" fill="#1e4b82"/>
<circle cx="88.75" cy="544.94" r="1.6" fill="#1e4b82"/>
<circle cx="98.75" cy="528.19" r="1.6" fill="#1e4b82"/>
<circle cx="108.75" cy="503.52" r="1.6" fill="#1e4b82"/>
<path d="M118.75 486.77V492.06M117.55 486.77h2.4M117.55 492.06h2.4" stroke="#1e4b82" stroke-width="0.8" fill="none"/>
<circle cx="118.75" cy="489.42" r="1.6" fill="#1e4b82"/>
<line x1="128.3" y1="487" x2="137" y2="487" stroke="#3fb24a" stroke-width="1.1"/>
<circle cx="132.6" cy="487" r="1.3" fill="#3fb24a"/>
<text x="140.6" y="489.7" font-size="7.7">Non-transduced iNK cells</text>
<line x1="128.3" y1="496.9" x2="137" y2="496.9" stroke="#e5197f" stroke-width="1.1"/>
<circle cx="132.6" cy="496.9" r="1.3" fill="#e5197f"/>
<text x="140.6" y="499.6" font-size="7.7">Anti-CD19 CAR iNK cells</text>
<line x1="128.3" y1="506.8" x2="137" y2="506.8" stroke="#1e4b82" stroke-width="1.1"/>
<circle cx="132.6" cy="506.8" r="1.3" fill="#1e4b82"/>
<text x="140.6" y="509.5" font-size="7.7">iDuo iNK cells</text>
<line x1="229.3" y1="484.9" x2="229.3" y2="495.6" stroke="#231f20" stroke-width="1"/>
<line x1="229.3" y1="497.3" x2="229.3" y2="510" stroke="#231f20" stroke-width="1"/>
<circle cx="232.2" cy="490.4" r="0.95" fill="#231f20"/>
<circle cx="235.8" cy="490.4" r="0.95" fill="#231f20"/>
<circle cx="232.2" cy="503.8" r="0.95" fill="#231f20"/>
<circle cx="235.8" cy="503.8" r="0.95" fill="#231f20"/>
<line x1="238.7" y1="486.6" x2="238.7" y2="508.3" stroke="#231f20" stroke-width="1"/>
<circle cx="242.2" cy="497.5" r="0.95" fill="#231f20"/>
<circle cx="245.8" cy="497.5" r="0.95" fill="#231f20"/>
<circle cx="249.4" cy="497.5" r="0.95" fill="#231f20"/>
<text class="L" x="268.3" y="466" font-size="10.8" font-weight="bold">F</text>
<line x1="310.75" y1="479.5" x2="310.75" y2="554" stroke="#231f20" stroke-width="1.1"/>
<line x1="310.75" y1="553.5" x2="396.99" y2="553.5" stroke="#231f20" stroke-width="1.1"/>
<path d="M310.75 553.5h-3.4M310.75 535.94h-3.4M310.75 518.38h-3.4M310.75 500.81h-3.4M310.75 483.25h-3.4M330 553.5v2.6M350.3 553.5v2.6M370.6 553.5v2.6M390.9 553.5v2.6" stroke="#231f20" stroke-width="1" fill="none"/>
<text class="c" x="303.35" y="556.3" font-size="8" text-anchor="end" textLength="4.4" lengthAdjust="spacingAndGlyphs">0</text>
<text class="c" x="303.35" y="538.74" font-size="8" text-anchor="end" textLength="9" lengthAdjust="spacingAndGlyphs">20</text>
<text class="c" x="303.35" y="521.17" font-size="8" text-anchor="end" textLength="9" lengthAdjust="spacingAndGlyphs">40</text>
<text class="c" x="303.35" y="503.61" font-size="8" text-anchor="end" textLength="9" lengthAdjust="spacingAndGlyphs">60</text>
<text class="c" x="303.35" y="486.05" font-size="8" text-anchor="end" textLength="9" lengthAdjust="spacingAndGlyphs">80</text>
<text class="c" x="328" y="566.1" font-size="8" text-anchor="middle">−1</text>
<text class="c" x="350.3" y="566.1" font-size="8" text-anchor="middle">0</text>
<text class="c" x="370.6" y="566.1" font-size="8" text-anchor="middle">1</text>
<text class="c" x="390.9" y="566.1" font-size="8" text-anchor="middle">2</text>
<text class="c" x="352.84" y="579.1" font-size="8" text-anchor="middle" textLength="45" lengthAdjust="spacingAndGlyphs">log (E:T ratio)</text>
<text class="c" x="278.3" y="516.4" font-size="8.2" text-anchor="middle" textLength="81" lengthAdjust="spacingAndGlyphs" transform="rotate(-90 278.3 516.4)">% Caspase 3/7 cleavage</text>
<text class="c" x="288.6" y="514.8" font-size="8.2" text-anchor="middle" transform="rotate(-90 288.6 514.8)" textLength="95.5" lengthAdjust="spacingAndGlyphs">against <tspan font-style="italic">CD19</tspan> KO Nalm6 cells</text>
<path d="M318.84 551.25 L319.85 551.24 L320.87 551.24 L321.88 551.23 L322.9 551.22 L323.91 551.21 L324.93 551.2 L325.94 551.18 L326.96 551.17 L327.97 551.15 L328.99 551.13 L330 551.11 L331.02 551.08 L332.03 551.05 L333.05 551.02 L334.06 550.99 L335.08 550.95 L336.09 550.9 L337.11 550.85 L338.12 550.8 L339.14 550.73 L340.15 550.66 L341.17 550.58 L342.18 550.49 L343.2 550.39 L344.21 550.28 L345.23 550.15 L346.24 550.01 L347.26 549.85 L348.27 549.67 L349.29 549.46 L350.3 549.24 L351.32 548.99 L352.33 548.7 L353.35 548.39 L354.36 548.03 L355.38 547.64 L356.39 547.2 L357.41 546.71 L358.42 546.17 L359.44 545.56 L360.45 544.89 L361.47 544.15 L362.48 543.34 L363.5 542.44 L364.51 541.45 L365.53 540.37 L366.54 539.19 L367.56 537.9 L368.57 536.5 L369.59 534.99 L370.6 533.37 L371.62 531.63 L372.63 529.78 L373.65 527.81 L374.66 525.74 L375.68 523.56 L376.69 521.29 L377.71 518.94 L378.72 516.52 L379.74 514.05 L380.75 511.54" stroke="#1e4b82" stroke-width="1.1" fill="none"/>
<path d="M317.93 549.47h3.85l-1.93 3.32z" fill="#1e4b82"/>
<path d="M328.07 550.34h3.85l-1.93 3.32z" fill="#1e4b82"/>
<path d="M338.23 548.59h3.85l-1.93 3.32z" fill="#1e4b82"/>
<path d="M348.38 548.59h3.85l-1.93 3.32z" fill="#1e4b82"/>
<path d="M358.52 545.08h3.85l-1.93 3.32z" fill="#1e4b82"/>
<path d="M368.68 531.9h3.85l-1.93 3.32z" fill="#1e4b82"/>
<path d="M380.75 508.72V513.98M379.55 508.72h2.4M379.55 513.98h2.4" stroke="#1e4b82" stroke-width="0.8" fill="none"/>
<path d="M378.82 509.95h3.85l-1.93 3.32z" fill="#1e4b82"/>
<path d="M318.84 552.61 L319.85 552.61 L320.87 552.61 L321.88 552.61 L322.9 552.61 L323.91 552.61 L324.93 552.6 L325.94 552.6 L326.96 552.6 L327.97 552.59 L328.99 552.59 L330 552.59 L331.02 552.58 L332.03 552.57 L333.05 552.57 L334.06 552.56 L335.08 552.55 L336.09 552.54 L337.11 552.53 L338.12 552.51 L339.14 552.5 L340.15 552.48 L341.17 552.46 L342.18 552.43 L343.2 552.41 L344.21 552.38 L345.23 552.34 L346.24 552.3 L347.26 552.25 L348.27 552.2 L349.29 552.13 L350.3 552.06 L351.32 551.98 L352.33 551.89 L353.35 551.78 L354.36 551.66 L355.38 551.52 L356.39 551.36 L357.41 551.18 L358.42 550.97 L359.44 550.74 L360.45 550.47 L361.47 550.16 L362.48 549.81 L363.5 549.41 L364.51 548.96 L365.53 548.45 L366.54 547.87 L367.56 547.21 L368.57 546.47 L369.59 545.64 L370.6 544.71 L371.62 543.67 L372.63 542.51 L373.65 541.22 L374.66 539.79 L375.68 538.22 L376.69 536.5 L377.71 534.62 L378.72 532.59 L379.74 530.4 L380.75 528.05" stroke="#3fb24a" stroke-width="1.1" fill="none"/>
<path d="M317.93 550.34h3.85l-1.93 3.32z" fill="#3fb24a"/>
<path d="M328.07 551.22h3.85l-1.93 3.32z" fill="#3fb24a"/>
<path d="M338.23 552.1h3.85l-1.93 3.32z" fill="#3fb24a"/>
<path d="M348.38 551.22h3.85l-1.93 3.32z" fill="#3fb24a"/>
<path d="M358.52 547.71h3.85l-1.93 3.32z" fill="#3fb24a"/>
<path d="M368.68 543.32h3.85l-1.93 3.32z" fill="#3fb24a"/>
<path d="M378.82 525.76h3.85l-1.93 3.32z" fill="#3fb24a"/>
<path d="M318.84 553.05 L319.85 553.05 L320.87 553.05 L321.88 553.05 L322.9 553.05 L323.91 553.05 L324.93 553.05 L325.94 553.04 L326.96 553.04 L327.97 553.04 L328.99 553.04 L330 553.03 L331.02 553.03 L332.03 553.02 L333.05 553.02 L334.06 553.01 L335.08 553 L336.09 552.99 L337.11 552.98 L338.12 552.97 L339.14 552.96 L340.15 552.95 L341.17 552.93 L342.18 552.91 L343.2 552.89 L344.21 552.86 L345.23 552.83 L346.24 552.8 L347.26 552.76 L348.27 552.71 L349.29 552.66 L350.3 552.6 L351.32 552.54 L352.33 552.46 L353.35 552.37 L354.36 552.27 L355.38 552.16 L356.39 552.02 L357.41 551.87 L358.42 551.7 L359.44 551.5 L360.45 551.27 L361.47 551.01 L362.48 550.72 L363.5 550.38 L364.51 550 L365.53 549.56 L366.54 549.07 L367.56 548.51 L368.57 547.88 L369.59 547.16 L370.6 546.35 L371.62 545.44 L372.63 544.43 L373.65 543.29 L374.66 542.03 L375.68 540.62 L376.69 539.08 L377.71 537.38 L378.72 535.52 L379.74 533.5 L380.75 531.33" stroke="#e5197f" stroke-width="1.1" fill="none"/>
<path d="M317.93 554.73h3.85l-1.93 3.32z" fill="#e5197f"/>
<path d="M328.07 551.22h3.85l-1.93 3.32z" fill="#e5197f"/>
<path d="M338.23 551.22h3.85l-1.93 3.32z" fill="#e5197f"/>
<path d="M348.38 552.1h3.85l-1.93 3.32z" fill="#e5197f"/>
<path d="M358.52 548.59h3.85l-1.93 3.32z" fill="#e5197f"/>
<path d="M368.68 545.08h3.85l-1.93 3.32z" fill="#e5197f"/>
<path d="M378.82 530.15h3.85l-1.93 3.32z" fill="#e5197f"/>
<line x1="390" y1="488.2" x2="398.4" y2="488.2" stroke="#3fb24a" stroke-width="1.1"/>
<path d="M392.77 487.16h2.86l-1.43 2.47z" fill="#3fb24a"/>
<text x="401.9" y="490.9" font-size="7.7">Non-transduced iNK cells</text>
<line x1="390" y1="497.65" x2="398.4" y2="497.65" stroke="#e5197f" stroke-width="1.1"/>
<path d="M392.77 496.61h2.86l-1.43 2.47z" fill="#e5197f"/>
<text x="401.9" y="500.35" font-size="7.7">Anti-CD19 CAR iNK cells</text>
<line x1="390" y1="507.1" x2="398.4" y2="507.1" stroke="#1e4b82" stroke-width="1.1"/>
<path d="M392.77 506.06h2.86l-1.43 2.47z" fill="#1e4b82"/>
<text x="401.9" y="509.8" font-size="7.7">iDuo iNK cells</text>
<line x1="490.2" y1="499.9" x2="490.2" y2="509" stroke="#231f20" stroke-width="1"/>
<circle cx="492.8" cy="503.8" r="0.95" fill="#231f20"/>
<line x1="496.7" y1="485" x2="496.7" y2="509.5" stroke="#231f20" stroke-width="1"/>
<circle cx="499.3" cy="496" r="0.95" fill="#231f20"/>
<text class="L" x="0.4" y="604" font-size="10.8" font-weight="bold">G</text>
<rect x="53.9" y="692.71" width="6.2" height="4.29" fill="#a6dea0"/>
<rect x="65.2" y="688.42" width="6" height="8.58" fill="#8db0d4"/>
<path d="M57 691.68V693.74M55.7 691.68h2.6M55.7 693.74h2.6" stroke="#34a846" stroke-width="0.8" fill="none"/>
<path d="M68.2 685.85V691M66.9 685.85h2.6M66.9 691h2.6" stroke="#1d4371" stroke-width="0.8" fill="none"/>
<circle cx="57.13" cy="693.91" r="1.35" fill="#34a846"/>
<circle cx="56.04" cy="692.88" r="1.35" fill="#34a846"/>
<circle cx="57.55" cy="691.86" r="1.35" fill="#34a846"/>
<circle cx="56.49" cy="693.23" r="1.35" fill="#34a846"/>
<circle cx="69.34" cy="685.34" r="1.35" fill="#1d4371"/>
<circle cx="67.4" cy="687.57" r="1.35" fill="#1d4371"/>
<circle cx="68.88" cy="689.8" r="1.35" fill="#1d4371"/>
<circle cx="67.33" cy="691" r="1.35" fill="#1d4371"/>
<rect x="96.5" y="692.71" width="6.2" height="4.29" fill="#a6dea0"/>
<rect x="107.9" y="671.27" width="6" height="25.73" fill="#8db0d4"/>
<path d="M99.6 691.86V693.57M98.3 691.86h2.6M98.3 693.57h2.6" stroke="#34a846" stroke-width="0.8" fill="none"/>
<path d="M110.9 665.27V677.28M109.6 665.27h2.6M109.6 677.28h2.6" stroke="#1d4371" stroke-width="0.8" fill="none"/>
<circle cx="100.81" cy="693.57" r="1.35" fill="#34a846"/>
<circle cx="100.57" cy="692.54" r="1.35" fill="#34a846"/>
<circle cx="98.58" cy="691.86" r="1.35" fill="#34a846"/>
<circle cx="111.29" cy="665.27" r="1.35" fill="#1d4371"/>
<circle cx="110.17" cy="670.42" r="1.35" fill="#1d4371"/>
<circle cx="110.93" cy="674.71" r="1.35" fill="#1d4371"/>
<circle cx="111.81" cy="672.99" r="1.35" fill="#1d4371"/>
<rect x="139.5" y="683.28" width="6.2" height="13.72" fill="#a6dea0"/>
<rect x="150.9" y="628.4" width="6" height="68.6" fill="#8db0d4"/>
<path d="M142.6 678.99V687.57M141.3 678.99h2.6M141.3 687.57h2.6" stroke="#34a846" stroke-width="0.8" fill="none"/>
<path d="M153.9 621.54V635.26M152.6 621.54h2.6M152.6 635.26h2.6" stroke="#1d4371" stroke-width="0.8" fill="none"/>
<circle cx="141.7" cy="686.71" r="1.35" fill="#34a846"/>
<circle cx="141.86" cy="683.28" r="1.35" fill="#34a846"/>
<circle cx="141.49" cy="679.85" r="1.35" fill="#34a846"/>
<circle cx="141.47" cy="684.65" r="1.35" fill="#34a846"/>
<circle cx="153.9" cy="621.54" r="1.35" fill="#1d4371"/>
<circle cx="153.02" cy="626.68" r="1.35" fill="#1d4371"/>
<circle cx="152.93" cy="630.97" r="1.35" fill="#1d4371"/>
<circle cx="154.42" cy="635.26" r="1.35" fill="#1d4371"/>
<line x1="48.3" y1="608" x2="48.3" y2="697.5" stroke="#231f20" stroke-width="1.1"/>
<line x1="48.3" y1="697" x2="158.4" y2="697" stroke="#231f20" stroke-width="1.1"/>
<path d="M48.3 697h-2.6M48.3 679.85h-2.6M48.3 662.7h-2.6M48.3 645.55h-2.6M48.3 628.4h-2.6M48.3 611.25h-2.6M62.6 697v2.6M105.25 697v2.6M148.25 697v2.6" stroke="#231f20" stroke-width="1" fill="none"/>
<text x="42" y="699.7" font-size="7.6" text-anchor="end" textLength="4.4" lengthAdjust="spacingAndGlyphs">0</text>
<text x="42" y="682.55" font-size="7.6" text-anchor="end" textLength="8.6" lengthAdjust="spacingAndGlyphs">10</text>
<text x="42" y="665.4" font-size="7.6" text-anchor="end" textLength="8.6" lengthAdjust="spacingAndGlyphs">20</text>
<text x="42" y="648.25" font-size="7.6" text-anchor="end" textLength="8.6" lengthAdjust="spacingAndGlyphs">30</text>
<text x="42" y="631.1" font-size="7.6" text-anchor="end" textLength="8.6" lengthAdjust="spacingAndGlyphs">40</text>
<text x="42" y="613.95" font-size="7.6" text-anchor="end" textLength="8.6" lengthAdjust="spacingAndGlyphs">50</text>
<line x1="99.9" y1="662.4" x2="110.9" y2="662.4" stroke="#231f20" stroke-width="1"/>
<circle cx="105.4" cy="658.5" r="0.95" fill="#231f20"/>
<line x1="142.7" y1="618.3" x2="153.9" y2="618.3" stroke="#231f20" stroke-width="1"/>
<circle cx="146.5" cy="614.4" r="0.95" fill="#231f20"/>
<circle cx="150.1" cy="614.4" r="0.95" fill="#231f20"/>
<text x="62.6" y="709.4" font-size="8" text-anchor="middle" textLength="37" lengthAdjust="spacingAndGlyphs">No targets</text>
<text x="105.55" y="709.4" font-size="8" text-anchor="middle" textLength="13.4" lengthAdjust="spacingAndGlyphs">Raji</text>
<text x="148.25" y="709.4" font-size="8" text-anchor="middle" textLength="57" lengthAdjust="spacingAndGlyphs">Raji + rituximab</text>
<text x="27.9" y="652.5" font-size="7.8" text-anchor="middle" textLength="41.5" lengthAdjust="spacingAndGlyphs" transform="rotate(-90 27.9 652.5)">CD107a (%)</text>
<circle cx="167.3" cy="617.6" r="1.2" fill="#34a846"/>
<text x="171.6" y="620.3" font-size="7.7">Non-transduced iNK cells</text>
<circle cx="167.3" cy="627.2" r="1.2" fill="#1d4371"/>
<text x="171.6" y="629.9" font-size="7.7">iDuo NK cells</text>
<text class="L" x="279.6" y="604" font-size="10.8" font-weight="bold">H</text>
<rect x="315.7" y="696" width="6.2" height="1" fill="#a6dea0"/>
<rect x="326.5" y="694.14" width="6" height="2.86" fill="#8db0d4"/>
<path d="M318.8 695.43V696.57M317.5 695.43h2.6M317.5 696.57h2.6" stroke="#34a846" stroke-width="0.8" fill="none"/>
<path d="M329.5 693.28V695M328.2 693.28h2.6M328.2 695h2.6" stroke="#1d4371" stroke-width="0.8" fill="none"/>
<circle cx="318.93" cy="696.43" r="1.35" fill="#34a846"/>
<circle cx="317.99" cy="695.57" r="1.35" fill="#34a846"/>
<circle cx="318.18" cy="695.86" r="1.35" fill="#34a846"/>
<circle cx="328.95" cy="694.71" r="1.35" fill="#1d4371"/>
<circle cx="329.73" cy="693.57" r="1.35" fill="#1d4371"/>
<circle cx="330.46" cy="694.14" r="1.35" fill="#1d4371"/>
<rect x="358.6" y="692.43" width="6.2" height="4.57" fill="#a6dea0"/>
<rect x="370" y="678.42" width="6" height="18.58" fill="#8db0d4"/>
<path d="M361.7 691V693.86M360.4 691h2.6M360.4 693.86h2.6" stroke="#34a846" stroke-width="0.8" fill="none"/>
<path d="M373 671.27V685.57M371.7 671.27h2.6M371.7 685.57h2.6" stroke="#1d4371" stroke-width="0.8" fill="none"/>
<circle cx="361.77" cy="693.57" r="1.35" fill="#34a846"/>
<circle cx="362.45" cy="691.86" r="1.35" fill="#34a846"/>
<circle cx="361.22" cy="691" r="1.35" fill="#34a846"/>
<circle cx="372.8" cy="671.27" r="1.35" fill="#1d4371"/>
<circle cx="373.63" cy="677.56" r="1.35" fill="#1d4371"/>
<circle cx="373.91" cy="679.28" r="1.35" fill="#1d4371"/>
<circle cx="372.12" cy="680.99" r="1.35" fill="#1d4371"/>
<rect x="401.2" y="687.85" width="6.2" height="9.15" fill="#a6dea0"/>
<rect x="412.6" y="634.12" width="6" height="62.88" fill="#8db0d4"/>
<path d="M404.3 685.57V690.14M403 685.57h2.6M403 690.14h2.6" stroke="#34a846" stroke-width="0.8" fill="none"/>
<path d="M415.6 622.68V645.55M414.3 622.68h2.6M414.3 645.55h2.6" stroke="#1d4371" stroke-width="0.8" fill="none"/>
<circle cx="403.78" cy="689.85" r="1.35" fill="#34a846"/>
<circle cx="403.37" cy="687" r="1.35" fill="#34a846"/>
<circle cx="403.56" cy="685.57" r="1.35" fill="#34a846"/>
<circle cx="415.97" cy="622.68" r="1.35" fill="#1d4371"/>
<circle cx="414.72" cy="632.69" r="1.35" fill="#1d4371"/>
<circle cx="416.14" cy="635.55" r="1.35" fill="#1d4371"/>
<line x1="310.5" y1="608" x2="310.5" y2="697.5" stroke="#231f20" stroke-width="1.1"/>
<line x1="310.5" y1="697" x2="420.1" y2="697" stroke="#231f20" stroke-width="1.1"/>
<path d="M310.5 697h-2.6M310.5 668.42h-2.6M310.5 639.83h-2.6M310.5 611.25h-2.6M324.15 697v2.6M367.35 697v2.6M409.95 697v2.6" stroke="#231f20" stroke-width="1" fill="none"/>
<text x="304.2" y="699.7" font-size="7.6" text-anchor="end" textLength="4.4" lengthAdjust="spacingAndGlyphs">0</text>
<text x="304.2" y="671.12" font-size="7.6" text-anchor="end" textLength="8.6" lengthAdjust="spacingAndGlyphs">10</text>
<text x="304.2" y="642.53" font-size="7.6" text-anchor="end" textLength="8.6" lengthAdjust="spacingAndGlyphs">20</text>
<text x="304.2" y="613.95" font-size="7.6" text-anchor="end" textLength="8.6" lengthAdjust="spacingAndGlyphs">30</text>
<line x1="362.5" y1="666.3" x2="373.7" y2="666.3" stroke="#231f20" stroke-width="1"/>
<circle cx="368.1" cy="662.4" r="0.95" fill="#231f20"/>
<line x1="404.6" y1="619.2" x2="414.5" y2="619.2" stroke="#231f20" stroke-width="1"/>
<circle cx="407.75" cy="615.3" r="0.95" fill="#231f20"/>
<circle cx="411.35" cy="615.3" r="0.95" fill="#231f20"/>
<text x="324.15" y="709.4" font-size="8" text-anchor="middle" textLength="37" lengthAdjust="spacingAndGlyphs">No targets</text>
<text x="367.65" y="709.4" font-size="8" text-anchor="middle" textLength="13.4" lengthAdjust="spacingAndGlyphs">Raji</text>
<text x="409.95" y="709.4" font-size="8" text-anchor="middle" textLength="57" lengthAdjust="spacingAndGlyphs">Raji + rituximab</text>
<text x="287.6" y="652.5" font-size="7.8" text-anchor="middle" textLength="30.3" lengthAdjust="spacingAndGlyphs" transform="rotate(-90 287.6 652.5)">IFN-γ (%)</text>
<circle cx="427.7" cy="617.6" r="1.2" fill="#34a846"/>
<text x="432" y="620.3" font-size="7.7">Non-transduced iNK cells</text>
<circle cx="427.7" cy="627.2" r="1.2" fill="#1d4371"/>
<text x="432" y="629.9" font-size="7.7">iDuo NK cells</text></svg>
</body></html>
